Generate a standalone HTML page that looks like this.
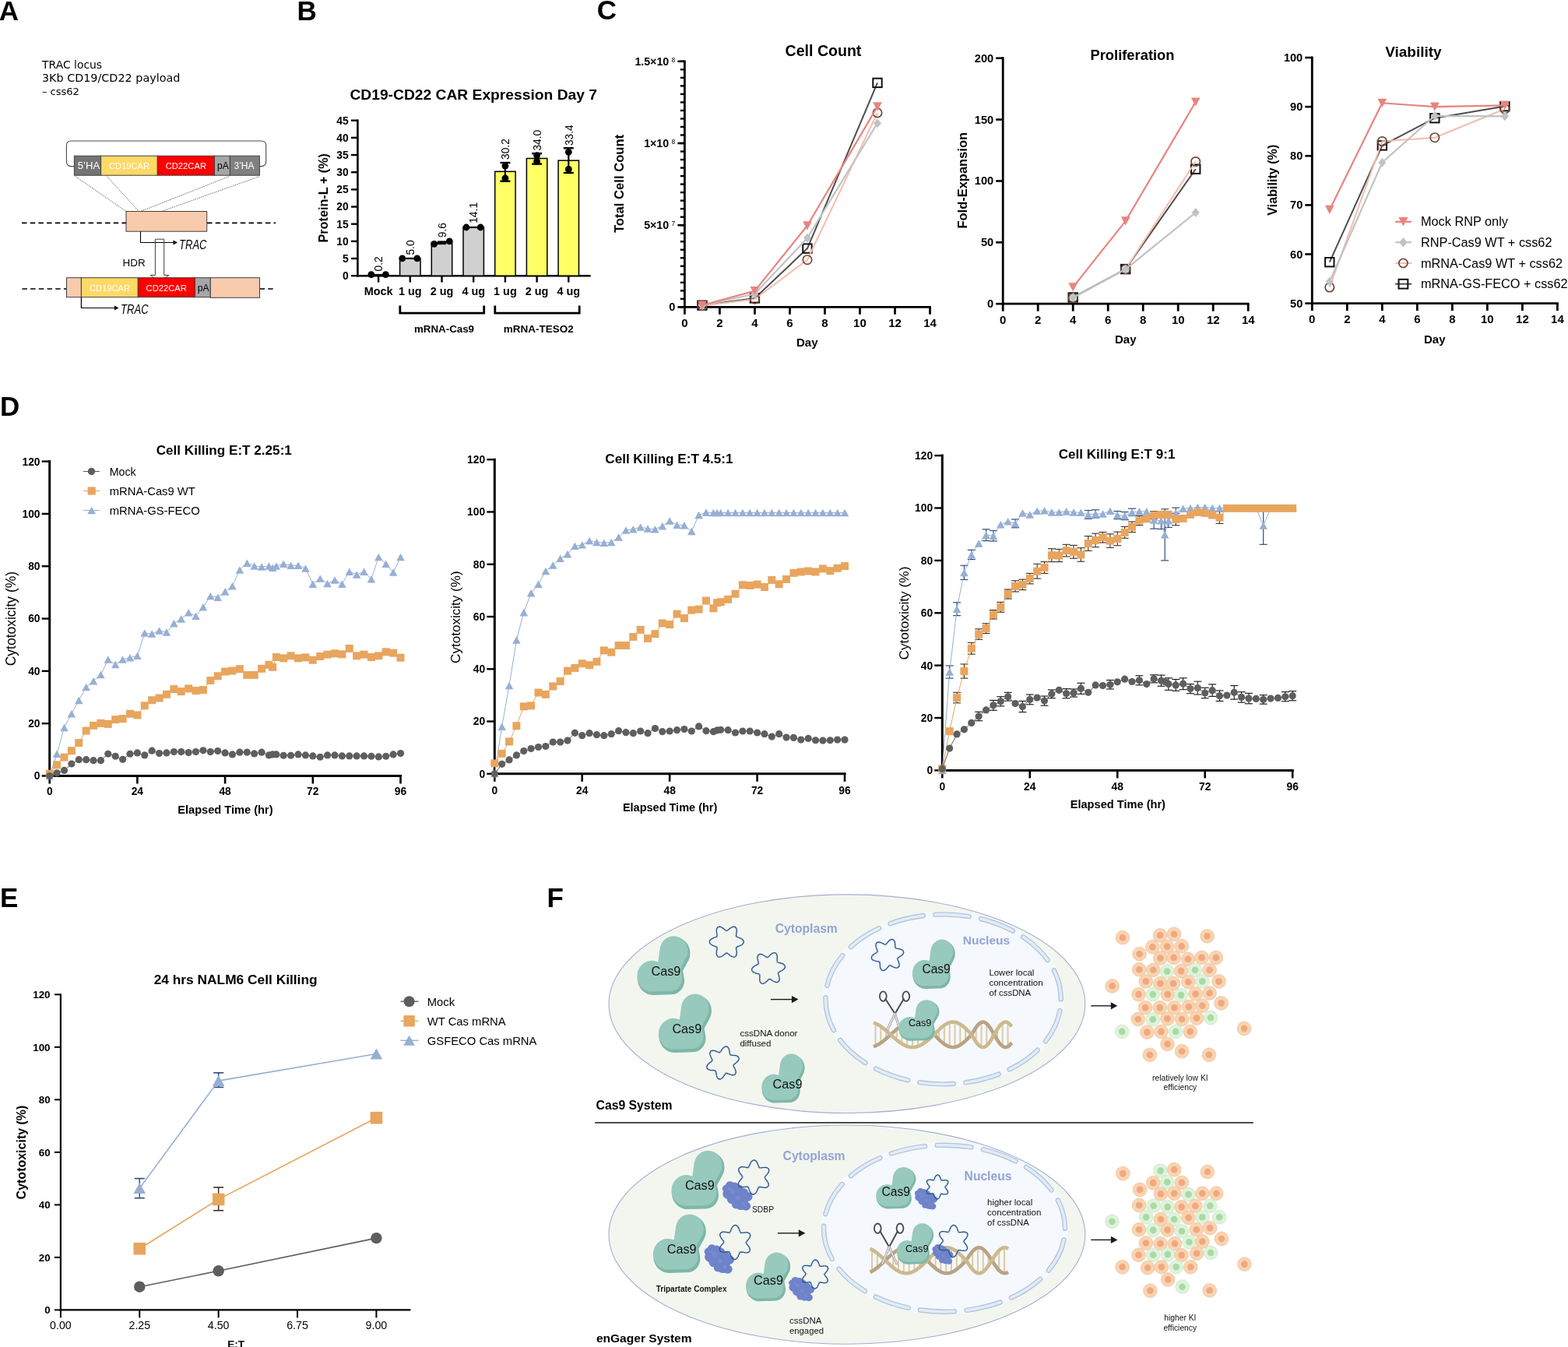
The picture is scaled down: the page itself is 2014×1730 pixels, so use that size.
<!DOCTYPE html>
<html><head><meta charset="utf-8"><title>Figure</title>
<style>html,body{margin:0;padding:0;background:#fff;} svg{display:block;}</style></head>
<body><svg width="2014" height="1730" viewBox="0 0 2014 1730" font-family="'Liberation Sans', Arial, sans-serif">
<rect x="0" y="0" width="2014" height="1730" fill="#fff"/>
<text x="-1.2" y="26.0" font-size="35.00" fill="#000" font-weight="bold" font-family="'Liberation Sans', Arial, sans-serif">A</text>
<text x="381.4" y="25.6" font-size="35.00" fill="#000" font-weight="bold" font-family="'Liberation Sans', Arial, sans-serif">B</text>
<text x="766.7" y="24.8" font-size="35.00" fill="#000" font-weight="bold" font-family="'Liberation Sans', Arial, sans-serif">C</text>
<text x="0.1" y="533.9" font-size="35.00" fill="#000" font-weight="bold" font-family="'Liberation Sans', Arial, sans-serif">D</text>
<text x="0.1" y="1164.6" font-size="35.00" fill="#000" font-weight="bold" font-family="'Liberation Sans', Arial, sans-serif">E</text>
<text x="702.5" y="1164.6" font-size="35.00" fill="#000" font-weight="bold" font-family="'Liberation Sans', Arial, sans-serif">F</text>
<text x="54.1" y="87.5" font-size="13.89" fill="#000" textLength="77.0" lengthAdjust="spacingAndGlyphs" font-family="'DejaVu Sans', 'Liberation Sans', sans-serif">TRAC locus</text>
<text x="53.9" y="104.5" font-size="14.36" fill="#000" textLength="177.5" lengthAdjust="spacingAndGlyphs" font-family="'DejaVu Sans', 'Liberation Sans', sans-serif">3Kb CD19/CD22 payload</text>
<text x="53.9" y="121.5" font-size="12.99" fill="#000" textLength="47.8" lengthAdjust="spacingAndGlyphs" font-family="'DejaVu Sans', 'Liberation Sans', sans-serif">– css62</text>
<path d="M95.4,213.6 L91.4,213.6 Q85.4,213.6 85.4,207.6 L85.4,187 Q85.4,181 91.4,181 L335.7,181 Q341.7,181 341.7,187 L341.7,207.6 Q341.7,213.6 335.7,213.6 L333.4,213.6" fill="none" stroke="#4a4a4a" stroke-width="1.1" />
<rect x="95.40" y="200.20" width="34.20" height="25.00" fill="#747474" stroke="#3f3f3f" stroke-width="1" />
<text x="99.8" y="217.2" font-size="13.09" fill="#fff" textLength="28.4" lengthAdjust="spacingAndGlyphs" font-family="'Liberation Sans', Arial, sans-serif">5’HA</text>
<rect x="129.60" y="200.20" width="72.70" height="25.00" fill="#FFD966" stroke="#3f3f3f" stroke-width="1" />
<text x="140.1" y="217.2" font-size="11.11" fill="#fff" textLength="51.9" lengthAdjust="spacingAndGlyphs" font-family="'Liberation Sans', Arial, sans-serif">CD19CAR</text>
<rect x="202.30" y="200.20" width="73.20" height="25.00" fill="#FF0000" stroke="#3f3f3f" stroke-width="1" />
<text x="212.7" y="217.2" font-size="11.20" fill="#fff" textLength="52.3" lengthAdjust="spacingAndGlyphs" font-family="'Liberation Sans', Arial, sans-serif">CD22CAR</text>
<rect x="275.50" y="200.20" width="19.90" height="25.00" fill="#A6A6A6" stroke="#3f3f3f" stroke-width="1" />
<text x="279.1" y="217.2" font-size="12.00" fill="#000" textLength="14.7" lengthAdjust="spacingAndGlyphs" font-family="'Liberation Sans', Arial, sans-serif">pA</text>
<rect x="295.40" y="200.20" width="38.00" height="25.00" fill="#808080" stroke="#3f3f3f" stroke-width="1" />
<text x="300.5" y="217.2" font-size="12.03" fill="#fff" textLength="26.1" lengthAdjust="spacingAndGlyphs" font-family="'Liberation Sans', Arial, sans-serif">3’HA</text>
<line x1="96.50" y1="226.30" x2="162.00" y2="271.50" stroke="#444" stroke-width="0.9" stroke-dasharray="1.3,1.3"/>
<line x1="137.60" y1="226.80" x2="178.50" y2="271.50" stroke="#444" stroke-width="0.9" stroke-dasharray="1.3,1.3"/>
<line x1="294.00" y1="226.80" x2="180.50" y2="271.50" stroke="#444" stroke-width="0.9" stroke-dasharray="1.3,1.3"/>
<line x1="332.70" y1="226.80" x2="207.40" y2="271.50" stroke="#444" stroke-width="0.9" stroke-dasharray="1.3,1.3"/>
<line x1="28.00" y1="286.40" x2="162.00" y2="286.40" stroke="#000" stroke-width="1.6" stroke-dasharray="6.5,4.2"/>
<line x1="266.00" y1="286.40" x2="354.00" y2="286.40" stroke="#000" stroke-width="1.6" stroke-dasharray="6.5,4.2"/>
<rect x="162.00" y="271.50" width="103.70" height="25.70" fill="#F8CBAD" stroke="#3f3f3f" stroke-width="1" />
<path d="M180.5,297.2 L180.5,311.5 L223.5,311.5" fill="none" stroke="#000" stroke-width="1.1" />
<path d="M228,311.5 L222.5,308.5 L222.5,314.5 Z" fill="#000" stroke="none" stroke-width="1" />
<text x="230.0" y="319.5" font-size="16.50" fill="#000" font-style="italic" textLength="35.5" lengthAdjust="spacingAndGlyphs" font-family="'Liberation Sans', Arial, sans-serif">TRAC</text>
<text x="157.6" y="341.5" font-size="13.49" fill="#000" textLength="29.2" lengthAdjust="spacingAndGlyphs" font-family="'Liberation Sans', Arial, sans-serif">HDR</text>
<path d="M199.4,307.2 L210.7,307.2 L210.7,353.4 L216.9,353.4 L205.1,362.5 L193.3,353.4 L199.4,353.4 Z" fill="none" stroke="#3f3f3f" stroke-width="1" />
<line x1="28.40" y1="371.00" x2="85.50" y2="371.00" stroke="#000" stroke-width="1.6" stroke-dasharray="6.5,4.2"/>
<line x1="333.50" y1="371.00" x2="354.00" y2="371.00" stroke="#000" stroke-width="1.6" stroke-dasharray="6.5,4.2"/>
<rect x="85.50" y="356.70" width="18.90" height="25.00" fill="#F8CBAD" stroke="#3f3f3f" stroke-width="1" />
<rect x="104.40" y="356.70" width="72.90" height="25.00" fill="#FFD966" stroke="#3f3f3f" stroke-width="1" />
<rect x="177.30" y="356.70" width="73.10" height="25.00" fill="#FF0000" stroke="#3f3f3f" stroke-width="1" />
<rect x="250.40" y="356.70" width="19.90" height="25.00" fill="#A6A6A6" stroke="#3f3f3f" stroke-width="1" />
<rect x="270.30" y="356.70" width="63.20" height="25.60" fill="#F8CBAD" stroke="#3f3f3f" stroke-width="1" />
<text x="114.9" y="373.6" font-size="11.20" fill="#fff" textLength="52.3" lengthAdjust="spacingAndGlyphs" font-family="'Liberation Sans', Arial, sans-serif">CD19CAR</text>
<text x="187.6" y="373.6" font-size="11.18" fill="#fff" textLength="52.2" lengthAdjust="spacingAndGlyphs" font-family="'Liberation Sans', Arial, sans-serif">CD22CAR</text>
<text x="253.8" y="373.6" font-size="12.08" fill="#000" textLength="14.8" lengthAdjust="spacingAndGlyphs" font-family="'Liberation Sans', Arial, sans-serif">pA</text>
<path d="M104.4,381.7 L104.4,395.5 L148,395.5" fill="none" stroke="#000" stroke-width="1.2" />
<path d="M152.5,395.5 L147,392.5 L147,398.5 Z" fill="#000" stroke="none" stroke-width="1" />
<text x="155.0" y="402.8" font-size="16.50" fill="#000" font-style="italic" textLength="35.7" lengthAdjust="spacingAndGlyphs" font-family="'Liberation Sans', Arial, sans-serif">TRAC</text>
<text x="449.4" y="127.9" font-size="19.24" fill="#000" font-weight="bold" textLength="317.6" lengthAdjust="spacingAndGlyphs" font-family="'Liberation Sans', Arial, sans-serif">CD19-CD22 CAR Expression Day 7</text>
<line x1="459.40" y1="153.50" x2="459.40" y2="355.40" stroke="#000" stroke-width="2.6" />
<line x1="458.20" y1="354.20" x2="758.60" y2="354.20" stroke="#000" stroke-width="2.6" />
<line x1="451.00" y1="354.20" x2="459.40" y2="354.20" stroke="#000" stroke-width="2.4" />
<text x="439.9" y="359.1" font-size="13.80" fill="#000" font-weight="bold" font-family="'Liberation Sans', Arial, sans-serif">0</text>
<line x1="451.00" y1="332.03" x2="459.40" y2="332.03" stroke="#000" stroke-width="2.4" />
<text x="439.9" y="336.9" font-size="13.80" fill="#000" font-weight="bold" font-family="'Liberation Sans', Arial, sans-serif">5</text>
<line x1="451.00" y1="309.87" x2="459.40" y2="309.87" stroke="#000" stroke-width="2.4" />
<text x="432.3" y="314.8" font-size="13.80" fill="#000" font-weight="bold" font-family="'Liberation Sans', Arial, sans-serif">10</text>
<line x1="451.00" y1="287.70" x2="459.40" y2="287.70" stroke="#000" stroke-width="2.4" />
<text x="432.3" y="292.6" font-size="13.80" fill="#000" font-weight="bold" font-family="'Liberation Sans', Arial, sans-serif">15</text>
<line x1="451.00" y1="265.53" x2="459.40" y2="265.53" stroke="#000" stroke-width="2.4" />
<text x="432.3" y="270.4" font-size="13.80" fill="#000" font-weight="bold" font-family="'Liberation Sans', Arial, sans-serif">20</text>
<line x1="451.00" y1="243.37" x2="459.40" y2="243.37" stroke="#000" stroke-width="2.4" />
<text x="432.3" y="248.3" font-size="13.80" fill="#000" font-weight="bold" font-family="'Liberation Sans', Arial, sans-serif">25</text>
<line x1="451.00" y1="221.20" x2="459.40" y2="221.20" stroke="#000" stroke-width="2.4" />
<text x="432.3" y="226.1" font-size="13.80" fill="#000" font-weight="bold" font-family="'Liberation Sans', Arial, sans-serif">30</text>
<line x1="451.00" y1="199.03" x2="459.40" y2="199.03" stroke="#000" stroke-width="2.4" />
<text x="432.3" y="203.9" font-size="13.80" fill="#000" font-weight="bold" font-family="'Liberation Sans', Arial, sans-serif">35</text>
<line x1="451.00" y1="176.87" x2="459.40" y2="176.87" stroke="#000" stroke-width="2.4" />
<text x="432.3" y="181.8" font-size="13.80" fill="#000" font-weight="bold" font-family="'Liberation Sans', Arial, sans-serif">40</text>
<line x1="451.00" y1="154.70" x2="459.40" y2="154.70" stroke="#000" stroke-width="2.4" />
<text x="432.3" y="159.6" font-size="13.80" fill="#000" font-weight="bold" font-family="'Liberation Sans', Arial, sans-serif">45</text>
<line x1="486.10" y1="354.20" x2="486.10" y2="362.60" stroke="#000" stroke-width="2.4" />
<rect x="513.60" y="332.03" width="26.40" height="22.17" fill="#D0D0D0" stroke="#000" stroke-width="1.5" />
<line x1="526.80" y1="354.20" x2="526.80" y2="362.60" stroke="#000" stroke-width="2.4" />
<rect x="554.30" y="311.64" width="26.40" height="42.56" fill="#D0D0D0" stroke="#000" stroke-width="1.5" />
<line x1="567.50" y1="354.20" x2="567.50" y2="362.60" stroke="#000" stroke-width="2.4" />
<rect x="595.00" y="291.69" width="26.40" height="62.51" fill="#D0D0D0" stroke="#000" stroke-width="1.5" />
<line x1="608.20" y1="354.20" x2="608.20" y2="362.60" stroke="#000" stroke-width="2.4" />
<rect x="635.70" y="220.31" width="26.40" height="133.89" fill="#FFFF66" stroke="#000" stroke-width="1.5" />
<line x1="648.90" y1="354.20" x2="648.90" y2="362.60" stroke="#000" stroke-width="2.4" />
<rect x="676.40" y="203.47" width="26.40" height="150.73" fill="#FFFF66" stroke="#000" stroke-width="1.5" />
<line x1="689.60" y1="354.20" x2="689.60" y2="362.60" stroke="#000" stroke-width="2.4" />
<rect x="717.10" y="206.13" width="26.40" height="148.07" fill="#FFFF66" stroke="#000" stroke-width="1.5" />
<line x1="730.30" y1="354.20" x2="730.30" y2="362.60" stroke="#000" stroke-width="2.4" />
<line x1="477.00" y1="353.00" x2="495.40" y2="353.00" stroke="#000" stroke-width="2.2" />
<circle cx="476.80" cy="352.60" r="4.40" fill="#000" stroke="none" stroke-width="1" />
<circle cx="495.40" cy="352.60" r="4.40" fill="#000" stroke="none" stroke-width="1" />
<line x1="516.70" y1="331.90" x2="535.80" y2="331.90" stroke="#000" stroke-width="2.2" />
<circle cx="516.70" cy="331.90" r="4.40" fill="#000" stroke="none" stroke-width="1" />
<circle cx="535.80" cy="331.90" r="4.40" fill="#000" stroke="none" stroke-width="1" />
<line x1="562.00" y1="310.50" x2="573.00" y2="310.50" stroke="#000" stroke-width="2.2" />
<line x1="562.00" y1="313.00" x2="573.00" y2="313.00" stroke="#000" stroke-width="2.2" />
<circle cx="557.70" cy="313.30" r="4.40" fill="#000" stroke="none" stroke-width="1" />
<circle cx="577.30" cy="309.80" r="4.40" fill="#000" stroke="none" stroke-width="1" />
<line x1="598.90" y1="292.00" x2="617.20" y2="292.00" stroke="#000" stroke-width="2.2" />
<circle cx="598.90" cy="292.00" r="4.40" fill="#000" stroke="none" stroke-width="1" />
<circle cx="617.20" cy="292.00" r="4.40" fill="#000" stroke="none" stroke-width="1" />
<line x1="648.90" y1="209.00" x2="648.90" y2="232.70" stroke="#000" stroke-width="2.2" />
<line x1="642.40" y1="209.00" x2="655.40" y2="209.00" stroke="#000" stroke-width="2.4" />
<line x1="642.40" y1="232.70" x2="655.40" y2="232.70" stroke="#000" stroke-width="2.4" />
<circle cx="648.90" cy="213.10" r="4.40" fill="#000" stroke="none" stroke-width="1" />
<circle cx="648.90" cy="228.90" r="4.40" fill="#000" stroke="none" stroke-width="1" />
<line x1="689.60" y1="197.10" x2="689.60" y2="210.60" stroke="#000" stroke-width="2.2" />
<line x1="683.10" y1="197.10" x2="696.10" y2="197.10" stroke="#000" stroke-width="2.4" />
<line x1="683.10" y1="210.60" x2="696.10" y2="210.60" stroke="#000" stroke-width="2.4" />
<circle cx="689.60" cy="199.60" r="4.40" fill="#000" stroke="none" stroke-width="1" />
<circle cx="689.60" cy="207.30" r="4.40" fill="#000" stroke="none" stroke-width="1" />
<line x1="730.30" y1="190.20" x2="730.30" y2="222.00" stroke="#000" stroke-width="2.2" />
<line x1="723.80" y1="190.20" x2="736.80" y2="190.20" stroke="#000" stroke-width="2.4" />
<line x1="723.80" y1="222.00" x2="736.80" y2="222.00" stroke="#000" stroke-width="2.4" />
<circle cx="730.30" cy="195.30" r="4.40" fill="#000" stroke="none" stroke-width="1" />
<circle cx="730.30" cy="217.40" r="4.40" fill="#000" stroke="none" stroke-width="1" />
<text x="491.3" y="348.5" font-size="13.80" fill="#000" transform="rotate(-90 491.3 348.5)" font-family="'Liberation Sans', Arial, sans-serif">0.2</text>
<text x="531.9" y="327.6" font-size="13.80" fill="#000" transform="rotate(-90 531.9 327.6)" font-family="'Liberation Sans', Arial, sans-serif">5.0</text>
<text x="573.0" y="305.2" font-size="13.80" fill="#000" transform="rotate(-90 573.0 305.2)" font-family="'Liberation Sans', Arial, sans-serif">9.6</text>
<text x="612.8" y="286.8" font-size="13.80" fill="#000" transform="rotate(-90 612.8 286.8)" font-family="'Liberation Sans', Arial, sans-serif">14.1</text>
<text x="654.2" y="204.9" font-size="13.80" fill="#000" transform="rotate(-90 654.2 204.9)" font-family="'Liberation Sans', Arial, sans-serif">30.2</text>
<text x="695.0" y="193.6" font-size="13.80" fill="#000" transform="rotate(-90 695.0 193.6)" font-family="'Liberation Sans', Arial, sans-serif">34.0</text>
<text x="735.7" y="187.1" font-size="13.80" fill="#000" transform="rotate(-90 735.7 187.1)" font-family="'Liberation Sans', Arial, sans-serif">33.4</text>
<text x="467.7" y="379.0" font-size="14.40" fill="#000" font-weight="bold" font-family="'Liberation Sans', Arial, sans-serif">Mock</text>
<text x="512.0" y="379.0" font-size="14.40" fill="#000" font-weight="bold" font-family="'Liberation Sans', Arial, sans-serif">1 ug</text>
<text x="552.7" y="379.0" font-size="14.40" fill="#000" font-weight="bold" font-family="'Liberation Sans', Arial, sans-serif">2 ug</text>
<text x="593.4" y="379.0" font-size="14.40" fill="#000" font-weight="bold" font-family="'Liberation Sans', Arial, sans-serif">4 ug</text>
<text x="634.1" y="379.0" font-size="14.40" fill="#000" font-weight="bold" font-family="'Liberation Sans', Arial, sans-serif">1 ug</text>
<text x="674.8" y="379.0" font-size="14.40" fill="#000" font-weight="bold" font-family="'Liberation Sans', Arial, sans-serif">2 ug</text>
<text x="715.5" y="379.0" font-size="14.40" fill="#000" font-weight="bold" font-family="'Liberation Sans', Arial, sans-serif">4 ug</text>
<path d="M513.8,392.4 L513.8,402.2 L621.7,402.2 L621.7,392.4" fill="none" stroke="#000" stroke-width="2.8" />
<path d="M635.8,392.4 L635.8,402.2 L744.2,402.2 L744.2,392.4" fill="none" stroke="#000" stroke-width="2.8" />
<text x="532.0" y="427.3" font-size="13.32" fill="#000" font-weight="bold" textLength="77.0" lengthAdjust="spacingAndGlyphs" font-family="'Liberation Sans', Arial, sans-serif">mRNA-Cas9</text>
<text x="646.7" y="427.3" font-size="13.49" fill="#000" font-weight="bold" textLength="90.0" lengthAdjust="spacingAndGlyphs" font-family="'Liberation Sans', Arial, sans-serif">mRNA-TESO2</text>
<text x="421.0" y="311.5" font-size="16.21" fill="#000" font-weight="bold" font-family="'Liberation Sans', Arial, sans-serif" textLength="114.5" lengthAdjust="spacingAndGlyphs" transform="rotate(-90 421.0 311.5)" >Protein-L + (%)</text>
<line x1="879.40" y1="77.40" x2="879.40" y2="395.80" stroke="#000" stroke-width="2.8" />
<line x1="878.00" y1="394.40" x2="1195.90" y2="394.40" stroke="#000" stroke-width="2.8" />
<line x1="879.40" y1="394.40" x2="879.40" y2="403.80" stroke="#000" stroke-width="2.8" />
<text x="875.2" y="419.9" font-size="15.00" fill="#000" font-weight="bold" font-family="'Liberation Sans', Arial, sans-serif">0</text>
<line x1="924.41" y1="394.40" x2="924.41" y2="403.80" stroke="#000" stroke-width="2.8" />
<text x="920.3" y="419.9" font-size="15.00" fill="#000" font-weight="bold" font-family="'Liberation Sans', Arial, sans-serif">2</text>
<line x1="969.43" y1="394.40" x2="969.43" y2="403.80" stroke="#000" stroke-width="2.8" />
<text x="965.3" y="419.9" font-size="15.00" fill="#000" font-weight="bold" font-family="'Liberation Sans', Arial, sans-serif">4</text>
<line x1="1014.44" y1="394.40" x2="1014.44" y2="403.80" stroke="#000" stroke-width="2.8" />
<text x="1010.3" y="419.9" font-size="15.00" fill="#000" font-weight="bold" font-family="'Liberation Sans', Arial, sans-serif">6</text>
<line x1="1059.46" y1="394.40" x2="1059.46" y2="403.80" stroke="#000" stroke-width="2.8" />
<text x="1055.3" y="419.9" font-size="15.00" fill="#000" font-weight="bold" font-family="'Liberation Sans', Arial, sans-serif">8</text>
<line x1="1104.47" y1="394.40" x2="1104.47" y2="403.80" stroke="#000" stroke-width="2.8" />
<text x="1096.1" y="419.9" font-size="15.00" fill="#000" font-weight="bold" font-family="'Liberation Sans', Arial, sans-serif">10</text>
<line x1="1149.49" y1="394.40" x2="1149.49" y2="403.80" stroke="#000" stroke-width="2.8" />
<text x="1141.2" y="419.9" font-size="15.00" fill="#000" font-weight="bold" font-family="'Liberation Sans', Arial, sans-serif">12</text>
<line x1="1194.50" y1="394.40" x2="1194.50" y2="403.80" stroke="#000" stroke-width="2.8" />
<text x="1186.2" y="419.9" font-size="15.00" fill="#000" font-weight="bold" font-family="'Liberation Sans', Arial, sans-serif">14</text>
<line x1="873.80" y1="394.40" x2="879.40" y2="394.40" stroke="#000" stroke-width="2.4" />
<line x1="873.80" y1="383.88" x2="879.40" y2="383.88" stroke="#000" stroke-width="2.4" />
<line x1="873.80" y1="373.36" x2="879.40" y2="373.36" stroke="#000" stroke-width="2.4" />
<line x1="873.80" y1="362.84" x2="879.40" y2="362.84" stroke="#000" stroke-width="2.4" />
<line x1="873.80" y1="352.32" x2="879.40" y2="352.32" stroke="#000" stroke-width="2.4" />
<line x1="873.80" y1="341.80" x2="879.40" y2="341.80" stroke="#000" stroke-width="2.4" />
<line x1="873.80" y1="331.28" x2="879.40" y2="331.28" stroke="#000" stroke-width="2.4" />
<line x1="873.80" y1="320.76" x2="879.40" y2="320.76" stroke="#000" stroke-width="2.4" />
<line x1="873.80" y1="310.24" x2="879.40" y2="310.24" stroke="#000" stroke-width="2.4" />
<line x1="873.80" y1="299.72" x2="879.40" y2="299.72" stroke="#000" stroke-width="2.4" />
<line x1="873.80" y1="289.20" x2="879.40" y2="289.20" stroke="#000" stroke-width="2.4" />
<line x1="873.80" y1="278.68" x2="879.40" y2="278.68" stroke="#000" stroke-width="2.4" />
<line x1="873.80" y1="268.16" x2="879.40" y2="268.16" stroke="#000" stroke-width="2.4" />
<line x1="873.80" y1="257.64" x2="879.40" y2="257.64" stroke="#000" stroke-width="2.4" />
<line x1="873.80" y1="247.12" x2="879.40" y2="247.12" stroke="#000" stroke-width="2.4" />
<line x1="873.80" y1="236.60" x2="879.40" y2="236.60" stroke="#000" stroke-width="2.4" />
<line x1="873.80" y1="226.08" x2="879.40" y2="226.08" stroke="#000" stroke-width="2.4" />
<line x1="873.80" y1="215.56" x2="879.40" y2="215.56" stroke="#000" stroke-width="2.4" />
<line x1="873.80" y1="205.04" x2="879.40" y2="205.04" stroke="#000" stroke-width="2.4" />
<line x1="873.80" y1="194.52" x2="879.40" y2="194.52" stroke="#000" stroke-width="2.4" />
<line x1="873.80" y1="184.00" x2="879.40" y2="184.00" stroke="#000" stroke-width="2.4" />
<line x1="873.80" y1="173.48" x2="879.40" y2="173.48" stroke="#000" stroke-width="2.4" />
<line x1="873.80" y1="162.96" x2="879.40" y2="162.96" stroke="#000" stroke-width="2.4" />
<line x1="873.80" y1="152.44" x2="879.40" y2="152.44" stroke="#000" stroke-width="2.4" />
<line x1="873.80" y1="141.92" x2="879.40" y2="141.92" stroke="#000" stroke-width="2.4" />
<line x1="873.80" y1="131.40" x2="879.40" y2="131.40" stroke="#000" stroke-width="2.4" />
<line x1="873.80" y1="120.88" x2="879.40" y2="120.88" stroke="#000" stroke-width="2.4" />
<line x1="873.80" y1="110.36" x2="879.40" y2="110.36" stroke="#000" stroke-width="2.4" />
<line x1="873.80" y1="99.84" x2="879.40" y2="99.84" stroke="#000" stroke-width="2.4" />
<line x1="873.80" y1="89.32" x2="879.40" y2="89.32" stroke="#000" stroke-width="2.4" />
<line x1="873.80" y1="78.80" x2="879.40" y2="78.80" stroke="#000" stroke-width="2.4" />
<line x1="870.40" y1="394.40" x2="879.40" y2="394.40" stroke="#000" stroke-width="2.6" />
<text x="859.3" y="399.4" font-size="14.60" fill="#000" font-weight="bold" font-family="'Liberation Sans', Arial, sans-serif">0</text>
<line x1="870.40" y1="289.20" x2="879.40" y2="289.20" stroke="#000" stroke-width="2.6" />
<line x1="870.40" y1="184.00" x2="879.40" y2="184.00" stroke="#000" stroke-width="2.6" />
<line x1="870.40" y1="78.80" x2="879.40" y2="78.80" stroke="#000" stroke-width="2.6" />
<text x="815.4" y="83.8" font-size="14.20" fill="#000" font-weight="bold" font-family="'Liberation Sans', Arial, sans-serif">1.5×10</text>
<text x="862.6" y="79.7" font-size="8.60" fill="#000" font-family="'Liberation Sans', Arial, sans-serif">8</text>
<text x="827.2" y="189.0" font-size="14.20" fill="#000" font-weight="bold" font-family="'Liberation Sans', Arial, sans-serif">1×10</text>
<text x="862.6" y="184.9" font-size="8.60" fill="#000" font-family="'Liberation Sans', Arial, sans-serif">8</text>
<text x="827.2" y="294.2" font-size="14.20" fill="#000" font-weight="bold" font-family="'Liberation Sans', Arial, sans-serif">5×10</text>
<text x="862.6" y="290.1" font-size="8.60" fill="#000" font-family="'Liberation Sans', Arial, sans-serif">7</text>
<text x="1008.6" y="71.8" font-size="19.56" fill="#000" font-weight="bold" textLength="97.8" lengthAdjust="spacingAndGlyphs" font-family="'Liberation Sans', Arial, sans-serif">Cell Count</text>
<text x="801.5" y="299.1" font-size="16.64" fill="#000" font-weight="bold" font-family="'Liberation Sans', Arial, sans-serif" textLength="126.3" lengthAdjust="spacingAndGlyphs" transform="rotate(-90 801.5 299.1)" >Total Cell Count</text>
<text x="1023.0" y="445.4" font-size="14.99" fill="#000" font-weight="bold" textLength="27.5" lengthAdjust="spacingAndGlyphs" font-family="'Liberation Sans', Arial, sans-serif">Day</text>
<polyline points="901.91,392.20 969.43,382.90 1036.95,319.10 1126.98,106.40" fill="none" stroke="#4d4d4d" stroke-width="2.0" stroke-linejoin="round" />
<rect x="896.21" y="386.50" width="11.40" height="11.40" fill="none" stroke="#111" stroke-width="2.0" />
<rect x="963.73" y="377.20" width="11.40" height="11.40" fill="none" stroke="#111" stroke-width="2.0" />
<rect x="1031.25" y="313.40" width="11.40" height="11.40" fill="none" stroke="#111" stroke-width="2.0" />
<rect x="1121.28" y="100.70" width="11.40" height="11.40" fill="none" stroke="#111" stroke-width="2.0" />
<polyline points="901.91,392.80 969.43,384.20 1036.95,333.70 1126.98,144.90" fill="none" stroke="#F5BDAB" stroke-width="2.0" stroke-linejoin="round" />
<circle cx="901.91" cy="392.80" r="5.70" fill="none" stroke="#70493A" stroke-width="1.7" />
<circle cx="969.43" cy="384.20" r="5.70" fill="none" stroke="#70493A" stroke-width="1.7" />
<circle cx="1036.95" cy="333.70" r="5.70" fill="none" stroke="#70493A" stroke-width="1.7" />
<circle cx="1126.98" cy="144.90" r="5.70" fill="none" stroke="#70493A" stroke-width="1.7" />
<polyline points="901.91,392.40 969.43,377.50 1036.95,305.80 1126.98,158.20" fill="none" stroke="#BFC3C6" stroke-width="2.2" stroke-linejoin="round" />
<path d="M901.91,386.40 L906.95,392.40 L901.91,398.40 L896.87,392.40 Z" fill="#BFC3C6" stroke="none" stroke-width="1" />
<path d="M969.43,371.50 L974.47,377.50 L969.43,383.50 L964.39,377.50 Z" fill="#BFC3C6" stroke="none" stroke-width="1" />
<path d="M1036.95,299.80 L1041.99,305.80 L1036.95,311.80 L1031.91,305.80 Z" fill="#BFC3C6" stroke="none" stroke-width="1" />
<path d="M1126.98,152.20 L1132.02,158.20 L1126.98,164.20 L1121.94,158.20 Z" fill="#BFC3C6" stroke="none" stroke-width="1" />
<polyline points="901.91,392.00 969.43,373.60 1036.95,289.80 1126.98,136.90" fill="none" stroke="#E8847E" stroke-width="2.2" stroke-linejoin="round" />
<path d="M896.01,386.39 L907.81,386.39 L901.91,397.61 Z" fill="#E8847E" stroke="none" stroke-width="1" />
<path d="M963.53,368.00 L975.33,368.00 L969.43,379.21 Z" fill="#E8847E" stroke="none" stroke-width="1" />
<path d="M1031.05,284.19 L1042.85,284.19 L1036.95,295.41 Z" fill="#E8847E" stroke="none" stroke-width="1" />
<path d="M1121.08,131.30 L1132.88,131.30 L1126.98,142.50 Z" fill="#E8847E" stroke="none" stroke-width="1" />
<line x1="1288.20" y1="73.30" x2="1288.20" y2="391.60" stroke="#000" stroke-width="2.8" />
<line x1="1286.80" y1="390.20" x2="1604.60" y2="390.20" stroke="#000" stroke-width="2.8" />
<line x1="1288.20" y1="390.20" x2="1288.20" y2="399.70" stroke="#000" stroke-width="2.8" />
<text x="1284.0" y="415.6" font-size="15.00" fill="#000" font-weight="bold" font-family="'Liberation Sans', Arial, sans-serif">0</text>
<line x1="1333.20" y1="390.20" x2="1333.20" y2="399.70" stroke="#000" stroke-width="2.8" />
<text x="1329.0" y="415.6" font-size="15.00" fill="#000" font-weight="bold" font-family="'Liberation Sans', Arial, sans-serif">2</text>
<line x1="1378.20" y1="390.20" x2="1378.20" y2="399.70" stroke="#000" stroke-width="2.8" />
<text x="1374.0" y="415.6" font-size="15.00" fill="#000" font-weight="bold" font-family="'Liberation Sans', Arial, sans-serif">4</text>
<line x1="1423.20" y1="390.20" x2="1423.20" y2="399.70" stroke="#000" stroke-width="2.8" />
<text x="1419.0" y="415.6" font-size="15.00" fill="#000" font-weight="bold" font-family="'Liberation Sans', Arial, sans-serif">6</text>
<line x1="1468.20" y1="390.20" x2="1468.20" y2="399.70" stroke="#000" stroke-width="2.8" />
<text x="1464.0" y="415.6" font-size="15.00" fill="#000" font-weight="bold" font-family="'Liberation Sans', Arial, sans-serif">8</text>
<line x1="1513.20" y1="390.20" x2="1513.20" y2="399.70" stroke="#000" stroke-width="2.8" />
<text x="1504.9" y="415.6" font-size="15.00" fill="#000" font-weight="bold" font-family="'Liberation Sans', Arial, sans-serif">10</text>
<line x1="1558.20" y1="390.20" x2="1558.20" y2="399.70" stroke="#000" stroke-width="2.8" />
<text x="1549.9" y="415.6" font-size="15.00" fill="#000" font-weight="bold" font-family="'Liberation Sans', Arial, sans-serif">12</text>
<line x1="1603.20" y1="390.20" x2="1603.20" y2="399.70" stroke="#000" stroke-width="2.8" />
<text x="1594.9" y="415.6" font-size="15.00" fill="#000" font-weight="bold" font-family="'Liberation Sans', Arial, sans-serif">14</text>
<line x1="1279.20" y1="390.20" x2="1288.20" y2="390.20" stroke="#000" stroke-width="2.6" />
<text x="1268.1" y="395.2" font-size="14.60" fill="#000" font-weight="bold" font-family="'Liberation Sans', Arial, sans-serif">0</text>
<line x1="1279.20" y1="311.32" x2="1288.20" y2="311.32" stroke="#000" stroke-width="2.6" />
<text x="1260.0" y="316.3" font-size="14.60" fill="#000" font-weight="bold" font-family="'Liberation Sans', Arial, sans-serif">50</text>
<line x1="1279.20" y1="232.45" x2="1288.20" y2="232.45" stroke="#000" stroke-width="2.6" />
<text x="1251.8" y="237.4" font-size="14.60" fill="#000" font-weight="bold" font-family="'Liberation Sans', Arial, sans-serif">100</text>
<line x1="1279.20" y1="153.57" x2="1288.20" y2="153.57" stroke="#000" stroke-width="2.6" />
<text x="1251.8" y="158.6" font-size="14.60" fill="#000" font-weight="bold" font-family="'Liberation Sans', Arial, sans-serif">150</text>
<line x1="1279.20" y1="74.70" x2="1288.20" y2="74.70" stroke="#000" stroke-width="2.6" />
<text x="1251.8" y="79.7" font-size="14.60" fill="#000" font-weight="bold" font-family="'Liberation Sans', Arial, sans-serif">200</text>
<text x="1400.5" y="76.9" font-size="18.34" fill="#000" font-weight="bold" textLength="108.0" lengthAdjust="spacingAndGlyphs" font-family="'Liberation Sans', Arial, sans-serif">Proliferation</text>
<text x="1242.5" y="293.6" font-size="16.49" fill="#000" font-weight="bold" font-family="'Liberation Sans', Arial, sans-serif" textLength="123.7" lengthAdjust="spacingAndGlyphs" transform="rotate(-90 1242.5 293.6)" >Fold-Expansion</text>
<text x="1432.0" y="440.5" font-size="14.99" fill="#000" font-weight="bold" textLength="27.5" lengthAdjust="spacingAndGlyphs" font-family="'Liberation Sans', Arial, sans-serif">Day</text>
<polyline points="1378.20,382.00 1445.70,345.60 1535.70,217.20" fill="none" stroke="#4d4d4d" stroke-width="2.0" stroke-linejoin="round" />
<rect x="1372.50" y="376.30" width="11.40" height="11.40" fill="none" stroke="#111" stroke-width="2.0" />
<rect x="1440.00" y="339.90" width="11.40" height="11.40" fill="none" stroke="#111" stroke-width="2.0" />
<rect x="1530.00" y="211.50" width="11.40" height="11.40" fill="none" stroke="#111" stroke-width="2.0" />
<polyline points="1378.20,382.60 1445.70,345.80 1535.70,207.50" fill="none" stroke="#F5BDAB" stroke-width="2.0" stroke-linejoin="round" />
<circle cx="1378.20" cy="382.60" r="5.70" fill="none" stroke="#70493A" stroke-width="1.7" />
<circle cx="1445.70" cy="345.80" r="5.70" fill="none" stroke="#70493A" stroke-width="1.7" />
<circle cx="1535.70" cy="207.50" r="5.70" fill="none" stroke="#70493A" stroke-width="1.7" />
<polyline points="1378.20,382.20 1445.70,345.80 1535.70,273.00" fill="none" stroke="#BFC3C6" stroke-width="2.2" stroke-linejoin="round" />
<path d="M1378.20,376.20 L1383.24,382.20 L1378.20,388.20 L1373.16,382.20 Z" fill="#BFC3C6" stroke="none" stroke-width="1" />
<path d="M1445.70,339.80 L1450.74,345.80 L1445.70,351.80 L1440.66,345.80 Z" fill="#BFC3C6" stroke="none" stroke-width="1" />
<path d="M1535.70,267.00 L1540.74,273.00 L1535.70,279.00 L1530.66,273.00 Z" fill="#BFC3C6" stroke="none" stroke-width="1" />
<polyline points="1378.20,368.90 1445.70,283.90 1535.70,131.00" fill="none" stroke="#E8847E" stroke-width="2.2" stroke-linejoin="round" />
<path d="M1372.30,363.29 L1384.10,363.29 L1378.20,374.50 Z" fill="#E8847E" stroke="none" stroke-width="1" />
<path d="M1439.80,278.29 L1451.60,278.29 L1445.70,289.50 Z" fill="#E8847E" stroke="none" stroke-width="1" />
<path d="M1529.80,125.39 L1541.60,125.39 L1535.70,136.60 Z" fill="#E8847E" stroke="none" stroke-width="1" />
<line x1="1685.30" y1="72.60" x2="1685.30" y2="391.00" stroke="#000" stroke-width="2.8" />
<line x1="1683.90" y1="389.60" x2="2001.80" y2="389.60" stroke="#000" stroke-width="2.8" />
<line x1="1685.30" y1="389.60" x2="1685.30" y2="399.10" stroke="#000" stroke-width="2.8" />
<text x="1681.1" y="415.0" font-size="15.00" fill="#000" font-weight="bold" font-family="'Liberation Sans', Arial, sans-serif">0</text>
<line x1="1730.31" y1="389.60" x2="1730.31" y2="399.10" stroke="#000" stroke-width="2.8" />
<text x="1726.2" y="415.0" font-size="15.00" fill="#000" font-weight="bold" font-family="'Liberation Sans', Arial, sans-serif">2</text>
<line x1="1775.33" y1="389.60" x2="1775.33" y2="399.10" stroke="#000" stroke-width="2.8" />
<text x="1771.2" y="415.0" font-size="15.00" fill="#000" font-weight="bold" font-family="'Liberation Sans', Arial, sans-serif">4</text>
<line x1="1820.34" y1="389.60" x2="1820.34" y2="399.10" stroke="#000" stroke-width="2.8" />
<text x="1816.2" y="415.0" font-size="15.00" fill="#000" font-weight="bold" font-family="'Liberation Sans', Arial, sans-serif">6</text>
<line x1="1865.36" y1="389.60" x2="1865.36" y2="399.10" stroke="#000" stroke-width="2.8" />
<text x="1861.2" y="415.0" font-size="15.00" fill="#000" font-weight="bold" font-family="'Liberation Sans', Arial, sans-serif">8</text>
<line x1="1910.37" y1="389.60" x2="1910.37" y2="399.10" stroke="#000" stroke-width="2.8" />
<text x="1902.0" y="415.0" font-size="15.00" fill="#000" font-weight="bold" font-family="'Liberation Sans', Arial, sans-serif">10</text>
<line x1="1955.39" y1="389.60" x2="1955.39" y2="399.10" stroke="#000" stroke-width="2.8" />
<text x="1947.1" y="415.0" font-size="15.00" fill="#000" font-weight="bold" font-family="'Liberation Sans', Arial, sans-serif">12</text>
<line x1="2000.40" y1="389.60" x2="2000.40" y2="399.10" stroke="#000" stroke-width="2.8" />
<text x="1992.1" y="415.0" font-size="15.00" fill="#000" font-weight="bold" font-family="'Liberation Sans', Arial, sans-serif">14</text>
<line x1="1676.30" y1="389.60" x2="1685.30" y2="389.60" stroke="#000" stroke-width="2.6" />
<text x="1657.1" y="394.6" font-size="14.60" fill="#000" font-weight="bold" font-family="'Liberation Sans', Arial, sans-serif">50</text>
<line x1="1676.30" y1="326.48" x2="1685.30" y2="326.48" stroke="#000" stroke-width="2.6" />
<text x="1657.1" y="331.5" font-size="14.60" fill="#000" font-weight="bold" font-family="'Liberation Sans', Arial, sans-serif">60</text>
<line x1="1676.30" y1="263.36" x2="1685.30" y2="263.36" stroke="#000" stroke-width="2.6" />
<text x="1657.1" y="268.4" font-size="14.60" fill="#000" font-weight="bold" font-family="'Liberation Sans', Arial, sans-serif">70</text>
<line x1="1676.30" y1="200.24" x2="1685.30" y2="200.24" stroke="#000" stroke-width="2.6" />
<text x="1657.1" y="205.2" font-size="14.60" fill="#000" font-weight="bold" font-family="'Liberation Sans', Arial, sans-serif">80</text>
<line x1="1676.30" y1="137.12" x2="1685.30" y2="137.12" stroke="#000" stroke-width="2.6" />
<text x="1657.1" y="142.1" font-size="14.60" fill="#000" font-weight="bold" font-family="'Liberation Sans', Arial, sans-serif">90</text>
<line x1="1676.30" y1="74.00" x2="1685.30" y2="74.00" stroke="#000" stroke-width="2.6" />
<text x="1648.9" y="79.0" font-size="14.60" fill="#000" font-weight="bold" font-family="'Liberation Sans', Arial, sans-serif">100</text>
<text x="1779.2" y="72.8" font-size="18.98" fill="#000" font-weight="bold" textLength="72.4" lengthAdjust="spacingAndGlyphs" font-family="'Liberation Sans', Arial, sans-serif">Viability</text>
<text x="1640.0" y="276.7" font-size="16.11" fill="#000" font-weight="bold" font-family="'Liberation Sans', Arial, sans-serif" textLength="91.0" lengthAdjust="spacingAndGlyphs" transform="rotate(-90 1640.0 276.7)" >Viability (%)</text>
<text x="1829.0" y="440.6" font-size="14.99" fill="#000" font-weight="bold" textLength="27.5" lengthAdjust="spacingAndGlyphs" font-family="'Liberation Sans', Arial, sans-serif">Day</text>
<polyline points="1707.81,336.70 1775.33,186.90 1842.85,151.70 1932.88,136.60" fill="none" stroke="#4d4d4d" stroke-width="2.0" stroke-linejoin="round" />
<rect x="1702.11" y="331.00" width="11.40" height="11.40" fill="none" stroke="#111" stroke-width="2.0" />
<rect x="1769.63" y="181.20" width="11.40" height="11.40" fill="none" stroke="#111" stroke-width="2.0" />
<rect x="1837.15" y="146.00" width="11.40" height="11.40" fill="none" stroke="#111" stroke-width="2.0" />
<rect x="1927.18" y="130.90" width="11.40" height="11.40" fill="none" stroke="#111" stroke-width="2.0" />
<polyline points="1707.81,369.00 1775.33,181.50 1842.85,176.70 1932.88,140.00" fill="none" stroke="#F5BDAB" stroke-width="2.0" stroke-linejoin="round" />
<circle cx="1707.81" cy="369.00" r="5.70" fill="none" stroke="#70493A" stroke-width="1.7" />
<circle cx="1775.33" cy="181.50" r="5.70" fill="none" stroke="#70493A" stroke-width="1.7" />
<circle cx="1842.85" cy="176.70" r="5.70" fill="none" stroke="#70493A" stroke-width="1.7" />
<circle cx="1932.88" cy="140.00" r="5.70" fill="none" stroke="#70493A" stroke-width="1.7" />
<polyline points="1707.81,361.70 1775.33,208.70 1842.85,148.80 1932.88,149.30" fill="none" stroke="#BFC3C6" stroke-width="2.2" stroke-linejoin="round" />
<path d="M1707.81,355.70 L1712.85,361.70 L1707.81,367.70 L1702.77,361.70 Z" fill="#BFC3C6" stroke="none" stroke-width="1" />
<path d="M1775.33,202.70 L1780.37,208.70 L1775.33,214.70 L1770.29,208.70 Z" fill="#BFC3C6" stroke="none" stroke-width="1" />
<path d="M1842.85,142.80 L1847.89,148.80 L1842.85,154.80 L1837.81,148.80 Z" fill="#BFC3C6" stroke="none" stroke-width="1" />
<path d="M1932.88,143.30 L1937.92,149.30 L1932.88,155.30 L1927.84,149.30 Z" fill="#BFC3C6" stroke="none" stroke-width="1" />
<polyline points="1707.81,269.40 1775.33,132.30 1842.85,137.10 1932.88,135.40" fill="none" stroke="#E8847E" stroke-width="2.2" stroke-linejoin="round" />
<path d="M1701.91,263.79 L1713.71,263.79 L1707.81,275.00 Z" fill="#E8847E" stroke="none" stroke-width="1" />
<path d="M1769.43,126.70 L1781.23,126.70 L1775.33,137.91 Z" fill="#E8847E" stroke="none" stroke-width="1" />
<path d="M1836.95,131.50 L1848.75,131.50 L1842.85,142.70 Z" fill="#E8847E" stroke="none" stroke-width="1" />
<path d="M1926.98,129.80 L1938.78,129.80 L1932.88,141.00 Z" fill="#E8847E" stroke="none" stroke-width="1" />
<line x1="1792.20" y1="284.80" x2="1813.10" y2="284.80" stroke="#E8847E" stroke-width="2.2" />
<path d="M1796.30,279.00 L1808.50,279.00 L1802.40,290.60 Z" fill="#E8847E" stroke="none" stroke-width="1" />
<line x1="1792.20" y1="311.20" x2="1813.10" y2="311.20" stroke="#BFC3C6" stroke-width="2.2" />
<path d="M1802.40,304.90 L1807.69,311.20 L1802.40,317.50 L1797.11,311.20 Z" fill="#BFC3C6" stroke="none" stroke-width="1" />
<line x1="1792.20" y1="338.00" x2="1813.10" y2="338.00" stroke="#F5BDAB" stroke-width="2.0" />
<circle cx="1802.40" cy="338.00" r="5.60" fill="none" stroke="#70493A" stroke-width="1.8" />
<line x1="1792.20" y1="364.70" x2="1813.10" y2="364.70" stroke="#4d4d4d" stroke-width="2.0" />
<rect x="1796.50" y="358.80" width="11.80" height="11.80" fill="none" stroke="#111" stroke-width="2.0" />
<text x="1825.0" y="290.4" font-size="16.30" fill="#000" font-family="'Liberation Sans', Arial, sans-serif">Mock RNP only</text>
<text x="1825.0" y="316.8" font-size="16.30" fill="#000" font-family="'Liberation Sans', Arial, sans-serif">RNP-Cas9 WT + css62</text>
<text x="1825.0" y="343.6" font-size="16.30" fill="#000" font-family="'Liberation Sans', Arial, sans-serif">mRNA-Cas9 WT + css62</text>
<text x="1825.0" y="370.3" font-size="16.30" fill="#000" font-family="'Liberation Sans', Arial, sans-serif">mRNA-GS-FECO + css62</text>
<line x1="63.70" y1="591.10" x2="63.70" y2="998.00" stroke="#000" stroke-width="3.0" />
<line x1="62.20" y1="996.50" x2="516.00" y2="996.50" stroke="#000" stroke-width="3.0" />
<line x1="53.70" y1="996.50" x2="63.70" y2="996.50" stroke="#000" stroke-width="2.4" />
<text x="43.8" y="1001.4" font-size="13.80" fill="#000" font-weight="bold" font-family="'Liberation Sans', Arial, sans-serif">0</text>
<line x1="53.70" y1="929.18" x2="63.70" y2="929.18" stroke="#000" stroke-width="2.4" />
<text x="36.2" y="934.1" font-size="13.80" fill="#000" font-weight="bold" font-family="'Liberation Sans', Arial, sans-serif">20</text>
<line x1="53.70" y1="861.87" x2="63.70" y2="861.87" stroke="#000" stroke-width="2.4" />
<text x="36.2" y="866.8" font-size="13.80" fill="#000" font-weight="bold" font-family="'Liberation Sans', Arial, sans-serif">40</text>
<line x1="53.70" y1="794.55" x2="63.70" y2="794.55" stroke="#000" stroke-width="2.4" />
<text x="36.2" y="799.4" font-size="13.80" fill="#000" font-weight="bold" font-family="'Liberation Sans', Arial, sans-serif">60</text>
<line x1="53.70" y1="727.23" x2="63.70" y2="727.23" stroke="#000" stroke-width="2.4" />
<text x="36.2" y="732.1" font-size="13.80" fill="#000" font-weight="bold" font-family="'Liberation Sans', Arial, sans-serif">80</text>
<line x1="53.70" y1="659.92" x2="63.70" y2="659.92" stroke="#000" stroke-width="2.4" />
<text x="28.5" y="664.8" font-size="13.80" fill="#000" font-weight="bold" font-family="'Liberation Sans', Arial, sans-serif">100</text>
<line x1="53.70" y1="592.60" x2="63.70" y2="592.60" stroke="#000" stroke-width="2.4" />
<text x="28.5" y="597.5" font-size="13.80" fill="#000" font-weight="bold" font-family="'Liberation Sans', Arial, sans-serif">120</text>
<line x1="63.70" y1="996.50" x2="63.70" y2="1006.50" stroke="#000" stroke-width="2.6" />
<text x="59.9" y="1021.2" font-size="13.80" fill="#000" font-weight="bold" font-family="'Liberation Sans', Arial, sans-serif">0</text>
<line x1="176.40" y1="996.50" x2="176.40" y2="1006.50" stroke="#000" stroke-width="2.6" />
<text x="168.7" y="1021.2" font-size="13.80" fill="#000" font-weight="bold" font-family="'Liberation Sans', Arial, sans-serif">24</text>
<line x1="289.10" y1="996.50" x2="289.10" y2="1006.50" stroke="#000" stroke-width="2.6" />
<text x="281.4" y="1021.2" font-size="13.80" fill="#000" font-weight="bold" font-family="'Liberation Sans', Arial, sans-serif">48</text>
<line x1="401.80" y1="996.50" x2="401.80" y2="1006.50" stroke="#000" stroke-width="2.6" />
<text x="394.1" y="1021.2" font-size="13.80" fill="#000" font-weight="bold" font-family="'Liberation Sans', Arial, sans-serif">72</text>
<line x1="514.50" y1="996.50" x2="514.50" y2="1006.50" stroke="#000" stroke-width="2.6" />
<text x="506.8" y="1021.2" font-size="13.80" fill="#000" font-weight="bold" font-family="'Liberation Sans', Arial, sans-serif">96</text>
<text x="200.7" y="584.2" font-size="17.13" fill="#000" font-weight="bold" textLength="174.2" lengthAdjust="spacingAndGlyphs" font-family="'Liberation Sans', Arial, sans-serif">Cell Killing E:T 2.25:1</text>
<text x="228.2" y="1044.8" font-size="14.61" fill="#000" font-weight="bold" textLength="122.4" lengthAdjust="spacingAndGlyphs" font-family="'Liberation Sans', Arial, sans-serif">Elapsed Time (hr)</text>
<text x="19.9" y="855.3" font-size="17.48" fill="#000" font-family="'Liberation Sans', Arial, sans-serif" textLength="121.4" lengthAdjust="spacingAndGlyphs" transform="rotate(-90 19.9 855.3)" >Cytotoxicity (%)</text>
<polyline points="63.70,996.50 73.09,968.23 82.48,934.57 91.88,916.73 101.27,899.56 110.66,882.40 120.05,874.66 129.44,866.58 138.83,847.06 148.23,853.45 157.62,847.06 167.01,844.70 176.40,842.34 185.79,813.06 195.18,814.07 204.57,810.03 213.97,812.05 223.36,800.61 232.75,794.89 242.14,786.81 251.53,791.18 260.93,779.74 270.32,765.60 279.71,767.29 289.10,759.88 298.49,752.81 307.88,731.95 317.28,723.19 326.67,726.90 336.06,727.91 345.45,726.90 350.15,729.25 354.84,726.90 364.23,724.20 373.62,726.22 383.02,726.22 392.41,729.93 401.80,750.12 411.19,743.05 420.58,749.45 429.98,745.07 439.37,750.12 448.76,734.30 458.15,738.00 467.54,734.30 476.93,743.73 486.33,715.45 495.72,724.20 505.11,734.97 514.50,715.45" fill="none" stroke="#97AFD4" stroke-width="1.0" stroke-linejoin="round" />
<path d="M63.70,991.73 L69.00,1001.27 L58.40,1001.27 Z" fill="#97AFD4" stroke="none" stroke-width="1" />
<path d="M73.09,963.46 L78.39,973.00 L67.79,973.00 Z" fill="#97AFD4" stroke="none" stroke-width="1" />
<path d="M82.48,929.80 L87.78,939.34 L77.18,939.34 Z" fill="#97AFD4" stroke="none" stroke-width="1" />
<path d="M91.88,911.96 L97.17,921.50 L86.58,921.50 Z" fill="#97AFD4" stroke="none" stroke-width="1" />
<path d="M101.27,894.79 L106.57,904.33 L95.97,904.33 Z" fill="#97AFD4" stroke="none" stroke-width="1" />
<path d="M110.66,877.63 L115.96,887.17 L105.36,887.17 Z" fill="#97AFD4" stroke="none" stroke-width="1" />
<path d="M120.05,869.89 L125.35,879.43 L114.75,879.43 Z" fill="#97AFD4" stroke="none" stroke-width="1" />
<path d="M129.44,861.81 L134.74,871.35 L124.14,871.35 Z" fill="#97AFD4" stroke="none" stroke-width="1" />
<path d="M138.83,842.29 L144.13,851.83 L133.53,851.83 Z" fill="#97AFD4" stroke="none" stroke-width="1" />
<path d="M148.23,848.68 L153.53,858.22 L142.93,858.22 Z" fill="#97AFD4" stroke="none" stroke-width="1" />
<path d="M157.62,842.29 L162.92,851.83 L152.32,851.83 Z" fill="#97AFD4" stroke="none" stroke-width="1" />
<path d="M167.01,839.93 L172.31,849.47 L161.71,849.47 Z" fill="#97AFD4" stroke="none" stroke-width="1" />
<path d="M176.40,837.57 L181.70,847.11 L171.10,847.11 Z" fill="#97AFD4" stroke="none" stroke-width="1" />
<path d="M185.79,808.29 L191.09,817.83 L180.49,817.83 Z" fill="#97AFD4" stroke="none" stroke-width="1" />
<path d="M195.18,809.30 L200.48,818.84 L189.88,818.84 Z" fill="#97AFD4" stroke="none" stroke-width="1" />
<path d="M204.57,805.26 L209.88,814.80 L199.27,814.80 Z" fill="#97AFD4" stroke="none" stroke-width="1" />
<path d="M213.97,807.28 L219.27,816.82 L208.67,816.82 Z" fill="#97AFD4" stroke="none" stroke-width="1" />
<path d="M223.36,795.84 L228.66,805.38 L218.06,805.38 Z" fill="#97AFD4" stroke="none" stroke-width="1" />
<path d="M232.75,790.12 L238.05,799.66 L227.45,799.66 Z" fill="#97AFD4" stroke="none" stroke-width="1" />
<path d="M242.14,782.04 L247.44,791.58 L236.84,791.58 Z" fill="#97AFD4" stroke="none" stroke-width="1" />
<path d="M251.53,786.41 L256.83,795.95 L246.23,795.95 Z" fill="#97AFD4" stroke="none" stroke-width="1" />
<path d="M260.93,774.97 L266.23,784.51 L255.62,784.51 Z" fill="#97AFD4" stroke="none" stroke-width="1" />
<path d="M270.32,760.83 L275.62,770.37 L265.02,770.37 Z" fill="#97AFD4" stroke="none" stroke-width="1" />
<path d="M279.71,762.52 L285.01,772.06 L274.41,772.06 Z" fill="#97AFD4" stroke="none" stroke-width="1" />
<path d="M289.10,755.11 L294.40,764.65 L283.80,764.65 Z" fill="#97AFD4" stroke="none" stroke-width="1" />
<path d="M298.49,748.04 L303.79,757.58 L293.19,757.58 Z" fill="#97AFD4" stroke="none" stroke-width="1" />
<path d="M307.88,727.18 L313.18,736.72 L302.58,736.72 Z" fill="#97AFD4" stroke="none" stroke-width="1" />
<path d="M317.28,718.42 L322.58,727.96 L311.98,727.96 Z" fill="#97AFD4" stroke="none" stroke-width="1" />
<path d="M326.67,722.13 L331.97,731.67 L321.37,731.67 Z" fill="#97AFD4" stroke="none" stroke-width="1" />
<path d="M336.06,723.14 L341.36,732.68 L330.76,732.68 Z" fill="#97AFD4" stroke="none" stroke-width="1" />
<path d="M345.45,722.13 L350.75,731.67 L340.15,731.67 Z" fill="#97AFD4" stroke="none" stroke-width="1" />
<path d="M350.15,724.48 L355.45,734.02 L344.85,734.02 Z" fill="#97AFD4" stroke="none" stroke-width="1" />
<path d="M354.84,722.13 L360.14,731.67 L349.54,731.67 Z" fill="#97AFD4" stroke="none" stroke-width="1" />
<path d="M364.23,719.43 L369.53,728.97 L358.93,728.97 Z" fill="#97AFD4" stroke="none" stroke-width="1" />
<path d="M373.62,721.45 L378.93,730.99 L368.32,730.99 Z" fill="#97AFD4" stroke="none" stroke-width="1" />
<path d="M383.02,721.45 L388.32,730.99 L377.72,730.99 Z" fill="#97AFD4" stroke="none" stroke-width="1" />
<path d="M392.41,725.16 L397.71,734.70 L387.11,734.70 Z" fill="#97AFD4" stroke="none" stroke-width="1" />
<path d="M401.80,745.35 L407.10,754.89 L396.50,754.89 Z" fill="#97AFD4" stroke="none" stroke-width="1" />
<path d="M411.19,738.28 L416.49,747.82 L405.89,747.82 Z" fill="#97AFD4" stroke="none" stroke-width="1" />
<path d="M420.58,744.68 L425.88,754.22 L415.28,754.22 Z" fill="#97AFD4" stroke="none" stroke-width="1" />
<path d="M429.98,740.30 L435.28,749.84 L424.68,749.84 Z" fill="#97AFD4" stroke="none" stroke-width="1" />
<path d="M439.37,745.35 L444.67,754.89 L434.07,754.89 Z" fill="#97AFD4" stroke="none" stroke-width="1" />
<path d="M448.76,729.53 L454.06,739.07 L443.46,739.07 Z" fill="#97AFD4" stroke="none" stroke-width="1" />
<path d="M458.15,733.23 L463.45,742.77 L452.85,742.77 Z" fill="#97AFD4" stroke="none" stroke-width="1" />
<path d="M467.54,729.53 L472.84,739.07 L462.24,739.07 Z" fill="#97AFD4" stroke="none" stroke-width="1" />
<path d="M476.93,738.96 L482.23,748.50 L471.63,748.50 Z" fill="#97AFD4" stroke="none" stroke-width="1" />
<path d="M486.33,710.68 L491.63,720.22 L481.03,720.22 Z" fill="#97AFD4" stroke="none" stroke-width="1" />
<path d="M495.72,719.43 L501.02,728.97 L490.42,728.97 Z" fill="#97AFD4" stroke="none" stroke-width="1" />
<path d="M505.11,730.20 L510.41,739.74 L499.81,739.74 Z" fill="#97AFD4" stroke="none" stroke-width="1" />
<path d="M514.50,710.68 L519.80,720.22 L509.20,720.22 Z" fill="#97AFD4" stroke="none" stroke-width="1" />
<polyline points="63.70,993.81 73.09,982.36 82.48,972.60 91.88,964.19 101.27,954.09 110.66,938.61 120.05,931.88 129.44,928.85 138.83,929.86 148.23,924.13 157.62,923.12 167.01,916.73 176.40,918.41 185.79,906.30 195.18,899.23 204.57,896.53 213.97,891.82 223.36,885.09 232.75,888.12 242.14,884.42 251.53,887.11 260.93,886.10 270.32,873.98 279.71,868.26 289.10,862.54 298.49,861.53 307.88,859.17 317.28,866.92 326.67,866.92 336.06,858.84 345.45,853.79 350.15,856.82 354.84,844.03 364.23,845.37 373.62,842.34 383.02,845.37 392.41,844.36 401.80,847.73 411.19,843.02 420.58,840.66 429.98,839.32 439.37,840.33 448.76,832.92 458.15,842.34 467.54,840.66 476.93,844.03 486.33,842.34 495.72,837.30 505.11,838.64 514.50,844.70" fill="none" stroke="#E8A55E" stroke-width="1.0" stroke-linejoin="round" />
<rect x="58.70" y="988.81" width="10.00" height="10.00" fill="#E8A55E" stroke="none" stroke-width="1" />
<rect x="68.09" y="977.36" width="10.00" height="10.00" fill="#E8A55E" stroke="none" stroke-width="1" />
<rect x="77.48" y="967.60" width="10.00" height="10.00" fill="#E8A55E" stroke="none" stroke-width="1" />
<rect x="86.88" y="959.19" width="10.00" height="10.00" fill="#E8A55E" stroke="none" stroke-width="1" />
<rect x="96.27" y="949.09" width="10.00" height="10.00" fill="#E8A55E" stroke="none" stroke-width="1" />
<rect x="105.66" y="933.61" width="10.00" height="10.00" fill="#E8A55E" stroke="none" stroke-width="1" />
<rect x="115.05" y="926.88" width="10.00" height="10.00" fill="#E8A55E" stroke="none" stroke-width="1" />
<rect x="124.44" y="923.85" width="10.00" height="10.00" fill="#E8A55E" stroke="none" stroke-width="1" />
<rect x="133.83" y="924.86" width="10.00" height="10.00" fill="#E8A55E" stroke="none" stroke-width="1" />
<rect x="143.23" y="919.13" width="10.00" height="10.00" fill="#E8A55E" stroke="none" stroke-width="1" />
<rect x="152.62" y="918.12" width="10.00" height="10.00" fill="#E8A55E" stroke="none" stroke-width="1" />
<rect x="162.01" y="911.73" width="10.00" height="10.00" fill="#E8A55E" stroke="none" stroke-width="1" />
<rect x="171.40" y="913.41" width="10.00" height="10.00" fill="#E8A55E" stroke="none" stroke-width="1" />
<rect x="180.79" y="901.30" width="10.00" height="10.00" fill="#E8A55E" stroke="none" stroke-width="1" />
<rect x="190.18" y="894.23" width="10.00" height="10.00" fill="#E8A55E" stroke="none" stroke-width="1" />
<rect x="199.57" y="891.53" width="10.00" height="10.00" fill="#E8A55E" stroke="none" stroke-width="1" />
<rect x="208.97" y="886.82" width="10.00" height="10.00" fill="#E8A55E" stroke="none" stroke-width="1" />
<rect x="218.36" y="880.09" width="10.00" height="10.00" fill="#E8A55E" stroke="none" stroke-width="1" />
<rect x="227.75" y="883.12" width="10.00" height="10.00" fill="#E8A55E" stroke="none" stroke-width="1" />
<rect x="237.14" y="879.42" width="10.00" height="10.00" fill="#E8A55E" stroke="none" stroke-width="1" />
<rect x="246.53" y="882.11" width="10.00" height="10.00" fill="#E8A55E" stroke="none" stroke-width="1" />
<rect x="255.93" y="881.10" width="10.00" height="10.00" fill="#E8A55E" stroke="none" stroke-width="1" />
<rect x="265.32" y="868.98" width="10.00" height="10.00" fill="#E8A55E" stroke="none" stroke-width="1" />
<rect x="274.71" y="863.26" width="10.00" height="10.00" fill="#E8A55E" stroke="none" stroke-width="1" />
<rect x="284.10" y="857.54" width="10.00" height="10.00" fill="#E8A55E" stroke="none" stroke-width="1" />
<rect x="293.49" y="856.53" width="10.00" height="10.00" fill="#E8A55E" stroke="none" stroke-width="1" />
<rect x="302.88" y="854.17" width="10.00" height="10.00" fill="#E8A55E" stroke="none" stroke-width="1" />
<rect x="312.28" y="861.92" width="10.00" height="10.00" fill="#E8A55E" stroke="none" stroke-width="1" />
<rect x="321.67" y="861.92" width="10.00" height="10.00" fill="#E8A55E" stroke="none" stroke-width="1" />
<rect x="331.06" y="853.84" width="10.00" height="10.00" fill="#E8A55E" stroke="none" stroke-width="1" />
<rect x="340.45" y="848.79" width="10.00" height="10.00" fill="#E8A55E" stroke="none" stroke-width="1" />
<rect x="345.15" y="851.82" width="10.00" height="10.00" fill="#E8A55E" stroke="none" stroke-width="1" />
<rect x="349.84" y="839.03" width="10.00" height="10.00" fill="#E8A55E" stroke="none" stroke-width="1" />
<rect x="359.23" y="840.37" width="10.00" height="10.00" fill="#E8A55E" stroke="none" stroke-width="1" />
<rect x="368.62" y="837.34" width="10.00" height="10.00" fill="#E8A55E" stroke="none" stroke-width="1" />
<rect x="378.02" y="840.37" width="10.00" height="10.00" fill="#E8A55E" stroke="none" stroke-width="1" />
<rect x="387.41" y="839.36" width="10.00" height="10.00" fill="#E8A55E" stroke="none" stroke-width="1" />
<rect x="396.80" y="842.73" width="10.00" height="10.00" fill="#E8A55E" stroke="none" stroke-width="1" />
<rect x="406.19" y="838.02" width="10.00" height="10.00" fill="#E8A55E" stroke="none" stroke-width="1" />
<rect x="415.58" y="835.66" width="10.00" height="10.00" fill="#E8A55E" stroke="none" stroke-width="1" />
<rect x="424.98" y="834.32" width="10.00" height="10.00" fill="#E8A55E" stroke="none" stroke-width="1" />
<rect x="434.37" y="835.33" width="10.00" height="10.00" fill="#E8A55E" stroke="none" stroke-width="1" />
<rect x="443.76" y="827.92" width="10.00" height="10.00" fill="#E8A55E" stroke="none" stroke-width="1" />
<rect x="453.15" y="837.34" width="10.00" height="10.00" fill="#E8A55E" stroke="none" stroke-width="1" />
<rect x="462.54" y="835.66" width="10.00" height="10.00" fill="#E8A55E" stroke="none" stroke-width="1" />
<rect x="471.93" y="839.03" width="10.00" height="10.00" fill="#E8A55E" stroke="none" stroke-width="1" />
<rect x="481.33" y="837.34" width="10.00" height="10.00" fill="#E8A55E" stroke="none" stroke-width="1" />
<rect x="490.72" y="832.30" width="10.00" height="10.00" fill="#E8A55E" stroke="none" stroke-width="1" />
<rect x="500.11" y="833.64" width="10.00" height="10.00" fill="#E8A55E" stroke="none" stroke-width="1" />
<rect x="509.50" y="839.70" width="10.00" height="10.00" fill="#E8A55E" stroke="none" stroke-width="1" />
<polyline points="63.70,996.50 73.09,992.80 82.48,989.43 91.88,981.02 101.27,975.63 110.66,975.63 120.05,976.64 129.44,976.64 138.83,968.23 148.23,971.26 157.62,975.30 167.01,968.23 176.40,966.88 185.79,969.91 195.18,964.19 204.57,967.55 213.97,966.88 223.36,965.53 232.75,965.53 242.14,966.54 251.53,965.53 260.93,963.85 270.32,965.53 279.71,964.52 289.10,966.88 298.49,968.90 307.88,966.21 317.28,966.21 326.67,967.89 336.06,966.21 345.45,969.91 350.15,968.90 354.84,968.90 364.23,970.25 373.62,970.25 383.02,968.90 392.41,969.91 401.80,970.92 411.19,972.27 420.58,969.91 429.98,969.91 439.37,970.92 448.76,970.92 458.15,970.92 467.54,970.92 476.93,971.26 486.33,971.93 495.72,971.26 505.11,968.90 514.50,967.55" fill="none" stroke="#5E5E5E" stroke-width="1.0" stroke-linejoin="round" />
<circle cx="63.70" cy="996.50" r="4.60" fill="#5E5E5E" stroke="none" stroke-width="1" />
<circle cx="73.09" cy="992.80" r="4.60" fill="#5E5E5E" stroke="none" stroke-width="1" />
<circle cx="82.48" cy="989.43" r="4.60" fill="#5E5E5E" stroke="none" stroke-width="1" />
<circle cx="91.88" cy="981.02" r="4.60" fill="#5E5E5E" stroke="none" stroke-width="1" />
<circle cx="101.27" cy="975.63" r="4.60" fill="#5E5E5E" stroke="none" stroke-width="1" />
<circle cx="110.66" cy="975.63" r="4.60" fill="#5E5E5E" stroke="none" stroke-width="1" />
<circle cx="120.05" cy="976.64" r="4.60" fill="#5E5E5E" stroke="none" stroke-width="1" />
<circle cx="129.44" cy="976.64" r="4.60" fill="#5E5E5E" stroke="none" stroke-width="1" />
<circle cx="138.83" cy="968.23" r="4.60" fill="#5E5E5E" stroke="none" stroke-width="1" />
<circle cx="148.23" cy="971.26" r="4.60" fill="#5E5E5E" stroke="none" stroke-width="1" />
<circle cx="157.62" cy="975.30" r="4.60" fill="#5E5E5E" stroke="none" stroke-width="1" />
<circle cx="167.01" cy="968.23" r="4.60" fill="#5E5E5E" stroke="none" stroke-width="1" />
<circle cx="176.40" cy="966.88" r="4.60" fill="#5E5E5E" stroke="none" stroke-width="1" />
<circle cx="185.79" cy="969.91" r="4.60" fill="#5E5E5E" stroke="none" stroke-width="1" />
<circle cx="195.18" cy="964.19" r="4.60" fill="#5E5E5E" stroke="none" stroke-width="1" />
<circle cx="204.57" cy="967.55" r="4.60" fill="#5E5E5E" stroke="none" stroke-width="1" />
<circle cx="213.97" cy="966.88" r="4.60" fill="#5E5E5E" stroke="none" stroke-width="1" />
<circle cx="223.36" cy="965.53" r="4.60" fill="#5E5E5E" stroke="none" stroke-width="1" />
<circle cx="232.75" cy="965.53" r="4.60" fill="#5E5E5E" stroke="none" stroke-width="1" />
<circle cx="242.14" cy="966.54" r="4.60" fill="#5E5E5E" stroke="none" stroke-width="1" />
<circle cx="251.53" cy="965.53" r="4.60" fill="#5E5E5E" stroke="none" stroke-width="1" />
<circle cx="260.93" cy="963.85" r="4.60" fill="#5E5E5E" stroke="none" stroke-width="1" />
<circle cx="270.32" cy="965.53" r="4.60" fill="#5E5E5E" stroke="none" stroke-width="1" />
<circle cx="279.71" cy="964.52" r="4.60" fill="#5E5E5E" stroke="none" stroke-width="1" />
<circle cx="289.10" cy="966.88" r="4.60" fill="#5E5E5E" stroke="none" stroke-width="1" />
<circle cx="298.49" cy="968.90" r="4.60" fill="#5E5E5E" stroke="none" stroke-width="1" />
<circle cx="307.88" cy="966.21" r="4.60" fill="#5E5E5E" stroke="none" stroke-width="1" />
<circle cx="317.28" cy="966.21" r="4.60" fill="#5E5E5E" stroke="none" stroke-width="1" />
<circle cx="326.67" cy="967.89" r="4.60" fill="#5E5E5E" stroke="none" stroke-width="1" />
<circle cx="336.06" cy="966.21" r="4.60" fill="#5E5E5E" stroke="none" stroke-width="1" />
<circle cx="345.45" cy="969.91" r="4.60" fill="#5E5E5E" stroke="none" stroke-width="1" />
<circle cx="350.15" cy="968.90" r="4.60" fill="#5E5E5E" stroke="none" stroke-width="1" />
<circle cx="354.84" cy="968.90" r="4.60" fill="#5E5E5E" stroke="none" stroke-width="1" />
<circle cx="364.23" cy="970.25" r="4.60" fill="#5E5E5E" stroke="none" stroke-width="1" />
<circle cx="373.62" cy="970.25" r="4.60" fill="#5E5E5E" stroke="none" stroke-width="1" />
<circle cx="383.02" cy="968.90" r="4.60" fill="#5E5E5E" stroke="none" stroke-width="1" />
<circle cx="392.41" cy="969.91" r="4.60" fill="#5E5E5E" stroke="none" stroke-width="1" />
<circle cx="401.80" cy="970.92" r="4.60" fill="#5E5E5E" stroke="none" stroke-width="1" />
<circle cx="411.19" cy="972.27" r="4.60" fill="#5E5E5E" stroke="none" stroke-width="1" />
<circle cx="420.58" cy="969.91" r="4.60" fill="#5E5E5E" stroke="none" stroke-width="1" />
<circle cx="429.98" cy="969.91" r="4.60" fill="#5E5E5E" stroke="none" stroke-width="1" />
<circle cx="439.37" cy="970.92" r="4.60" fill="#5E5E5E" stroke="none" stroke-width="1" />
<circle cx="448.76" cy="970.92" r="4.60" fill="#5E5E5E" stroke="none" stroke-width="1" />
<circle cx="458.15" cy="970.92" r="4.60" fill="#5E5E5E" stroke="none" stroke-width="1" />
<circle cx="467.54" cy="970.92" r="4.60" fill="#5E5E5E" stroke="none" stroke-width="1" />
<circle cx="476.93" cy="971.26" r="4.60" fill="#5E5E5E" stroke="none" stroke-width="1" />
<circle cx="486.33" cy="971.93" r="4.60" fill="#5E5E5E" stroke="none" stroke-width="1" />
<circle cx="495.72" cy="971.26" r="4.60" fill="#5E5E5E" stroke="none" stroke-width="1" />
<circle cx="505.11" cy="968.90" r="4.60" fill="#5E5E5E" stroke="none" stroke-width="1" />
<circle cx="514.50" cy="967.55" r="4.60" fill="#5E5E5E" stroke="none" stroke-width="1" />
<line x1="107.00" y1="605.50" x2="128.00" y2="605.50" stroke="#5E5E5E" stroke-width="1.1" />
<circle cx="117.50" cy="605.50" r="4.70" fill="#5E5E5E" stroke="none" stroke-width="1" />
<line x1="107.00" y1="630.50" x2="128.00" y2="630.50" stroke="#E8A55E" stroke-width="1.1" />
<rect x="112.60" y="625.40" width="10.20" height="10.20" fill="#E8A55E" stroke="none" stroke-width="1" />
<line x1="107.00" y1="655.50" x2="128.00" y2="655.50" stroke="#97AFD4" stroke-width="1.1" />
<path d="M117.70,650.73 L123.00,660.27 L112.40,660.27 Z" fill="#97AFD4" stroke="none" stroke-width="1" />
<text x="140.7" y="610.7" font-size="13.90" fill="#000" textLength="34.0" lengthAdjust="spacingAndGlyphs" font-family="'Liberation Sans', Arial, sans-serif">Mock</text>
<text x="140.7" y="635.7" font-size="13.90" fill="#000" textLength="110.2" lengthAdjust="spacingAndGlyphs" font-family="'Liberation Sans', Arial, sans-serif">mRNA-Cas9 WT</text>
<text x="140.7" y="660.7" font-size="13.90" fill="#000" textLength="116.0" lengthAdjust="spacingAndGlyphs" font-family="'Liberation Sans', Arial, sans-serif">mRNA-GS-FECO</text>
<line x1="635.30" y1="588.70" x2="635.30" y2="995.30" stroke="#000" stroke-width="3.0" />
<line x1="633.80" y1="993.80" x2="1086.50" y2="993.80" stroke="#000" stroke-width="3.0" />
<line x1="625.30" y1="993.80" x2="635.30" y2="993.80" stroke="#000" stroke-width="2.4" />
<text x="615.4" y="998.7" font-size="13.80" fill="#000" font-weight="bold" font-family="'Liberation Sans', Arial, sans-serif">0</text>
<line x1="625.30" y1="926.53" x2="635.30" y2="926.53" stroke="#000" stroke-width="2.4" />
<text x="607.8" y="931.4" font-size="13.80" fill="#000" font-weight="bold" font-family="'Liberation Sans', Arial, sans-serif">20</text>
<line x1="625.30" y1="859.27" x2="635.30" y2="859.27" stroke="#000" stroke-width="2.4" />
<text x="607.8" y="864.2" font-size="13.80" fill="#000" font-weight="bold" font-family="'Liberation Sans', Arial, sans-serif">40</text>
<line x1="625.30" y1="792.00" x2="635.30" y2="792.00" stroke="#000" stroke-width="2.4" />
<text x="607.8" y="796.9" font-size="13.80" fill="#000" font-weight="bold" font-family="'Liberation Sans', Arial, sans-serif">60</text>
<line x1="625.30" y1="724.73" x2="635.30" y2="724.73" stroke="#000" stroke-width="2.4" />
<text x="607.8" y="729.6" font-size="13.80" fill="#000" font-weight="bold" font-family="'Liberation Sans', Arial, sans-serif">80</text>
<line x1="625.30" y1="657.47" x2="635.30" y2="657.47" stroke="#000" stroke-width="2.4" />
<text x="600.1" y="662.4" font-size="13.80" fill="#000" font-weight="bold" font-family="'Liberation Sans', Arial, sans-serif">100</text>
<line x1="625.30" y1="590.20" x2="635.30" y2="590.20" stroke="#000" stroke-width="2.4" />
<text x="600.1" y="595.1" font-size="13.80" fill="#000" font-weight="bold" font-family="'Liberation Sans', Arial, sans-serif">120</text>
<line x1="635.30" y1="993.80" x2="635.30" y2="1003.80" stroke="#000" stroke-width="2.6" />
<text x="631.5" y="1019.5" font-size="13.80" fill="#000" font-weight="bold" font-family="'Liberation Sans', Arial, sans-serif">0</text>
<line x1="747.72" y1="993.80" x2="747.72" y2="1003.80" stroke="#000" stroke-width="2.6" />
<text x="740.1" y="1019.5" font-size="13.80" fill="#000" font-weight="bold" font-family="'Liberation Sans', Arial, sans-serif">24</text>
<line x1="860.15" y1="993.80" x2="860.15" y2="1003.80" stroke="#000" stroke-width="2.6" />
<text x="852.5" y="1019.5" font-size="13.80" fill="#000" font-weight="bold" font-family="'Liberation Sans', Arial, sans-serif">48</text>
<line x1="972.58" y1="993.80" x2="972.58" y2="1003.80" stroke="#000" stroke-width="2.6" />
<text x="964.9" y="1019.5" font-size="13.80" fill="#000" font-weight="bold" font-family="'Liberation Sans', Arial, sans-serif">72</text>
<line x1="1085.00" y1="993.80" x2="1085.00" y2="1003.80" stroke="#000" stroke-width="2.6" />
<text x="1077.3" y="1019.5" font-size="13.80" fill="#000" font-weight="bold" font-family="'Liberation Sans', Arial, sans-serif">96</text>
<text x="777.3" y="595.3" font-size="17.08" fill="#000" font-weight="bold" textLength="164.2" lengthAdjust="spacingAndGlyphs" font-family="'Liberation Sans', Arial, sans-serif">Cell Killing E:T 4.5:1</text>
<text x="799.9" y="1042.0" font-size="14.50" fill="#000" font-weight="bold" textLength="121.4" lengthAdjust="spacingAndGlyphs" font-family="'Liberation Sans', Arial, sans-serif">Elapsed Time (hr)</text>
<text x="591.5" y="851.9" font-size="17.06" fill="#000" font-family="'Liberation Sans', Arial, sans-serif" textLength="118.5" lengthAdjust="spacingAndGlyphs" transform="rotate(-90 591.5 851.9)" >Cytotoxicity (%)</text>
<polyline points="635.30,993.80 644.67,933.26 654.04,880.46 663.41,821.93 672.77,786.62 682.14,761.73 691.51,750.29 700.88,733.48 710.25,726.08 719.62,717.33 728.99,711.62 738.36,701.19 747.72,699.84 757.09,694.46 766.46,696.48 775.83,697.15 785.20,696.48 794.57,690.09 803.94,681.01 813.31,679.66 822.67,676.97 832.04,678.99 841.41,679.66 850.78,675.63 860.15,668.90 869.52,674.28 878.89,674.62 888.26,682.36 897.62,661.50 906.99,658.14 916.36,658.48 921.05,658.48 925.73,658.48 935.10,658.48 944.47,658.48 953.84,658.48 963.21,658.48 972.58,658.48 981.94,658.48 991.31,658.48 1000.68,658.48 1010.05,658.48 1019.42,658.48 1028.79,658.48 1038.16,658.48 1047.53,658.48 1056.89,658.48 1066.26,658.48 1075.63,658.48 1085.00,658.48" fill="none" stroke="#97AFD4" stroke-width="1.0" stroke-linejoin="round" />
<path d="M635.30,989.03 L640.60,998.57 L630.00,998.57 Z" fill="#97AFD4" stroke="none" stroke-width="1" />
<path d="M644.67,928.49 L649.97,938.03 L639.37,938.03 Z" fill="#97AFD4" stroke="none" stroke-width="1" />
<path d="M654.04,875.69 L659.34,885.23 L648.74,885.23 Z" fill="#97AFD4" stroke="none" stroke-width="1" />
<path d="M663.41,817.16 L668.71,826.70 L658.11,826.70 Z" fill="#97AFD4" stroke="none" stroke-width="1" />
<path d="M672.77,781.85 L678.07,791.39 L667.48,791.39 Z" fill="#97AFD4" stroke="none" stroke-width="1" />
<path d="M682.14,756.96 L687.44,766.50 L676.84,766.50 Z" fill="#97AFD4" stroke="none" stroke-width="1" />
<path d="M691.51,745.52 L696.81,755.06 L686.21,755.06 Z" fill="#97AFD4" stroke="none" stroke-width="1" />
<path d="M700.88,728.71 L706.18,738.25 L695.58,738.25 Z" fill="#97AFD4" stroke="none" stroke-width="1" />
<path d="M710.25,721.31 L715.55,730.85 L704.95,730.85 Z" fill="#97AFD4" stroke="none" stroke-width="1" />
<path d="M719.62,712.56 L724.92,722.10 L714.32,722.10 Z" fill="#97AFD4" stroke="none" stroke-width="1" />
<path d="M728.99,706.85 L734.29,716.39 L723.69,716.39 Z" fill="#97AFD4" stroke="none" stroke-width="1" />
<path d="M738.36,696.42 L743.66,705.96 L733.06,705.96 Z" fill="#97AFD4" stroke="none" stroke-width="1" />
<path d="M747.72,695.07 L753.02,704.61 L742.42,704.61 Z" fill="#97AFD4" stroke="none" stroke-width="1" />
<path d="M757.09,689.69 L762.39,699.23 L751.79,699.23 Z" fill="#97AFD4" stroke="none" stroke-width="1" />
<path d="M766.46,691.71 L771.76,701.25 L761.16,701.25 Z" fill="#97AFD4" stroke="none" stroke-width="1" />
<path d="M775.83,692.38 L781.13,701.92 L770.53,701.92 Z" fill="#97AFD4" stroke="none" stroke-width="1" />
<path d="M785.20,691.71 L790.50,701.25 L779.90,701.25 Z" fill="#97AFD4" stroke="none" stroke-width="1" />
<path d="M794.57,685.32 L799.87,694.86 L789.27,694.86 Z" fill="#97AFD4" stroke="none" stroke-width="1" />
<path d="M803.94,676.24 L809.24,685.78 L798.64,685.78 Z" fill="#97AFD4" stroke="none" stroke-width="1" />
<path d="M813.31,674.89 L818.61,684.43 L808.01,684.43 Z" fill="#97AFD4" stroke="none" stroke-width="1" />
<path d="M822.67,672.20 L827.97,681.74 L817.38,681.74 Z" fill="#97AFD4" stroke="none" stroke-width="1" />
<path d="M832.04,674.22 L837.34,683.76 L826.74,683.76 Z" fill="#97AFD4" stroke="none" stroke-width="1" />
<path d="M841.41,674.89 L846.71,684.43 L836.11,684.43 Z" fill="#97AFD4" stroke="none" stroke-width="1" />
<path d="M850.78,670.86 L856.08,680.40 L845.48,680.40 Z" fill="#97AFD4" stroke="none" stroke-width="1" />
<path d="M860.15,664.13 L865.45,673.67 L854.85,673.67 Z" fill="#97AFD4" stroke="none" stroke-width="1" />
<path d="M869.52,669.51 L874.82,679.05 L864.22,679.05 Z" fill="#97AFD4" stroke="none" stroke-width="1" />
<path d="M878.89,669.85 L884.19,679.39 L873.59,679.39 Z" fill="#97AFD4" stroke="none" stroke-width="1" />
<path d="M888.26,677.59 L893.56,687.13 L882.96,687.13 Z" fill="#97AFD4" stroke="none" stroke-width="1" />
<path d="M897.62,656.73 L902.92,666.27 L892.33,666.27 Z" fill="#97AFD4" stroke="none" stroke-width="1" />
<path d="M906.99,653.37 L912.29,662.91 L901.69,662.91 Z" fill="#97AFD4" stroke="none" stroke-width="1" />
<path d="M916.36,653.71 L921.66,663.25 L911.06,663.25 Z" fill="#97AFD4" stroke="none" stroke-width="1" />
<path d="M921.05,653.71 L926.35,663.25 L915.75,663.25 Z" fill="#97AFD4" stroke="none" stroke-width="1" />
<path d="M925.73,653.71 L931.03,663.25 L920.43,663.25 Z" fill="#97AFD4" stroke="none" stroke-width="1" />
<path d="M935.10,653.71 L940.40,663.25 L929.80,663.25 Z" fill="#97AFD4" stroke="none" stroke-width="1" />
<path d="M944.47,653.71 L949.77,663.25 L939.17,663.25 Z" fill="#97AFD4" stroke="none" stroke-width="1" />
<path d="M953.84,653.71 L959.14,663.25 L948.54,663.25 Z" fill="#97AFD4" stroke="none" stroke-width="1" />
<path d="M963.21,653.71 L968.51,663.25 L957.91,663.25 Z" fill="#97AFD4" stroke="none" stroke-width="1" />
<path d="M972.58,653.71 L977.88,663.25 L967.28,663.25 Z" fill="#97AFD4" stroke="none" stroke-width="1" />
<path d="M981.94,653.71 L987.24,663.25 L976.64,663.25 Z" fill="#97AFD4" stroke="none" stroke-width="1" />
<path d="M991.31,653.71 L996.61,663.25 L986.01,663.25 Z" fill="#97AFD4" stroke="none" stroke-width="1" />
<path d="M1000.68,653.71 L1005.98,663.25 L995.38,663.25 Z" fill="#97AFD4" stroke="none" stroke-width="1" />
<path d="M1010.05,653.71 L1015.35,663.25 L1004.75,663.25 Z" fill="#97AFD4" stroke="none" stroke-width="1" />
<path d="M1019.42,653.71 L1024.72,663.25 L1014.12,663.25 Z" fill="#97AFD4" stroke="none" stroke-width="1" />
<path d="M1028.79,653.71 L1034.09,663.25 L1023.49,663.25 Z" fill="#97AFD4" stroke="none" stroke-width="1" />
<path d="M1038.16,653.71 L1043.46,663.25 L1032.86,663.25 Z" fill="#97AFD4" stroke="none" stroke-width="1" />
<path d="M1047.53,653.71 L1052.83,663.25 L1042.23,663.25 Z" fill="#97AFD4" stroke="none" stroke-width="1" />
<path d="M1056.89,653.71 L1062.19,663.25 L1051.59,663.25 Z" fill="#97AFD4" stroke="none" stroke-width="1" />
<path d="M1066.26,653.71 L1071.56,663.25 L1060.96,663.25 Z" fill="#97AFD4" stroke="none" stroke-width="1" />
<path d="M1075.63,653.71 L1080.93,663.25 L1070.33,663.25 Z" fill="#97AFD4" stroke="none" stroke-width="1" />
<path d="M1085.00,653.71 L1090.30,663.25 L1079.70,663.25 Z" fill="#97AFD4" stroke="none" stroke-width="1" />
<polyline points="635.30,980.35 644.67,967.90 654.04,952.43 663.41,932.25 672.77,907.36 682.14,906.35 691.51,889.54 700.88,891.89 710.25,881.46 719.62,875.07 728.99,861.62 738.36,857.92 747.72,852.20 757.09,854.22 766.46,849.85 775.83,835.39 785.20,837.74 794.57,829.00 803.94,829.00 813.31,817.90 822.67,808.82 832.04,819.92 841.41,814.20 850.78,800.41 860.15,802.09 869.52,788.64 878.89,794.02 888.26,783.59 897.62,782.58 906.99,771.48 916.36,781.24 921.05,774.17 925.73,773.17 935.10,769.80 944.47,762.74 953.84,751.30 963.21,751.98 972.58,750.63 981.94,753.99 991.31,744.91 1000.68,750.29 1010.05,743.90 1019.42,735.83 1028.79,734.49 1038.16,733.48 1047.53,734.49 1056.89,730.45 1066.26,733.14 1075.63,729.78 1085.00,727.09" fill="none" stroke="#E8A55E" stroke-width="1.0" stroke-linejoin="round" />
<rect x="630.30" y="975.35" width="10.00" height="10.00" fill="#E8A55E" stroke="none" stroke-width="1" />
<rect x="639.67" y="962.90" width="10.00" height="10.00" fill="#E8A55E" stroke="none" stroke-width="1" />
<rect x="649.04" y="947.43" width="10.00" height="10.00" fill="#E8A55E" stroke="none" stroke-width="1" />
<rect x="658.41" y="927.25" width="10.00" height="10.00" fill="#E8A55E" stroke="none" stroke-width="1" />
<rect x="667.77" y="902.36" width="10.00" height="10.00" fill="#E8A55E" stroke="none" stroke-width="1" />
<rect x="677.14" y="901.35" width="10.00" height="10.00" fill="#E8A55E" stroke="none" stroke-width="1" />
<rect x="686.51" y="884.54" width="10.00" height="10.00" fill="#E8A55E" stroke="none" stroke-width="1" />
<rect x="695.88" y="886.89" width="10.00" height="10.00" fill="#E8A55E" stroke="none" stroke-width="1" />
<rect x="705.25" y="876.46" width="10.00" height="10.00" fill="#E8A55E" stroke="none" stroke-width="1" />
<rect x="714.62" y="870.07" width="10.00" height="10.00" fill="#E8A55E" stroke="none" stroke-width="1" />
<rect x="723.99" y="856.62" width="10.00" height="10.00" fill="#E8A55E" stroke="none" stroke-width="1" />
<rect x="733.36" y="852.92" width="10.00" height="10.00" fill="#E8A55E" stroke="none" stroke-width="1" />
<rect x="742.72" y="847.20" width="10.00" height="10.00" fill="#E8A55E" stroke="none" stroke-width="1" />
<rect x="752.09" y="849.22" width="10.00" height="10.00" fill="#E8A55E" stroke="none" stroke-width="1" />
<rect x="761.46" y="844.85" width="10.00" height="10.00" fill="#E8A55E" stroke="none" stroke-width="1" />
<rect x="770.83" y="830.39" width="10.00" height="10.00" fill="#E8A55E" stroke="none" stroke-width="1" />
<rect x="780.20" y="832.74" width="10.00" height="10.00" fill="#E8A55E" stroke="none" stroke-width="1" />
<rect x="789.57" y="824.00" width="10.00" height="10.00" fill="#E8A55E" stroke="none" stroke-width="1" />
<rect x="798.94" y="824.00" width="10.00" height="10.00" fill="#E8A55E" stroke="none" stroke-width="1" />
<rect x="808.31" y="812.90" width="10.00" height="10.00" fill="#E8A55E" stroke="none" stroke-width="1" />
<rect x="817.67" y="803.82" width="10.00" height="10.00" fill="#E8A55E" stroke="none" stroke-width="1" />
<rect x="827.04" y="814.92" width="10.00" height="10.00" fill="#E8A55E" stroke="none" stroke-width="1" />
<rect x="836.41" y="809.20" width="10.00" height="10.00" fill="#E8A55E" stroke="none" stroke-width="1" />
<rect x="845.78" y="795.41" width="10.00" height="10.00" fill="#E8A55E" stroke="none" stroke-width="1" />
<rect x="855.15" y="797.09" width="10.00" height="10.00" fill="#E8A55E" stroke="none" stroke-width="1" />
<rect x="864.52" y="783.64" width="10.00" height="10.00" fill="#E8A55E" stroke="none" stroke-width="1" />
<rect x="873.89" y="789.02" width="10.00" height="10.00" fill="#E8A55E" stroke="none" stroke-width="1" />
<rect x="883.26" y="778.59" width="10.00" height="10.00" fill="#E8A55E" stroke="none" stroke-width="1" />
<rect x="892.62" y="777.58" width="10.00" height="10.00" fill="#E8A55E" stroke="none" stroke-width="1" />
<rect x="901.99" y="766.48" width="10.00" height="10.00" fill="#E8A55E" stroke="none" stroke-width="1" />
<rect x="911.36" y="776.24" width="10.00" height="10.00" fill="#E8A55E" stroke="none" stroke-width="1" />
<rect x="916.05" y="769.17" width="10.00" height="10.00" fill="#E8A55E" stroke="none" stroke-width="1" />
<rect x="920.73" y="768.17" width="10.00" height="10.00" fill="#E8A55E" stroke="none" stroke-width="1" />
<rect x="930.10" y="764.80" width="10.00" height="10.00" fill="#E8A55E" stroke="none" stroke-width="1" />
<rect x="939.47" y="757.74" width="10.00" height="10.00" fill="#E8A55E" stroke="none" stroke-width="1" />
<rect x="948.84" y="746.30" width="10.00" height="10.00" fill="#E8A55E" stroke="none" stroke-width="1" />
<rect x="958.21" y="746.98" width="10.00" height="10.00" fill="#E8A55E" stroke="none" stroke-width="1" />
<rect x="967.58" y="745.63" width="10.00" height="10.00" fill="#E8A55E" stroke="none" stroke-width="1" />
<rect x="976.94" y="748.99" width="10.00" height="10.00" fill="#E8A55E" stroke="none" stroke-width="1" />
<rect x="986.31" y="739.91" width="10.00" height="10.00" fill="#E8A55E" stroke="none" stroke-width="1" />
<rect x="995.68" y="745.29" width="10.00" height="10.00" fill="#E8A55E" stroke="none" stroke-width="1" />
<rect x="1005.05" y="738.90" width="10.00" height="10.00" fill="#E8A55E" stroke="none" stroke-width="1" />
<rect x="1014.42" y="730.83" width="10.00" height="10.00" fill="#E8A55E" stroke="none" stroke-width="1" />
<rect x="1023.79" y="729.49" width="10.00" height="10.00" fill="#E8A55E" stroke="none" stroke-width="1" />
<rect x="1033.16" y="728.48" width="10.00" height="10.00" fill="#E8A55E" stroke="none" stroke-width="1" />
<rect x="1042.53" y="729.49" width="10.00" height="10.00" fill="#E8A55E" stroke="none" stroke-width="1" />
<rect x="1051.89" y="725.45" width="10.00" height="10.00" fill="#E8A55E" stroke="none" stroke-width="1" />
<rect x="1061.26" y="728.14" width="10.00" height="10.00" fill="#E8A55E" stroke="none" stroke-width="1" />
<rect x="1070.63" y="724.78" width="10.00" height="10.00" fill="#E8A55E" stroke="none" stroke-width="1" />
<rect x="1080.00" y="722.09" width="10.00" height="10.00" fill="#E8A55E" stroke="none" stroke-width="1" />
<polyline points="635.30,993.80 644.67,981.36 654.04,975.97 663.41,969.92 672.77,964.54 682.14,961.51 691.51,959.49 700.88,958.49 710.25,953.10 719.62,953.10 728.99,951.09 738.36,941.33 747.72,944.70 757.09,941.67 766.46,943.69 775.83,944.70 785.20,942.68 794.57,938.64 803.94,940.66 813.31,941.67 822.67,938.98 832.04,941.67 841.41,935.61 850.78,939.65 860.15,938.98 869.52,937.63 878.89,936.62 888.26,938.98 897.62,932.92 906.99,938.64 916.36,939.65 921.05,937.97 925.73,937.30 935.10,937.63 944.47,941.00 953.84,938.98 963.21,938.98 972.58,941.00 981.94,942.68 991.31,946.04 1000.68,942.68 1010.05,947.05 1019.42,947.39 1028.79,950.08 1038.16,948.39 1047.53,950.75 1056.89,951.09 1066.26,950.75 1075.63,950.08 1085.00,950.08" fill="none" stroke="#5E5E5E" stroke-width="1.0" stroke-linejoin="round" />
<circle cx="635.30" cy="993.80" r="4.60" fill="#5E5E5E" stroke="none" stroke-width="1" />
<circle cx="644.67" cy="981.36" r="4.60" fill="#5E5E5E" stroke="none" stroke-width="1" />
<circle cx="654.04" cy="975.97" r="4.60" fill="#5E5E5E" stroke="none" stroke-width="1" />
<circle cx="663.41" cy="969.92" r="4.60" fill="#5E5E5E" stroke="none" stroke-width="1" />
<circle cx="672.77" cy="964.54" r="4.60" fill="#5E5E5E" stroke="none" stroke-width="1" />
<circle cx="682.14" cy="961.51" r="4.60" fill="#5E5E5E" stroke="none" stroke-width="1" />
<circle cx="691.51" cy="959.49" r="4.60" fill="#5E5E5E" stroke="none" stroke-width="1" />
<circle cx="700.88" cy="958.49" r="4.60" fill="#5E5E5E" stroke="none" stroke-width="1" />
<circle cx="710.25" cy="953.10" r="4.60" fill="#5E5E5E" stroke="none" stroke-width="1" />
<circle cx="719.62" cy="953.10" r="4.60" fill="#5E5E5E" stroke="none" stroke-width="1" />
<circle cx="728.99" cy="951.09" r="4.60" fill="#5E5E5E" stroke="none" stroke-width="1" />
<circle cx="738.36" cy="941.33" r="4.60" fill="#5E5E5E" stroke="none" stroke-width="1" />
<circle cx="747.72" cy="944.70" r="4.60" fill="#5E5E5E" stroke="none" stroke-width="1" />
<circle cx="757.09" cy="941.67" r="4.60" fill="#5E5E5E" stroke="none" stroke-width="1" />
<circle cx="766.46" cy="943.69" r="4.60" fill="#5E5E5E" stroke="none" stroke-width="1" />
<circle cx="775.83" cy="944.70" r="4.60" fill="#5E5E5E" stroke="none" stroke-width="1" />
<circle cx="785.20" cy="942.68" r="4.60" fill="#5E5E5E" stroke="none" stroke-width="1" />
<circle cx="794.57" cy="938.64" r="4.60" fill="#5E5E5E" stroke="none" stroke-width="1" />
<circle cx="803.94" cy="940.66" r="4.60" fill="#5E5E5E" stroke="none" stroke-width="1" />
<circle cx="813.31" cy="941.67" r="4.60" fill="#5E5E5E" stroke="none" stroke-width="1" />
<circle cx="822.67" cy="938.98" r="4.60" fill="#5E5E5E" stroke="none" stroke-width="1" />
<circle cx="832.04" cy="941.67" r="4.60" fill="#5E5E5E" stroke="none" stroke-width="1" />
<circle cx="841.41" cy="935.61" r="4.60" fill="#5E5E5E" stroke="none" stroke-width="1" />
<circle cx="850.78" cy="939.65" r="4.60" fill="#5E5E5E" stroke="none" stroke-width="1" />
<circle cx="860.15" cy="938.98" r="4.60" fill="#5E5E5E" stroke="none" stroke-width="1" />
<circle cx="869.52" cy="937.63" r="4.60" fill="#5E5E5E" stroke="none" stroke-width="1" />
<circle cx="878.89" cy="936.62" r="4.60" fill="#5E5E5E" stroke="none" stroke-width="1" />
<circle cx="888.26" cy="938.98" r="4.60" fill="#5E5E5E" stroke="none" stroke-width="1" />
<circle cx="897.62" cy="932.92" r="4.60" fill="#5E5E5E" stroke="none" stroke-width="1" />
<circle cx="906.99" cy="938.64" r="4.60" fill="#5E5E5E" stroke="none" stroke-width="1" />
<circle cx="916.36" cy="939.65" r="4.60" fill="#5E5E5E" stroke="none" stroke-width="1" />
<circle cx="921.05" cy="937.97" r="4.60" fill="#5E5E5E" stroke="none" stroke-width="1" />
<circle cx="925.73" cy="937.30" r="4.60" fill="#5E5E5E" stroke="none" stroke-width="1" />
<circle cx="935.10" cy="937.63" r="4.60" fill="#5E5E5E" stroke="none" stroke-width="1" />
<circle cx="944.47" cy="941.00" r="4.60" fill="#5E5E5E" stroke="none" stroke-width="1" />
<circle cx="953.84" cy="938.98" r="4.60" fill="#5E5E5E" stroke="none" stroke-width="1" />
<circle cx="963.21" cy="938.98" r="4.60" fill="#5E5E5E" stroke="none" stroke-width="1" />
<circle cx="972.58" cy="941.00" r="4.60" fill="#5E5E5E" stroke="none" stroke-width="1" />
<circle cx="981.94" cy="942.68" r="4.60" fill="#5E5E5E" stroke="none" stroke-width="1" />
<circle cx="991.31" cy="946.04" r="4.60" fill="#5E5E5E" stroke="none" stroke-width="1" />
<circle cx="1000.68" cy="942.68" r="4.60" fill="#5E5E5E" stroke="none" stroke-width="1" />
<circle cx="1010.05" cy="947.05" r="4.60" fill="#5E5E5E" stroke="none" stroke-width="1" />
<circle cx="1019.42" cy="947.39" r="4.60" fill="#5E5E5E" stroke="none" stroke-width="1" />
<circle cx="1028.79" cy="950.08" r="4.60" fill="#5E5E5E" stroke="none" stroke-width="1" />
<circle cx="1038.16" cy="948.39" r="4.60" fill="#5E5E5E" stroke="none" stroke-width="1" />
<circle cx="1047.53" cy="950.75" r="4.60" fill="#5E5E5E" stroke="none" stroke-width="1" />
<circle cx="1056.89" cy="951.09" r="4.60" fill="#5E5E5E" stroke="none" stroke-width="1" />
<circle cx="1066.26" cy="950.75" r="4.60" fill="#5E5E5E" stroke="none" stroke-width="1" />
<circle cx="1075.63" cy="950.08" r="4.60" fill="#5E5E5E" stroke="none" stroke-width="1" />
<circle cx="1085.00" cy="950.08" r="4.60" fill="#5E5E5E" stroke="none" stroke-width="1" />
<line x1="1210.30" y1="583.60" x2="1210.30" y2="990.90" stroke="#000" stroke-width="3.0" />
<line x1="1208.80" y1="989.40" x2="1661.70" y2="989.40" stroke="#000" stroke-width="3.0" />
<line x1="1200.30" y1="989.40" x2="1210.30" y2="989.40" stroke="#000" stroke-width="2.4" />
<text x="1190.4" y="994.3" font-size="13.80" fill="#000" font-weight="bold" font-family="'Liberation Sans', Arial, sans-serif">0</text>
<line x1="1200.30" y1="922.02" x2="1210.30" y2="922.02" stroke="#000" stroke-width="2.4" />
<text x="1182.8" y="926.9" font-size="13.80" fill="#000" font-weight="bold" font-family="'Liberation Sans', Arial, sans-serif">20</text>
<line x1="1200.30" y1="854.63" x2="1210.30" y2="854.63" stroke="#000" stroke-width="2.4" />
<text x="1182.8" y="859.5" font-size="13.80" fill="#000" font-weight="bold" font-family="'Liberation Sans', Arial, sans-serif">40</text>
<line x1="1200.30" y1="787.25" x2="1210.30" y2="787.25" stroke="#000" stroke-width="2.4" />
<text x="1182.8" y="792.1" font-size="13.80" fill="#000" font-weight="bold" font-family="'Liberation Sans', Arial, sans-serif">60</text>
<line x1="1200.30" y1="719.87" x2="1210.30" y2="719.87" stroke="#000" stroke-width="2.4" />
<text x="1182.8" y="724.8" font-size="13.80" fill="#000" font-weight="bold" font-family="'Liberation Sans', Arial, sans-serif">80</text>
<line x1="1200.30" y1="652.48" x2="1210.30" y2="652.48" stroke="#000" stroke-width="2.4" />
<text x="1175.1" y="657.4" font-size="13.80" fill="#000" font-weight="bold" font-family="'Liberation Sans', Arial, sans-serif">100</text>
<line x1="1200.30" y1="585.10" x2="1210.30" y2="585.10" stroke="#000" stroke-width="2.4" />
<text x="1175.1" y="590.0" font-size="13.80" fill="#000" font-weight="bold" font-family="'Liberation Sans', Arial, sans-serif">120</text>
<line x1="1210.30" y1="989.40" x2="1210.30" y2="999.40" stroke="#000" stroke-width="2.6" />
<text x="1206.5" y="1015.2" font-size="13.80" fill="#000" font-weight="bold" font-family="'Liberation Sans', Arial, sans-serif">0</text>
<line x1="1322.78" y1="989.40" x2="1322.78" y2="999.40" stroke="#000" stroke-width="2.6" />
<text x="1315.1" y="1015.2" font-size="13.80" fill="#000" font-weight="bold" font-family="'Liberation Sans', Arial, sans-serif">24</text>
<line x1="1435.25" y1="989.40" x2="1435.25" y2="999.40" stroke="#000" stroke-width="2.6" />
<text x="1427.6" y="1015.2" font-size="13.80" fill="#000" font-weight="bold" font-family="'Liberation Sans', Arial, sans-serif">48</text>
<line x1="1547.72" y1="989.40" x2="1547.72" y2="999.40" stroke="#000" stroke-width="2.6" />
<text x="1540.1" y="1015.2" font-size="13.80" fill="#000" font-weight="bold" font-family="'Liberation Sans', Arial, sans-serif">72</text>
<line x1="1660.20" y1="989.40" x2="1660.20" y2="999.40" stroke="#000" stroke-width="2.6" />
<text x="1652.5" y="1015.2" font-size="13.80" fill="#000" font-weight="bold" font-family="'Liberation Sans', Arial, sans-serif">96</text>
<text x="1359.7" y="588.9" font-size="17.05" fill="#000" font-weight="bold" textLength="149.7" lengthAdjust="spacingAndGlyphs" font-family="'Liberation Sans', Arial, sans-serif">Cell Killing E:T 9:1</text>
<text x="1374.7" y="1038.3" font-size="14.60" fill="#000" font-weight="bold" textLength="122.3" lengthAdjust="spacingAndGlyphs" font-family="'Liberation Sans', Arial, sans-serif">Elapsed Time (hr)</text>
<text x="1167.0" y="847.6" font-size="17.28" fill="#000" font-family="'Liberation Sans', Arial, sans-serif" textLength="120.0" lengthAdjust="spacingAndGlyphs" transform="rotate(-90 1167.0 847.6)" >Cytotoxicity (%)</text>
<line x1="1219.67" y1="854.97" x2="1219.67" y2="871.14" stroke="#2F4E7E" stroke-width="1.2" />
<line x1="1214.67" y1="854.97" x2="1224.67" y2="854.97" stroke="#2F4E7E" stroke-width="1.2" />
<line x1="1214.67" y1="871.14" x2="1224.67" y2="871.14" stroke="#2F4E7E" stroke-width="1.2" />
<line x1="1229.05" y1="773.77" x2="1229.05" y2="790.62" stroke="#2F4E7E" stroke-width="1.2" />
<line x1="1224.05" y1="773.77" x2="1234.05" y2="773.77" stroke="#2F4E7E" stroke-width="1.2" />
<line x1="1224.05" y1="790.62" x2="1234.05" y2="790.62" stroke="#2F4E7E" stroke-width="1.2" />
<line x1="1238.42" y1="726.27" x2="1238.42" y2="744.46" stroke="#2F4E7E" stroke-width="1.2" />
<line x1="1233.42" y1="726.27" x2="1243.42" y2="726.27" stroke="#2F4E7E" stroke-width="1.2" />
<line x1="1233.42" y1="744.46" x2="1243.42" y2="744.46" stroke="#2F4E7E" stroke-width="1.2" />
<line x1="1247.79" y1="706.39" x2="1247.79" y2="718.52" stroke="#2F4E7E" stroke-width="1.2" />
<line x1="1242.79" y1="706.39" x2="1252.79" y2="706.39" stroke="#2F4E7E" stroke-width="1.2" />
<line x1="1242.79" y1="718.52" x2="1252.79" y2="718.52" stroke="#2F4E7E" stroke-width="1.2" />
<line x1="1266.54" y1="679.77" x2="1266.54" y2="694.60" stroke="#2F4E7E" stroke-width="1.2" />
<line x1="1261.54" y1="679.77" x2="1271.54" y2="679.77" stroke="#2F4E7E" stroke-width="1.2" />
<line x1="1261.54" y1="694.60" x2="1271.54" y2="694.60" stroke="#2F4E7E" stroke-width="1.2" />
<line x1="1275.91" y1="681.46" x2="1275.91" y2="694.93" stroke="#2F4E7E" stroke-width="1.2" />
<line x1="1270.91" y1="681.46" x2="1280.91" y2="681.46" stroke="#2F4E7E" stroke-width="1.2" />
<line x1="1270.91" y1="694.93" x2="1280.91" y2="694.93" stroke="#2F4E7E" stroke-width="1.2" />
<line x1="1304.03" y1="666.97" x2="1304.03" y2="677.75" stroke="#2F4E7E" stroke-width="1.2" />
<line x1="1299.03" y1="666.97" x2="1309.03" y2="666.97" stroke="#2F4E7E" stroke-width="1.2" />
<line x1="1299.03" y1="677.75" x2="1309.03" y2="677.75" stroke="#2F4E7E" stroke-width="1.2" />
<line x1="1397.76" y1="655.52" x2="1397.76" y2="666.30" stroke="#2F4E7E" stroke-width="1.2" />
<line x1="1392.76" y1="655.52" x2="1402.76" y2="655.52" stroke="#2F4E7E" stroke-width="1.2" />
<line x1="1392.76" y1="666.30" x2="1402.76" y2="666.30" stroke="#2F4E7E" stroke-width="1.2" />
<line x1="1407.13" y1="654.84" x2="1407.13" y2="664.95" stroke="#2F4E7E" stroke-width="1.2" />
<line x1="1402.13" y1="654.84" x2="1412.13" y2="654.84" stroke="#2F4E7E" stroke-width="1.2" />
<line x1="1402.13" y1="664.95" x2="1412.13" y2="664.95" stroke="#2F4E7E" stroke-width="1.2" />
<line x1="1435.25" y1="656.53" x2="1435.25" y2="666.63" stroke="#2F4E7E" stroke-width="1.2" />
<line x1="1430.25" y1="656.53" x2="1440.25" y2="656.53" stroke="#2F4E7E" stroke-width="1.2" />
<line x1="1430.25" y1="666.63" x2="1440.25" y2="666.63" stroke="#2F4E7E" stroke-width="1.2" />
<line x1="1444.62" y1="657.54" x2="1444.62" y2="667.64" stroke="#2F4E7E" stroke-width="1.2" />
<line x1="1439.62" y1="657.54" x2="1449.62" y2="657.54" stroke="#2F4E7E" stroke-width="1.2" />
<line x1="1439.62" y1="667.64" x2="1449.62" y2="667.64" stroke="#2F4E7E" stroke-width="1.2" />
<line x1="1454.00" y1="653.16" x2="1454.00" y2="662.59" stroke="#2F4E7E" stroke-width="1.2" />
<line x1="1449.00" y1="653.16" x2="1459.00" y2="653.16" stroke="#2F4E7E" stroke-width="1.2" />
<line x1="1449.00" y1="662.59" x2="1459.00" y2="662.59" stroke="#2F4E7E" stroke-width="1.2" />
<line x1="1482.11" y1="656.86" x2="1482.11" y2="679.10" stroke="#2F4E7E" stroke-width="1.2" />
<line x1="1477.11" y1="656.86" x2="1487.11" y2="656.86" stroke="#2F4E7E" stroke-width="1.2" />
<line x1="1477.11" y1="679.10" x2="1487.11" y2="679.10" stroke="#2F4E7E" stroke-width="1.2" />
<line x1="1491.49" y1="657.87" x2="1491.49" y2="679.44" stroke="#2F4E7E" stroke-width="1.2" />
<line x1="1486.49" y1="657.87" x2="1496.49" y2="657.87" stroke="#2F4E7E" stroke-width="1.2" />
<line x1="1486.49" y1="679.44" x2="1496.49" y2="679.44" stroke="#2F4E7E" stroke-width="1.2" />
<line x1="1496.17" y1="653.83" x2="1496.17" y2="719.87" stroke="#2F4E7E" stroke-width="1.2" />
<line x1="1491.17" y1="653.83" x2="1501.17" y2="653.83" stroke="#2F4E7E" stroke-width="1.2" />
<line x1="1491.17" y1="719.87" x2="1501.17" y2="719.87" stroke="#2F4E7E" stroke-width="1.2" />
<line x1="1500.86" y1="659.90" x2="1500.86" y2="677.42" stroke="#2F4E7E" stroke-width="1.2" />
<line x1="1495.86" y1="659.90" x2="1505.86" y2="659.90" stroke="#2F4E7E" stroke-width="1.2" />
<line x1="1495.86" y1="677.42" x2="1505.86" y2="677.42" stroke="#2F4E7E" stroke-width="1.2" />
<line x1="1510.23" y1="652.15" x2="1510.23" y2="665.62" stroke="#2F4E7E" stroke-width="1.2" />
<line x1="1505.23" y1="652.15" x2="1515.23" y2="652.15" stroke="#2F4E7E" stroke-width="1.2" />
<line x1="1505.23" y1="665.62" x2="1515.23" y2="665.62" stroke="#2F4E7E" stroke-width="1.2" />
<line x1="1622.71" y1="650.80" x2="1622.71" y2="699.31" stroke="#2F4E7E" stroke-width="1.2" />
<line x1="1617.71" y1="650.80" x2="1627.71" y2="650.80" stroke="#2F4E7E" stroke-width="1.2" />
<line x1="1617.71" y1="699.31" x2="1627.71" y2="699.31" stroke="#2F4E7E" stroke-width="1.2" />
<line x1="1229.05" y1="889.34" x2="1229.05" y2="902.81" stroke="#3a2f22" stroke-width="1.1" />
<line x1="1224.05" y1="889.34" x2="1234.05" y2="889.34" stroke="#3a2f22" stroke-width="1.1" />
<line x1="1224.05" y1="902.81" x2="1234.05" y2="902.81" stroke="#3a2f22" stroke-width="1.1" />
<line x1="1238.42" y1="852.95" x2="1238.42" y2="871.14" stroke="#3a2f22" stroke-width="1.1" />
<line x1="1233.42" y1="852.95" x2="1243.42" y2="852.95" stroke="#3a2f22" stroke-width="1.1" />
<line x1="1233.42" y1="871.14" x2="1243.42" y2="871.14" stroke="#3a2f22" stroke-width="1.1" />
<line x1="1247.79" y1="825.32" x2="1247.79" y2="840.15" stroke="#3a2f22" stroke-width="1.1" />
<line x1="1242.79" y1="825.32" x2="1252.79" y2="825.32" stroke="#3a2f22" stroke-width="1.1" />
<line x1="1242.79" y1="840.15" x2="1252.79" y2="840.15" stroke="#3a2f22" stroke-width="1.1" />
<line x1="1257.16" y1="807.80" x2="1257.16" y2="821.28" stroke="#3a2f22" stroke-width="1.1" />
<line x1="1252.16" y1="807.80" x2="1262.16" y2="807.80" stroke="#3a2f22" stroke-width="1.1" />
<line x1="1252.16" y1="821.28" x2="1262.16" y2="821.28" stroke="#3a2f22" stroke-width="1.1" />
<line x1="1266.54" y1="800.73" x2="1266.54" y2="813.53" stroke="#3a2f22" stroke-width="1.1" />
<line x1="1261.54" y1="800.73" x2="1271.54" y2="800.73" stroke="#3a2f22" stroke-width="1.1" />
<line x1="1261.54" y1="813.53" x2="1271.54" y2="813.53" stroke="#3a2f22" stroke-width="1.1" />
<line x1="1275.91" y1="783.54" x2="1275.91" y2="795.00" stroke="#3a2f22" stroke-width="1.1" />
<line x1="1270.91" y1="783.54" x2="1280.91" y2="783.54" stroke="#3a2f22" stroke-width="1.1" />
<line x1="1270.91" y1="795.00" x2="1280.91" y2="795.00" stroke="#3a2f22" stroke-width="1.1" />
<line x1="1285.28" y1="773.44" x2="1285.28" y2="786.24" stroke="#3a2f22" stroke-width="1.1" />
<line x1="1280.28" y1="773.44" x2="1290.28" y2="773.44" stroke="#3a2f22" stroke-width="1.1" />
<line x1="1280.28" y1="786.24" x2="1290.28" y2="786.24" stroke="#3a2f22" stroke-width="1.1" />
<line x1="1294.66" y1="756.93" x2="1294.66" y2="769.06" stroke="#3a2f22" stroke-width="1.1" />
<line x1="1289.66" y1="756.93" x2="1299.66" y2="756.93" stroke="#3a2f22" stroke-width="1.1" />
<line x1="1289.66" y1="769.06" x2="1299.66" y2="769.06" stroke="#3a2f22" stroke-width="1.1" />
<line x1="1304.03" y1="745.81" x2="1304.03" y2="759.96" stroke="#3a2f22" stroke-width="1.1" />
<line x1="1299.03" y1="745.81" x2="1309.03" y2="745.81" stroke="#3a2f22" stroke-width="1.1" />
<line x1="1299.03" y1="759.96" x2="1309.03" y2="759.96" stroke="#3a2f22" stroke-width="1.1" />
<line x1="1313.40" y1="744.12" x2="1313.40" y2="757.60" stroke="#3a2f22" stroke-width="1.1" />
<line x1="1308.40" y1="744.12" x2="1318.40" y2="744.12" stroke="#3a2f22" stroke-width="1.1" />
<line x1="1308.40" y1="757.60" x2="1318.40" y2="757.60" stroke="#3a2f22" stroke-width="1.1" />
<line x1="1322.78" y1="736.38" x2="1322.78" y2="749.85" stroke="#3a2f22" stroke-width="1.1" />
<line x1="1317.78" y1="736.38" x2="1327.78" y2="736.38" stroke="#3a2f22" stroke-width="1.1" />
<line x1="1317.78" y1="749.85" x2="1327.78" y2="749.85" stroke="#3a2f22" stroke-width="1.1" />
<line x1="1332.15" y1="724.25" x2="1332.15" y2="743.11" stroke="#3a2f22" stroke-width="1.1" />
<line x1="1327.15" y1="724.25" x2="1337.15" y2="724.25" stroke="#3a2f22" stroke-width="1.1" />
<line x1="1327.15" y1="743.11" x2="1337.15" y2="743.11" stroke="#3a2f22" stroke-width="1.1" />
<line x1="1341.52" y1="721.55" x2="1341.52" y2="736.38" stroke="#3a2f22" stroke-width="1.1" />
<line x1="1336.52" y1="721.55" x2="1346.52" y2="721.55" stroke="#3a2f22" stroke-width="1.1" />
<line x1="1336.52" y1="736.38" x2="1346.52" y2="736.38" stroke="#3a2f22" stroke-width="1.1" />
<line x1="1350.89" y1="704.71" x2="1350.89" y2="721.55" stroke="#3a2f22" stroke-width="1.1" />
<line x1="1345.89" y1="704.71" x2="1355.89" y2="704.71" stroke="#3a2f22" stroke-width="1.1" />
<line x1="1345.89" y1="721.55" x2="1355.89" y2="721.55" stroke="#3a2f22" stroke-width="1.1" />
<line x1="1360.27" y1="705.38" x2="1360.27" y2="721.55" stroke="#3a2f22" stroke-width="1.1" />
<line x1="1355.27" y1="705.38" x2="1365.27" y2="705.38" stroke="#3a2f22" stroke-width="1.1" />
<line x1="1355.27" y1="721.55" x2="1365.27" y2="721.55" stroke="#3a2f22" stroke-width="1.1" />
<line x1="1369.64" y1="699.31" x2="1369.64" y2="714.81" stroke="#3a2f22" stroke-width="1.1" />
<line x1="1364.64" y1="699.31" x2="1374.64" y2="699.31" stroke="#3a2f22" stroke-width="1.1" />
<line x1="1364.64" y1="714.81" x2="1374.64" y2="714.81" stroke="#3a2f22" stroke-width="1.1" />
<line x1="1379.01" y1="700.33" x2="1379.01" y2="717.17" stroke="#3a2f22" stroke-width="1.1" />
<line x1="1374.01" y1="700.33" x2="1384.01" y2="700.33" stroke="#3a2f22" stroke-width="1.1" />
<line x1="1374.01" y1="717.17" x2="1384.01" y2="717.17" stroke="#3a2f22" stroke-width="1.1" />
<line x1="1388.39" y1="703.69" x2="1388.39" y2="721.21" stroke="#3a2f22" stroke-width="1.1" />
<line x1="1383.39" y1="703.69" x2="1393.39" y2="703.69" stroke="#3a2f22" stroke-width="1.1" />
<line x1="1383.39" y1="721.21" x2="1393.39" y2="721.21" stroke="#3a2f22" stroke-width="1.1" />
<line x1="1397.76" y1="688.53" x2="1397.76" y2="707.40" stroke="#3a2f22" stroke-width="1.1" />
<line x1="1392.76" y1="688.53" x2="1402.76" y2="688.53" stroke="#3a2f22" stroke-width="1.1" />
<line x1="1392.76" y1="707.40" x2="1402.76" y2="707.40" stroke="#3a2f22" stroke-width="1.1" />
<line x1="1407.13" y1="685.16" x2="1407.13" y2="702.68" stroke="#3a2f22" stroke-width="1.1" />
<line x1="1402.13" y1="685.16" x2="1412.13" y2="685.16" stroke="#3a2f22" stroke-width="1.1" />
<line x1="1402.13" y1="702.68" x2="1412.13" y2="702.68" stroke="#3a2f22" stroke-width="1.1" />
<line x1="1416.50" y1="683.48" x2="1416.50" y2="696.96" stroke="#3a2f22" stroke-width="1.1" />
<line x1="1411.50" y1="683.48" x2="1421.50" y2="683.48" stroke="#3a2f22" stroke-width="1.1" />
<line x1="1411.50" y1="696.96" x2="1421.50" y2="696.96" stroke="#3a2f22" stroke-width="1.1" />
<line x1="1425.88" y1="685.84" x2="1425.88" y2="703.36" stroke="#3a2f22" stroke-width="1.1" />
<line x1="1420.88" y1="685.84" x2="1430.88" y2="685.84" stroke="#3a2f22" stroke-width="1.1" />
<line x1="1420.88" y1="703.36" x2="1430.88" y2="703.36" stroke="#3a2f22" stroke-width="1.1" />
<line x1="1435.25" y1="683.14" x2="1435.25" y2="700.66" stroke="#3a2f22" stroke-width="1.1" />
<line x1="1430.25" y1="683.14" x2="1440.25" y2="683.14" stroke="#3a2f22" stroke-width="1.1" />
<line x1="1430.25" y1="700.66" x2="1440.25" y2="700.66" stroke="#3a2f22" stroke-width="1.1" />
<line x1="1444.62" y1="676.40" x2="1444.62" y2="691.23" stroke="#3a2f22" stroke-width="1.1" />
<line x1="1439.62" y1="676.40" x2="1449.62" y2="676.40" stroke="#3a2f22" stroke-width="1.1" />
<line x1="1439.62" y1="691.23" x2="1449.62" y2="691.23" stroke="#3a2f22" stroke-width="1.1" />
<line x1="1454.00" y1="670.00" x2="1454.00" y2="683.48" stroke="#3a2f22" stroke-width="1.1" />
<line x1="1449.00" y1="670.00" x2="1459.00" y2="670.00" stroke="#3a2f22" stroke-width="1.1" />
<line x1="1449.00" y1="683.48" x2="1459.00" y2="683.48" stroke="#3a2f22" stroke-width="1.1" />
<line x1="1463.37" y1="662.59" x2="1463.37" y2="674.72" stroke="#3a2f22" stroke-width="1.1" />
<line x1="1458.37" y1="662.59" x2="1468.37" y2="662.59" stroke="#3a2f22" stroke-width="1.1" />
<line x1="1458.37" y1="674.72" x2="1468.37" y2="674.72" stroke="#3a2f22" stroke-width="1.1" />
<line x1="1482.11" y1="656.53" x2="1482.11" y2="666.63" stroke="#3a2f22" stroke-width="1.1" />
<line x1="1477.11" y1="656.53" x2="1487.11" y2="656.53" stroke="#3a2f22" stroke-width="1.1" />
<line x1="1477.11" y1="666.63" x2="1487.11" y2="666.63" stroke="#3a2f22" stroke-width="1.1" />
<line x1="1510.23" y1="659.22" x2="1510.23" y2="674.72" stroke="#3a2f22" stroke-width="1.1" />
<line x1="1505.23" y1="659.22" x2="1515.23" y2="659.22" stroke="#3a2f22" stroke-width="1.1" />
<line x1="1505.23" y1="674.72" x2="1515.23" y2="674.72" stroke="#3a2f22" stroke-width="1.1" />
<line x1="1566.47" y1="656.86" x2="1566.47" y2="672.36" stroke="#3a2f22" stroke-width="1.1" />
<line x1="1561.47" y1="656.86" x2="1571.47" y2="656.86" stroke="#3a2f22" stroke-width="1.1" />
<line x1="1561.47" y1="672.36" x2="1571.47" y2="672.36" stroke="#3a2f22" stroke-width="1.1" />
<line x1="1257.16" y1="914.27" x2="1257.16" y2="925.72" stroke="#111" stroke-width="1.1" />
<line x1="1252.16" y1="914.27" x2="1262.16" y2="914.27" stroke="#111" stroke-width="1.1" />
<line x1="1252.16" y1="925.72" x2="1262.16" y2="925.72" stroke="#111" stroke-width="1.1" />
<line x1="1275.91" y1="899.44" x2="1275.91" y2="912.25" stroke="#111" stroke-width="1.1" />
<line x1="1270.91" y1="899.44" x2="1280.91" y2="899.44" stroke="#111" stroke-width="1.1" />
<line x1="1270.91" y1="912.25" x2="1280.91" y2="912.25" stroke="#111" stroke-width="1.1" />
<line x1="1285.28" y1="894.73" x2="1285.28" y2="906.86" stroke="#111" stroke-width="1.1" />
<line x1="1280.28" y1="894.73" x2="1290.28" y2="894.73" stroke="#111" stroke-width="1.1" />
<line x1="1280.28" y1="906.86" x2="1290.28" y2="906.86" stroke="#111" stroke-width="1.1" />
<line x1="1294.66" y1="889.34" x2="1294.66" y2="900.12" stroke="#111" stroke-width="1.1" />
<line x1="1289.66" y1="889.34" x2="1299.66" y2="889.34" stroke="#111" stroke-width="1.1" />
<line x1="1289.66" y1="900.12" x2="1299.66" y2="900.12" stroke="#111" stroke-width="1.1" />
<line x1="1313.40" y1="900.45" x2="1313.40" y2="914.60" stroke="#111" stroke-width="1.1" />
<line x1="1308.40" y1="900.45" x2="1318.40" y2="900.45" stroke="#111" stroke-width="1.1" />
<line x1="1308.40" y1="914.60" x2="1318.40" y2="914.60" stroke="#111" stroke-width="1.1" />
<line x1="1322.78" y1="892.03" x2="1322.78" y2="904.83" stroke="#111" stroke-width="1.1" />
<line x1="1317.78" y1="892.03" x2="1327.78" y2="892.03" stroke="#111" stroke-width="1.1" />
<line x1="1317.78" y1="904.83" x2="1327.78" y2="904.83" stroke="#111" stroke-width="1.1" />
<line x1="1341.52" y1="894.05" x2="1341.52" y2="906.18" stroke="#111" stroke-width="1.1" />
<line x1="1336.52" y1="894.05" x2="1346.52" y2="894.05" stroke="#111" stroke-width="1.1" />
<line x1="1336.52" y1="906.18" x2="1346.52" y2="906.18" stroke="#111" stroke-width="1.1" />
<line x1="1350.89" y1="885.97" x2="1350.89" y2="896.75" stroke="#111" stroke-width="1.1" />
<line x1="1345.89" y1="885.97" x2="1355.89" y2="885.97" stroke="#111" stroke-width="1.1" />
<line x1="1345.89" y1="896.75" x2="1355.89" y2="896.75" stroke="#111" stroke-width="1.1" />
<line x1="1369.64" y1="884.62" x2="1369.64" y2="896.75" stroke="#111" stroke-width="1.1" />
<line x1="1364.64" y1="884.62" x2="1374.64" y2="884.62" stroke="#111" stroke-width="1.1" />
<line x1="1364.64" y1="896.75" x2="1374.64" y2="896.75" stroke="#111" stroke-width="1.1" />
<line x1="1379.01" y1="884.96" x2="1379.01" y2="895.06" stroke="#111" stroke-width="1.1" />
<line x1="1374.01" y1="884.96" x2="1384.01" y2="884.96" stroke="#111" stroke-width="1.1" />
<line x1="1374.01" y1="895.06" x2="1384.01" y2="895.06" stroke="#111" stroke-width="1.1" />
<line x1="1388.39" y1="877.21" x2="1388.39" y2="891.36" stroke="#111" stroke-width="1.1" />
<line x1="1383.39" y1="877.21" x2="1393.39" y2="877.21" stroke="#111" stroke-width="1.1" />
<line x1="1383.39" y1="891.36" x2="1393.39" y2="891.36" stroke="#111" stroke-width="1.1" />
<line x1="1425.88" y1="873.50" x2="1425.88" y2="884.96" stroke="#111" stroke-width="1.1" />
<line x1="1420.88" y1="873.50" x2="1430.88" y2="873.50" stroke="#111" stroke-width="1.1" />
<line x1="1420.88" y1="884.96" x2="1430.88" y2="884.96" stroke="#111" stroke-width="1.1" />
<line x1="1463.37" y1="867.77" x2="1463.37" y2="879.90" stroke="#111" stroke-width="1.1" />
<line x1="1458.37" y1="867.77" x2="1468.37" y2="867.77" stroke="#111" stroke-width="1.1" />
<line x1="1458.37" y1="879.90" x2="1468.37" y2="879.90" stroke="#111" stroke-width="1.1" />
<line x1="1482.11" y1="866.76" x2="1482.11" y2="876.87" stroke="#111" stroke-width="1.1" />
<line x1="1477.11" y1="866.76" x2="1487.11" y2="866.76" stroke="#111" stroke-width="1.1" />
<line x1="1477.11" y1="876.87" x2="1487.11" y2="876.87" stroke="#111" stroke-width="1.1" />
<line x1="1491.49" y1="867.10" x2="1491.49" y2="881.25" stroke="#111" stroke-width="1.1" />
<line x1="1486.49" y1="867.10" x2="1496.49" y2="867.10" stroke="#111" stroke-width="1.1" />
<line x1="1486.49" y1="881.25" x2="1496.49" y2="881.25" stroke="#111" stroke-width="1.1" />
<line x1="1500.86" y1="870.81" x2="1500.86" y2="886.30" stroke="#111" stroke-width="1.1" />
<line x1="1495.86" y1="870.81" x2="1505.86" y2="870.81" stroke="#111" stroke-width="1.1" />
<line x1="1495.86" y1="886.30" x2="1505.86" y2="886.30" stroke="#111" stroke-width="1.1" />
<line x1="1510.23" y1="872.49" x2="1510.23" y2="887.31" stroke="#111" stroke-width="1.1" />
<line x1="1505.23" y1="872.49" x2="1515.23" y2="872.49" stroke="#111" stroke-width="1.1" />
<line x1="1505.23" y1="887.31" x2="1515.23" y2="887.31" stroke="#111" stroke-width="1.1" />
<line x1="1519.61" y1="870.81" x2="1519.61" y2="885.63" stroke="#111" stroke-width="1.1" />
<line x1="1514.61" y1="870.81" x2="1524.61" y2="870.81" stroke="#111" stroke-width="1.1" />
<line x1="1514.61" y1="885.63" x2="1524.61" y2="885.63" stroke="#111" stroke-width="1.1" />
<line x1="1528.98" y1="878.55" x2="1528.98" y2="890.68" stroke="#111" stroke-width="1.1" />
<line x1="1523.98" y1="878.55" x2="1533.98" y2="878.55" stroke="#111" stroke-width="1.1" />
<line x1="1523.98" y1="890.68" x2="1533.98" y2="890.68" stroke="#111" stroke-width="1.1" />
<line x1="1538.35" y1="875.19" x2="1538.35" y2="892.03" stroke="#111" stroke-width="1.1" />
<line x1="1533.35" y1="875.19" x2="1543.35" y2="875.19" stroke="#111" stroke-width="1.1" />
<line x1="1533.35" y1="892.03" x2="1543.35" y2="892.03" stroke="#111" stroke-width="1.1" />
<line x1="1547.72" y1="883.27" x2="1547.72" y2="896.75" stroke="#111" stroke-width="1.1" />
<line x1="1542.72" y1="883.27" x2="1552.72" y2="883.27" stroke="#111" stroke-width="1.1" />
<line x1="1542.72" y1="896.75" x2="1552.72" y2="896.75" stroke="#111" stroke-width="1.1" />
<line x1="1557.10" y1="878.89" x2="1557.10" y2="894.39" stroke="#111" stroke-width="1.1" />
<line x1="1552.10" y1="878.89" x2="1562.10" y2="878.89" stroke="#111" stroke-width="1.1" />
<line x1="1552.10" y1="894.39" x2="1562.10" y2="894.39" stroke="#111" stroke-width="1.1" />
<line x1="1566.47" y1="886.98" x2="1566.47" y2="900.45" stroke="#111" stroke-width="1.1" />
<line x1="1561.47" y1="886.98" x2="1571.47" y2="886.98" stroke="#111" stroke-width="1.1" />
<line x1="1561.47" y1="900.45" x2="1571.47" y2="900.45" stroke="#111" stroke-width="1.1" />
<line x1="1585.22" y1="880.58" x2="1585.22" y2="898.10" stroke="#111" stroke-width="1.1" />
<line x1="1580.22" y1="880.58" x2="1590.22" y2="880.58" stroke="#111" stroke-width="1.1" />
<line x1="1580.22" y1="898.10" x2="1590.22" y2="898.10" stroke="#111" stroke-width="1.1" />
<line x1="1594.59" y1="888.66" x2="1594.59" y2="902.14" stroke="#111" stroke-width="1.1" />
<line x1="1589.59" y1="888.66" x2="1599.59" y2="888.66" stroke="#111" stroke-width="1.1" />
<line x1="1589.59" y1="902.14" x2="1599.59" y2="902.14" stroke="#111" stroke-width="1.1" />
<line x1="1603.96" y1="890.35" x2="1603.96" y2="903.82" stroke="#111" stroke-width="1.1" />
<line x1="1598.96" y1="890.35" x2="1608.96" y2="890.35" stroke="#111" stroke-width="1.1" />
<line x1="1598.96" y1="903.82" x2="1608.96" y2="903.82" stroke="#111" stroke-width="1.1" />
<line x1="1622.71" y1="892.70" x2="1622.71" y2="904.16" stroke="#111" stroke-width="1.1" />
<line x1="1617.71" y1="892.70" x2="1627.71" y2="892.70" stroke="#111" stroke-width="1.1" />
<line x1="1617.71" y1="904.16" x2="1627.71" y2="904.16" stroke="#111" stroke-width="1.1" />
<line x1="1650.83" y1="888.66" x2="1650.83" y2="900.79" stroke="#111" stroke-width="1.1" />
<line x1="1645.83" y1="888.66" x2="1655.83" y2="888.66" stroke="#111" stroke-width="1.1" />
<line x1="1645.83" y1="900.79" x2="1655.83" y2="900.79" stroke="#111" stroke-width="1.1" />
<line x1="1660.20" y1="887.65" x2="1660.20" y2="899.78" stroke="#111" stroke-width="1.1" />
<line x1="1655.20" y1="887.65" x2="1665.20" y2="887.65" stroke="#111" stroke-width="1.1" />
<line x1="1655.20" y1="899.78" x2="1665.20" y2="899.78" stroke="#111" stroke-width="1.1" />
<polyline points="1210.30,989.40 1219.67,863.06 1229.05,782.20 1238.42,735.36 1247.79,712.45 1257.16,697.97 1266.54,687.19 1275.91,688.20 1285.28,673.71 1294.66,669.67 1304.03,672.36 1313.40,658.88 1322.78,660.91 1332.15,656.19 1341.52,655.85 1350.89,657.87 1360.27,657.87 1369.64,656.86 1379.01,657.87 1388.39,658.21 1397.76,660.91 1407.13,659.90 1416.50,659.90 1425.88,656.19 1435.25,661.58 1444.62,662.59 1454.00,657.87 1463.37,656.86 1472.74,656.86 1482.11,667.98 1491.49,668.66 1496.17,686.85 1500.86,668.66 1510.23,658.88 1519.61,653.16 1528.98,652.48 1538.35,651.47 1547.72,651.47 1557.10,652.48 1566.47,652.48 1575.84,652.48 1585.22,652.48 1594.59,652.48 1603.96,652.48 1613.34,652.48 1622.71,675.06 1632.08,652.48 1641.45,652.48 1650.83,652.48 1660.20,652.48" fill="none" stroke="#97AFD4" stroke-width="1.0" stroke-linejoin="round" />
<path d="M1210.30,984.63 L1215.60,994.17 L1205.00,994.17 Z" fill="#97AFD4" stroke="none" stroke-width="1" />
<path d="M1219.67,858.29 L1224.97,867.83 L1214.37,867.83 Z" fill="#97AFD4" stroke="none" stroke-width="1" />
<path d="M1229.05,777.43 L1234.35,786.97 L1223.75,786.97 Z" fill="#97AFD4" stroke="none" stroke-width="1" />
<path d="M1238.42,730.59 L1243.72,740.13 L1233.12,740.13 Z" fill="#97AFD4" stroke="none" stroke-width="1" />
<path d="M1247.79,707.68 L1253.09,717.22 L1242.49,717.22 Z" fill="#97AFD4" stroke="none" stroke-width="1" />
<path d="M1257.16,693.20 L1262.46,702.74 L1251.86,702.74 Z" fill="#97AFD4" stroke="none" stroke-width="1" />
<path d="M1266.54,682.42 L1271.84,691.96 L1261.24,691.96 Z" fill="#97AFD4" stroke="none" stroke-width="1" />
<path d="M1275.91,683.43 L1281.21,692.97 L1270.61,692.97 Z" fill="#97AFD4" stroke="none" stroke-width="1" />
<path d="M1285.28,668.94 L1290.58,678.48 L1279.98,678.48 Z" fill="#97AFD4" stroke="none" stroke-width="1" />
<path d="M1294.66,664.90 L1299.96,674.44 L1289.36,674.44 Z" fill="#97AFD4" stroke="none" stroke-width="1" />
<path d="M1304.03,667.59 L1309.33,677.13 L1298.73,677.13 Z" fill="#97AFD4" stroke="none" stroke-width="1" />
<path d="M1313.40,654.11 L1318.70,663.65 L1308.10,663.65 Z" fill="#97AFD4" stroke="none" stroke-width="1" />
<path d="M1322.78,656.14 L1328.08,665.68 L1317.48,665.68 Z" fill="#97AFD4" stroke="none" stroke-width="1" />
<path d="M1332.15,651.42 L1337.45,660.96 L1326.85,660.96 Z" fill="#97AFD4" stroke="none" stroke-width="1" />
<path d="M1341.52,651.08 L1346.82,660.62 L1336.22,660.62 Z" fill="#97AFD4" stroke="none" stroke-width="1" />
<path d="M1350.89,653.10 L1356.19,662.64 L1345.59,662.64 Z" fill="#97AFD4" stroke="none" stroke-width="1" />
<path d="M1360.27,653.10 L1365.57,662.64 L1354.97,662.64 Z" fill="#97AFD4" stroke="none" stroke-width="1" />
<path d="M1369.64,652.09 L1374.94,661.63 L1364.34,661.63 Z" fill="#97AFD4" stroke="none" stroke-width="1" />
<path d="M1379.01,653.10 L1384.31,662.64 L1373.71,662.64 Z" fill="#97AFD4" stroke="none" stroke-width="1" />
<path d="M1388.39,653.44 L1393.69,662.98 L1383.09,662.98 Z" fill="#97AFD4" stroke="none" stroke-width="1" />
<path d="M1397.76,656.14 L1403.06,665.68 L1392.46,665.68 Z" fill="#97AFD4" stroke="none" stroke-width="1" />
<path d="M1407.13,655.13 L1412.43,664.67 L1401.83,664.67 Z" fill="#97AFD4" stroke="none" stroke-width="1" />
<path d="M1416.50,655.13 L1421.80,664.67 L1411.20,664.67 Z" fill="#97AFD4" stroke="none" stroke-width="1" />
<path d="M1425.88,651.42 L1431.18,660.96 L1420.58,660.96 Z" fill="#97AFD4" stroke="none" stroke-width="1" />
<path d="M1435.25,656.81 L1440.55,666.35 L1429.95,666.35 Z" fill="#97AFD4" stroke="none" stroke-width="1" />
<path d="M1444.62,657.82 L1449.92,667.36 L1439.32,667.36 Z" fill="#97AFD4" stroke="none" stroke-width="1" />
<path d="M1454.00,653.10 L1459.30,662.64 L1448.70,662.64 Z" fill="#97AFD4" stroke="none" stroke-width="1" />
<path d="M1463.37,652.09 L1468.67,661.63 L1458.07,661.63 Z" fill="#97AFD4" stroke="none" stroke-width="1" />
<path d="M1472.74,652.09 L1478.04,661.63 L1467.44,661.63 Z" fill="#97AFD4" stroke="none" stroke-width="1" />
<path d="M1482.11,663.21 L1487.41,672.75 L1476.81,672.75 Z" fill="#97AFD4" stroke="none" stroke-width="1" />
<path d="M1491.49,663.89 L1496.79,673.43 L1486.19,673.43 Z" fill="#97AFD4" stroke="none" stroke-width="1" />
<path d="M1496.17,682.08 L1501.47,691.62 L1490.87,691.62 Z" fill="#97AFD4" stroke="none" stroke-width="1" />
<path d="M1500.86,663.89 L1506.16,673.43 L1495.56,673.43 Z" fill="#97AFD4" stroke="none" stroke-width="1" />
<path d="M1510.23,654.11 L1515.53,663.65 L1504.93,663.65 Z" fill="#97AFD4" stroke="none" stroke-width="1" />
<path d="M1519.61,648.39 L1524.91,657.93 L1514.31,657.93 Z" fill="#97AFD4" stroke="none" stroke-width="1" />
<path d="M1528.98,647.71 L1534.28,657.25 L1523.68,657.25 Z" fill="#97AFD4" stroke="none" stroke-width="1" />
<path d="M1538.35,646.70 L1543.65,656.24 L1533.05,656.24 Z" fill="#97AFD4" stroke="none" stroke-width="1" />
<path d="M1547.72,646.70 L1553.02,656.24 L1542.42,656.24 Z" fill="#97AFD4" stroke="none" stroke-width="1" />
<path d="M1557.10,647.71 L1562.40,657.25 L1551.80,657.25 Z" fill="#97AFD4" stroke="none" stroke-width="1" />
<path d="M1566.47,647.71 L1571.77,657.25 L1561.17,657.25 Z" fill="#97AFD4" stroke="none" stroke-width="1" />
<path d="M1575.84,647.71 L1581.14,657.25 L1570.54,657.25 Z" fill="#97AFD4" stroke="none" stroke-width="1" />
<path d="M1585.22,647.71 L1590.52,657.25 L1579.92,657.25 Z" fill="#97AFD4" stroke="none" stroke-width="1" />
<path d="M1594.59,647.71 L1599.89,657.25 L1589.29,657.25 Z" fill="#97AFD4" stroke="none" stroke-width="1" />
<path d="M1603.96,647.71 L1609.26,657.25 L1598.66,657.25 Z" fill="#97AFD4" stroke="none" stroke-width="1" />
<path d="M1613.34,647.71 L1618.64,657.25 L1608.04,657.25 Z" fill="#97AFD4" stroke="none" stroke-width="1" />
<path d="M1622.71,670.29 L1628.01,679.83 L1617.41,679.83 Z" fill="#97AFD4" stroke="none" stroke-width="1" />
<path d="M1632.08,647.71 L1637.38,657.25 L1626.78,657.25 Z" fill="#97AFD4" stroke="none" stroke-width="1" />
<path d="M1641.45,647.71 L1646.75,657.25 L1636.15,657.25 Z" fill="#97AFD4" stroke="none" stroke-width="1" />
<path d="M1650.83,647.71 L1656.13,657.25 L1645.53,657.25 Z" fill="#97AFD4" stroke="none" stroke-width="1" />
<path d="M1660.20,647.71 L1665.50,657.25 L1654.90,657.25 Z" fill="#97AFD4" stroke="none" stroke-width="1" />
<polyline points="1210.30,987.38 1219.67,939.20 1229.05,896.07 1238.42,862.05 1247.79,832.73 1257.16,814.54 1266.54,807.13 1275.91,789.27 1285.28,779.84 1294.66,762.99 1304.03,752.88 1313.40,750.86 1322.78,743.11 1332.15,733.68 1341.52,728.96 1350.89,713.13 1360.27,713.47 1369.64,707.06 1379.01,708.75 1388.39,712.45 1397.76,697.97 1407.13,693.92 1416.50,690.22 1425.88,694.60 1435.25,691.90 1444.62,683.82 1454.00,676.74 1463.37,668.66 1472.74,666.30 1482.11,661.58 1491.49,660.91 1496.17,660.91 1500.86,660.91 1510.23,666.97 1519.61,665.96 1528.98,660.91 1538.35,657.87 1547.72,658.88 1557.10,661.58 1566.47,664.61 1575.84,652.82 1585.22,652.82 1594.59,652.82 1603.96,652.82 1613.34,652.82 1622.71,652.82 1632.08,652.82 1641.45,652.82 1650.83,652.82 1660.20,652.82" fill="none" stroke="#E8A55E" stroke-width="1.0" stroke-linejoin="round" />
<rect x="1205.30" y="982.38" width="10.00" height="10.00" fill="#E8A55E" stroke="none" stroke-width="1" />
<rect x="1214.67" y="934.20" width="10.00" height="10.00" fill="#E8A55E" stroke="none" stroke-width="1" />
<rect x="1224.05" y="891.07" width="10.00" height="10.00" fill="#E8A55E" stroke="none" stroke-width="1" />
<rect x="1233.42" y="857.05" width="10.00" height="10.00" fill="#E8A55E" stroke="none" stroke-width="1" />
<rect x="1242.79" y="827.73" width="10.00" height="10.00" fill="#E8A55E" stroke="none" stroke-width="1" />
<rect x="1252.16" y="809.54" width="10.00" height="10.00" fill="#E8A55E" stroke="none" stroke-width="1" />
<rect x="1261.54" y="802.13" width="10.00" height="10.00" fill="#E8A55E" stroke="none" stroke-width="1" />
<rect x="1270.91" y="784.27" width="10.00" height="10.00" fill="#E8A55E" stroke="none" stroke-width="1" />
<rect x="1280.28" y="774.84" width="10.00" height="10.00" fill="#E8A55E" stroke="none" stroke-width="1" />
<rect x="1289.66" y="757.99" width="10.00" height="10.00" fill="#E8A55E" stroke="none" stroke-width="1" />
<rect x="1299.03" y="747.88" width="10.00" height="10.00" fill="#E8A55E" stroke="none" stroke-width="1" />
<rect x="1308.40" y="745.86" width="10.00" height="10.00" fill="#E8A55E" stroke="none" stroke-width="1" />
<rect x="1317.78" y="738.11" width="10.00" height="10.00" fill="#E8A55E" stroke="none" stroke-width="1" />
<rect x="1327.15" y="728.68" width="10.00" height="10.00" fill="#E8A55E" stroke="none" stroke-width="1" />
<rect x="1336.52" y="723.96" width="10.00" height="10.00" fill="#E8A55E" stroke="none" stroke-width="1" />
<rect x="1345.89" y="708.13" width="10.00" height="10.00" fill="#E8A55E" stroke="none" stroke-width="1" />
<rect x="1355.27" y="708.47" width="10.00" height="10.00" fill="#E8A55E" stroke="none" stroke-width="1" />
<rect x="1364.64" y="702.06" width="10.00" height="10.00" fill="#E8A55E" stroke="none" stroke-width="1" />
<rect x="1374.01" y="703.75" width="10.00" height="10.00" fill="#E8A55E" stroke="none" stroke-width="1" />
<rect x="1383.39" y="707.45" width="10.00" height="10.00" fill="#E8A55E" stroke="none" stroke-width="1" />
<rect x="1392.76" y="692.97" width="10.00" height="10.00" fill="#E8A55E" stroke="none" stroke-width="1" />
<rect x="1402.13" y="688.92" width="10.00" height="10.00" fill="#E8A55E" stroke="none" stroke-width="1" />
<rect x="1411.50" y="685.22" width="10.00" height="10.00" fill="#E8A55E" stroke="none" stroke-width="1" />
<rect x="1420.88" y="689.60" width="10.00" height="10.00" fill="#E8A55E" stroke="none" stroke-width="1" />
<rect x="1430.25" y="686.90" width="10.00" height="10.00" fill="#E8A55E" stroke="none" stroke-width="1" />
<rect x="1439.62" y="678.82" width="10.00" height="10.00" fill="#E8A55E" stroke="none" stroke-width="1" />
<rect x="1449.00" y="671.74" width="10.00" height="10.00" fill="#E8A55E" stroke="none" stroke-width="1" />
<rect x="1458.37" y="663.66" width="10.00" height="10.00" fill="#E8A55E" stroke="none" stroke-width="1" />
<rect x="1467.74" y="661.30" width="10.00" height="10.00" fill="#E8A55E" stroke="none" stroke-width="1" />
<rect x="1477.11" y="656.58" width="10.00" height="10.00" fill="#E8A55E" stroke="none" stroke-width="1" />
<rect x="1486.49" y="655.91" width="10.00" height="10.00" fill="#E8A55E" stroke="none" stroke-width="1" />
<rect x="1491.17" y="655.91" width="10.00" height="10.00" fill="#E8A55E" stroke="none" stroke-width="1" />
<rect x="1495.86" y="655.91" width="10.00" height="10.00" fill="#E8A55E" stroke="none" stroke-width="1" />
<rect x="1505.23" y="661.97" width="10.00" height="10.00" fill="#E8A55E" stroke="none" stroke-width="1" />
<rect x="1514.61" y="660.96" width="10.00" height="10.00" fill="#E8A55E" stroke="none" stroke-width="1" />
<rect x="1523.98" y="655.91" width="10.00" height="10.00" fill="#E8A55E" stroke="none" stroke-width="1" />
<rect x="1533.35" y="652.87" width="10.00" height="10.00" fill="#E8A55E" stroke="none" stroke-width="1" />
<rect x="1542.72" y="653.88" width="10.00" height="10.00" fill="#E8A55E" stroke="none" stroke-width="1" />
<rect x="1552.10" y="656.58" width="10.00" height="10.00" fill="#E8A55E" stroke="none" stroke-width="1" />
<rect x="1561.47" y="659.61" width="10.00" height="10.00" fill="#E8A55E" stroke="none" stroke-width="1" />
<rect x="1570.84" y="647.82" width="10.00" height="10.00" fill="#E8A55E" stroke="none" stroke-width="1" />
<rect x="1580.22" y="647.82" width="10.00" height="10.00" fill="#E8A55E" stroke="none" stroke-width="1" />
<rect x="1589.59" y="647.82" width="10.00" height="10.00" fill="#E8A55E" stroke="none" stroke-width="1" />
<rect x="1598.96" y="647.82" width="10.00" height="10.00" fill="#E8A55E" stroke="none" stroke-width="1" />
<rect x="1608.34" y="647.82" width="10.00" height="10.00" fill="#E8A55E" stroke="none" stroke-width="1" />
<rect x="1617.71" y="647.82" width="10.00" height="10.00" fill="#E8A55E" stroke="none" stroke-width="1" />
<rect x="1627.08" y="647.82" width="10.00" height="10.00" fill="#E8A55E" stroke="none" stroke-width="1" />
<rect x="1636.45" y="647.82" width="10.00" height="10.00" fill="#E8A55E" stroke="none" stroke-width="1" />
<rect x="1645.83" y="647.82" width="10.00" height="10.00" fill="#E8A55E" stroke="none" stroke-width="1" />
<rect x="1655.20" y="647.82" width="10.00" height="10.00" fill="#E8A55E" stroke="none" stroke-width="1" />
<polyline points="1210.30,987.38 1219.67,961.10 1229.05,942.91 1238.42,936.84 1247.79,928.42 1257.16,920.00 1266.54,911.91 1275.91,905.84 1285.28,900.79 1294.66,894.73 1304.03,903.49 1313.40,907.53 1322.78,898.43 1332.15,896.07 1341.52,900.12 1350.89,891.36 1360.27,886.30 1369.64,890.68 1379.01,890.01 1388.39,884.28 1397.76,889.34 1407.13,879.90 1416.50,880.58 1425.88,879.23 1435.25,875.86 1444.62,872.15 1454.00,875.52 1463.37,873.84 1472.74,878.55 1482.11,871.82 1491.49,874.17 1496.17,875.52 1500.86,878.55 1510.23,879.90 1519.61,878.22 1528.98,884.62 1538.35,883.61 1547.72,890.01 1557.10,886.64 1566.47,893.72 1575.84,893.04 1585.22,889.34 1594.59,895.40 1603.96,897.08 1613.34,897.42 1622.71,898.43 1632.08,897.08 1641.45,896.41 1650.83,894.73 1660.20,893.72" fill="none" stroke="#5E5E5E" stroke-width="1.0" stroke-linejoin="round" />
<circle cx="1210.30" cy="987.38" r="4.60" fill="#5E5E5E" stroke="none" stroke-width="1" />
<circle cx="1219.67" cy="961.10" r="4.60" fill="#5E5E5E" stroke="none" stroke-width="1" />
<circle cx="1229.05" cy="942.91" r="4.60" fill="#5E5E5E" stroke="none" stroke-width="1" />
<circle cx="1238.42" cy="936.84" r="4.60" fill="#5E5E5E" stroke="none" stroke-width="1" />
<circle cx="1247.79" cy="928.42" r="4.60" fill="#5E5E5E" stroke="none" stroke-width="1" />
<circle cx="1257.16" cy="920.00" r="4.60" fill="#5E5E5E" stroke="none" stroke-width="1" />
<circle cx="1266.54" cy="911.91" r="4.60" fill="#5E5E5E" stroke="none" stroke-width="1" />
<circle cx="1275.91" cy="905.84" r="4.60" fill="#5E5E5E" stroke="none" stroke-width="1" />
<circle cx="1285.28" cy="900.79" r="4.60" fill="#5E5E5E" stroke="none" stroke-width="1" />
<circle cx="1294.66" cy="894.73" r="4.60" fill="#5E5E5E" stroke="none" stroke-width="1" />
<circle cx="1304.03" cy="903.49" r="4.60" fill="#5E5E5E" stroke="none" stroke-width="1" />
<circle cx="1313.40" cy="907.53" r="4.60" fill="#5E5E5E" stroke="none" stroke-width="1" />
<circle cx="1322.78" cy="898.43" r="4.60" fill="#5E5E5E" stroke="none" stroke-width="1" />
<circle cx="1332.15" cy="896.07" r="4.60" fill="#5E5E5E" stroke="none" stroke-width="1" />
<circle cx="1341.52" cy="900.12" r="4.60" fill="#5E5E5E" stroke="none" stroke-width="1" />
<circle cx="1350.89" cy="891.36" r="4.60" fill="#5E5E5E" stroke="none" stroke-width="1" />
<circle cx="1360.27" cy="886.30" r="4.60" fill="#5E5E5E" stroke="none" stroke-width="1" />
<circle cx="1369.64" cy="890.68" r="4.60" fill="#5E5E5E" stroke="none" stroke-width="1" />
<circle cx="1379.01" cy="890.01" r="4.60" fill="#5E5E5E" stroke="none" stroke-width="1" />
<circle cx="1388.39" cy="884.28" r="4.60" fill="#5E5E5E" stroke="none" stroke-width="1" />
<circle cx="1397.76" cy="889.34" r="4.60" fill="#5E5E5E" stroke="none" stroke-width="1" />
<circle cx="1407.13" cy="879.90" r="4.60" fill="#5E5E5E" stroke="none" stroke-width="1" />
<circle cx="1416.50" cy="880.58" r="4.60" fill="#5E5E5E" stroke="none" stroke-width="1" />
<circle cx="1425.88" cy="879.23" r="4.60" fill="#5E5E5E" stroke="none" stroke-width="1" />
<circle cx="1435.25" cy="875.86" r="4.60" fill="#5E5E5E" stroke="none" stroke-width="1" />
<circle cx="1444.62" cy="872.15" r="4.60" fill="#5E5E5E" stroke="none" stroke-width="1" />
<circle cx="1454.00" cy="875.52" r="4.60" fill="#5E5E5E" stroke="none" stroke-width="1" />
<circle cx="1463.37" cy="873.84" r="4.60" fill="#5E5E5E" stroke="none" stroke-width="1" />
<circle cx="1472.74" cy="878.55" r="4.60" fill="#5E5E5E" stroke="none" stroke-width="1" />
<circle cx="1482.11" cy="871.82" r="4.60" fill="#5E5E5E" stroke="none" stroke-width="1" />
<circle cx="1491.49" cy="874.17" r="4.60" fill="#5E5E5E" stroke="none" stroke-width="1" />
<circle cx="1496.17" cy="875.52" r="4.60" fill="#5E5E5E" stroke="none" stroke-width="1" />
<circle cx="1500.86" cy="878.55" r="4.60" fill="#5E5E5E" stroke="none" stroke-width="1" />
<circle cx="1510.23" cy="879.90" r="4.60" fill="#5E5E5E" stroke="none" stroke-width="1" />
<circle cx="1519.61" cy="878.22" r="4.60" fill="#5E5E5E" stroke="none" stroke-width="1" />
<circle cx="1528.98" cy="884.62" r="4.60" fill="#5E5E5E" stroke="none" stroke-width="1" />
<circle cx="1538.35" cy="883.61" r="4.60" fill="#5E5E5E" stroke="none" stroke-width="1" />
<circle cx="1547.72" cy="890.01" r="4.60" fill="#5E5E5E" stroke="none" stroke-width="1" />
<circle cx="1557.10" cy="886.64" r="4.60" fill="#5E5E5E" stroke="none" stroke-width="1" />
<circle cx="1566.47" cy="893.72" r="4.60" fill="#5E5E5E" stroke="none" stroke-width="1" />
<circle cx="1575.84" cy="893.04" r="4.60" fill="#5E5E5E" stroke="none" stroke-width="1" />
<circle cx="1585.22" cy="889.34" r="4.60" fill="#5E5E5E" stroke="none" stroke-width="1" />
<circle cx="1594.59" cy="895.40" r="4.60" fill="#5E5E5E" stroke="none" stroke-width="1" />
<circle cx="1603.96" cy="897.08" r="4.60" fill="#5E5E5E" stroke="none" stroke-width="1" />
<circle cx="1613.34" cy="897.42" r="4.60" fill="#5E5E5E" stroke="none" stroke-width="1" />
<circle cx="1622.71" cy="898.43" r="4.60" fill="#5E5E5E" stroke="none" stroke-width="1" />
<circle cx="1632.08" cy="897.08" r="4.60" fill="#5E5E5E" stroke="none" stroke-width="1" />
<circle cx="1641.45" cy="896.41" r="4.60" fill="#5E5E5E" stroke="none" stroke-width="1" />
<circle cx="1650.83" cy="894.73" r="4.60" fill="#5E5E5E" stroke="none" stroke-width="1" />
<circle cx="1660.20" cy="893.72" r="4.60" fill="#5E5E5E" stroke="none" stroke-width="1" />
<line x1="77.90" y1="1276.20" x2="77.90" y2="1683.50" stroke="#000" stroke-width="2.2" />
<line x1="76.80" y1="1682.40" x2="527.40" y2="1682.40" stroke="#000" stroke-width="2.2" />
<line x1="69.90" y1="1682.40" x2="77.90" y2="1682.40" stroke="#000" stroke-width="2.0" />
<text x="57.2" y="1687.1" font-size="13.40" fill="#000" font-weight="bold" font-family="'Liberation Sans', Arial, sans-serif">0</text>
<line x1="69.90" y1="1614.88" x2="77.90" y2="1614.88" stroke="#000" stroke-width="2.0" />
<text x="49.7" y="1619.6" font-size="13.40" fill="#000" font-weight="bold" font-family="'Liberation Sans', Arial, sans-serif">20</text>
<line x1="69.90" y1="1547.37" x2="77.90" y2="1547.37" stroke="#000" stroke-width="2.0" />
<text x="49.7" y="1552.1" font-size="13.40" fill="#000" font-weight="bold" font-family="'Liberation Sans', Arial, sans-serif">40</text>
<line x1="69.90" y1="1479.85" x2="77.90" y2="1479.85" stroke="#000" stroke-width="2.0" />
<text x="49.7" y="1484.5" font-size="13.40" fill="#000" font-weight="bold" font-family="'Liberation Sans', Arial, sans-serif">60</text>
<line x1="69.90" y1="1412.33" x2="77.90" y2="1412.33" stroke="#000" stroke-width="2.0" />
<text x="49.7" y="1417.0" font-size="13.40" fill="#000" font-weight="bold" font-family="'Liberation Sans', Arial, sans-serif">80</text>
<line x1="69.90" y1="1344.82" x2="77.90" y2="1344.82" stroke="#000" stroke-width="2.0" />
<text x="42.2" y="1349.5" font-size="13.40" fill="#000" font-weight="bold" font-family="'Liberation Sans', Arial, sans-serif">100</text>
<line x1="69.90" y1="1277.30" x2="77.90" y2="1277.30" stroke="#000" stroke-width="2.0" />
<text x="42.2" y="1282.0" font-size="13.40" fill="#000" font-weight="bold" font-family="'Liberation Sans', Arial, sans-serif">120</text>
<line x1="77.90" y1="1682.40" x2="77.90" y2="1692.40" stroke="#000" stroke-width="2.0" />
<text x="64.1" y="1707.4" font-size="14.20" fill="#000" font-family="'Liberation Sans', Arial, sans-serif">0.00</text>
<line x1="179.28" y1="1682.40" x2="179.28" y2="1692.40" stroke="#000" stroke-width="2.0" />
<text x="165.5" y="1707.4" font-size="14.20" fill="#000" font-family="'Liberation Sans', Arial, sans-serif">2.25</text>
<line x1="280.65" y1="1682.40" x2="280.65" y2="1692.40" stroke="#000" stroke-width="2.0" />
<text x="266.8" y="1707.4" font-size="14.20" fill="#000" font-family="'Liberation Sans', Arial, sans-serif">4.50</text>
<line x1="382.02" y1="1682.40" x2="382.02" y2="1692.40" stroke="#000" stroke-width="2.0" />
<text x="368.2" y="1707.4" font-size="14.20" fill="#000" font-family="'Liberation Sans', Arial, sans-serif">6.75</text>
<line x1="483.40" y1="1682.40" x2="483.40" y2="1692.40" stroke="#000" stroke-width="2.0" />
<text x="469.6" y="1707.4" font-size="14.20" fill="#000" font-family="'Liberation Sans', Arial, sans-serif">9.00</text>
<text x="197.7" y="1264.1" font-size="17.33" fill="#000" font-weight="bold" textLength="209.9" lengthAdjust="spacingAndGlyphs" font-family="'Liberation Sans', Arial, sans-serif">24 hrs NALM6 Cell Killing</text>
<text x="33.5" y="1540.4" font-size="15.99" fill="#000" font-weight="bold" font-family="'Liberation Sans', Arial, sans-serif" textLength="120.8" lengthAdjust="spacingAndGlyphs" transform="rotate(-90 33.5 1540.4)" >Cytotoxicity (%)</text>
<text x="292.3" y="1730.5" font-size="13.50" fill="#000" font-weight="bold" font-family="'Liberation Sans', Arial, sans-serif">E:T</text>
<line x1="179.28" y1="1513.60" x2="179.28" y2="1538.70" stroke="#2F4E7E" stroke-width="1.5" />
<line x1="172.78" y1="1513.60" x2="185.78" y2="1513.60" stroke="#2F4E7E" stroke-width="1.6" />
<line x1="172.78" y1="1538.70" x2="185.78" y2="1538.70" stroke="#2F4E7E" stroke-width="1.6" />
<line x1="280.65" y1="1377.80" x2="280.65" y2="1396.40" stroke="#2F4E7E" stroke-width="1.5" />
<line x1="274.15" y1="1377.80" x2="287.15" y2="1377.80" stroke="#2F4E7E" stroke-width="1.6" />
<line x1="274.15" y1="1396.40" x2="287.15" y2="1396.40" stroke="#2F4E7E" stroke-width="1.6" />
<line x1="280.65" y1="1525.00" x2="280.65" y2="1554.70" stroke="#3a2f22" stroke-width="1.5" />
<line x1="274.15" y1="1525.00" x2="287.15" y2="1525.00" stroke="#3a2f22" stroke-width="1.6" />
<line x1="274.15" y1="1554.70" x2="287.15" y2="1554.70" stroke="#3a2f22" stroke-width="1.6" />
<polyline points="179.28,1652.70 280.65,1632.30 483.40,1590.10" fill="none" stroke="#5E5E5E" stroke-width="1.6" stroke-linejoin="round" />
<polyline points="179.28,1603.70 280.65,1540.40 483.40,1435.70" fill="none" stroke="#E8A55E" stroke-width="1.6" stroke-linejoin="round" />
<polyline points="179.28,1526.10 280.65,1388.10 483.40,1353.50" fill="none" stroke="#97AFD4" stroke-width="1.6" stroke-linejoin="round" />
<circle cx="179.28" cy="1652.70" r="7.20" fill="#5E5E5E" stroke="none" stroke-width="1" />
<circle cx="280.65" cy="1632.30" r="7.20" fill="#5E5E5E" stroke="none" stroke-width="1" />
<circle cx="483.40" cy="1590.10" r="7.20" fill="#5E5E5E" stroke="none" stroke-width="1" />
<rect x="171.47" y="1595.90" width="15.60" height="15.60" fill="#E8A55E" stroke="none" stroke-width="1" />
<rect x="272.85" y="1532.60" width="15.60" height="15.60" fill="#E8A55E" stroke="none" stroke-width="1" />
<rect x="475.60" y="1427.90" width="15.60" height="15.60" fill="#E8A55E" stroke="none" stroke-width="1" />
<path d="M179.28,1519.08 L187.08,1533.12 L171.47,1533.12 Z" fill="#97AFD4" stroke="none" stroke-width="1" />
<path d="M280.65,1381.08 L288.45,1395.12 L272.85,1395.12 Z" fill="#97AFD4" stroke="none" stroke-width="1" />
<path d="M483.40,1346.48 L491.20,1360.52 L475.60,1360.52 Z" fill="#97AFD4" stroke="none" stroke-width="1" />
<line x1="514.50" y1="1286.20" x2="537.50" y2="1286.20" stroke="#5E5E5E" stroke-width="1.4" />
<circle cx="525.60" cy="1286.20" r="7.00" fill="#5E5E5E" stroke="none" stroke-width="1" />
<line x1="514.50" y1="1311.30" x2="537.50" y2="1311.30" stroke="#E8A55E" stroke-width="1.4" />
<rect x="518.40" y="1304.10" width="14.40" height="14.40" fill="#E8A55E" stroke="none" stroke-width="1" />
<line x1="514.50" y1="1336.30" x2="537.50" y2="1336.30" stroke="#97AFD4" stroke-width="1.4" />
<path d="M525.60,1329.73 L532.90,1342.87 L518.30,1342.87 Z" fill="#97AFD4" stroke="none" stroke-width="1" />
<text x="548.8" y="1291.6" font-size="14.80" fill="#000" font-family="'Liberation Sans', Arial, sans-serif">Mock</text>
<text x="548.8" y="1316.7" font-size="14.80" fill="#000" font-family="'Liberation Sans', Arial, sans-serif">WT Cas mRNA</text>
<text x="548.8" y="1341.7" font-size="14.80" fill="#000" font-family="'Liberation Sans', Arial, sans-serif">GSFECO Cas mRNA</text>
<ellipse cx="1087.9" cy="1289.2" rx="305.9" ry="140.3" fill="#F3F6EF" stroke="#A3AFD0" stroke-width="1.1"/>
<ellipse cx="1211.6" cy="1283.4" rx="155.2" ry="113.0" fill="#F5F8FC"/>
<ellipse cx="1211.6" cy="1283.4" rx="151.2" ry="109.0" fill="none" stroke-linecap="round" stroke-dasharray="43.77,15.38" stroke-dashoffset="44.36" stroke="#B3C6DC" stroke-width="6.4"/>
<ellipse cx="1211.6" cy="1283.4" rx="151.2" ry="109.0" fill="none" stroke-linecap="round" stroke-dasharray="43.77,15.38" stroke-dashoffset="44.36" stroke="#E1ECF7" stroke-width="3.6"/>
<text x="995.7" y="1198.4" font-size="15.68" fill="#92A4D4" font-weight="bold" textLength="80.1" lengthAdjust="spacingAndGlyphs" font-family="'Liberation Sans', Arial, sans-serif">Cytoplasm</text>
<text x="1236.8" y="1213.4" font-size="15.50" fill="#92A4D4" font-weight="bold" textLength="60.3" lengthAdjust="spacingAndGlyphs" font-family="'Liberation Sans', Arial, sans-serif">Nucleus</text>
<path d="M845.4,1244.0 L845.5,1241.9 L848.0,1221.5 L848.5,1218.9 L849.3,1216.4 L850.4,1214.0 L851.8,1211.8 L853.5,1209.8 L855.4,1208.0 L857.5,1206.5 L859.8,1205.4 L862.1,1204.5 L864.6,1204.0 L867.1,1203.8 L869.7,1204.0 L872.1,1204.5 L874.5,1205.4 L876.8,1206.5 L878.9,1208.0 L880.8,1209.8 L882.5,1211.8 L883.9,1214.0 L885.0,1216.4 L885.8,1218.9 L886.3,1221.5 L886.4,1224.1 L886.3,1226.8 L885.8,1229.4 L885.0,1231.9 L883.9,1234.3 L874.2,1252.2 L873.1,1253.9 L871.7,1255.5 L870.2,1256.9 L868.5,1258.1 L866.7,1259.0 L864.8,1259.7 L862.8,1260.2 L860.8,1260.3 L858.8,1260.2 L856.8,1259.7 L854.9,1259.0 L853.1,1258.1 L851.4,1256.9 L849.9,1255.5 L848.6,1253.9 L847.5,1252.2 L846.5,1250.3 L845.9,1248.2 L845.5,1246.2 Z M818.7,1256.6 L818.9,1253.8 L819.4,1251.1 L820.2,1248.4 L821.4,1245.9 L822.9,1243.6 L824.7,1241.5 L826.7,1239.6 L828.9,1238.1 L831.3,1236.8 L833.8,1235.9 L836.4,1235.4 L839.1,1235.2 L841.7,1235.4 L844.3,1235.9 L866.6,1242.4 L868.7,1243.2 L870.6,1244.2 L872.5,1245.5 L874.1,1247.0 L875.6,1248.8 L876.8,1250.7 L877.8,1252.8 L878.5,1255.0 L878.9,1257.2 L879.1,1259.5 L878.9,1261.9 L878.5,1264.1 L877.8,1266.3 L876.8,1268.4 L875.6,1270.3 L874.1,1272.1 L872.5,1273.6 L870.6,1274.9 L868.7,1275.9 L866.6,1276.7 L864.4,1277.1 L862.2,1277.3 L839.1,1278.0 L836.4,1277.8 L833.8,1277.3 L831.3,1276.4 L828.9,1275.1 L826.7,1273.6 L824.7,1271.7 L822.9,1269.6 L821.4,1267.3 L820.2,1264.8 L819.4,1262.1 L818.9,1259.4 Z M845.4,1244.0 L845.5,1241.9 L845.9,1239.8 L846.5,1237.8 L847.5,1235.9 L848.6,1234.2 L849.9,1232.6 L851.4,1231.2 L853.1,1230.0 L854.9,1229.0 L856.8,1228.4 L858.8,1228.0 L860.8,1227.8 L862.8,1228.0 L864.8,1228.4 L866.7,1229.0 L868.5,1230.0 L870.2,1231.2 L871.7,1232.6 L873.1,1234.2 L874.2,1235.9 L875.1,1237.8 L875.7,1239.8 L876.1,1241.9 L878.9,1257.2 L879.1,1259.5 L878.9,1261.9 L878.5,1264.1 L877.8,1266.3 L876.8,1268.4 L875.6,1270.3 L874.1,1272.1 L872.5,1273.6 L870.6,1274.9 L868.7,1275.9 L866.6,1276.7 L864.4,1277.1 L862.2,1277.3 L860.0,1277.1 L857.9,1276.7 L855.8,1275.9 L853.8,1274.9 L852.0,1273.6 L850.3,1272.1 L848.9,1270.3 L847.6,1268.4 L846.7,1266.3 L846.0,1264.1 L845.5,1261.9 L845.4,1259.5 Z" fill="#7CB8A8" stroke="none" stroke-width="1" />
<path d="M844.7,1241.1 L844.8,1239.1 L847.6,1218.7 L848.0,1216.3 L848.8,1214.0 L849.8,1211.7 L851.1,1209.7 L852.7,1207.8 L854.5,1206.2 L856.4,1204.8 L858.5,1203.7 L860.7,1202.9 L863.0,1202.5 L865.4,1202.3 L867.7,1202.5 L870.0,1202.9 L872.3,1203.7 L874.4,1204.8 L876.3,1206.2 L878.1,1207.8 L879.6,1209.7 L880.9,1211.7 L882.0,1214.0 L882.7,1216.3 L883.2,1218.7 L883.3,1221.2 L883.2,1223.6 L882.7,1226.1 L882.0,1228.4 L880.9,1230.6 L871.5,1248.7 L870.5,1250.3 L869.2,1251.8 L867.8,1253.1 L866.2,1254.2 L864.6,1255.0 L862.8,1255.7 L860.9,1256.1 L859.1,1256.2 L857.2,1256.1 L855.4,1255.7 L853.6,1255.0 L851.9,1254.2 L850.3,1253.1 L848.9,1251.8 L847.7,1250.3 L846.6,1248.7 L845.8,1246.9 L845.2,1245.0 L844.8,1243.1 Z M818.4,1253.7 L818.5,1251.0 L819.0,1248.5 L819.8,1246.0 L820.9,1243.7 L822.3,1241.5 L823.9,1239.6 L825.8,1237.9 L827.8,1236.4 L830.1,1235.3 L832.4,1234.4 L834.8,1233.9 L837.3,1233.7 L839.8,1233.9 L842.2,1234.4 L864.5,1240.7 L866.5,1241.4 L868.3,1242.3 L870.0,1243.5 L871.5,1245.0 L872.9,1246.6 L874.0,1248.4 L875.0,1250.3 L875.6,1252.3 L876.0,1254.5 L876.1,1256.6 L876.0,1258.8 L875.6,1260.9 L875.0,1262.9 L874.0,1264.8 L872.9,1266.6 L871.5,1268.2 L870.0,1269.7 L868.3,1270.9 L866.5,1271.8 L864.5,1272.5 L862.5,1272.9 L860.5,1273.1 L837.3,1273.5 L834.8,1273.4 L832.4,1272.9 L830.1,1272.0 L827.8,1270.9 L825.8,1269.4 L823.9,1267.7 L822.3,1265.8 L820.9,1263.6 L819.8,1261.3 L819.0,1258.8 L818.5,1256.2 Z M844.7,1241.1 L844.8,1239.1 L845.2,1237.2 L845.8,1235.3 L846.6,1233.5 L847.7,1231.9 L848.9,1230.4 L850.3,1229.1 L851.9,1228.0 L853.6,1227.2 L855.4,1226.5 L857.2,1226.1 L859.1,1226.0 L860.9,1226.1 L862.8,1226.5 L864.6,1227.2 L866.2,1228.0 L867.8,1229.1 L869.2,1230.4 L870.5,1231.9 L871.5,1233.5 L872.3,1235.3 L872.9,1237.2 L873.3,1239.1 L876.0,1254.5 L876.1,1256.6 L876.0,1258.8 L875.6,1260.9 L875.0,1262.9 L874.0,1264.8 L872.9,1266.6 L871.5,1268.2 L870.0,1269.7 L868.3,1270.9 L866.5,1271.8 L864.5,1272.5 L862.5,1272.9 L860.5,1273.1 L858.4,1272.9 L856.4,1272.5 L854.5,1271.8 L852.6,1270.9 L850.9,1269.7 L849.4,1268.2 L848.0,1266.6 L846.9,1264.8 L846.0,1262.9 L845.3,1260.9 L844.9,1258.8 L844.8,1256.6 Z" fill="#97C9BC" stroke="none" stroke-width="1" />
<text x="836.5" y="1252.5" font-size="16.20" fill="#111111" font-family="'Liberation Sans', Arial, sans-serif">Cas9</text>
<path d="M872.9,1318.1 L873.0,1316.0 L875.5,1295.6 L876.0,1293.0 L876.8,1290.5 L877.9,1288.2 L879.3,1286.0 L881.0,1284.0 L882.9,1282.2 L885.0,1280.7 L887.2,1279.6 L889.6,1278.7 L892.1,1278.2 L894.6,1278.0 L897.1,1278.2 L899.6,1278.7 L902.0,1279.6 L904.2,1280.7 L906.3,1282.2 L908.2,1284.0 L909.9,1286.0 L911.3,1288.2 L912.4,1290.5 L913.2,1293.0 L913.7,1295.6 L913.9,1298.3 L913.7,1300.9 L913.2,1303.5 L912.4,1306.0 L911.3,1308.4 L901.6,1326.2 L900.5,1328.0 L899.2,1329.6 L897.7,1331.0 L896.0,1332.2 L894.2,1333.1 L892.3,1333.8 L890.3,1334.2 L888.3,1334.3 L886.3,1334.2 L884.3,1333.8 L882.4,1333.1 L880.6,1332.2 L878.9,1331.0 L877.4,1329.6 L876.1,1328.0 L875.0,1326.2 L874.1,1324.3 L873.4,1322.3 L873.0,1320.3 Z M846.3,1330.7 L846.5,1327.9 L847.0,1325.1 L847.9,1322.5 L849.0,1320.0 L850.5,1317.7 L852.2,1315.6 L854.2,1313.7 L856.5,1312.2 L858.8,1310.9 L861.4,1310.0 L864.0,1309.5 L866.6,1309.3 L869.2,1309.5 L871.9,1310.0 L894.0,1316.5 L896.1,1317.3 L898.1,1318.3 L899.9,1319.6 L901.6,1321.1 L903.0,1322.8 L904.2,1324.8 L905.2,1326.8 L905.9,1329.0 L906.4,1331.3 L906.5,1333.6 L906.4,1335.9 L905.9,1338.2 L905.2,1340.4 L904.2,1342.4 L903.0,1344.3 L901.6,1346.1 L899.9,1347.6 L898.1,1348.9 L896.1,1349.9 L894.0,1350.7 L891.9,1351.1 L889.7,1351.3 L866.6,1352.0 L864.0,1351.8 L861.4,1351.3 L858.8,1350.4 L856.5,1349.1 L854.2,1347.6 L852.2,1345.8 L850.5,1343.7 L849.0,1341.3 L847.9,1338.8 L847.0,1336.2 L846.5,1333.4 Z M872.9,1318.1 L873.0,1316.0 L873.4,1314.0 L874.1,1312.0 L875.0,1310.0 L876.1,1308.3 L877.4,1306.7 L878.9,1305.3 L880.6,1304.1 L882.4,1303.2 L884.3,1302.5 L886.3,1302.1 L888.3,1302.0 L890.3,1302.1 L892.3,1302.5 L894.2,1303.2 L896.0,1304.1 L897.7,1305.3 L899.2,1306.7 L900.5,1308.3 L901.6,1310.0 L902.5,1312.0 L903.2,1314.0 L903.6,1316.0 L906.4,1331.3 L906.5,1333.6 L906.4,1335.9 L905.9,1338.2 L905.2,1340.4 L904.2,1342.4 L903.0,1344.3 L901.6,1346.1 L899.9,1347.6 L898.1,1348.9 L896.1,1349.9 L894.0,1350.7 L891.9,1351.1 L889.7,1351.3 L887.5,1351.1 L885.4,1350.7 L883.3,1349.9 L881.3,1348.9 L879.5,1347.6 L877.8,1346.1 L876.4,1344.3 L875.1,1342.4 L874.2,1340.4 L873.5,1338.2 L873.0,1335.9 L872.9,1333.6 Z" fill="#7CB8A8" stroke="none" stroke-width="1" />
<path d="M872.2,1315.2 L872.4,1313.2 L875.1,1292.9 L875.6,1290.5 L876.3,1288.1 L877.4,1285.9 L878.6,1283.9 L880.2,1282.0 L882.0,1280.4 L883.9,1279.0 L886.0,1277.9 L888.2,1277.2 L890.5,1276.7 L892.9,1276.5 L895.2,1276.7 L897.5,1277.2 L899.7,1277.9 L901.8,1279.0 L903.8,1280.4 L905.5,1282.0 L907.0,1283.9 L908.4,1285.9 L909.4,1288.1 L910.1,1290.5 L910.6,1292.9 L910.8,1295.3 L910.6,1297.8 L910.1,1300.2 L909.4,1302.5 L908.4,1304.7 L899.0,1322.7 L897.9,1324.4 L896.7,1325.8 L895.3,1327.2 L893.7,1328.2 L892.0,1329.1 L890.3,1329.8 L888.4,1330.1 L886.5,1330.3 L884.7,1330.1 L882.8,1329.8 L881.1,1329.1 L879.4,1328.2 L877.8,1327.2 L876.4,1325.8 L875.2,1324.4 L874.1,1322.7 L873.3,1321.0 L872.7,1319.1 L872.4,1317.2 Z M846.0,1327.7 L846.1,1325.1 L846.6,1322.6 L847.4,1320.1 L848.5,1317.8 L849.9,1315.6 L851.5,1313.7 L853.4,1312.0 L855.4,1310.5 L857.6,1309.4 L860.0,1308.5 L862.4,1308.0 L864.9,1307.9 L867.3,1308.0 L869.7,1308.5 L892.0,1314.8 L893.9,1315.5 L895.8,1316.4 L897.5,1317.6 L899.0,1319.0 L900.4,1320.7 L901.5,1322.4 L902.4,1324.4 L903.0,1326.4 L903.4,1328.5 L903.6,1330.7 L903.4,1332.8 L903.0,1334.9 L902.4,1336.9 L901.5,1338.9 L900.4,1340.7 L899.0,1342.3 L897.5,1343.7 L895.8,1344.9 L893.9,1345.8 L892.0,1346.5 L890.0,1346.9 L888.0,1347.1 L864.9,1347.6 L862.4,1347.4 L860.0,1346.9 L857.6,1346.0 L855.4,1344.9 L853.4,1343.5 L851.5,1341.8 L849.9,1339.8 L848.5,1337.6 L847.4,1335.3 L846.6,1332.8 L846.1,1330.3 Z M872.2,1315.2 L872.4,1313.2 L872.7,1311.3 L873.3,1309.4 L874.1,1307.7 L875.2,1306.0 L876.4,1304.5 L877.8,1303.2 L879.4,1302.2 L881.1,1301.3 L882.8,1300.7 L884.7,1300.3 L886.5,1300.1 L888.4,1300.3 L890.3,1300.7 L892.0,1301.3 L893.7,1302.2 L895.3,1303.2 L896.7,1304.5 L897.9,1306.0 L899.0,1307.7 L899.8,1309.4 L900.4,1311.3 L900.8,1313.2 L903.4,1328.5 L903.6,1330.7 L903.4,1332.8 L903.0,1334.9 L902.4,1336.9 L901.5,1338.9 L900.4,1340.7 L899.0,1342.3 L897.5,1343.7 L895.8,1344.9 L893.9,1345.8 L892.0,1346.5 L890.0,1346.9 L888.0,1347.1 L885.9,1346.9 L883.9,1346.5 L882.0,1345.8 L880.1,1344.9 L878.4,1343.7 L876.9,1342.3 L875.5,1340.7 L874.4,1338.9 L873.5,1336.9 L872.9,1334.9 L872.5,1332.8 L872.3,1330.7 Z" fill="#97C9BC" stroke="none" stroke-width="1" />
<text x="863.4" y="1327.0" font-size="16.20" fill="#111111" font-family="'Liberation Sans', Arial, sans-serif">Cas9</text>
<path d="M1000.2,1388.3 L1000.3,1386.5 L1002.4,1369.4 L1002.8,1367.2 L1003.4,1365.2 L1004.3,1363.2 L1005.5,1361.3 L1006.8,1359.7 L1008.4,1358.2 L1010.1,1357.0 L1011.9,1356.0 L1013.8,1355.3 L1015.9,1354.8 L1017.9,1354.7 L1020.0,1354.8 L1022.0,1355.3 L1023.9,1356.0 L1025.7,1357.0 L1027.4,1358.2 L1029.0,1359.7 L1030.3,1361.3 L1031.5,1363.2 L1032.4,1365.2 L1033.0,1367.2 L1033.4,1369.4 L1033.6,1371.6 L1033.4,1373.8 L1033.0,1376.0 L1032.4,1378.1 L1031.5,1380.1 L1023.6,1395.0 L1022.7,1396.5 L1021.6,1397.8 L1020.4,1399.0 L1019.0,1400.0 L1017.6,1400.8 L1016.0,1401.3 L1014.4,1401.7 L1012.8,1401.8 L1011.1,1401.7 L1009.5,1401.3 L1008.0,1400.8 L1006.5,1400.0 L1005.1,1399.0 L1003.9,1397.8 L1002.8,1396.5 L1001.9,1395.0 L1001.2,1393.5 L1000.7,1391.8 L1000.3,1390.0 Z M978.6,1398.7 L978.7,1396.4 L979.1,1394.1 L979.8,1391.9 L980.8,1389.8 L982.0,1387.9 L983.4,1386.1 L985.0,1384.6 L986.8,1383.3 L988.8,1382.2 L990.8,1381.5 L992.9,1381.0 L995.1,1380.9 L997.3,1381.0 L999.4,1381.5 L1017.5,1386.9 L1019.1,1387.5 L1020.8,1388.4 L1022.2,1389.5 L1023.6,1390.8 L1024.8,1392.2 L1025.8,1393.8 L1026.5,1395.5 L1027.1,1397.4 L1027.5,1399.3 L1027.6,1401.2 L1027.5,1403.1 L1027.1,1405.0 L1026.5,1406.9 L1025.8,1408.6 L1024.8,1410.2 L1023.6,1411.7 L1022.2,1412.9 L1020.8,1414.0 L1019.1,1414.9 L1017.5,1415.5 L1015.7,1415.9 L1013.9,1416.0 L995.1,1416.6 L992.9,1416.5 L990.8,1416.0 L988.8,1415.2 L986.8,1414.2 L985.0,1412.9 L983.4,1411.4 L982.0,1409.6 L980.8,1407.7 L979.8,1405.6 L979.1,1403.4 L978.7,1401.1 Z M1000.2,1388.3 L1000.3,1386.5 L1000.7,1384.8 L1001.2,1383.1 L1001.9,1381.5 L1002.8,1380.0 L1003.9,1378.7 L1005.1,1377.5 L1006.5,1376.5 L1008.0,1375.7 L1009.5,1375.2 L1011.1,1374.8 L1012.8,1374.7 L1014.4,1374.8 L1016.0,1375.2 L1017.6,1375.7 L1019.0,1376.5 L1020.4,1377.5 L1021.6,1378.7 L1022.7,1380.0 L1023.6,1381.5 L1024.4,1383.1 L1024.9,1384.8 L1025.2,1386.5 L1027.5,1399.3 L1027.6,1401.2 L1027.5,1403.1 L1027.1,1405.0 L1026.5,1406.9 L1025.8,1408.6 L1024.8,1410.2 L1023.6,1411.7 L1022.2,1412.9 L1020.8,1414.0 L1019.1,1414.9 L1017.5,1415.5 L1015.7,1415.9 L1013.9,1416.0 L1012.1,1415.9 L1010.4,1415.5 L1008.7,1414.9 L1007.1,1414.0 L1005.6,1412.9 L1004.2,1411.7 L1003.1,1410.2 L1002.1,1408.6 L1001.3,1406.9 L1000.7,1405.0 L1000.4,1403.1 L1000.2,1401.2 Z" fill="#7CB8A8" stroke="none" stroke-width="1" />
<path d="M999.7,1385.8 L999.8,1384.2 L1002.0,1367.1 L1002.4,1365.1 L1003.0,1363.1 L1003.9,1361.3 L1004.9,1359.6 L1006.2,1358.0 L1007.6,1356.7 L1009.2,1355.5 L1010.9,1354.6 L1012.7,1354.0 L1014.6,1353.5 L1016.5,1353.4 L1018.4,1353.5 L1020.2,1354.0 L1022.0,1354.6 L1023.8,1355.5 L1025.3,1356.7 L1026.8,1358.0 L1028.0,1359.6 L1029.1,1361.3 L1029.9,1363.1 L1030.6,1365.1 L1030.9,1367.1 L1031.0,1369.2 L1030.9,1371.2 L1030.6,1373.2 L1029.9,1375.2 L1029.1,1377.0 L1021.4,1392.1 L1020.6,1393.5 L1019.6,1394.7 L1018.4,1395.8 L1017.2,1396.7 L1015.8,1397.4 L1014.4,1398.0 L1012.9,1398.3 L1011.4,1398.4 L1009.8,1398.3 L1008.3,1398.0 L1006.9,1397.4 L1005.5,1396.7 L1004.2,1395.8 L1003.1,1394.7 L1002.1,1393.5 L1001.2,1392.1 L1000.6,1390.6 L1000.1,1389.1 L999.8,1387.5 Z M978.3,1396.3 L978.4,1394.1 L978.8,1392.0 L979.5,1389.9 L980.4,1388.0 L981.5,1386.2 L982.8,1384.5 L984.3,1383.1 L986.0,1381.9 L987.8,1380.9 L989.7,1380.2 L991.7,1379.8 L993.7,1379.7 L995.7,1379.8 L997.6,1380.2 L1015.8,1385.5 L1017.4,1386.0 L1018.9,1386.8 L1020.2,1387.8 L1021.5,1389.0 L1022.6,1390.4 L1023.5,1391.9 L1024.2,1393.5 L1024.8,1395.2 L1025.1,1396.9 L1025.2,1398.7 L1025.1,1400.5 L1024.8,1402.3 L1024.2,1404.0 L1023.5,1405.6 L1022.6,1407.1 L1021.5,1408.5 L1020.2,1409.6 L1018.9,1410.6 L1017.4,1411.4 L1015.8,1412.0 L1014.1,1412.4 L1012.5,1412.5 L993.7,1412.9 L991.7,1412.7 L989.7,1412.3 L987.8,1411.6 L986.0,1410.7 L984.3,1409.5 L982.8,1408.0 L981.5,1406.4 L980.4,1404.6 L979.5,1402.6 L978.8,1400.6 L978.4,1398.4 Z M999.7,1385.8 L999.8,1384.2 L1000.1,1382.5 L1000.6,1381.0 L1001.2,1379.5 L1002.1,1378.1 L1003.1,1376.9 L1004.2,1375.8 L1005.5,1374.9 L1006.9,1374.2 L1008.3,1373.6 L1009.8,1373.3 L1011.4,1373.2 L1012.9,1373.3 L1014.4,1373.6 L1015.8,1374.2 L1017.2,1374.9 L1018.4,1375.8 L1019.6,1376.9 L1020.6,1378.1 L1021.4,1379.5 L1022.1,1381.0 L1022.6,1382.5 L1022.9,1384.2 L1025.1,1396.9 L1025.2,1398.7 L1025.1,1400.5 L1024.8,1402.3 L1024.2,1404.0 L1023.5,1405.6 L1022.6,1407.1 L1021.5,1408.5 L1020.2,1409.6 L1018.9,1410.6 L1017.4,1411.4 L1015.8,1412.0 L1014.1,1412.4 L1012.5,1412.5 L1010.8,1412.4 L1009.2,1412.0 L1007.6,1411.4 L1006.1,1410.6 L1004.7,1409.6 L1003.5,1408.5 L1002.4,1407.1 L1001.5,1405.6 L1000.7,1404.0 L1000.2,1402.3 L999.9,1400.5 L999.8,1398.7 Z" fill="#97C9BC" stroke="none" stroke-width="1" />
<text x="992.6" y="1398.1" font-size="16.20" fill="#111111" font-family="'Liberation Sans', Arial, sans-serif">Cas9</text>
<path d="M955.30,1209.70 L955.20,1210.46 L954.92,1211.21 L954.47,1211.92 L953.86,1212.59 L953.12,1213.20 L952.29,1213.74 L951.40,1214.21 L950.48,1214.63 L949.57,1214.99 L948.70,1215.31 L947.91,1215.60 L947.22,1215.90 L946.64,1216.21 L946.19,1216.56 L945.87,1216.96 L945.68,1217.44 L945.61,1218.00 L945.62,1218.65 L945.72,1219.40 L945.86,1220.24 L946.01,1221.14 L946.15,1222.11 L946.26,1223.12 L946.29,1224.13 L946.24,1225.12 L946.08,1226.06 L945.81,1226.92 L945.42,1227.67 L944.91,1228.29 L944.30,1228.75 L943.59,1229.05 L942.80,1229.18 L941.96,1229.15 L941.08,1228.95 L940.18,1228.62 L939.30,1228.17 L938.44,1227.63 L937.62,1227.04 L936.86,1226.43 L936.15,1225.84 L935.49,1225.30 L934.89,1224.85 L934.34,1224.51 L933.81,1224.29 L933.30,1224.22 L932.79,1224.29 L932.26,1224.51 L931.71,1224.85 L931.11,1225.30 L930.45,1225.84 L929.74,1226.43 L928.98,1227.04 L928.16,1227.63 L927.30,1228.17 L926.42,1228.62 L925.52,1228.95 L924.64,1229.15 L923.80,1229.18 L923.01,1229.05 L922.30,1228.75 L921.69,1228.29 L921.18,1227.67 L920.79,1226.92 L920.52,1226.06 L920.36,1225.12 L920.31,1224.13 L920.34,1223.12 L920.45,1222.11 L920.59,1221.14 L920.74,1220.24 L920.88,1219.40 L920.98,1218.65 L920.99,1218.00 L920.92,1217.44 L920.73,1216.96 L920.41,1216.56 L919.96,1216.21 L919.38,1215.90 L918.69,1215.60 L917.90,1215.31 L917.03,1214.99 L916.12,1214.63 L915.20,1214.21 L914.31,1213.74 L913.48,1213.20 L912.74,1212.59 L912.13,1211.92 L911.68,1211.21 L911.40,1210.46 L911.30,1209.70 L911.40,1208.94 L911.68,1208.19 L912.13,1207.48 L912.74,1206.81 L913.48,1206.20 L914.31,1205.66 L915.20,1205.19 L916.12,1204.77 L917.03,1204.41 L917.90,1204.09 L918.69,1203.80 L919.38,1203.50 L919.96,1203.19 L920.41,1202.84 L920.73,1202.44 L920.92,1201.96 L920.99,1201.40 L920.98,1200.75 L920.88,1200.00 L920.74,1199.16 L920.59,1198.26 L920.45,1197.29 L920.34,1196.28 L920.31,1195.27 L920.36,1194.28 L920.52,1193.34 L920.79,1192.48 L921.18,1191.73 L921.69,1191.11 L922.30,1190.65 L923.01,1190.35 L923.80,1190.22 L924.64,1190.25 L925.52,1190.45 L926.42,1190.78 L927.30,1191.23 L928.16,1191.77 L928.98,1192.36 L929.74,1192.97 L930.45,1193.56 L931.11,1194.10 L931.71,1194.55 L932.26,1194.89 L932.79,1195.11 L933.30,1195.18 L933.81,1195.11 L934.34,1194.89 L934.89,1194.55 L935.49,1194.10 L936.15,1193.56 L936.86,1192.97 L937.62,1192.36 L938.44,1191.77 L939.30,1191.23 L940.18,1190.78 L941.08,1190.45 L941.96,1190.25 L942.80,1190.22 L943.59,1190.35 L944.30,1190.65 L944.91,1191.11 L945.42,1191.73 L945.81,1192.48 L946.08,1193.34 L946.24,1194.28 L946.29,1195.27 L946.26,1196.28 L946.15,1197.29 L946.01,1198.26 L945.86,1199.16 L945.72,1200.00 L945.62,1200.75 L945.61,1201.40 L945.68,1201.96 L945.87,1202.44 L946.19,1202.84 L946.64,1203.19 L947.22,1203.50 L947.91,1203.80 L948.70,1204.09 L949.57,1204.41 L950.48,1204.77 L951.40,1205.19 L952.29,1205.66 L953.12,1206.20 L953.86,1206.81 L954.47,1207.48 L954.92,1208.19 L955.20,1208.94 L955.30,1209.70 Z" fill="none" stroke="#22508C" stroke-width="1.35" stroke-linejoin="round"/>
<line x1="954.97" y1="1211.12" x2="952.97" y2="1210.99" stroke="#6f8fc0" stroke-width="0.5" />
<line x1="952.61" y1="1213.54" x2="950.65" y2="1213.15" stroke="#6f8fc0" stroke-width="0.5" />
<line x1="949.24" y1="1215.11" x2="947.34" y2="1214.47" stroke="#6f8fc0" stroke-width="0.5" />
<line x1="946.58" y1="1216.25" x2="944.78" y2="1215.36" stroke="#6f8fc0" stroke-width="0.5" />
<line x1="945.61" y1="1217.93" x2="943.95" y2="1216.81" stroke="#6f8fc0" stroke-width="0.5" />
<line x1="945.95" y1="1220.80" x2="944.45" y2="1219.48" stroke="#6f8fc0" stroke-width="0.5" />
<line x1="946.28" y1="1224.50" x2="944.96" y2="1223.00" stroke="#6f8fc0" stroke-width="0.5" />
<line x1="945.36" y1="1227.76" x2="944.25" y2="1226.09" stroke="#6f8fc0" stroke-width="0.5" />
<line x1="942.90" y1="1229.18" x2="942.02" y2="1227.38" stroke="#6f8fc0" stroke-width="0.5" />
<line x1="939.63" y1="1228.35" x2="938.99" y2="1226.45" stroke="#6f8fc0" stroke-width="0.5" />
<line x1="936.58" y1="1226.21" x2="936.19" y2="1224.24" stroke="#6f8fc0" stroke-width="0.5" />
<line x1="934.27" y1="1224.47" x2="934.14" y2="1222.48" stroke="#6f8fc0" stroke-width="0.5" />
<line x1="932.33" y1="1224.47" x2="932.46" y2="1222.48" stroke="#6f8fc0" stroke-width="0.5" />
<line x1="930.02" y1="1226.21" x2="930.41" y2="1224.24" stroke="#6f8fc0" stroke-width="0.5" />
<line x1="926.97" y1="1228.35" x2="927.61" y2="1226.45" stroke="#6f8fc0" stroke-width="0.5" />
<line x1="923.70" y1="1229.18" x2="924.58" y2="1227.38" stroke="#6f8fc0" stroke-width="0.5" />
<line x1="921.24" y1="1227.76" x2="922.35" y2="1226.09" stroke="#6f8fc0" stroke-width="0.5" />
<line x1="920.32" y1="1224.50" x2="921.64" y2="1223.00" stroke="#6f8fc0" stroke-width="0.5" />
<line x1="920.65" y1="1220.80" x2="922.15" y2="1219.48" stroke="#6f8fc0" stroke-width="0.5" />
<line x1="920.99" y1="1217.93" x2="922.65" y2="1216.81" stroke="#6f8fc0" stroke-width="0.5" />
<line x1="920.02" y1="1216.25" x2="921.82" y2="1215.36" stroke="#6f8fc0" stroke-width="0.5" />
<line x1="917.36" y1="1215.11" x2="919.26" y2="1214.47" stroke="#6f8fc0" stroke-width="0.5" />
<line x1="913.99" y1="1213.54" x2="915.95" y2="1213.15" stroke="#6f8fc0" stroke-width="0.5" />
<line x1="911.63" y1="1211.12" x2="913.63" y2="1210.99" stroke="#6f8fc0" stroke-width="0.5" />
<line x1="911.63" y1="1208.28" x2="913.63" y2="1208.41" stroke="#6f8fc0" stroke-width="0.5" />
<line x1="913.99" y1="1205.86" x2="915.95" y2="1206.25" stroke="#6f8fc0" stroke-width="0.5" />
<line x1="917.36" y1="1204.29" x2="919.26" y2="1204.93" stroke="#6f8fc0" stroke-width="0.5" />
<line x1="920.02" y1="1203.15" x2="921.82" y2="1204.04" stroke="#6f8fc0" stroke-width="0.5" />
<line x1="920.99" y1="1201.47" x2="922.65" y2="1202.59" stroke="#6f8fc0" stroke-width="0.5" />
<line x1="920.65" y1="1198.60" x2="922.15" y2="1199.92" stroke="#6f8fc0" stroke-width="0.5" />
<line x1="920.32" y1="1194.90" x2="921.64" y2="1196.40" stroke="#6f8fc0" stroke-width="0.5" />
<line x1="921.24" y1="1191.64" x2="922.35" y2="1193.31" stroke="#6f8fc0" stroke-width="0.5" />
<line x1="923.70" y1="1190.22" x2="924.58" y2="1192.02" stroke="#6f8fc0" stroke-width="0.5" />
<line x1="926.97" y1="1191.05" x2="927.61" y2="1192.95" stroke="#6f8fc0" stroke-width="0.5" />
<line x1="930.02" y1="1193.19" x2="930.41" y2="1195.16" stroke="#6f8fc0" stroke-width="0.5" />
<line x1="932.33" y1="1194.93" x2="932.46" y2="1196.92" stroke="#6f8fc0" stroke-width="0.5" />
<line x1="934.27" y1="1194.93" x2="934.14" y2="1196.92" stroke="#6f8fc0" stroke-width="0.5" />
<line x1="936.58" y1="1193.19" x2="936.19" y2="1195.16" stroke="#6f8fc0" stroke-width="0.5" />
<line x1="939.63" y1="1191.05" x2="938.99" y2="1192.95" stroke="#6f8fc0" stroke-width="0.5" />
<line x1="942.90" y1="1190.22" x2="942.02" y2="1192.02" stroke="#6f8fc0" stroke-width="0.5" />
<line x1="945.36" y1="1191.64" x2="944.25" y2="1193.31" stroke="#6f8fc0" stroke-width="0.5" />
<line x1="946.28" y1="1194.90" x2="944.96" y2="1196.40" stroke="#6f8fc0" stroke-width="0.5" />
<line x1="945.95" y1="1198.60" x2="944.45" y2="1199.92" stroke="#6f8fc0" stroke-width="0.5" />
<line x1="945.61" y1="1201.47" x2="943.95" y2="1202.59" stroke="#6f8fc0" stroke-width="0.5" />
<line x1="946.58" y1="1203.15" x2="944.78" y2="1204.04" stroke="#6f8fc0" stroke-width="0.5" />
<line x1="949.24" y1="1204.29" x2="947.34" y2="1204.93" stroke="#6f8fc0" stroke-width="0.5" />
<line x1="952.61" y1="1205.86" x2="950.65" y2="1206.25" stroke="#6f8fc0" stroke-width="0.5" />
<line x1="954.97" y1="1208.28" x2="952.97" y2="1208.41" stroke="#6f8fc0" stroke-width="0.5" />
<path d="M1007.86,1243.50 L1007.35,1244.21 L1006.71,1244.88 L1005.97,1245.49 L1005.15,1246.05 L1004.30,1246.55 L1003.45,1247.00 L1002.63,1247.40 L1001.88,1247.77 L1001.22,1248.12 L1000.67,1248.48 L1000.25,1248.85 L999.96,1249.27 L999.81,1249.75 L999.77,1250.29 L999.84,1250.91 L999.99,1251.62 L1000.21,1252.41 L1000.44,1253.27 L1000.68,1254.19 L1000.88,1255.15 L1001.03,1256.13 L1001.09,1257.10 L1001.04,1258.04 L1000.88,1258.91 L1000.59,1259.69 L1000.17,1260.36 L999.64,1260.89 L998.99,1261.27 L998.25,1261.50 L997.43,1261.57 L996.56,1261.48 L995.66,1261.26 L994.76,1260.92 L993.87,1260.50 L993.01,1260.01 L992.20,1259.49 L991.44,1258.98 L990.74,1258.52 L990.11,1258.12 L989.53,1257.83 L988.99,1257.65 L988.48,1257.61 L987.99,1257.72 L987.50,1257.96 L987.00,1258.33 L986.47,1258.81 L985.89,1259.39 L985.26,1260.03 L984.58,1260.69 L983.85,1261.35 L983.08,1261.96 L982.26,1262.50 L981.43,1262.93 L980.59,1263.22 L979.77,1263.37 L978.98,1263.34 L978.26,1263.14 L977.60,1262.77 L977.04,1262.24 L976.57,1261.57 L976.21,1260.77 L975.95,1259.88 L975.79,1258.93 L975.72,1257.94 L975.71,1256.96 L975.75,1256.00 L975.81,1255.09 L975.87,1254.25 L975.89,1253.50 L975.85,1252.85 L975.74,1252.30 L975.52,1251.84 L975.19,1251.47 L974.73,1251.17 L974.16,1250.91 L973.47,1250.69 L972.68,1250.48 L971.82,1250.26 L970.90,1250.00 L969.97,1249.70 L969.05,1249.33 L968.18,1248.90 L967.39,1248.39 L966.71,1247.81 L966.18,1247.17 L965.81,1246.48 L965.62,1245.75 L965.61,1245.00 L965.79,1244.24 L966.14,1243.50 L966.65,1242.79 L967.29,1242.12 L968.03,1241.51 L968.85,1240.95 L969.70,1240.45 L970.55,1240.00 L971.37,1239.60 L972.12,1239.23 L972.78,1238.88 L973.33,1238.52 L973.75,1238.15 L974.04,1237.73 L974.19,1237.25 L974.23,1236.71 L974.16,1236.09 L974.01,1235.38 L973.79,1234.59 L973.56,1233.73 L973.32,1232.81 L973.12,1231.85 L972.97,1230.87 L972.91,1229.90 L972.96,1228.96 L973.12,1228.09 L973.41,1227.31 L973.83,1226.64 L974.36,1226.11 L975.01,1225.73 L975.75,1225.50 L976.57,1225.43 L977.44,1225.52 L978.34,1225.74 L979.24,1226.08 L980.13,1226.50 L980.99,1226.99 L981.80,1227.51 L982.56,1228.02 L983.26,1228.48 L983.89,1228.88 L984.47,1229.17 L985.01,1229.35 L985.52,1229.39 L986.01,1229.28 L986.50,1229.04 L987.00,1228.67 L987.53,1228.19 L988.11,1227.61 L988.74,1226.97 L989.42,1226.31 L990.15,1225.65 L990.92,1225.04 L991.74,1224.50 L992.57,1224.07 L993.41,1223.78 L994.23,1223.63 L995.02,1223.66 L995.74,1223.86 L996.40,1224.23 L996.96,1224.76 L997.43,1225.43 L997.79,1226.23 L998.05,1227.12 L998.21,1228.07 L998.28,1229.06 L998.29,1230.04 L998.25,1231.00 L998.19,1231.91 L998.13,1232.75 L998.11,1233.50 L998.15,1234.15 L998.26,1234.70 L998.48,1235.16 L998.81,1235.53 L999.27,1235.83 L999.84,1236.09 L1000.53,1236.31 L1001.32,1236.52 L1002.18,1236.74 L1003.10,1237.00 L1004.03,1237.30 L1004.95,1237.67 L1005.82,1238.10 L1006.61,1238.61 L1007.29,1239.19 L1007.82,1239.83 L1008.19,1240.52 L1008.38,1241.25 L1008.39,1242.00 L1008.21,1242.76 L1007.86,1243.50 Z" fill="none" stroke="#22508C" stroke-width="1.35" stroke-linejoin="round"/>
<line x1="1006.80" y1="1244.80" x2="1004.80" y2="1244.67" stroke="#6f8fc0" stroke-width="0.5" />
<line x1="1003.76" y1="1246.83" x2="1001.80" y2="1246.44" stroke="#6f8fc0" stroke-width="0.5" />
<line x1="1001.00" y1="1248.25" x2="999.11" y2="1247.61" stroke="#6f8fc0" stroke-width="0.5" />
<line x1="999.80" y1="1249.81" x2="998.00" y2="1248.93" stroke="#6f8fc0" stroke-width="0.5" />
<line x1="1000.18" y1="1252.30" x2="998.51" y2="1251.19" stroke="#6f8fc0" stroke-width="0.5" />
<line x1="1000.98" y1="1255.76" x2="999.48" y2="1254.44" stroke="#6f8fc0" stroke-width="0.5" />
<line x1="1000.78" y1="1259.22" x2="999.47" y2="1257.71" stroke="#6f8fc0" stroke-width="0.5" />
<line x1="998.90" y1="1261.31" x2="997.79" y2="1259.65" stroke="#6f8fc0" stroke-width="0.5" />
<line x1="995.78" y1="1261.30" x2="994.89" y2="1259.50" stroke="#6f8fc0" stroke-width="0.5" />
<line x1="992.49" y1="1259.69" x2="991.85" y2="1257.79" stroke="#6f8fc0" stroke-width="0.5" />
<line x1="989.88" y1="1258.00" x2="989.49" y2="1256.04" stroke="#6f8fc0" stroke-width="0.5" />
<line x1="987.93" y1="1257.74" x2="987.80" y2="1255.74" stroke="#6f8fc0" stroke-width="0.5" />
<line x1="985.96" y1="1259.31" x2="986.09" y2="1257.32" stroke="#6f8fc0" stroke-width="0.5" />
<line x1="983.37" y1="1261.74" x2="983.76" y2="1259.78" stroke="#6f8fc0" stroke-width="0.5" />
<line x1="980.28" y1="1263.30" x2="980.92" y2="1261.40" stroke="#6f8fc0" stroke-width="0.5" />
<line x1="977.53" y1="1262.71" x2="978.41" y2="1260.92" stroke="#6f8fc0" stroke-width="0.5" />
<line x1="975.98" y1="1260.00" x2="977.09" y2="1258.34" stroke="#6f8fc0" stroke-width="0.5" />
<line x1="975.73" y1="1256.35" x2="977.05" y2="1254.85" stroke="#6f8fc0" stroke-width="0.5" />
<line x1="975.88" y1="1253.25" x2="977.39" y2="1251.93" stroke="#6f8fc0" stroke-width="0.5" />
<line x1="975.14" y1="1251.43" x2="976.80" y2="1250.32" stroke="#6f8fc0" stroke-width="0.5" />
<line x1="972.79" y1="1250.51" x2="974.58" y2="1249.62" stroke="#6f8fc0" stroke-width="0.5" />
<line x1="969.39" y1="1249.48" x2="971.28" y2="1248.84" stroke="#6f8fc0" stroke-width="0.5" />
<line x1="966.50" y1="1247.58" x2="968.46" y2="1247.19" stroke="#6f8fc0" stroke-width="0.5" />
<line x1="965.62" y1="1244.90" x2="967.62" y2="1244.77" stroke="#6f8fc0" stroke-width="0.5" />
<line x1="967.20" y1="1242.20" x2="969.20" y2="1242.33" stroke="#6f8fc0" stroke-width="0.5" />
<line x1="970.24" y1="1240.17" x2="972.20" y2="1240.56" stroke="#6f8fc0" stroke-width="0.5" />
<line x1="973.00" y1="1238.75" x2="974.89" y2="1239.39" stroke="#6f8fc0" stroke-width="0.5" />
<line x1="974.20" y1="1237.19" x2="976.00" y2="1238.07" stroke="#6f8fc0" stroke-width="0.5" />
<line x1="973.82" y1="1234.70" x2="975.49" y2="1235.81" stroke="#6f8fc0" stroke-width="0.5" />
<line x1="973.02" y1="1231.24" x2="974.52" y2="1232.56" stroke="#6f8fc0" stroke-width="0.5" />
<line x1="973.22" y1="1227.78" x2="974.53" y2="1229.29" stroke="#6f8fc0" stroke-width="0.5" />
<line x1="975.10" y1="1225.69" x2="976.21" y2="1227.35" stroke="#6f8fc0" stroke-width="0.5" />
<line x1="978.22" y1="1225.70" x2="979.11" y2="1227.50" stroke="#6f8fc0" stroke-width="0.5" />
<line x1="981.51" y1="1227.31" x2="982.15" y2="1229.21" stroke="#6f8fc0" stroke-width="0.5" />
<line x1="984.12" y1="1229.00" x2="984.51" y2="1230.96" stroke="#6f8fc0" stroke-width="0.5" />
<line x1="986.07" y1="1229.26" x2="986.20" y2="1231.26" stroke="#6f8fc0" stroke-width="0.5" />
<line x1="988.04" y1="1227.69" x2="987.91" y2="1229.68" stroke="#6f8fc0" stroke-width="0.5" />
<line x1="990.63" y1="1225.26" x2="990.24" y2="1227.22" stroke="#6f8fc0" stroke-width="0.5" />
<line x1="993.72" y1="1223.70" x2="993.08" y2="1225.60" stroke="#6f8fc0" stroke-width="0.5" />
<line x1="996.47" y1="1224.29" x2="995.59" y2="1226.08" stroke="#6f8fc0" stroke-width="0.5" />
<line x1="998.02" y1="1227.00" x2="996.91" y2="1228.66" stroke="#6f8fc0" stroke-width="0.5" />
<line x1="998.27" y1="1230.65" x2="996.95" y2="1232.15" stroke="#6f8fc0" stroke-width="0.5" />
<line x1="998.12" y1="1233.75" x2="996.61" y2="1235.07" stroke="#6f8fc0" stroke-width="0.5" />
<line x1="998.86" y1="1235.57" x2="997.20" y2="1236.68" stroke="#6f8fc0" stroke-width="0.5" />
<line x1="1001.21" y1="1236.49" x2="999.42" y2="1237.38" stroke="#6f8fc0" stroke-width="0.5" />
<line x1="1004.61" y1="1237.52" x2="1002.72" y2="1238.16" stroke="#6f8fc0" stroke-width="0.5" />
<line x1="1007.50" y1="1239.42" x2="1005.54" y2="1239.81" stroke="#6f8fc0" stroke-width="0.5" />
<line x1="1008.38" y1="1242.10" x2="1006.38" y2="1242.23" stroke="#6f8fc0" stroke-width="0.5" />
<path d="M945.51,1365.00 L944.78,1365.57 L944.10,1366.09 L943.50,1366.58 L943.00,1367.04 L942.63,1367.49 L942.39,1367.95 L942.30,1368.44 L942.33,1368.97 L942.50,1369.55 L942.76,1370.19 L943.11,1370.90 L943.50,1371.68 L943.92,1372.52 L944.32,1373.41 L944.67,1374.34 L944.95,1375.28 L945.12,1376.21 L945.17,1377.11 L945.08,1377.96 L944.85,1378.72 L944.47,1379.38 L943.95,1379.92 L943.29,1380.32 L942.53,1380.59 L941.69,1380.71 L940.77,1380.71 L939.82,1380.59 L938.86,1380.37 L937.92,1380.07 L937.01,1379.74 L936.15,1379.39 L935.36,1379.06 L934.63,1378.78 L933.99,1378.58 L933.41,1378.48 L932.89,1378.51 L932.42,1378.67 L931.98,1378.96 L931.56,1379.39 L931.14,1379.95 L930.69,1380.60 L930.22,1381.33 L929.70,1382.11 L929.13,1382.91 L928.50,1383.68 L927.82,1384.39 L927.10,1385.00 L926.35,1385.50 L925.57,1385.84 L924.79,1386.02 L924.03,1386.02 L923.31,1385.83 L922.63,1385.47 L922.02,1384.95 L921.48,1384.28 L921.03,1383.48 L920.66,1382.60 L920.38,1381.66 L920.16,1380.69 L919.99,1379.74 L919.87,1378.82 L919.75,1377.97 L919.64,1377.20 L919.48,1376.54 L919.28,1375.99 L919.00,1375.56 L918.62,1375.23 L918.15,1375.00 L917.56,1374.85 L916.87,1374.76 L916.08,1374.70 L915.21,1374.65 L914.28,1374.59 L913.31,1374.49 L912.33,1374.34 L911.37,1374.11 L910.48,1373.79 L909.67,1373.38 L908.99,1372.88 L908.44,1372.30 L908.06,1371.64 L907.86,1370.92 L907.83,1370.15 L907.98,1369.36 L908.30,1368.56 L908.76,1367.77 L909.34,1367.01 L910.01,1366.29 L910.74,1365.62 L911.49,1365.00 L912.22,1364.43 L912.90,1363.91 L913.50,1363.42 L914.00,1362.96 L914.37,1362.51 L914.61,1362.05 L914.70,1361.56 L914.67,1361.03 L914.50,1360.45 L914.24,1359.81 L913.89,1359.10 L913.50,1358.32 L913.08,1357.48 L912.68,1356.59 L912.33,1355.66 L912.05,1354.72 L911.88,1353.79 L911.83,1352.89 L911.92,1352.04 L912.15,1351.28 L912.53,1350.62 L913.05,1350.08 L913.71,1349.68 L914.47,1349.41 L915.31,1349.29 L916.23,1349.29 L917.18,1349.41 L918.14,1349.63 L919.08,1349.93 L919.99,1350.26 L920.85,1350.61 L921.64,1350.94 L922.37,1351.22 L923.01,1351.42 L923.59,1351.52 L924.11,1351.49 L924.58,1351.33 L925.02,1351.04 L925.44,1350.61 L925.86,1350.05 L926.31,1349.40 L926.78,1348.67 L927.30,1347.89 L927.87,1347.09 L928.50,1346.32 L929.18,1345.61 L929.90,1345.00 L930.65,1344.50 L931.43,1344.16 L932.21,1343.98 L932.97,1343.98 L933.69,1344.17 L934.37,1344.53 L934.98,1345.05 L935.52,1345.72 L935.97,1346.52 L936.34,1347.40 L936.62,1348.34 L936.84,1349.31 L937.01,1350.26 L937.13,1351.18 L937.25,1352.03 L937.36,1352.80 L937.52,1353.46 L937.72,1354.01 L938.00,1354.44 L938.38,1354.77 L938.85,1355.00 L939.44,1355.15 L940.13,1355.24 L940.92,1355.30 L941.79,1355.35 L942.72,1355.41 L943.69,1355.51 L944.67,1355.66 L945.63,1355.89 L946.52,1356.21 L947.33,1356.62 L948.01,1357.12 L948.56,1357.70 L948.94,1358.36 L949.14,1359.08 L949.17,1359.85 L949.02,1360.64 L948.70,1361.44 L948.24,1362.23 L947.66,1362.99 L946.99,1363.71 L946.26,1364.38 L945.51,1365.00 Z" fill="none" stroke="#22508C" stroke-width="1.35" stroke-linejoin="round"/>
<line x1="944.18" y1="1366.03" x2="942.19" y2="1365.90" stroke="#6f8fc0" stroke-width="0.5" />
<line x1="942.47" y1="1367.78" x2="940.50" y2="1367.39" stroke="#6f8fc0" stroke-width="0.5" />
<line x1="942.58" y1="1369.78" x2="940.69" y2="1369.14" stroke="#6f8fc0" stroke-width="0.5" />
<line x1="943.97" y1="1372.63" x2="942.18" y2="1371.74" stroke="#6f8fc0" stroke-width="0.5" />
<line x1="945.11" y1="1376.10" x2="943.45" y2="1374.99" stroke="#6f8fc0" stroke-width="0.5" />
<line x1="944.63" y1="1379.14" x2="943.12" y2="1377.83" stroke="#6f8fc0" stroke-width="0.5" />
<line x1="942.22" y1="1380.65" x2="940.91" y2="1379.15" stroke="#6f8fc0" stroke-width="0.5" />
<line x1="938.74" y1="1380.33" x2="937.63" y2="1378.67" stroke="#6f8fc0" stroke-width="0.5" />
<line x1="935.45" y1="1379.09" x2="934.57" y2="1377.30" stroke="#6f8fc0" stroke-width="0.5" />
<line x1="933.08" y1="1378.48" x2="932.43" y2="1376.59" stroke="#6f8fc0" stroke-width="0.5" />
<line x1="931.40" y1="1379.59" x2="931.01" y2="1377.63" stroke="#6f8fc0" stroke-width="0.5" />
<line x1="929.63" y1="1382.21" x2="929.50" y2="1380.22" stroke="#6f8fc0" stroke-width="0.5" />
<line x1="927.19" y1="1384.93" x2="927.32" y2="1382.94" stroke="#6f8fc0" stroke-width="0.5" />
<line x1="924.32" y1="1386.04" x2="924.71" y2="1384.08" stroke="#6f8fc0" stroke-width="0.5" />
<line x1="921.81" y1="1384.71" x2="922.45" y2="1382.82" stroke="#6f8fc0" stroke-width="0.5" />
<line x1="920.34" y1="1381.54" x2="921.23" y2="1379.74" stroke="#6f8fc0" stroke-width="0.5" />
<line x1="919.77" y1="1378.07" x2="920.88" y2="1376.40" stroke="#6f8fc0" stroke-width="0.5" />
<line x1="919.11" y1="1375.71" x2="920.43" y2="1374.20" stroke="#6f8fc0" stroke-width="0.5" />
<line x1="917.32" y1="1374.81" x2="918.82" y2="1373.49" stroke="#6f8fc0" stroke-width="0.5" />
<line x1="914.16" y1="1374.58" x2="915.82" y2="1373.47" stroke="#6f8fc0" stroke-width="0.5" />
<line x1="910.59" y1="1373.83" x2="912.38" y2="1372.95" stroke="#6f8fc0" stroke-width="0.5" />
<line x1="908.19" y1="1371.90" x2="910.08" y2="1371.25" stroke="#6f8fc0" stroke-width="0.5" />
<line x1="908.08" y1="1369.06" x2="910.05" y2="1368.67" stroke="#6f8fc0" stroke-width="0.5" />
<line x1="910.10" y1="1366.21" x2="912.10" y2="1366.08" stroke="#6f8fc0" stroke-width="0.5" />
<line x1="912.82" y1="1363.97" x2="914.81" y2="1364.10" stroke="#6f8fc0" stroke-width="0.5" />
<line x1="914.53" y1="1362.22" x2="916.50" y2="1362.61" stroke="#6f8fc0" stroke-width="0.5" />
<line x1="914.42" y1="1360.22" x2="916.31" y2="1360.86" stroke="#6f8fc0" stroke-width="0.5" />
<line x1="913.03" y1="1357.37" x2="914.82" y2="1358.26" stroke="#6f8fc0" stroke-width="0.5" />
<line x1="911.89" y1="1353.90" x2="913.55" y2="1355.01" stroke="#6f8fc0" stroke-width="0.5" />
<line x1="912.37" y1="1350.86" x2="913.88" y2="1352.17" stroke="#6f8fc0" stroke-width="0.5" />
<line x1="914.78" y1="1349.35" x2="916.09" y2="1350.85" stroke="#6f8fc0" stroke-width="0.5" />
<line x1="918.26" y1="1349.67" x2="919.37" y2="1351.33" stroke="#6f8fc0" stroke-width="0.5" />
<line x1="921.55" y1="1350.91" x2="922.43" y2="1352.70" stroke="#6f8fc0" stroke-width="0.5" />
<line x1="923.92" y1="1351.52" x2="924.57" y2="1353.41" stroke="#6f8fc0" stroke-width="0.5" />
<line x1="925.60" y1="1350.41" x2="925.99" y2="1352.37" stroke="#6f8fc0" stroke-width="0.5" />
<line x1="927.37" y1="1347.79" x2="927.50" y2="1349.78" stroke="#6f8fc0" stroke-width="0.5" />
<line x1="929.81" y1="1345.07" x2="929.68" y2="1347.06" stroke="#6f8fc0" stroke-width="0.5" />
<line x1="932.68" y1="1343.96" x2="932.29" y2="1345.92" stroke="#6f8fc0" stroke-width="0.5" />
<line x1="935.19" y1="1345.29" x2="934.55" y2="1347.18" stroke="#6f8fc0" stroke-width="0.5" />
<line x1="936.66" y1="1348.46" x2="935.77" y2="1350.26" stroke="#6f8fc0" stroke-width="0.5" />
<line x1="937.23" y1="1351.93" x2="936.12" y2="1353.60" stroke="#6f8fc0" stroke-width="0.5" />
<line x1="937.89" y1="1354.29" x2="936.57" y2="1355.80" stroke="#6f8fc0" stroke-width="0.5" />
<line x1="939.68" y1="1355.19" x2="938.18" y2="1356.51" stroke="#6f8fc0" stroke-width="0.5" />
<line x1="942.84" y1="1355.42" x2="941.18" y2="1356.53" stroke="#6f8fc0" stroke-width="0.5" />
<line x1="946.41" y1="1356.17" x2="944.62" y2="1357.05" stroke="#6f8fc0" stroke-width="0.5" />
<line x1="948.81" y1="1358.10" x2="946.92" y2="1358.75" stroke="#6f8fc0" stroke-width="0.5" />
<line x1="948.92" y1="1360.94" x2="946.95" y2="1361.33" stroke="#6f8fc0" stroke-width="0.5" />
<line x1="946.90" y1="1363.79" x2="944.90" y2="1363.92" stroke="#6f8fc0" stroke-width="0.5" />
<path d="M1158.72,1226.50 L1157.99,1227.13 L1157.22,1227.70 L1156.43,1228.23 L1155.67,1228.70 L1154.96,1229.14 L1154.34,1229.55 L1153.83,1229.95 L1153.44,1230.35 L1153.19,1230.78 L1153.06,1231.25 L1153.07,1231.78 L1153.18,1232.37 L1153.39,1233.03 L1153.66,1233.76 L1153.97,1234.57 L1154.30,1235.43 L1154.59,1236.34 L1154.84,1237.28 L1155.00,1238.22 L1155.06,1239.14 L1155.01,1240.01 L1154.82,1240.81 L1154.50,1241.52 L1154.05,1242.10 L1153.47,1242.56 L1152.79,1242.87 L1152.01,1243.03 L1151.16,1243.05 L1150.27,1242.94 L1149.36,1242.72 L1148.45,1242.40 L1147.57,1242.01 L1146.72,1241.59 L1145.93,1241.17 L1145.20,1240.78 L1144.53,1240.45 L1143.93,1240.20 L1143.38,1240.07 L1142.88,1240.06 L1142.41,1240.19 L1141.96,1240.45 L1141.51,1240.85 L1141.04,1241.36 L1140.54,1241.96 L1140.00,1242.64 L1139.41,1243.35 L1138.77,1244.06 L1138.08,1244.74 L1137.35,1245.35 L1136.59,1245.87 L1135.80,1246.25 L1135.02,1246.49 L1134.25,1246.57 L1133.51,1246.47 L1132.83,1246.19 L1132.22,1245.76 L1131.69,1245.17 L1131.25,1244.44 L1130.90,1243.62 L1130.64,1242.72 L1130.46,1241.77 L1130.35,1240.81 L1130.29,1239.87 L1130.26,1238.97 L1130.23,1238.14 L1130.19,1237.40 L1130.10,1236.75 L1129.94,1236.22 L1129.70,1235.78 L1129.35,1235.44 L1128.90,1235.18 L1128.33,1234.98 L1127.65,1234.83 L1126.88,1234.70 L1126.03,1234.57 L1125.12,1234.41 L1124.18,1234.22 L1123.25,1233.96 L1122.35,1233.63 L1121.52,1233.23 L1120.79,1232.74 L1120.19,1232.18 L1119.75,1231.55 L1119.46,1230.86 L1119.36,1230.14 L1119.43,1229.39 L1119.68,1228.64 L1120.08,1227.89 L1120.62,1227.18 L1121.28,1226.50 L1122.01,1225.87 L1122.78,1225.30 L1123.57,1224.77 L1124.33,1224.30 L1125.04,1223.86 L1125.66,1223.45 L1126.17,1223.05 L1126.56,1222.65 L1126.81,1222.22 L1126.94,1221.75 L1126.93,1221.22 L1126.82,1220.63 L1126.61,1219.97 L1126.34,1219.24 L1126.03,1218.43 L1125.70,1217.57 L1125.41,1216.66 L1125.16,1215.72 L1125.00,1214.78 L1124.94,1213.86 L1124.99,1212.99 L1125.18,1212.19 L1125.50,1211.48 L1125.95,1210.90 L1126.53,1210.44 L1127.21,1210.13 L1127.99,1209.97 L1128.84,1209.95 L1129.73,1210.06 L1130.64,1210.28 L1131.55,1210.60 L1132.43,1210.99 L1133.28,1211.41 L1134.07,1211.83 L1134.80,1212.22 L1135.47,1212.55 L1136.07,1212.80 L1136.62,1212.93 L1137.12,1212.94 L1137.59,1212.81 L1138.04,1212.55 L1138.49,1212.15 L1138.96,1211.64 L1139.46,1211.04 L1140.00,1210.36 L1140.59,1209.65 L1141.23,1208.94 L1141.92,1208.26 L1142.65,1207.65 L1143.41,1207.13 L1144.20,1206.75 L1144.98,1206.51 L1145.75,1206.43 L1146.49,1206.53 L1147.17,1206.81 L1147.78,1207.24 L1148.31,1207.83 L1148.75,1208.56 L1149.10,1209.38 L1149.36,1210.28 L1149.54,1211.23 L1149.65,1212.19 L1149.71,1213.13 L1149.74,1214.03 L1149.77,1214.86 L1149.81,1215.60 L1149.90,1216.25 L1150.06,1216.78 L1150.30,1217.22 L1150.65,1217.56 L1151.10,1217.82 L1151.67,1218.02 L1152.35,1218.17 L1153.12,1218.30 L1153.97,1218.43 L1154.88,1218.59 L1155.82,1218.78 L1156.75,1219.04 L1157.65,1219.37 L1158.48,1219.77 L1159.21,1220.26 L1159.81,1220.82 L1160.25,1221.45 L1160.54,1222.14 L1160.64,1222.86 L1160.57,1223.61 L1160.32,1224.36 L1159.92,1225.11 L1159.38,1225.82 L1158.72,1226.50 Z" fill="none" stroke="#22508C" stroke-width="1.35" stroke-linejoin="round"/>
<line x1="1157.31" y1="1227.63" x2="1155.32" y2="1227.50" stroke="#6f8fc0" stroke-width="0.5" />
<line x1="1154.57" y1="1229.40" x2="1152.60" y2="1229.01" stroke="#6f8fc0" stroke-width="0.5" />
<line x1="1153.13" y1="1230.96" x2="1151.23" y2="1230.31" stroke="#6f8fc0" stroke-width="0.5" />
<line x1="1153.42" y1="1233.12" x2="1151.62" y2="1232.23" stroke="#6f8fc0" stroke-width="0.5" />
<line x1="1154.56" y1="1236.23" x2="1152.89" y2="1235.12" stroke="#6f8fc0" stroke-width="0.5" />
<line x1="1155.04" y1="1239.69" x2="1153.54" y2="1238.37" stroke="#6f8fc0" stroke-width="0.5" />
<line x1="1153.85" y1="1242.29" x2="1152.53" y2="1240.78" stroke="#6f8fc0" stroke-width="0.5" />
<line x1="1151.06" y1="1243.04" x2="1149.94" y2="1241.38" stroke="#6f8fc0" stroke-width="0.5" />
<line x1="1147.67" y1="1242.06" x2="1146.79" y2="1240.27" stroke="#6f8fc0" stroke-width="0.5" />
<line x1="1144.77" y1="1240.56" x2="1144.13" y2="1238.67" stroke="#6f8fc0" stroke-width="0.5" />
<line x1="1142.70" y1="1240.09" x2="1142.31" y2="1238.13" stroke="#6f8fc0" stroke-width="0.5" />
<line x1="1140.98" y1="1241.43" x2="1140.85" y2="1239.43" stroke="#6f8fc0" stroke-width="0.5" />
<line x1="1138.85" y1="1243.97" x2="1138.99" y2="1241.97" stroke="#6f8fc0" stroke-width="0.5" />
<line x1="1136.10" y1="1246.12" x2="1136.49" y2="1244.16" stroke="#6f8fc0" stroke-width="0.5" />
<line x1="1133.25" y1="1246.38" x2="1133.89" y2="1244.49" stroke="#6f8fc0" stroke-width="0.5" />
<line x1="1131.20" y1="1244.35" x2="1132.08" y2="1242.55" stroke="#6f8fc0" stroke-width="0.5" />
<line x1="1130.36" y1="1240.93" x2="1131.47" y2="1239.26" stroke="#6f8fc0" stroke-width="0.5" />
<line x1="1130.21" y1="1237.67" x2="1131.53" y2="1236.16" stroke="#6f8fc0" stroke-width="0.5" />
<line x1="1129.58" y1="1235.64" x2="1131.08" y2="1234.32" stroke="#6f8fc0" stroke-width="0.5" />
<line x1="1127.56" y1="1234.81" x2="1129.22" y2="1233.70" stroke="#6f8fc0" stroke-width="0.5" />
<line x1="1124.30" y1="1234.24" x2="1126.09" y2="1233.36" stroke="#6f8fc0" stroke-width="0.5" />
<line x1="1121.05" y1="1232.93" x2="1122.95" y2="1232.29" stroke="#6f8fc0" stroke-width="0.5" />
<line x1="1119.40" y1="1230.60" x2="1121.37" y2="1230.21" stroke="#6f8fc0" stroke-width="0.5" />
<line x1="1120.14" y1="1227.80" x2="1122.14" y2="1227.67" stroke="#6f8fc0" stroke-width="0.5" />
<line x1="1122.69" y1="1225.37" x2="1124.68" y2="1225.50" stroke="#6f8fc0" stroke-width="0.5" />
<line x1="1125.43" y1="1223.60" x2="1127.40" y2="1223.99" stroke="#6f8fc0" stroke-width="0.5" />
<line x1="1126.87" y1="1222.04" x2="1128.77" y2="1222.69" stroke="#6f8fc0" stroke-width="0.5" />
<line x1="1126.58" y1="1219.88" x2="1128.38" y2="1220.77" stroke="#6f8fc0" stroke-width="0.5" />
<line x1="1125.44" y1="1216.77" x2="1127.11" y2="1217.88" stroke="#6f8fc0" stroke-width="0.5" />
<line x1="1124.96" y1="1213.31" x2="1126.46" y2="1214.63" stroke="#6f8fc0" stroke-width="0.5" />
<line x1="1126.15" y1="1210.71" x2="1127.47" y2="1212.22" stroke="#6f8fc0" stroke-width="0.5" />
<line x1="1128.94" y1="1209.96" x2="1130.06" y2="1211.62" stroke="#6f8fc0" stroke-width="0.5" />
<line x1="1132.33" y1="1210.94" x2="1133.21" y2="1212.73" stroke="#6f8fc0" stroke-width="0.5" />
<line x1="1135.23" y1="1212.44" x2="1135.87" y2="1214.33" stroke="#6f8fc0" stroke-width="0.5" />
<line x1="1137.30" y1="1212.91" x2="1137.69" y2="1214.87" stroke="#6f8fc0" stroke-width="0.5" />
<line x1="1139.02" y1="1211.57" x2="1139.15" y2="1213.57" stroke="#6f8fc0" stroke-width="0.5" />
<line x1="1141.15" y1="1209.03" x2="1141.01" y2="1211.03" stroke="#6f8fc0" stroke-width="0.5" />
<line x1="1143.90" y1="1206.88" x2="1143.51" y2="1208.84" stroke="#6f8fc0" stroke-width="0.5" />
<line x1="1146.75" y1="1206.62" x2="1146.11" y2="1208.51" stroke="#6f8fc0" stroke-width="0.5" />
<line x1="1148.80" y1="1208.65" x2="1147.92" y2="1210.45" stroke="#6f8fc0" stroke-width="0.5" />
<line x1="1149.64" y1="1212.07" x2="1148.53" y2="1213.74" stroke="#6f8fc0" stroke-width="0.5" />
<line x1="1149.79" y1="1215.33" x2="1148.47" y2="1216.84" stroke="#6f8fc0" stroke-width="0.5" />
<line x1="1150.42" y1="1217.36" x2="1148.92" y2="1218.68" stroke="#6f8fc0" stroke-width="0.5" />
<line x1="1152.44" y1="1218.19" x2="1150.78" y2="1219.30" stroke="#6f8fc0" stroke-width="0.5" />
<line x1="1155.70" y1="1218.76" x2="1153.91" y2="1219.64" stroke="#6f8fc0" stroke-width="0.5" />
<line x1="1158.95" y1="1220.07" x2="1157.05" y2="1220.71" stroke="#6f8fc0" stroke-width="0.5" />
<line x1="1160.60" y1="1222.40" x2="1158.63" y2="1222.79" stroke="#6f8fc0" stroke-width="0.5" />
<line x1="1159.86" y1="1225.20" x2="1157.86" y2="1225.33" stroke="#6f8fc0" stroke-width="0.5" />
<line x1="989.90" y1="1283.60" x2="1019.40" y2="1283.60" stroke="#1a1a1a" stroke-width="1.4" />
<path d="M1025.4,1283.6 L1016.9,1279.0 L1016.9,1288.2 Z" fill="#1a1a1a" stroke="none" stroke-width="1" />
<text x="950.4" y="1330.5" font-size="11.60" fill="#111111" textLength="74.1" lengthAdjust="spacingAndGlyphs" font-family="'Liberation Sans', Arial, sans-serif">cssDNA donor</text>
<text x="950.4" y="1343.7" font-size="11.48" fill="#111111" textLength="40.0" lengthAdjust="spacingAndGlyphs" font-family="'Liberation Sans', Arial, sans-serif">diffused</text>
<path d="M1193.7,1241.6 L1193.8,1239.8 L1195.8,1222.7 L1196.2,1220.5 L1196.8,1218.4 L1197.8,1216.4 L1198.9,1214.5 L1200.2,1212.9 L1201.7,1211.4 L1203.4,1210.2 L1205.2,1209.2 L1207.2,1208.5 L1209.2,1208.0 L1211.2,1207.9 L1213.2,1208.0 L1215.2,1208.5 L1217.1,1209.2 L1218.9,1210.2 L1220.6,1211.4 L1222.2,1212.9 L1223.5,1214.5 L1224.6,1216.4 L1225.5,1218.4 L1226.2,1220.5 L1226.6,1222.7 L1226.7,1224.9 L1226.6,1227.1 L1226.2,1229.3 L1225.5,1231.4 L1224.6,1233.4 L1216.8,1248.4 L1216.0,1249.8 L1214.9,1251.2 L1213.7,1252.4 L1212.3,1253.3 L1210.8,1254.1 L1209.3,1254.7 L1207.7,1255.0 L1206.1,1255.2 L1204.5,1255.0 L1202.9,1254.7 L1201.4,1254.1 L1199.9,1253.3 L1198.5,1252.4 L1197.3,1251.2 L1196.3,1249.8 L1195.4,1248.4 L1194.6,1246.8 L1194.1,1245.1 L1193.8,1243.3 Z M1172.3,1252.1 L1172.4,1249.7 L1172.8,1247.4 L1173.5,1245.2 L1174.5,1243.1 L1175.6,1241.2 L1177.0,1239.4 L1178.7,1237.9 L1180.4,1236.6 L1182.4,1235.5 L1184.4,1234.8 L1186.5,1234.3 L1188.6,1234.2 L1190.8,1234.3 L1192.8,1234.8 L1210.7,1240.2 L1212.4,1240.8 L1214.0,1241.7 L1215.5,1242.8 L1216.8,1244.1 L1218.0,1245.5 L1219.0,1247.1 L1219.7,1248.9 L1220.3,1250.7 L1220.7,1252.6 L1220.8,1254.5 L1220.7,1256.5 L1220.3,1258.4 L1219.7,1260.2 L1219.0,1262.0 L1218.0,1263.6 L1216.8,1265.0 L1215.5,1266.3 L1214.0,1267.4 L1212.4,1268.2 L1210.7,1268.9 L1209.0,1269.3 L1207.2,1269.4 L1188.6,1270.0 L1186.5,1269.8 L1184.4,1269.4 L1182.4,1268.6 L1180.4,1267.6 L1178.7,1266.3 L1177.0,1264.8 L1175.6,1263.0 L1174.5,1261.0 L1173.5,1258.9 L1172.8,1256.7 L1172.4,1254.4 Z M1193.7,1241.6 L1193.8,1239.8 L1194.1,1238.0 L1194.6,1236.4 L1195.4,1234.8 L1196.3,1233.3 L1197.3,1232.0 L1198.5,1230.8 L1199.9,1229.8 L1201.4,1229.0 L1202.9,1228.4 L1204.5,1228.1 L1206.1,1228.0 L1207.7,1228.1 L1209.3,1228.4 L1210.8,1229.0 L1212.3,1229.8 L1213.7,1230.8 L1214.9,1232.0 L1216.0,1233.3 L1216.8,1234.8 L1217.6,1236.4 L1218.1,1238.0 L1218.4,1239.8 L1220.7,1252.6 L1220.8,1254.5 L1220.7,1256.5 L1220.3,1258.4 L1219.7,1260.2 L1219.0,1262.0 L1218.0,1263.6 L1216.8,1265.0 L1215.5,1266.3 L1214.0,1267.4 L1212.4,1268.2 L1210.7,1268.9 L1209.0,1269.3 L1207.2,1269.4 L1205.5,1269.3 L1203.7,1268.9 L1202.0,1268.2 L1200.5,1267.4 L1199.0,1266.3 L1197.7,1265.0 L1196.5,1263.6 L1195.5,1262.0 L1194.7,1260.2 L1194.2,1258.4 L1193.8,1256.5 L1193.7,1254.5 Z" fill="#7CB8A8" stroke="none" stroke-width="1" />
<path d="M1193.2,1239.1 L1193.2,1237.5 L1195.5,1220.3 L1195.8,1218.3 L1196.4,1216.4 L1197.3,1214.5 L1198.3,1212.8 L1199.6,1211.2 L1201.0,1209.9 L1202.6,1208.7 L1204.2,1207.8 L1206.0,1207.2 L1207.9,1206.7 L1209.8,1206.6 L1211.7,1206.7 L1213.5,1207.2 L1215.3,1207.8 L1217.0,1208.7 L1218.5,1209.9 L1220.0,1211.2 L1221.2,1212.8 L1222.3,1214.5 L1223.1,1216.4 L1223.7,1218.3 L1224.1,1220.3 L1224.2,1222.4 L1224.1,1224.5 L1223.7,1226.5 L1223.1,1228.5 L1222.3,1230.3 L1214.7,1245.4 L1213.8,1246.8 L1212.8,1248.0 L1211.7,1249.1 L1210.5,1250.0 L1209.1,1250.8 L1207.7,1251.3 L1206.2,1251.6 L1204.7,1251.7 L1203.2,1251.6 L1201.7,1251.3 L1200.3,1250.8 L1198.9,1250.0 L1197.7,1249.1 L1196.5,1248.0 L1195.5,1246.8 L1194.7,1245.4 L1194.0,1243.9 L1193.5,1242.4 L1193.2,1240.8 Z M1172.0,1249.6 L1172.1,1247.4 L1172.5,1245.3 L1173.2,1243.2 L1174.0,1241.3 L1175.1,1239.5 L1176.5,1237.8 L1178.0,1236.4 L1179.6,1235.2 L1181.4,1234.2 L1183.3,1233.5 L1185.2,1233.1 L1187.2,1232.9 L1189.2,1233.1 L1191.2,1233.5 L1209.1,1238.8 L1210.6,1239.3 L1212.1,1240.1 L1213.5,1241.1 L1214.7,1242.3 L1215.8,1243.7 L1216.7,1245.2 L1217.5,1246.8 L1218.0,1248.5 L1218.3,1250.3 L1218.4,1252.1 L1218.3,1253.9 L1218.0,1255.7 L1217.5,1257.4 L1216.7,1259.0 L1215.8,1260.5 L1214.7,1261.8 L1213.5,1263.0 L1212.1,1264.0 L1210.6,1264.8 L1209.1,1265.4 L1207.5,1265.8 L1205.8,1265.9 L1187.2,1266.3 L1185.2,1266.1 L1183.3,1265.7 L1181.4,1265.0 L1179.6,1264.0 L1178.0,1262.8 L1176.5,1261.4 L1175.1,1259.8 L1174.0,1257.9 L1173.2,1256.0 L1172.5,1253.9 L1172.1,1251.8 Z M1193.2,1239.1 L1193.2,1237.5 L1193.5,1235.8 L1194.0,1234.3 L1194.7,1232.8 L1195.5,1231.4 L1196.5,1230.2 L1197.7,1229.1 L1198.9,1228.2 L1200.3,1227.4 L1201.7,1226.9 L1203.2,1226.6 L1204.7,1226.5 L1206.2,1226.6 L1207.7,1226.9 L1209.1,1227.4 L1210.5,1228.2 L1211.7,1229.1 L1212.8,1230.2 L1213.8,1231.4 L1214.7,1232.8 L1215.4,1234.3 L1215.8,1235.8 L1216.1,1237.5 L1218.3,1250.3 L1218.4,1252.1 L1218.3,1253.9 L1218.0,1255.7 L1217.5,1257.4 L1216.7,1259.0 L1215.8,1260.5 L1214.7,1261.8 L1213.5,1263.0 L1212.1,1264.0 L1210.6,1264.8 L1209.1,1265.4 L1207.5,1265.8 L1205.8,1265.9 L1204.2,1265.8 L1202.6,1265.4 L1201.0,1264.8 L1199.5,1264.0 L1198.2,1263.0 L1196.9,1261.8 L1195.8,1260.5 L1194.9,1259.0 L1194.2,1257.4 L1193.7,1255.7 L1193.3,1253.9 L1193.2,1252.1 Z" fill="#97C9BC" stroke="none" stroke-width="1" />
<text x="1184.4" y="1250.3" font-size="15.60" fill="#111111" font-family="'Liberation Sans', Arial, sans-serif">Cas9</text>
<line x1="1124.50" y1="1316.41" x2="1124.50" y2="1341.19" stroke="#DCCBA4" stroke-width="2.0" />
<line x1="1131.30" y1="1320.21" x2="1131.30" y2="1337.39" stroke="#DCCBA4" stroke-width="2.0" />
<line x1="1138.10" y1="1325.54" x2="1138.10" y2="1332.06" stroke="#DCCBA4" stroke-width="2.0" />
<line x1="1151.70" y1="1324.02" x2="1151.70" y2="1333.58" stroke="#DCCBA4" stroke-width="2.0" />
<line x1="1158.50" y1="1319.03" x2="1158.50" y2="1338.57" stroke="#DCCBA4" stroke-width="2.0" />
<line x1="1165.30" y1="1315.73" x2="1165.30" y2="1341.87" stroke="#DCCBA4" stroke-width="2.0" />
<line x1="1172.10" y1="1314.60" x2="1172.10" y2="1343.00" stroke="#DCCBA4" stroke-width="2.0" />
<line x1="1178.90" y1="1315.80" x2="1178.90" y2="1341.80" stroke="#DCCBA4" stroke-width="2.0" />
<line x1="1185.70" y1="1319.15" x2="1185.70" y2="1338.45" stroke="#DCCBA4" stroke-width="2.0" />
<line x1="1192.50" y1="1324.18" x2="1192.50" y2="1333.42" stroke="#DCCBA4" stroke-width="2.0" />
<line x1="1206.10" y1="1324.50" x2="1206.10" y2="1333.10" stroke="#DCCBA4" stroke-width="2.0" />
<line x1="1212.90" y1="1318.69" x2="1212.90" y2="1338.91" stroke="#DCCBA4" stroke-width="2.0" />
<line x1="1219.70" y1="1315.24" x2="1219.70" y2="1342.36" stroke="#DCCBA4" stroke-width="2.0" />
<line x1="1226.50" y1="1314.82" x2="1226.50" y2="1342.78" stroke="#DCCBA4" stroke-width="2.0" />
<line x1="1233.30" y1="1317.51" x2="1233.30" y2="1340.09" stroke="#DCCBA4" stroke-width="2.0" />
<line x1="1240.10" y1="1322.79" x2="1240.10" y2="1334.81" stroke="#DCCBA4" stroke-width="2.0" />
<line x1="1253.70" y1="1321.42" x2="1253.70" y2="1336.18" stroke="#DCCBA4" stroke-width="2.0" />
<line x1="1260.50" y1="1314.98" x2="1260.50" y2="1342.62" stroke="#DCCBA4" stroke-width="2.0" />
<line x1="1267.30" y1="1316.74" x2="1267.30" y2="1340.86" stroke="#DCCBA4" stroke-width="2.0" />
<line x1="1274.10" y1="1325.79" x2="1274.10" y2="1331.81" stroke="#DCCBA4" stroke-width="2.0" />
<line x1="1280.90" y1="1324.16" x2="1280.90" y2="1333.44" stroke="#DCCBA4" stroke-width="2.0" />
<line x1="1287.70" y1="1315.95" x2="1287.70" y2="1341.65" stroke="#DCCBA4" stroke-width="2.0" />
<line x1="1294.50" y1="1315.45" x2="1294.50" y2="1342.15" stroke="#DCCBA4" stroke-width="2.0" />
<polyline points="1122.00,1344.09 1122.99,1343.77 1123.97,1343.41 1124.96,1343.00 1125.94,1342.54 1126.93,1342.05 1127.92,1341.51 1128.90,1340.94 1129.89,1340.33 1130.88,1339.68 1131.86,1339.00 1132.85,1338.29 1133.83,1337.55 1134.82,1336.78 1135.81,1335.99 1136.79,1335.17 1137.78,1334.34 1138.76,1333.49 1139.75,1332.63 1140.74,1331.75 1141.72,1330.86 1142.71,1329.97 1143.69,1329.08 1144.68,1328.18 1145.67,1327.29 1146.65,1326.40 1147.64,1325.52 1148.62,1324.64 1149.61,1323.78 1150.60,1322.94 1151.58,1322.11 1152.57,1321.31 1153.56,1320.53 1154.54,1319.77 1155.53,1319.04 1156.51,1318.34 1157.50,1317.67 1158.49,1317.04 1159.47,1316.44 1160.46,1315.88 1161.44,1315.36 1162.43,1314.88 1163.42,1314.44 1164.40,1314.05 1165.39,1313.70 1166.38,1313.40 1167.36,1313.15 1168.35,1312.94 1169.33,1312.78 1170.32,1312.67 1171.31,1312.61 1172.29,1312.60 1173.28,1312.64 1174.26,1312.73 1175.25,1312.87 1176.24,1313.06 1177.22,1313.29 1178.21,1313.57 1179.19,1313.90 1180.18,1314.28 1181.17,1314.70 1182.15,1315.16 1183.14,1315.66 1184.12,1316.21 1185.11,1316.79 1186.10,1317.41 1187.08,1318.06 1188.07,1318.75 1189.06,1319.47 1190.04,1320.21 1191.03,1320.99 1192.01,1321.78 1193.00,1322.60 1193.99,1323.44 1194.97,1324.29 1195.96,1325.16 1196.94,1326.04 1197.93,1326.92 1198.92,1327.82 1199.90,1328.71 1200.89,1329.74 1201.88,1330.78 1202.86,1331.82 1203.85,1332.84 1204.83,1333.84 1205.82,1334.82 1206.81,1335.78 1207.79,1336.71 1208.78,1337.60 1209.76,1338.46 1210.75,1339.28 1211.74,1340.06 1212.72,1340.78 1213.71,1341.46 1214.69,1342.09 1215.68,1342.66 1216.67,1343.17 1217.65,1343.62 1218.64,1344.01 1219.62,1344.34 1220.61,1344.60 1221.60,1344.80 1222.58,1344.93 1223.57,1344.99 1224.56,1344.99 1225.54,1344.92 1226.53,1344.78 1227.51,1344.57 1228.50,1344.30 1229.49,1343.97 1230.47,1343.57 1231.46,1343.11 1232.44,1342.59 1233.43,1342.01 1234.42,1341.38 1235.40,1340.69 1236.39,1339.96 1237.38,1339.18 1238.36,1338.36 1239.35,1337.49 1240.33,1336.59 1241.32,1335.66 1242.31,1334.70 1243.29,1333.71 1244.28,1332.71 1245.26,1331.69 1246.25,1330.65 1247.24,1329.61 1248.22,1328.41 1249.21,1326.69 1250.19,1324.99 1251.18,1323.33 1252.17,1321.73 1253.15,1320.22 1254.14,1318.80 1255.12,1317.50 1256.11,1316.33 1257.10,1315.30 1258.08,1314.42 1259.07,1313.71 1260.06,1313.16 1261.04,1312.80 1262.03,1312.62 1263.01,1312.63 1264.00,1312.81 1264.99,1313.18 1265.97,1313.73 1266.96,1314.45 1267.94,1315.34 1268.93,1316.37 1269.92,1317.55 1270.90,1318.86 1271.89,1320.28 1272.88,1321.80 1273.86,1323.40 1274.85,1325.06 1275.83,1326.76 1276.82,1328.48 1277.81,1330.21 1278.79,1331.92 1279.78,1333.60 1280.76,1335.22 1281.75,1336.77 1282.74,1338.23 1283.72,1339.58 1284.71,1340.81 1285.69,1341.90 1286.68,1342.84 1287.67,1343.62 1288.65,1344.24 1289.64,1344.67 1290.62,1344.93 1291.61,1345.00 1292.60,1344.89 1293.58,1344.59 1294.57,1344.11 1295.56,1343.46 1296.54,1342.64 1297.53,1341.67 1298.51,1340.54 1299.50,1339.29" fill="none" stroke="#B7A484" stroke-width="4.6" stroke-linejoin="round" stroke-linecap="butt"/>
<polyline points="1122.00,1313.51 1122.99,1313.83 1123.97,1314.19 1124.96,1314.60 1125.94,1315.06 1126.93,1315.55 1127.92,1316.09 1128.90,1316.66 1129.89,1317.27 1130.88,1317.92 1131.86,1318.60 1132.85,1319.31 1133.83,1320.05 1134.82,1320.82 1135.81,1321.61 1136.79,1322.43 1137.78,1323.26 1138.76,1324.11 1139.75,1324.97 1140.74,1325.85 1141.72,1326.74 1142.71,1327.63 1143.69,1328.52 1144.68,1329.42 1145.67,1330.31 1146.65,1331.20 1147.64,1332.08 1148.62,1332.96 1149.61,1333.82 1150.60,1334.66 1151.58,1335.49 1152.57,1336.29 1153.56,1337.07 1154.54,1337.83 1155.53,1338.56 1156.51,1339.26 1157.50,1339.93 1158.49,1340.56 1159.47,1341.16 1160.46,1341.72 1161.44,1342.24 1162.43,1342.72 1163.42,1343.16 1164.40,1343.55 1165.39,1343.90 1166.38,1344.20 1167.36,1344.45 1168.35,1344.66 1169.33,1344.82 1170.32,1344.93 1171.31,1344.99 1172.29,1345.00 1173.28,1344.96 1174.26,1344.87 1175.25,1344.73 1176.24,1344.54 1177.22,1344.31 1178.21,1344.03 1179.19,1343.70 1180.18,1343.32 1181.17,1342.90 1182.15,1342.44 1183.14,1341.94 1184.12,1341.39 1185.11,1340.81 1186.10,1340.19 1187.08,1339.54 1188.07,1338.85 1189.06,1338.13 1190.04,1337.39 1191.03,1336.61 1192.01,1335.82 1193.00,1335.00 1193.99,1334.16 1194.97,1333.31 1195.96,1332.44 1196.94,1331.56 1197.93,1330.68 1198.92,1329.78 1199.90,1328.89 1200.89,1327.86 1201.88,1326.82 1202.86,1325.78 1203.85,1324.76 1204.83,1323.76 1205.82,1322.78 1206.81,1321.82 1207.79,1320.89 1208.78,1320.00 1209.76,1319.14 1210.75,1318.32 1211.74,1317.54 1212.72,1316.82 1213.71,1316.14 1214.69,1315.51 1215.68,1314.94 1216.67,1314.43 1217.65,1313.98 1218.64,1313.59 1219.62,1313.26 1220.61,1313.00 1221.60,1312.80 1222.58,1312.67 1223.57,1312.61 1224.56,1312.61 1225.54,1312.68 1226.53,1312.82 1227.51,1313.03 1228.50,1313.30 1229.49,1313.63 1230.47,1314.03 1231.46,1314.49 1232.44,1315.01 1233.43,1315.59 1234.42,1316.22 1235.40,1316.91 1236.39,1317.64 1237.38,1318.42 1238.36,1319.24 1239.35,1320.11 1240.33,1321.01 1241.32,1321.94 1242.31,1322.90 1243.29,1323.89 1244.28,1324.89 1245.26,1325.91 1246.25,1326.95 1247.24,1327.99 1248.22,1329.19 1249.21,1330.91 1250.19,1332.61 1251.18,1334.27 1252.17,1335.87 1253.15,1337.38 1254.14,1338.80 1255.12,1340.10 1256.11,1341.27 1257.10,1342.30 1258.08,1343.18 1259.07,1343.89 1260.06,1344.44 1261.04,1344.80 1262.03,1344.98 1263.01,1344.97 1264.00,1344.79 1264.99,1344.42 1265.97,1343.87 1266.96,1343.15 1267.94,1342.26 1268.93,1341.23 1269.92,1340.05 1270.90,1338.74 1271.89,1337.32 1272.88,1335.80 1273.86,1334.20 1274.85,1332.54 1275.83,1330.84 1276.82,1329.12 1277.81,1327.39 1278.79,1325.68 1279.78,1324.00 1280.76,1322.38 1281.75,1320.83 1282.74,1319.37 1283.72,1318.02 1284.71,1316.79 1285.69,1315.70 1286.68,1314.76 1287.67,1313.98 1288.65,1313.36 1289.64,1312.93 1290.62,1312.67 1291.61,1312.60 1292.60,1312.71 1293.58,1313.01 1294.57,1313.49 1295.56,1314.14 1296.54,1314.96 1297.53,1315.93 1298.51,1317.06 1299.50,1318.31" fill="none" stroke="#CDB98F" stroke-width="4.6" stroke-linejoin="round" stroke-linecap="butt"/>
<line x1="1137.30" y1="1283.10" x2="1149.50" y2="1301.90" stroke="#474747" stroke-width="1.9" stroke-linecap="round"/>
<line x1="1149.50" y1="1301.90" x2="1155.60" y2="1322.00" stroke="#8d8d8d" stroke-width="3.0" stroke-linecap="round"/>
<line x1="1149.50" y1="1301.90" x2="1155.60" y2="1322.00" stroke="#e2e2e2" stroke-width="1.8" stroke-linecap="round"/>
<line x1="1160.80" y1="1283.10" x2="1149.50" y2="1301.90" stroke="#474747" stroke-width="1.9" stroke-linecap="round"/>
<line x1="1149.50" y1="1301.90" x2="1140.00" y2="1322.00" stroke="#8d8d8d" stroke-width="3.0" stroke-linecap="round"/>
<line x1="1149.50" y1="1301.90" x2="1140.00" y2="1322.00" stroke="#e2e2e2" stroke-width="1.8" stroke-linecap="round"/>
<ellipse cx="1134.3" cy="1279.6" rx="4.4" ry="6.2" fill="none" stroke="#474747" stroke-width="1.8"/>
<ellipse cx="1163.8" cy="1279.6" rx="4.4" ry="6.2" fill="none" stroke="#474747" stroke-width="1.8"/>
<path d="M1175.0,1313.2 L1175.1,1311.8 L1177.0,1297.6 L1177.4,1295.8 L1178.0,1294.0 L1178.8,1292.4 L1179.9,1290.8 L1181.2,1289.5 L1182.7,1288.2 L1184.3,1287.2 L1186.0,1286.4 L1187.8,1285.8 L1189.7,1285.5 L1191.7,1285.3 L1193.6,1285.5 L1195.5,1285.8 L1197.3,1286.4 L1199.1,1287.2 L1200.7,1288.2 L1202.1,1289.5 L1203.4,1290.8 L1204.5,1292.4 L1205.3,1294.0 L1206.0,1295.8 L1206.3,1297.6 L1206.5,1299.4 L1206.3,1301.3 L1206.0,1303.1 L1205.3,1304.8 L1204.5,1306.5 L1197.1,1318.9 L1196.2,1320.1 L1195.2,1321.2 L1194.0,1322.2 L1192.7,1323.0 L1191.3,1323.7 L1189.9,1324.1 L1188.4,1324.4 L1186.8,1324.5 L1185.3,1324.4 L1183.8,1324.1 L1182.3,1323.7 L1180.9,1323.0 L1179.6,1322.2 L1178.5,1321.2 L1177.4,1320.1 L1176.6,1318.9 L1175.9,1317.6 L1175.4,1316.2 L1175.1,1314.7 Z M1154.5,1322.0 L1154.7,1320.0 L1155.1,1318.1 L1155.7,1316.3 L1156.6,1314.5 L1157.8,1312.9 L1159.1,1311.5 L1160.6,1310.2 L1162.3,1309.1 L1164.2,1308.2 L1166.1,1307.6 L1168.1,1307.2 L1170.1,1307.1 L1172.2,1307.2 L1174.2,1307.6 L1191.2,1312.1 L1192.8,1312.7 L1194.3,1313.4 L1195.8,1314.2 L1197.0,1315.3 L1198.1,1316.5 L1199.1,1317.9 L1199.8,1319.3 L1200.4,1320.8 L1200.7,1322.4 L1200.8,1324.0 L1200.7,1325.6 L1200.4,1327.2 L1199.8,1328.7 L1199.1,1330.1 L1198.1,1331.5 L1197.0,1332.7 L1195.8,1333.8 L1194.3,1334.6 L1192.8,1335.3 L1191.2,1335.9 L1189.6,1336.2 L1187.9,1336.3 L1170.1,1336.8 L1168.1,1336.7 L1166.1,1336.3 L1164.2,1335.7 L1162.3,1334.8 L1160.6,1333.7 L1159.1,1332.5 L1157.8,1331.0 L1156.6,1329.4 L1155.7,1327.6 L1155.1,1325.8 L1154.7,1323.9 Z M1175.0,1313.2 L1175.1,1311.8 L1175.4,1310.3 L1175.9,1308.9 L1176.6,1307.6 L1177.4,1306.4 L1178.5,1305.3 L1179.6,1304.3 L1180.9,1303.5 L1182.3,1302.8 L1183.8,1302.4 L1185.3,1302.1 L1186.8,1302.0 L1188.4,1302.1 L1189.9,1302.4 L1191.3,1302.8 L1192.7,1303.5 L1194.0,1304.3 L1195.2,1305.3 L1196.2,1306.4 L1197.1,1307.6 L1197.8,1308.9 L1198.2,1310.3 L1198.5,1311.8 L1200.7,1322.4 L1200.8,1324.0 L1200.7,1325.6 L1200.4,1327.2 L1199.8,1328.7 L1199.1,1330.1 L1198.1,1331.5 L1197.0,1332.7 L1195.8,1333.8 L1194.3,1334.6 L1192.8,1335.3 L1191.2,1335.9 L1189.6,1336.2 L1187.9,1336.3 L1186.2,1336.2 L1184.5,1335.9 L1183.0,1335.3 L1181.4,1334.6 L1180.0,1333.8 L1178.8,1332.7 L1177.7,1331.5 L1176.7,1330.1 L1176.0,1328.7 L1175.4,1327.2 L1175.1,1325.6 L1175.0,1324.0 Z" fill="#7CB8A8" stroke="none" stroke-width="1" />
<path d="M1174.5,1311.2 L1174.6,1309.8 L1176.7,1295.7 L1177.0,1294.0 L1177.6,1292.4 L1178.4,1290.8 L1179.4,1289.4 L1180.6,1288.1 L1181.9,1287.0 L1183.4,1286.0 L1185.0,1285.3 L1186.8,1284.7 L1188.5,1284.4 L1190.3,1284.3 L1192.1,1284.4 L1193.9,1284.7 L1195.6,1285.3 L1197.2,1286.0 L1198.7,1287.0 L1200.0,1288.1 L1201.2,1289.4 L1202.2,1290.8 L1203.0,1292.4 L1203.6,1294.0 L1204.0,1295.7 L1204.1,1297.4 L1204.0,1299.1 L1203.6,1300.8 L1203.0,1302.4 L1202.2,1303.9 L1195.0,1316.4 L1194.2,1317.6 L1193.3,1318.6 L1192.2,1319.5 L1191.0,1320.3 L1189.7,1320.9 L1188.3,1321.3 L1186.9,1321.6 L1185.5,1321.7 L1184.0,1321.6 L1182.6,1321.3 L1181.3,1320.9 L1180.0,1320.3 L1178.8,1319.5 L1177.7,1318.6 L1176.7,1317.6 L1175.9,1316.4 L1175.3,1315.2 L1174.8,1313.9 L1174.6,1312.6 Z M1154.3,1319.9 L1154.4,1318.1 L1154.8,1316.3 L1155.4,1314.6 L1156.2,1313.0 L1157.3,1311.5 L1158.5,1310.1 L1160.0,1309.0 L1161.5,1308.0 L1163.2,1307.2 L1165.0,1306.6 L1166.9,1306.2 L1168.8,1306.1 L1170.7,1306.2 L1172.5,1306.6 L1189.7,1310.9 L1191.1,1311.4 L1192.5,1312.1 L1193.9,1312.9 L1195.0,1313.9 L1196.1,1315.0 L1197.0,1316.2 L1197.6,1317.6 L1198.2,1319.0 L1198.5,1320.5 L1198.6,1322.0 L1198.5,1323.4 L1198.2,1324.9 L1197.6,1326.3 L1197.0,1327.7 L1196.1,1328.9 L1195.0,1330.0 L1193.9,1331.0 L1192.5,1331.8 L1191.1,1332.5 L1189.7,1333.0 L1188.1,1333.3 L1186.5,1333.4 L1168.8,1333.7 L1166.9,1333.6 L1165.0,1333.2 L1163.2,1332.7 L1161.5,1331.9 L1160.0,1330.9 L1158.5,1329.7 L1157.3,1328.3 L1156.2,1326.8 L1155.4,1325.2 L1154.8,1323.5 L1154.4,1321.7 Z M1174.5,1311.2 L1174.6,1309.8 L1174.8,1308.5 L1175.3,1307.2 L1175.9,1306.0 L1176.7,1304.8 L1177.7,1303.8 L1178.8,1302.9 L1180.0,1302.1 L1181.3,1301.5 L1182.6,1301.1 L1184.0,1300.8 L1185.5,1300.7 L1186.9,1300.8 L1188.3,1301.1 L1189.7,1301.5 L1191.0,1302.1 L1192.2,1302.9 L1193.3,1303.8 L1194.2,1304.8 L1195.0,1306.0 L1195.6,1307.2 L1196.1,1308.5 L1196.4,1309.8 L1198.5,1320.5 L1198.6,1322.0 L1198.5,1323.4 L1198.2,1324.9 L1197.6,1326.3 L1197.0,1327.7 L1196.1,1328.9 L1195.0,1330.0 L1193.9,1331.0 L1192.5,1331.8 L1191.1,1332.5 L1189.7,1333.0 L1188.1,1333.3 L1186.5,1333.4 L1185.0,1333.3 L1183.4,1333.0 L1182.0,1332.5 L1180.5,1331.8 L1179.2,1331.0 L1178.1,1330.0 L1177.0,1328.9 L1176.2,1327.7 L1175.5,1326.3 L1175.0,1324.9 L1174.6,1323.4 L1174.5,1322.0 Z" fill="#97C9BC" stroke="none" stroke-width="1" />
<text x="1166.9" y="1318.4" font-size="12.60" fill="#111111" font-family="'Liberation Sans', Arial, sans-serif">Cas9</text>
<text x="1270.4" y="1252.5" font-size="11.44" fill="#111111" textLength="57.9" lengthAdjust="spacingAndGlyphs" font-family="'Liberation Sans', Arial, sans-serif">Lower local</text>
<text x="1270.4" y="1265.6" font-size="11.52" fill="#111111" textLength="69.2" lengthAdjust="spacingAndGlyphs" font-family="'Liberation Sans', Arial, sans-serif">concentration</text>
<text x="1270.4" y="1279.0" font-size="11.39" fill="#111111" textLength="53.8" lengthAdjust="spacingAndGlyphs" font-family="'Liberation Sans', Arial, sans-serif">of cssDNA</text>
<line x1="1401.30" y1="1291.80" x2="1429.30" y2="1291.80" stroke="#1a1a1a" stroke-width="1.4" />
<path d="M1435.3,1291.8 L1426.8,1287.2 L1426.8,1296.4 Z" fill="#1a1a1a" stroke="none" stroke-width="1" />
<circle cx="1441.90" cy="1204.20" r="8.90" fill="#F9D4B0" stroke="#E5BC98" stroke-width="0.6" />
<circle cx="1441.90" cy="1204.20" r="4.30" fill="#F1A880" stroke="none" stroke-width="1" />
<circle cx="1490.10" cy="1201.30" r="8.90" fill="#F9D4B0" stroke="#E5BC98" stroke-width="0.6" />
<circle cx="1490.10" cy="1201.30" r="4.30" fill="#F1A880" stroke="none" stroke-width="1" />
<circle cx="1508.00" cy="1199.70" r="8.90" fill="#F9D4B0" stroke="#E5BC98" stroke-width="0.6" />
<circle cx="1508.00" cy="1199.70" r="4.30" fill="#F1A880" stroke="none" stroke-width="1" />
<circle cx="1550.60" cy="1202.30" r="8.90" fill="#F9D4B0" stroke="#E5BC98" stroke-width="0.6" />
<circle cx="1550.60" cy="1202.30" r="4.30" fill="#F1A880" stroke="none" stroke-width="1" />
<circle cx="1480.40" cy="1216.20" r="8.90" fill="#F9D4B0" stroke="#E5BC98" stroke-width="0.6" />
<circle cx="1480.40" cy="1216.20" r="4.30" fill="#F1A880" stroke="none" stroke-width="1" />
<circle cx="1499.10" cy="1215.60" r="8.90" fill="#F9D4B0" stroke="#E5BC98" stroke-width="0.6" />
<circle cx="1499.10" cy="1215.60" r="4.30" fill="#F1A880" stroke="none" stroke-width="1" />
<circle cx="1517.70" cy="1215.20" r="8.90" fill="#F9D4B0" stroke="#E5BC98" stroke-width="0.6" />
<circle cx="1517.70" cy="1215.20" r="4.30" fill="#F1A880" stroke="none" stroke-width="1" />
<circle cx="1463.60" cy="1225.20" r="8.90" fill="#F9D4B0" stroke="#E5BC98" stroke-width="0.6" />
<circle cx="1463.60" cy="1225.20" r="4.30" fill="#F1A880" stroke="none" stroke-width="1" />
<circle cx="1490.40" cy="1230.50" r="8.90" fill="#F9D4B0" stroke="#E5BC98" stroke-width="0.6" />
<circle cx="1490.40" cy="1230.50" r="4.30" fill="#F1A880" stroke="none" stroke-width="1" />
<circle cx="1507.70" cy="1229.90" r="8.90" fill="#F9D4B0" stroke="#E5BC98" stroke-width="0.6" />
<circle cx="1507.70" cy="1229.90" r="4.30" fill="#F1A880" stroke="none" stroke-width="1" />
<circle cx="1526.00" cy="1231.90" r="8.90" fill="#F9D4B0" stroke="#E5BC98" stroke-width="0.6" />
<circle cx="1526.00" cy="1231.90" r="4.30" fill="#F1A880" stroke="none" stroke-width="1" />
<circle cx="1543.60" cy="1229.90" r="8.90" fill="#F9D4B0" stroke="#E5BC98" stroke-width="0.6" />
<circle cx="1543.60" cy="1229.90" r="4.30" fill="#F1A880" stroke="none" stroke-width="1" />
<circle cx="1561.90" cy="1229.90" r="8.90" fill="#F9D4B0" stroke="#E5BC98" stroke-width="0.6" />
<circle cx="1561.90" cy="1229.90" r="4.30" fill="#F1A880" stroke="none" stroke-width="1" />
<circle cx="1463.20" cy="1245.20" r="8.90" fill="#F9D4B0" stroke="#E5BC98" stroke-width="0.6" />
<circle cx="1463.20" cy="1245.20" r="4.30" fill="#F1A880" stroke="none" stroke-width="1" />
<circle cx="1481.40" cy="1245.80" r="8.90" fill="#F9D4B0" stroke="#E5BC98" stroke-width="0.6" />
<circle cx="1481.40" cy="1245.80" r="4.30" fill="#F1A880" stroke="none" stroke-width="1" />
<circle cx="1499.10" cy="1247.50" r="8.90" fill="#DDF3DA" stroke="#C5E2C2" stroke-width="0.6" />
<circle cx="1499.10" cy="1247.50" r="4.30" fill="#ABD9A4" stroke="none" stroke-width="1" />
<circle cx="1517.00" cy="1247.10" r="8.90" fill="#F9D4B0" stroke="#E5BC98" stroke-width="0.6" />
<circle cx="1517.00" cy="1247.10" r="4.30" fill="#F1A880" stroke="none" stroke-width="1" />
<circle cx="1535.00" cy="1245.80" r="8.90" fill="#DDF3DA" stroke="#C5E2C2" stroke-width="0.6" />
<circle cx="1535.00" cy="1245.80" r="4.30" fill="#ABD9A4" stroke="none" stroke-width="1" />
<circle cx="1553.60" cy="1245.80" r="8.90" fill="#F9D4B0" stroke="#E5BC98" stroke-width="0.6" />
<circle cx="1553.60" cy="1245.80" r="4.30" fill="#F1A880" stroke="none" stroke-width="1" />
<circle cx="1471.80" cy="1260.40" r="8.90" fill="#F9D4B0" stroke="#E5BC98" stroke-width="0.6" />
<circle cx="1471.80" cy="1260.40" r="4.30" fill="#F1A880" stroke="none" stroke-width="1" />
<circle cx="1490.40" cy="1263.10" r="8.90" fill="#F9D4B0" stroke="#E5BC98" stroke-width="0.6" />
<circle cx="1490.40" cy="1263.10" r="4.30" fill="#F1A880" stroke="none" stroke-width="1" />
<circle cx="1507.00" cy="1263.10" r="8.90" fill="#F9D4B0" stroke="#E5BC98" stroke-width="0.6" />
<circle cx="1507.00" cy="1263.10" r="4.30" fill="#F1A880" stroke="none" stroke-width="1" />
<circle cx="1526.30" cy="1261.10" r="8.90" fill="#F9D4B0" stroke="#E5BC98" stroke-width="0.6" />
<circle cx="1526.30" cy="1261.10" r="4.30" fill="#F1A880" stroke="none" stroke-width="1" />
<circle cx="1544.30" cy="1260.40" r="8.90" fill="#DDF3DA" stroke="#C5E2C2" stroke-width="0.6" />
<circle cx="1544.30" cy="1260.40" r="4.30" fill="#ABD9A4" stroke="none" stroke-width="1" />
<circle cx="1565.50" cy="1260.40" r="8.90" fill="#F9D4B0" stroke="#E5BC98" stroke-width="0.6" />
<circle cx="1565.50" cy="1260.40" r="4.30" fill="#F1A880" stroke="none" stroke-width="1" />
<circle cx="1428.60" cy="1266.40" r="8.90" fill="#F9D4B0" stroke="#E5BC98" stroke-width="0.6" />
<circle cx="1428.60" cy="1266.40" r="4.30" fill="#F1A880" stroke="none" stroke-width="1" />
<circle cx="1462.50" cy="1277.10" r="8.90" fill="#F9D4B0" stroke="#E5BC98" stroke-width="0.6" />
<circle cx="1462.50" cy="1277.10" r="4.30" fill="#F1A880" stroke="none" stroke-width="1" />
<circle cx="1480.80" cy="1277.10" r="8.90" fill="#DDF3DA" stroke="#C5E2C2" stroke-width="0.6" />
<circle cx="1480.80" cy="1277.10" r="4.30" fill="#ABD9A4" stroke="none" stroke-width="1" />
<circle cx="1499.70" cy="1277.10" r="8.90" fill="#F9D4B0" stroke="#E5BC98" stroke-width="0.6" />
<circle cx="1499.70" cy="1277.10" r="4.30" fill="#F1A880" stroke="none" stroke-width="1" />
<circle cx="1517.00" cy="1278.10" r="8.90" fill="#DDF3DA" stroke="#C5E2C2" stroke-width="0.6" />
<circle cx="1517.00" cy="1278.10" r="4.30" fill="#ABD9A4" stroke="none" stroke-width="1" />
<circle cx="1535.60" cy="1276.40" r="8.90" fill="#F9D4B0" stroke="#E5BC98" stroke-width="0.6" />
<circle cx="1535.60" cy="1276.40" r="4.30" fill="#F1A880" stroke="none" stroke-width="1" />
<circle cx="1553.60" cy="1275.50" r="8.90" fill="#F9D4B0" stroke="#E5BC98" stroke-width="0.6" />
<circle cx="1553.60" cy="1275.50" r="4.30" fill="#F1A880" stroke="none" stroke-width="1" />
<circle cx="1568.60" cy="1288.40" r="8.90" fill="#F9D4B0" stroke="#E5BC98" stroke-width="0.6" />
<circle cx="1568.60" cy="1288.40" r="4.30" fill="#F1A880" stroke="none" stroke-width="1" />
<circle cx="1471.10" cy="1294.10" r="8.90" fill="#F9D4B0" stroke="#E5BC98" stroke-width="0.6" />
<circle cx="1471.10" cy="1294.10" r="4.30" fill="#F1A880" stroke="none" stroke-width="1" />
<circle cx="1489.70" cy="1294.10" r="8.90" fill="#F9D4B0" stroke="#E5BC98" stroke-width="0.6" />
<circle cx="1489.70" cy="1294.10" r="4.30" fill="#F1A880" stroke="none" stroke-width="1" />
<circle cx="1508.40" cy="1294.30" r="8.90" fill="#F9D4B0" stroke="#E5BC98" stroke-width="0.6" />
<circle cx="1508.40" cy="1294.30" r="4.30" fill="#F1A880" stroke="none" stroke-width="1" />
<circle cx="1527.00" cy="1293.00" r="8.90" fill="#F9D4B0" stroke="#E5BC98" stroke-width="0.6" />
<circle cx="1527.00" cy="1293.00" r="4.30" fill="#F1A880" stroke="none" stroke-width="1" />
<circle cx="1544.30" cy="1291.70" r="8.90" fill="#F9D4B0" stroke="#E5BC98" stroke-width="0.6" />
<circle cx="1544.30" cy="1291.70" r="4.30" fill="#F1A880" stroke="none" stroke-width="1" />
<circle cx="1461.80" cy="1309.00" r="8.90" fill="#F9D4B0" stroke="#E5BC98" stroke-width="0.6" />
<circle cx="1461.80" cy="1309.00" r="4.30" fill="#F1A880" stroke="none" stroke-width="1" />
<circle cx="1480.80" cy="1309.20" r="8.90" fill="#DDF3DA" stroke="#C5E2C2" stroke-width="0.6" />
<circle cx="1480.80" cy="1309.20" r="4.30" fill="#ABD9A4" stroke="none" stroke-width="1" />
<circle cx="1499.50" cy="1308.30" r="8.90" fill="#F9D4B0" stroke="#E5BC98" stroke-width="0.6" />
<circle cx="1499.50" cy="1308.30" r="4.30" fill="#F1A880" stroke="none" stroke-width="1" />
<circle cx="1518.10" cy="1309.00" r="8.90" fill="#F9D4B0" stroke="#E5BC98" stroke-width="0.6" />
<circle cx="1518.10" cy="1309.00" r="4.30" fill="#F1A880" stroke="none" stroke-width="1" />
<circle cx="1537.00" cy="1307.60" r="8.90" fill="#F9D4B0" stroke="#E5BC98" stroke-width="0.6" />
<circle cx="1537.00" cy="1307.60" r="4.30" fill="#F1A880" stroke="none" stroke-width="1" />
<circle cx="1554.90" cy="1307.00" r="8.90" fill="#DDF3DA" stroke="#C5E2C2" stroke-width="0.6" />
<circle cx="1554.90" cy="1307.00" r="4.30" fill="#ABD9A4" stroke="none" stroke-width="1" />
<circle cx="1441.20" cy="1324.90" r="8.90" fill="#DDF3DA" stroke="#C5E2C2" stroke-width="0.6" />
<circle cx="1441.20" cy="1324.90" r="4.30" fill="#ABD9A4" stroke="none" stroke-width="1" />
<circle cx="1473.40" cy="1325.60" r="8.90" fill="#F9D4B0" stroke="#E5BC98" stroke-width="0.6" />
<circle cx="1473.40" cy="1325.60" r="4.30" fill="#F1A880" stroke="none" stroke-width="1" />
<circle cx="1491.50" cy="1324.90" r="8.90" fill="#F9D4B0" stroke="#E5BC98" stroke-width="0.6" />
<circle cx="1491.50" cy="1324.90" r="4.30" fill="#F1A880" stroke="none" stroke-width="1" />
<circle cx="1510.10" cy="1324.90" r="8.90" fill="#DDF3DA" stroke="#C5E2C2" stroke-width="0.6" />
<circle cx="1510.10" cy="1324.90" r="4.30" fill="#ABD9A4" stroke="none" stroke-width="1" />
<circle cx="1528.70" cy="1324.90" r="8.90" fill="#F9D4B0" stroke="#E5BC98" stroke-width="0.6" />
<circle cx="1528.70" cy="1324.90" r="4.30" fill="#F1A880" stroke="none" stroke-width="1" />
<circle cx="1598.10" cy="1320.90" r="8.90" fill="#F9D4B0" stroke="#E5BC98" stroke-width="0.6" />
<circle cx="1598.10" cy="1320.90" r="4.30" fill="#F1A880" stroke="none" stroke-width="1" />
<circle cx="1499.50" cy="1340.90" r="8.90" fill="#F9D4B0" stroke="#E5BC98" stroke-width="0.6" />
<circle cx="1499.50" cy="1340.90" r="4.30" fill="#F1A880" stroke="none" stroke-width="1" />
<circle cx="1518.10" cy="1350.20" r="8.90" fill="#F9D4B0" stroke="#E5BC98" stroke-width="0.6" />
<circle cx="1518.10" cy="1350.20" r="4.30" fill="#F1A880" stroke="none" stroke-width="1" />
<circle cx="1476.90" cy="1354.80" r="8.90" fill="#F9D4B0" stroke="#E5BC98" stroke-width="0.6" />
<circle cx="1476.90" cy="1354.80" r="4.30" fill="#F1A880" stroke="none" stroke-width="1" />
<circle cx="1552.90" cy="1354.80" r="8.90" fill="#F9D4B0" stroke="#E5BC98" stroke-width="0.6" />
<circle cx="1552.90" cy="1354.80" r="4.30" fill="#F1A880" stroke="none" stroke-width="1" />
<text x="1480.1" y="1388.1" font-size="10.30" fill="#111111" font-family="'Liberation Sans', Arial, sans-serif">relatively low KI</text>
<text x="1494.5" y="1400.0" font-size="10.30" fill="#111111" font-family="'Liberation Sans', Arial, sans-serif">efficiency</text>
<text x="765.5" y="1424.8" font-size="15.76" fill="#000" font-weight="bold" textLength="98.1" lengthAdjust="spacingAndGlyphs" font-family="'Liberation Sans', Arial, sans-serif">Cas9 System</text>
<line x1="764.20" y1="1441.90" x2="1609.80" y2="1441.90" stroke="#333" stroke-width="1.8" />
<ellipse cx="1087.9" cy="1585.6" rx="305.9" ry="140.6" fill="#F3F6EF" stroke="#A3AFD0" stroke-width="1.1"/>
<ellipse cx="1213.0" cy="1577.7" rx="159.0" ry="111.0" fill="#F5F8FC"/>
<ellipse cx="1213.0" cy="1577.7" rx="155.0" ry="107.0" fill="none" stroke-linecap="round" stroke-dasharray="44.23,15.54" stroke-dashoffset="44.83" stroke="#B3C6DC" stroke-width="6.4"/>
<ellipse cx="1213.0" cy="1577.7" rx="155.0" ry="107.0" fill="none" stroke-linecap="round" stroke-dasharray="44.23,15.54" stroke-dashoffset="44.83" stroke="#E1ECF7" stroke-width="3.6"/>
<text x="1005.6" y="1490.3" font-size="15.64" fill="#92A4D4" font-weight="bold" textLength="79.9" lengthAdjust="spacingAndGlyphs" font-family="'Liberation Sans', Arial, sans-serif">Cytoplasm</text>
<text x="1238.6" y="1516.0" font-size="15.63" fill="#92A4D4" font-weight="bold" textLength="60.8" lengthAdjust="spacingAndGlyphs" font-family="'Liberation Sans', Arial, sans-serif">Nucleus</text>
<g fill="#6F83CA">
<ellipse cx="933.3" cy="1526.5" rx="5.5" ry="5.1"/>
<ellipse cx="937.6" cy="1522.4" rx="5.5" ry="5.1"/>
<ellipse cx="943.3" cy="1524.0" rx="6.0" ry="5.6"/>
<ellipse cx="948.1" cy="1527.3" rx="6.6" ry="6.1"/>
<ellipse cx="935.4" cy="1533.3" rx="7.1" ry="6.6"/>
<ellipse cx="942.0" cy="1532.5" rx="8.2" ry="7.6"/>
<ellipse cx="949.0" cy="1534.5" rx="8.2" ry="7.6"/>
<ellipse cx="940.7" cy="1539.8" rx="7.1" ry="6.6"/>
<ellipse cx="947.3" cy="1541.8" rx="8.2" ry="7.6"/>
<ellipse cx="954.3" cy="1540.2" rx="7.7" ry="7.1"/>
<ellipse cx="952.1" cy="1547.5" rx="7.1" ry="6.6"/>
<ellipse cx="958.2" cy="1549.1" rx="6.0" ry="5.6"/>
<ellipse cx="960.0" cy="1537.0" rx="6.6" ry="6.1"/>
<ellipse cx="955.6" cy="1531.3" rx="5.5" ry="5.1"/>
<ellipse cx="945.5" cy="1547.5" rx="5.5" ry="5.1"/>
</g>
<ellipse cx="941.1" cy="1530.5" rx="3.5" ry="3.2" fill="#7C8FD0" opacity="0.7"/>
<ellipse cx="947.7" cy="1538.6" rx="3.1" ry="2.8" fill="#7C8FD0" opacity="0.7"/>
<ellipse cx="954.3" cy="1545.9" rx="2.6" ry="2.4" fill="#7C8FD0" opacity="0.7"/>
<ellipse cx="936.8" cy="1526.5" rx="2.2" ry="2.0" fill="#7C8FD0" opacity="0.7"/>
<path d="M982.56,1512.00 L982.52,1512.51 L982.63,1513.02 L982.87,1513.56 L983.24,1514.14 L983.71,1514.77 L984.25,1515.45 L984.83,1516.20 L985.42,1517.00 L985.98,1517.84 L986.47,1518.72 L986.86,1519.62 L987.13,1520.52 L987.26,1521.39 L987.22,1522.22 L987.02,1522.98 L986.65,1523.65 L986.12,1524.22 L985.45,1524.68 L984.65,1525.01 L983.76,1525.22 L982.79,1525.32 L981.79,1525.32 L980.78,1525.23 L979.79,1525.09 L978.84,1524.92 L977.96,1524.75 L977.15,1524.60 L976.44,1524.51 L975.82,1524.51 L975.28,1524.61 L974.82,1524.83 L974.43,1525.18 L974.08,1525.66 L973.77,1526.27 L973.46,1526.99 L973.13,1527.80 L972.78,1528.68 L972.38,1529.58 L971.93,1530.49 L971.41,1531.36 L970.83,1532.15 L970.19,1532.83 L969.49,1533.38 L968.76,1533.76 L968.00,1533.96 L967.23,1533.98 L966.48,1533.80 L965.75,1533.45 L965.06,1532.92 L964.43,1532.26 L963.86,1531.47 L963.36,1530.60 L962.93,1529.69 L962.56,1528.76 L962.23,1527.85 L961.94,1527.00 L961.67,1526.23 L961.38,1525.56 L961.08,1525.02 L960.72,1524.61 L960.30,1524.32 L959.80,1524.16 L959.21,1524.10 L958.52,1524.13 L957.75,1524.22 L956.88,1524.35 L955.95,1524.48 L954.96,1524.59 L953.95,1524.65 L952.94,1524.63 L951.97,1524.53 L951.05,1524.31 L950.24,1523.98 L949.54,1523.54 L948.98,1522.98 L948.58,1522.32 L948.35,1521.58 L948.30,1520.77 L948.41,1519.92 L948.67,1519.03 L949.07,1518.15 L949.57,1517.28 L950.15,1516.45 L950.77,1515.66 L951.39,1514.93 L951.98,1514.25 L952.51,1513.63 L952.94,1513.05 L953.26,1512.51 L953.44,1512.00 L953.48,1511.49 L953.37,1510.98 L953.13,1510.44 L952.76,1509.86 L952.29,1509.23 L951.75,1508.55 L951.17,1507.80 L950.58,1507.00 L950.02,1506.16 L949.53,1505.28 L949.14,1504.38 L948.87,1503.48 L948.74,1502.61 L948.78,1501.78 L948.98,1501.02 L949.35,1500.35 L949.88,1499.78 L950.55,1499.32 L951.35,1498.99 L952.24,1498.78 L953.21,1498.68 L954.21,1498.68 L955.22,1498.77 L956.21,1498.91 L957.16,1499.08 L958.04,1499.25 L958.85,1499.40 L959.56,1499.49 L960.18,1499.49 L960.72,1499.39 L961.18,1499.17 L961.57,1498.82 L961.92,1498.34 L962.23,1497.73 L962.54,1497.01 L962.87,1496.20 L963.22,1495.32 L963.62,1494.42 L964.07,1493.51 L964.59,1492.64 L965.17,1491.85 L965.81,1491.17 L966.51,1490.62 L967.24,1490.24 L968.00,1490.04 L968.77,1490.02 L969.52,1490.20 L970.25,1490.55 L970.94,1491.08 L971.57,1491.74 L972.14,1492.53 L972.64,1493.40 L973.07,1494.31 L973.44,1495.24 L973.77,1496.15 L974.06,1497.00 L974.33,1497.77 L974.62,1498.44 L974.92,1498.98 L975.28,1499.39 L975.70,1499.68 L976.20,1499.84 L976.79,1499.90 L977.48,1499.87 L978.25,1499.78 L979.12,1499.65 L980.05,1499.52 L981.04,1499.41 L982.05,1499.35 L983.06,1499.37 L984.03,1499.47 L984.95,1499.69 L985.76,1500.02 L986.46,1500.46 L987.02,1501.02 L987.42,1501.68 L987.65,1502.42 L987.70,1503.23 L987.59,1504.08 L987.33,1504.97 L986.93,1505.85 L986.43,1506.72 L985.85,1507.55 L985.23,1508.34 L984.61,1509.07 L984.02,1509.75 L983.49,1510.37 L983.06,1510.95 L982.74,1511.49 L982.56,1512.00 Z" fill="none" stroke="#22508C" stroke-width="1.35" stroke-linejoin="round"/>
<line x1="982.61" y1="1512.96" x2="980.61" y2="1512.83" stroke="#6f8fc0" stroke-width="0.5" />
<line x1="984.04" y1="1515.19" x2="982.08" y2="1514.80" stroke="#6f8fc0" stroke-width="0.5" />
<line x1="986.17" y1="1518.17" x2="984.28" y2="1517.53" stroke="#6f8fc0" stroke-width="0.5" />
<line x1="987.26" y1="1521.50" x2="985.47" y2="1520.62" stroke="#6f8fc0" stroke-width="0.5" />
<line x1="986.19" y1="1524.16" x2="984.53" y2="1523.05" stroke="#6f8fc0" stroke-width="0.5" />
<line x1="983.16" y1="1525.30" x2="981.66" y2="1523.98" stroke="#6f8fc0" stroke-width="0.5" />
<line x1="979.43" y1="1525.03" x2="978.11" y2="1523.53" stroke="#6f8fc0" stroke-width="0.5" />
<line x1="976.36" y1="1524.51" x2="975.25" y2="1522.84" stroke="#6f8fc0" stroke-width="0.5" />
<line x1="974.47" y1="1525.13" x2="973.59" y2="1523.33" stroke="#6f8fc0" stroke-width="0.5" />
<line x1="973.26" y1="1527.49" x2="972.61" y2="1525.59" stroke="#6f8fc0" stroke-width="0.5" />
<line x1="971.74" y1="1530.82" x2="971.35" y2="1528.86" stroke="#6f8fc0" stroke-width="0.5" />
<line x1="969.40" y1="1533.43" x2="969.27" y2="1531.44" stroke="#6f8fc0" stroke-width="0.5" />
<line x1="966.57" y1="1533.84" x2="966.70" y2="1531.84" stroke="#6f8fc0" stroke-width="0.5" />
<line x1="964.07" y1="1531.78" x2="964.46" y2="1529.82" stroke="#6f8fc0" stroke-width="0.5" />
<line x1="962.43" y1="1528.41" x2="963.07" y2="1526.52" stroke="#6f8fc0" stroke-width="0.5" />
<line x1="961.35" y1="1525.49" x2="962.23" y2="1523.70" stroke="#6f8fc0" stroke-width="0.5" />
<line x1="959.87" y1="1524.17" x2="960.98" y2="1522.51" stroke="#6f8fc0" stroke-width="0.5" />
<line x1="957.22" y1="1524.30" x2="958.53" y2="1522.79" stroke="#6f8fc0" stroke-width="0.5" />
<line x1="953.57" y1="1524.65" x2="955.08" y2="1523.33" stroke="#6f8fc0" stroke-width="0.5" />
<line x1="950.14" y1="1523.93" x2="951.80" y2="1522.82" stroke="#6f8fc0" stroke-width="0.5" />
<line x1="948.37" y1="1521.68" x2="950.17" y2="1520.79" stroke="#6f8fc0" stroke-width="0.5" />
<line x1="948.91" y1="1518.48" x2="950.80" y2="1517.84" stroke="#6f8fc0" stroke-width="0.5" />
<line x1="951.00" y1="1515.38" x2="952.96" y2="1514.99" stroke="#6f8fc0" stroke-width="0.5" />
<line x1="952.99" y1="1512.98" x2="954.99" y2="1512.85" stroke="#6f8fc0" stroke-width="0.5" />
<line x1="953.39" y1="1511.04" x2="955.39" y2="1511.17" stroke="#6f8fc0" stroke-width="0.5" />
<line x1="951.96" y1="1508.81" x2="953.92" y2="1509.20" stroke="#6f8fc0" stroke-width="0.5" />
<line x1="949.83" y1="1505.83" x2="951.72" y2="1506.47" stroke="#6f8fc0" stroke-width="0.5" />
<line x1="948.74" y1="1502.50" x2="950.53" y2="1503.38" stroke="#6f8fc0" stroke-width="0.5" />
<line x1="949.81" y1="1499.84" x2="951.47" y2="1500.95" stroke="#6f8fc0" stroke-width="0.5" />
<line x1="952.84" y1="1498.70" x2="954.34" y2="1500.02" stroke="#6f8fc0" stroke-width="0.5" />
<line x1="956.57" y1="1498.97" x2="957.89" y2="1500.47" stroke="#6f8fc0" stroke-width="0.5" />
<line x1="959.64" y1="1499.49" x2="960.75" y2="1501.16" stroke="#6f8fc0" stroke-width="0.5" />
<line x1="961.53" y1="1498.87" x2="962.41" y2="1500.67" stroke="#6f8fc0" stroke-width="0.5" />
<line x1="962.74" y1="1496.51" x2="963.39" y2="1498.41" stroke="#6f8fc0" stroke-width="0.5" />
<line x1="964.26" y1="1493.18" x2="964.65" y2="1495.14" stroke="#6f8fc0" stroke-width="0.5" />
<line x1="966.60" y1="1490.57" x2="966.73" y2="1492.56" stroke="#6f8fc0" stroke-width="0.5" />
<line x1="969.43" y1="1490.16" x2="969.30" y2="1492.16" stroke="#6f8fc0" stroke-width="0.5" />
<line x1="971.93" y1="1492.22" x2="971.54" y2="1494.18" stroke="#6f8fc0" stroke-width="0.5" />
<line x1="973.57" y1="1495.59" x2="972.93" y2="1497.48" stroke="#6f8fc0" stroke-width="0.5" />
<line x1="974.65" y1="1498.51" x2="973.77" y2="1500.30" stroke="#6f8fc0" stroke-width="0.5" />
<line x1="976.13" y1="1499.83" x2="975.02" y2="1501.49" stroke="#6f8fc0" stroke-width="0.5" />
<line x1="978.78" y1="1499.70" x2="977.47" y2="1501.21" stroke="#6f8fc0" stroke-width="0.5" />
<line x1="982.43" y1="1499.35" x2="980.92" y2="1500.67" stroke="#6f8fc0" stroke-width="0.5" />
<line x1="985.86" y1="1500.07" x2="984.20" y2="1501.18" stroke="#6f8fc0" stroke-width="0.5" />
<line x1="987.63" y1="1502.32" x2="985.83" y2="1503.21" stroke="#6f8fc0" stroke-width="0.5" />
<line x1="987.09" y1="1505.52" x2="985.20" y2="1506.16" stroke="#6f8fc0" stroke-width="0.5" />
<line x1="985.00" y1="1508.62" x2="983.04" y2="1509.01" stroke="#6f8fc0" stroke-width="0.5" />
<line x1="983.01" y1="1511.02" x2="981.01" y2="1511.15" stroke="#6f8fc0" stroke-width="0.5" />
<path d="M889.4,1519.3 L889.6,1517.2 L892.1,1496.9 L892.5,1494.3 L893.4,1491.8 L894.5,1489.4 L895.9,1487.2 L897.5,1485.2 L899.4,1483.5 L901.5,1482.0 L903.8,1480.9 L906.2,1480.0 L908.6,1479.5 L911.2,1479.3 L913.7,1479.5 L916.2,1480.0 L918.5,1480.9 L920.8,1482.0 L922.9,1483.5 L924.8,1485.2 L926.5,1487.2 L927.9,1489.4 L929.0,1491.8 L929.8,1494.3 L930.3,1496.9 L930.5,1499.5 L930.3,1502.2 L929.8,1504.7 L929.0,1507.2 L927.9,1509.6 L918.2,1527.4 L917.1,1529.2 L915.8,1530.8 L914.2,1532.2 L912.6,1533.3 L910.8,1534.2 L908.9,1534.9 L906.9,1535.3 L904.9,1535.5 L902.9,1535.3 L900.9,1534.9 L899.0,1534.2 L897.1,1533.3 L895.5,1532.2 L894.0,1530.8 L892.6,1529.2 L891.5,1527.4 L890.6,1525.5 L890.0,1523.5 L889.6,1521.4 Z M862.8,1531.8 L863.0,1529.0 L863.5,1526.3 L864.4,1523.7 L865.5,1521.2 L867.0,1518.9 L868.8,1516.8 L870.8,1514.9 L873.0,1513.4 L875.4,1512.2 L877.9,1511.2 L880.5,1510.7 L883.1,1510.5 L885.8,1510.7 L888.4,1511.2 L910.6,1517.7 L912.7,1518.5 L914.7,1519.5 L916.5,1520.8 L918.2,1522.3 L919.6,1524.0 L920.8,1525.9 L921.8,1528.0 L922.5,1530.2 L922.9,1532.5 L923.1,1534.8 L922.9,1537.0 L922.5,1539.3 L921.8,1541.5 L920.8,1543.6 L919.6,1545.5 L918.2,1547.2 L916.5,1548.7 L914.7,1550.0 L912.7,1551.0 L910.6,1551.8 L908.5,1552.2 L906.3,1552.4 L883.1,1553.1 L880.5,1552.9 L877.9,1552.4 L875.4,1551.5 L873.0,1550.2 L870.8,1548.7 L868.8,1546.9 L867.0,1544.8 L865.5,1542.5 L864.4,1540.0 L863.5,1537.3 L863.0,1534.6 Z M889.4,1519.3 L889.6,1517.2 L890.0,1515.2 L890.6,1513.2 L891.5,1511.3 L892.6,1509.5 L894.0,1507.9 L895.5,1506.5 L897.1,1505.3 L899.0,1504.4 L900.9,1503.7 L902.9,1503.3 L904.9,1503.2 L906.9,1503.3 L908.9,1503.7 L910.8,1504.4 L912.6,1505.3 L914.2,1506.5 L915.8,1507.9 L917.1,1509.5 L918.2,1511.3 L919.1,1513.2 L919.8,1515.2 L920.1,1517.2 L922.9,1532.5 L923.1,1534.8 L922.9,1537.0 L922.5,1539.3 L921.8,1541.5 L920.8,1543.6 L919.6,1545.5 L918.2,1547.2 L916.5,1548.7 L914.7,1550.0 L912.7,1551.0 L910.6,1551.8 L908.5,1552.2 L906.3,1552.4 L904.1,1552.2 L901.9,1551.8 L899.8,1551.0 L897.9,1550.0 L896.0,1548.7 L894.4,1547.2 L892.9,1545.5 L891.7,1543.6 L890.7,1541.5 L890.0,1539.3 L889.6,1537.0 L889.4,1534.8 Z" fill="#7CB8A8" stroke="none" stroke-width="1" />
<path d="M888.8,1516.4 L888.9,1514.4 L891.6,1494.1 L892.1,1491.7 L892.9,1489.4 L893.9,1487.2 L895.2,1485.2 L896.7,1483.3 L898.5,1481.7 L900.5,1480.3 L902.6,1479.2 L904.8,1478.5 L907.1,1478.0 L909.4,1477.8 L911.8,1478.0 L914.1,1478.5 L916.3,1479.2 L918.4,1480.3 L920.3,1481.7 L922.1,1483.3 L923.6,1485.2 L924.9,1487.2 L926.0,1489.4 L926.7,1491.7 L927.2,1494.1 L927.4,1496.6 L927.2,1499.0 L926.7,1501.4 L926.0,1503.8 L924.9,1506.0 L915.5,1523.9 L914.5,1525.5 L913.2,1527.0 L911.8,1528.3 L910.3,1529.4 L908.6,1530.3 L906.8,1530.9 L905.0,1531.3 L903.1,1531.4 L901.2,1531.3 L899.4,1530.9 L897.6,1530.3 L895.9,1529.4 L894.4,1528.3 L893.0,1527.0 L891.7,1525.5 L890.7,1523.9 L889.9,1522.2 L889.2,1520.3 L888.9,1518.4 Z M862.5,1528.9 L862.6,1526.3 L863.1,1523.8 L863.9,1521.3 L865.0,1519.0 L866.4,1516.8 L868.0,1514.9 L869.9,1513.2 L871.9,1511.7 L874.1,1510.6 L876.5,1509.8 L878.9,1509.2 L881.4,1509.1 L883.9,1509.2 L886.3,1509.8 L908.6,1516.0 L910.5,1516.7 L912.3,1517.6 L914.0,1518.8 L915.6,1520.2 L916.9,1521.8 L918.1,1523.6 L919.0,1525.5 L919.6,1527.6 L920.0,1529.7 L920.2,1531.8 L920.0,1534.0 L919.6,1536.0 L919.0,1538.1 L918.1,1540.0 L916.9,1541.8 L915.6,1543.4 L914.0,1544.8 L912.3,1546.0 L910.5,1547.0 L908.6,1547.6 L906.5,1548.1 L904.5,1548.2 L881.4,1548.7 L878.9,1548.5 L876.5,1548.0 L874.1,1547.2 L871.9,1546.0 L869.9,1544.6 L868.0,1542.9 L866.4,1540.9 L865.0,1538.8 L863.9,1536.5 L863.1,1534.0 L862.6,1531.5 Z M888.8,1516.4 L888.9,1514.4 L889.2,1512.5 L889.9,1510.7 L890.7,1508.9 L891.7,1507.3 L893.0,1505.8 L894.4,1504.5 L895.9,1503.4 L897.6,1502.5 L899.4,1501.9 L901.2,1501.5 L903.1,1501.4 L905.0,1501.5 L906.8,1501.9 L908.6,1502.5 L910.3,1503.4 L911.8,1504.5 L913.2,1505.8 L914.5,1507.3 L915.5,1508.9 L916.4,1510.7 L917.0,1512.5 L917.3,1514.4 L920.0,1529.7 L920.2,1531.8 L920.0,1534.0 L919.6,1536.0 L919.0,1538.1 L918.1,1540.0 L916.9,1541.8 L915.6,1543.4 L914.0,1544.8 L912.3,1546.0 L910.5,1547.0 L908.6,1547.6 L906.5,1548.1 L904.5,1548.2 L902.5,1548.1 L900.5,1547.6 L898.5,1547.0 L896.7,1546.0 L895.0,1544.8 L893.5,1543.4 L892.1,1541.8 L891.0,1540.0 L890.1,1538.1 L889.4,1536.0 L889.0,1534.0 L888.9,1531.8 Z" fill="#97C9BC" stroke="none" stroke-width="1" />
<text x="879.9" y="1527.7" font-size="16.20" fill="#111111" font-family="'Liberation Sans', Arial, sans-serif">Cas9</text>
<g fill="#6F83CA">
<ellipse cx="910.0" cy="1607.5" rx="5.4" ry="5.1"/>
<ellipse cx="914.3" cy="1603.4" rx="5.4" ry="5.1"/>
<ellipse cx="920.0" cy="1605.0" rx="6.0" ry="5.6"/>
<ellipse cx="924.8" cy="1608.3" rx="6.5" ry="6.1"/>
<ellipse cx="912.2" cy="1614.3" rx="7.1" ry="6.6"/>
<ellipse cx="918.7" cy="1613.5" rx="8.1" ry="7.6"/>
<ellipse cx="925.6" cy="1615.5" rx="8.1" ry="7.6"/>
<ellipse cx="917.4" cy="1620.8" rx="7.1" ry="6.6"/>
<ellipse cx="923.9" cy="1622.8" rx="8.1" ry="7.6"/>
<ellipse cx="930.8" cy="1621.2" rx="7.6" ry="7.1"/>
<ellipse cx="928.7" cy="1628.5" rx="7.1" ry="6.6"/>
<ellipse cx="934.7" cy="1630.1" rx="6.0" ry="5.6"/>
<ellipse cx="936.5" cy="1618.0" rx="6.5" ry="6.1"/>
<ellipse cx="932.1" cy="1612.3" rx="5.4" ry="5.1"/>
<ellipse cx="922.2" cy="1628.5" rx="5.4" ry="5.1"/>
</g>
<ellipse cx="917.8" cy="1611.5" rx="3.5" ry="3.2" fill="#7C8FD0" opacity="0.7"/>
<ellipse cx="924.3" cy="1619.6" rx="3.0" ry="2.8" fill="#7C8FD0" opacity="0.7"/>
<ellipse cx="930.8" cy="1626.9" rx="2.6" ry="2.4" fill="#7C8FD0" opacity="0.7"/>
<ellipse cx="913.5" cy="1607.5" rx="2.2" ry="2.0" fill="#7C8FD0" opacity="0.7"/>
<path d="M958.56,1595.50 L958.52,1596.01 L958.63,1596.52 L958.87,1597.06 L959.24,1597.64 L959.71,1598.27 L960.25,1598.95 L960.83,1599.70 L961.42,1600.50 L961.98,1601.34 L962.47,1602.22 L962.86,1603.12 L963.13,1604.02 L963.26,1604.89 L963.22,1605.72 L963.02,1606.48 L962.65,1607.15 L962.12,1607.72 L961.45,1608.18 L960.65,1608.51 L959.76,1608.72 L958.79,1608.82 L957.79,1608.82 L956.78,1608.73 L955.79,1608.59 L954.84,1608.42 L953.96,1608.25 L953.15,1608.10 L952.44,1608.01 L951.82,1608.01 L951.28,1608.11 L950.82,1608.33 L950.43,1608.68 L950.08,1609.16 L949.77,1609.77 L949.46,1610.49 L949.13,1611.30 L948.78,1612.18 L948.38,1613.08 L947.93,1613.99 L947.41,1614.86 L946.83,1615.65 L946.19,1616.33 L945.49,1616.88 L944.76,1617.26 L944.00,1617.46 L943.23,1617.48 L942.48,1617.30 L941.75,1616.95 L941.06,1616.42 L940.43,1615.76 L939.86,1614.97 L939.36,1614.10 L938.93,1613.19 L938.56,1612.26 L938.23,1611.35 L937.94,1610.50 L937.67,1609.73 L937.38,1609.06 L937.08,1608.52 L936.72,1608.11 L936.30,1607.82 L935.80,1607.66 L935.21,1607.60 L934.52,1607.63 L933.75,1607.72 L932.88,1607.85 L931.95,1607.98 L930.96,1608.09 L929.95,1608.15 L928.94,1608.13 L927.97,1608.03 L927.05,1607.81 L926.24,1607.48 L925.54,1607.04 L924.98,1606.48 L924.58,1605.82 L924.35,1605.08 L924.30,1604.27 L924.41,1603.42 L924.67,1602.53 L925.07,1601.65 L925.57,1600.78 L926.15,1599.95 L926.77,1599.16 L927.39,1598.43 L927.98,1597.75 L928.51,1597.13 L928.94,1596.55 L929.26,1596.01 L929.44,1595.50 L929.48,1594.99 L929.37,1594.48 L929.13,1593.94 L928.76,1593.36 L928.29,1592.73 L927.75,1592.05 L927.17,1591.30 L926.58,1590.50 L926.02,1589.66 L925.53,1588.78 L925.14,1587.88 L924.87,1586.98 L924.74,1586.11 L924.78,1585.28 L924.98,1584.52 L925.35,1583.85 L925.88,1583.28 L926.55,1582.82 L927.35,1582.49 L928.24,1582.28 L929.21,1582.18 L930.21,1582.18 L931.22,1582.27 L932.21,1582.41 L933.16,1582.58 L934.04,1582.75 L934.85,1582.90 L935.56,1582.99 L936.18,1582.99 L936.72,1582.89 L937.18,1582.67 L937.57,1582.32 L937.92,1581.84 L938.23,1581.23 L938.54,1580.51 L938.87,1579.70 L939.22,1578.82 L939.62,1577.92 L940.07,1577.01 L940.59,1576.14 L941.17,1575.35 L941.81,1574.67 L942.51,1574.12 L943.24,1573.74 L944.00,1573.54 L944.77,1573.52 L945.52,1573.70 L946.25,1574.05 L946.94,1574.58 L947.57,1575.24 L948.14,1576.03 L948.64,1576.90 L949.07,1577.81 L949.44,1578.74 L949.77,1579.65 L950.06,1580.50 L950.33,1581.27 L950.62,1581.94 L950.92,1582.48 L951.28,1582.89 L951.70,1583.18 L952.20,1583.34 L952.79,1583.40 L953.48,1583.37 L954.25,1583.28 L955.12,1583.15 L956.05,1583.02 L957.04,1582.91 L958.05,1582.85 L959.06,1582.87 L960.03,1582.97 L960.95,1583.19 L961.76,1583.52 L962.46,1583.96 L963.02,1584.52 L963.42,1585.18 L963.65,1585.92 L963.70,1586.73 L963.59,1587.58 L963.33,1588.47 L962.93,1589.35 L962.43,1590.22 L961.85,1591.05 L961.23,1591.84 L960.61,1592.57 L960.02,1593.25 L959.49,1593.87 L959.06,1594.45 L958.74,1594.99 L958.56,1595.50 Z" fill="none" stroke="#22508C" stroke-width="1.35" stroke-linejoin="round"/>
<line x1="958.61" y1="1596.46" x2="956.61" y2="1596.33" stroke="#6f8fc0" stroke-width="0.5" />
<line x1="960.04" y1="1598.69" x2="958.08" y2="1598.30" stroke="#6f8fc0" stroke-width="0.5" />
<line x1="962.17" y1="1601.67" x2="960.28" y2="1601.03" stroke="#6f8fc0" stroke-width="0.5" />
<line x1="963.26" y1="1605.00" x2="961.47" y2="1604.12" stroke="#6f8fc0" stroke-width="0.5" />
<line x1="962.19" y1="1607.66" x2="960.53" y2="1606.55" stroke="#6f8fc0" stroke-width="0.5" />
<line x1="959.16" y1="1608.80" x2="957.66" y2="1607.48" stroke="#6f8fc0" stroke-width="0.5" />
<line x1="955.43" y1="1608.53" x2="954.11" y2="1607.03" stroke="#6f8fc0" stroke-width="0.5" />
<line x1="952.36" y1="1608.01" x2="951.25" y2="1606.34" stroke="#6f8fc0" stroke-width="0.5" />
<line x1="950.47" y1="1608.63" x2="949.59" y2="1606.83" stroke="#6f8fc0" stroke-width="0.5" />
<line x1="949.26" y1="1610.99" x2="948.61" y2="1609.09" stroke="#6f8fc0" stroke-width="0.5" />
<line x1="947.74" y1="1614.32" x2="947.35" y2="1612.36" stroke="#6f8fc0" stroke-width="0.5" />
<line x1="945.40" y1="1616.93" x2="945.27" y2="1614.94" stroke="#6f8fc0" stroke-width="0.5" />
<line x1="942.57" y1="1617.34" x2="942.70" y2="1615.34" stroke="#6f8fc0" stroke-width="0.5" />
<line x1="940.07" y1="1615.28" x2="940.46" y2="1613.32" stroke="#6f8fc0" stroke-width="0.5" />
<line x1="938.43" y1="1611.91" x2="939.07" y2="1610.02" stroke="#6f8fc0" stroke-width="0.5" />
<line x1="937.35" y1="1608.99" x2="938.23" y2="1607.20" stroke="#6f8fc0" stroke-width="0.5" />
<line x1="935.87" y1="1607.67" x2="936.98" y2="1606.01" stroke="#6f8fc0" stroke-width="0.5" />
<line x1="933.22" y1="1607.80" x2="934.53" y2="1606.29" stroke="#6f8fc0" stroke-width="0.5" />
<line x1="929.57" y1="1608.15" x2="931.08" y2="1606.83" stroke="#6f8fc0" stroke-width="0.5" />
<line x1="926.14" y1="1607.43" x2="927.80" y2="1606.32" stroke="#6f8fc0" stroke-width="0.5" />
<line x1="924.37" y1="1605.18" x2="926.17" y2="1604.29" stroke="#6f8fc0" stroke-width="0.5" />
<line x1="924.91" y1="1601.98" x2="926.80" y2="1601.34" stroke="#6f8fc0" stroke-width="0.5" />
<line x1="927.00" y1="1598.88" x2="928.96" y2="1598.49" stroke="#6f8fc0" stroke-width="0.5" />
<line x1="928.99" y1="1596.48" x2="930.99" y2="1596.35" stroke="#6f8fc0" stroke-width="0.5" />
<line x1="929.39" y1="1594.54" x2="931.39" y2="1594.67" stroke="#6f8fc0" stroke-width="0.5" />
<line x1="927.96" y1="1592.31" x2="929.92" y2="1592.70" stroke="#6f8fc0" stroke-width="0.5" />
<line x1="925.83" y1="1589.33" x2="927.72" y2="1589.97" stroke="#6f8fc0" stroke-width="0.5" />
<line x1="924.74" y1="1586.00" x2="926.53" y2="1586.88" stroke="#6f8fc0" stroke-width="0.5" />
<line x1="925.81" y1="1583.34" x2="927.47" y2="1584.45" stroke="#6f8fc0" stroke-width="0.5" />
<line x1="928.84" y1="1582.20" x2="930.34" y2="1583.52" stroke="#6f8fc0" stroke-width="0.5" />
<line x1="932.57" y1="1582.47" x2="933.89" y2="1583.97" stroke="#6f8fc0" stroke-width="0.5" />
<line x1="935.64" y1="1582.99" x2="936.75" y2="1584.66" stroke="#6f8fc0" stroke-width="0.5" />
<line x1="937.53" y1="1582.37" x2="938.41" y2="1584.17" stroke="#6f8fc0" stroke-width="0.5" />
<line x1="938.74" y1="1580.01" x2="939.39" y2="1581.91" stroke="#6f8fc0" stroke-width="0.5" />
<line x1="940.26" y1="1576.68" x2="940.65" y2="1578.64" stroke="#6f8fc0" stroke-width="0.5" />
<line x1="942.60" y1="1574.07" x2="942.73" y2="1576.06" stroke="#6f8fc0" stroke-width="0.5" />
<line x1="945.43" y1="1573.66" x2="945.30" y2="1575.66" stroke="#6f8fc0" stroke-width="0.5" />
<line x1="947.93" y1="1575.72" x2="947.54" y2="1577.68" stroke="#6f8fc0" stroke-width="0.5" />
<line x1="949.57" y1="1579.09" x2="948.93" y2="1580.98" stroke="#6f8fc0" stroke-width="0.5" />
<line x1="950.65" y1="1582.01" x2="949.77" y2="1583.80" stroke="#6f8fc0" stroke-width="0.5" />
<line x1="952.13" y1="1583.33" x2="951.02" y2="1584.99" stroke="#6f8fc0" stroke-width="0.5" />
<line x1="954.78" y1="1583.20" x2="953.47" y2="1584.71" stroke="#6f8fc0" stroke-width="0.5" />
<line x1="958.43" y1="1582.85" x2="956.92" y2="1584.17" stroke="#6f8fc0" stroke-width="0.5" />
<line x1="961.86" y1="1583.57" x2="960.20" y2="1584.68" stroke="#6f8fc0" stroke-width="0.5" />
<line x1="963.63" y1="1585.82" x2="961.83" y2="1586.71" stroke="#6f8fc0" stroke-width="0.5" />
<line x1="963.09" y1="1589.02" x2="961.20" y2="1589.66" stroke="#6f8fc0" stroke-width="0.5" />
<line x1="961.00" y1="1592.12" x2="959.04" y2="1592.51" stroke="#6f8fc0" stroke-width="0.5" />
<line x1="959.01" y1="1594.52" x2="957.01" y2="1594.65" stroke="#6f8fc0" stroke-width="0.5" />
<path d="M865.8,1601.2 L865.9,1599.1 L868.4,1578.7 L868.9,1576.1 L869.7,1573.6 L870.8,1571.2 L872.2,1569.0 L873.9,1567.0 L875.8,1565.3 L877.9,1563.8 L880.1,1562.7 L882.5,1561.8 L885.0,1561.3 L887.5,1561.1 L890.0,1561.3 L892.5,1561.8 L894.9,1562.7 L897.1,1563.8 L899.2,1565.3 L901.1,1567.0 L902.8,1569.0 L904.2,1571.2 L905.3,1573.6 L906.1,1576.1 L906.6,1578.7 L906.8,1581.3 L906.6,1584.0 L906.1,1586.6 L905.3,1589.1 L904.2,1591.5 L894.5,1609.3 L893.4,1611.0 L892.1,1612.6 L890.6,1614.0 L888.9,1615.2 L887.1,1616.1 L885.2,1616.8 L883.2,1617.2 L881.2,1617.4 L879.2,1617.2 L877.2,1616.8 L875.3,1616.1 L873.5,1615.2 L871.8,1614.0 L870.3,1612.6 L869.0,1611.0 L867.9,1609.3 L867.0,1607.4 L866.3,1605.4 L865.9,1603.3 Z M839.2,1613.7 L839.4,1610.9 L839.9,1608.2 L840.8,1605.5 L841.9,1603.0 L843.4,1600.7 L845.1,1598.6 L847.1,1596.8 L849.4,1595.2 L851.7,1594.0 L854.2,1593.1 L856.9,1592.5 L859.5,1592.4 L862.1,1592.5 L864.8,1593.1 L887.0,1599.6 L889.0,1600.3 L891.0,1601.3 L892.8,1602.6 L894.5,1604.2 L895.9,1605.9 L897.1,1607.8 L898.1,1609.9 L898.8,1612.1 L899.3,1614.3 L899.4,1616.6 L899.3,1618.9 L898.8,1621.2 L898.1,1623.4 L897.1,1625.4 L895.9,1627.4 L894.5,1629.1 L892.8,1630.6 L891.0,1631.9 L889.0,1632.9 L887.0,1633.7 L884.8,1634.1 L882.6,1634.3 L859.5,1635.0 L856.9,1634.8 L854.2,1634.3 L851.7,1633.4 L849.4,1632.1 L847.1,1630.6 L845.1,1628.8 L843.4,1626.7 L841.9,1624.3 L840.8,1621.8 L839.9,1619.2 L839.4,1616.5 Z M865.8,1601.2 L865.9,1599.1 L866.3,1597.0 L867.0,1595.0 L867.9,1593.1 L869.0,1591.3 L870.3,1589.8 L871.8,1588.4 L873.5,1587.2 L875.3,1586.2 L877.2,1585.6 L879.2,1585.2 L881.2,1585.0 L883.2,1585.2 L885.2,1585.6 L887.1,1586.2 L888.9,1587.2 L890.6,1588.4 L892.1,1589.8 L893.4,1591.3 L894.5,1593.1 L895.4,1595.0 L896.1,1597.0 L896.5,1599.1 L899.3,1614.3 L899.4,1616.6 L899.3,1618.9 L898.8,1621.2 L898.1,1623.4 L897.1,1625.4 L895.9,1627.4 L894.5,1629.1 L892.8,1630.6 L891.0,1631.9 L889.0,1632.9 L887.0,1633.7 L884.8,1634.1 L882.6,1634.3 L880.4,1634.1 L878.2,1633.7 L876.2,1632.9 L874.2,1631.9 L872.4,1630.6 L870.7,1629.1 L869.3,1627.4 L868.0,1625.4 L867.1,1623.4 L866.4,1621.2 L865.9,1618.9 L865.8,1616.6 Z" fill="#7CB8A8" stroke="none" stroke-width="1" />
<path d="M865.1,1598.2 L865.2,1596.3 L868.0,1576.0 L868.5,1573.5 L869.2,1571.2 L870.2,1569.0 L871.5,1567.0 L873.1,1565.1 L874.9,1563.5 L876.8,1562.1 L878.9,1561.0 L881.1,1560.2 L883.4,1559.8 L885.8,1559.6 L888.1,1559.8 L890.4,1560.2 L892.6,1561.0 L894.7,1562.1 L896.6,1563.5 L898.4,1565.1 L900.0,1567.0 L901.2,1569.0 L902.3,1571.2 L903.0,1573.5 L903.5,1576.0 L903.6,1578.4 L903.5,1580.9 L903.0,1583.3 L902.3,1585.6 L901.2,1587.8 L891.9,1605.8 L890.8,1607.4 L889.6,1608.9 L888.2,1610.2 L886.6,1611.3 L884.9,1612.1 L883.2,1612.8 L881.3,1613.2 L879.5,1613.3 L877.6,1613.2 L875.7,1612.8 L874.0,1612.1 L872.3,1611.3 L870.7,1610.2 L869.3,1608.9 L868.1,1607.4 L867.0,1605.8 L866.2,1604.0 L865.6,1602.1 L865.2,1600.2 Z M838.9,1610.7 L839.0,1608.2 L839.5,1605.6 L840.3,1603.2 L841.4,1600.8 L842.8,1598.7 L844.4,1596.7 L846.3,1595.0 L848.3,1593.6 L850.5,1592.4 L852.9,1591.6 L855.3,1591.1 L857.8,1590.9 L860.2,1591.1 L862.6,1591.6 L884.9,1597.8 L886.8,1598.5 L888.7,1599.5 L890.4,1600.7 L891.9,1602.1 L893.2,1603.7 L894.4,1605.5 L895.3,1607.4 L895.9,1609.4 L896.3,1611.5 L896.5,1613.7 L896.3,1615.8 L895.9,1617.9 L895.3,1620.0 L894.4,1621.9 L893.2,1623.7 L891.9,1625.3 L890.4,1626.7 L888.7,1627.9 L886.8,1628.8 L884.9,1629.5 L882.9,1630.0 L880.9,1630.1 L857.8,1630.6 L855.3,1630.4 L852.9,1629.9 L850.5,1629.1 L848.3,1627.9 L846.3,1626.5 L844.4,1624.8 L842.8,1622.8 L841.4,1620.7 L840.3,1618.3 L839.5,1615.9 L839.0,1613.3 Z M865.1,1598.2 L865.2,1596.3 L865.6,1594.4 L866.2,1592.5 L867.0,1590.7 L868.1,1589.1 L869.3,1587.6 L870.7,1586.3 L872.3,1585.2 L874.0,1584.4 L875.7,1583.7 L877.6,1583.3 L879.5,1583.2 L881.3,1583.3 L883.2,1583.7 L884.9,1584.4 L886.6,1585.2 L888.2,1586.3 L889.6,1587.6 L890.8,1589.1 L891.9,1590.7 L892.7,1592.5 L893.3,1594.4 L893.6,1596.3 L896.3,1611.5 L896.5,1613.7 L896.3,1615.8 L895.9,1617.9 L895.3,1620.0 L894.4,1621.9 L893.2,1623.7 L891.9,1625.3 L890.4,1626.7 L888.7,1627.9 L886.8,1628.8 L884.9,1629.5 L882.9,1630.0 L880.9,1630.1 L878.8,1630.0 L876.8,1629.5 L874.9,1628.8 L873.0,1627.9 L871.3,1626.7 L869.8,1625.3 L868.5,1623.7 L867.3,1621.9 L866.4,1620.0 L865.8,1617.9 L865.4,1615.8 L865.2,1613.7 Z" fill="#97C9BC" stroke="none" stroke-width="1" />
<text x="856.7" y="1609.5" font-size="16.20" fill="#111111" font-family="'Liberation Sans', Arial, sans-serif">Cas9</text>
<g fill="#6F83CA">
<ellipse cx="1017.7" cy="1647.6" rx="4.6" ry="4.2"/>
<ellipse cx="1021.4" cy="1644.3" rx="4.6" ry="4.2"/>
<ellipse cx="1026.2" cy="1645.6" rx="5.1" ry="4.6"/>
<ellipse cx="1030.3" cy="1648.3" rx="5.6" ry="5.1"/>
<ellipse cx="1019.5" cy="1653.4" rx="6.0" ry="5.5"/>
<ellipse cx="1025.1" cy="1652.7" rx="7.0" ry="6.3"/>
<ellipse cx="1031.0" cy="1654.4" rx="7.0" ry="6.3"/>
<ellipse cx="1024.0" cy="1658.8" rx="6.0" ry="5.5"/>
<ellipse cx="1029.5" cy="1660.5" rx="7.0" ry="6.3"/>
<ellipse cx="1035.5" cy="1659.1" rx="6.5" ry="5.9"/>
<ellipse cx="1033.6" cy="1665.2" rx="6.0" ry="5.5"/>
<ellipse cx="1038.8" cy="1666.6" rx="5.1" ry="4.6"/>
<ellipse cx="1040.3" cy="1656.4" rx="5.6" ry="5.1"/>
<ellipse cx="1036.6" cy="1651.7" rx="4.6" ry="4.2"/>
<ellipse cx="1028.0" cy="1665.2" rx="4.6" ry="4.2"/>
</g>
<ellipse cx="1024.3" cy="1651.0" rx="3.0" ry="2.7" fill="#7C8FD0" opacity="0.7"/>
<ellipse cx="1029.9" cy="1657.8" rx="2.6" ry="2.4" fill="#7C8FD0" opacity="0.7"/>
<ellipse cx="1035.5" cy="1663.9" rx="2.2" ry="2.0" fill="#7C8FD0" opacity="0.7"/>
<ellipse cx="1020.6" cy="1647.6" rx="1.9" ry="1.7" fill="#7C8FD0" opacity="0.7"/>
<path d="M1059.24,1636.50 L1059.21,1636.93 L1059.30,1637.36 L1059.51,1637.81 L1059.82,1638.30 L1060.21,1638.83 L1060.67,1639.40 L1061.15,1640.03 L1061.65,1640.70 L1062.12,1641.41 L1062.53,1642.15 L1062.86,1642.91 L1063.09,1643.66 L1063.20,1644.40 L1063.17,1645.10 L1062.99,1645.73 L1062.68,1646.30 L1062.24,1646.78 L1061.67,1647.16 L1061.00,1647.44 L1060.25,1647.62 L1059.44,1647.70 L1058.60,1647.70 L1057.75,1647.63 L1056.91,1647.51 L1056.12,1647.36 L1055.37,1647.22 L1054.70,1647.10 L1054.10,1647.02 L1053.57,1647.02 L1053.12,1647.10 L1052.74,1647.29 L1052.41,1647.58 L1052.11,1647.99 L1051.85,1648.50 L1051.59,1649.10 L1051.32,1649.79 L1051.02,1650.52 L1050.69,1651.29 L1050.30,1652.05 L1049.87,1652.78 L1049.38,1653.44 L1048.84,1654.02 L1048.26,1654.47 L1047.64,1654.80 L1047.00,1654.97 L1046.35,1654.98 L1045.72,1654.84 L1045.10,1654.54 L1044.53,1654.10 L1044.00,1653.53 L1043.52,1652.87 L1043.10,1652.14 L1042.74,1651.37 L1042.42,1650.59 L1042.15,1649.83 L1041.90,1649.11 L1041.67,1648.46 L1041.44,1647.91 L1041.18,1647.45 L1040.88,1647.10 L1040.53,1646.86 L1040.11,1646.72 L1039.61,1646.67 L1039.03,1646.70 L1038.38,1646.78 L1037.65,1646.88 L1036.87,1646.99 L1036.04,1647.09 L1035.19,1647.14 L1034.34,1647.12 L1033.52,1647.03 L1032.75,1646.85 L1032.06,1646.58 L1031.47,1646.20 L1031.01,1645.73 L1030.67,1645.18 L1030.48,1644.56 L1030.43,1643.88 L1030.53,1643.16 L1030.75,1642.42 L1031.08,1641.67 L1031.50,1640.94 L1031.99,1640.24 L1032.51,1639.58 L1033.03,1638.96 L1033.53,1638.39 L1033.97,1637.87 L1034.34,1637.39 L1034.61,1636.93 L1034.76,1636.50 L1034.79,1636.07 L1034.70,1635.64 L1034.49,1635.19 L1034.18,1634.70 L1033.79,1634.17 L1033.33,1633.60 L1032.85,1632.97 L1032.35,1632.30 L1031.88,1631.59 L1031.47,1630.85 L1031.14,1630.09 L1030.91,1629.34 L1030.80,1628.60 L1030.83,1627.90 L1031.01,1627.27 L1031.32,1626.70 L1031.76,1626.22 L1032.33,1625.84 L1033.00,1625.56 L1033.75,1625.38 L1034.56,1625.30 L1035.40,1625.30 L1036.25,1625.37 L1037.09,1625.49 L1037.88,1625.64 L1038.63,1625.78 L1039.30,1625.90 L1039.90,1625.98 L1040.43,1625.98 L1040.88,1625.90 L1041.26,1625.71 L1041.59,1625.42 L1041.89,1625.01 L1042.15,1624.50 L1042.41,1623.90 L1042.68,1623.21 L1042.98,1622.48 L1043.31,1621.71 L1043.70,1620.95 L1044.13,1620.22 L1044.62,1619.56 L1045.16,1618.98 L1045.74,1618.53 L1046.36,1618.20 L1047.00,1618.03 L1047.65,1618.02 L1048.28,1618.16 L1048.90,1618.46 L1049.47,1618.90 L1050.00,1619.47 L1050.48,1620.13 L1050.90,1620.86 L1051.26,1621.63 L1051.58,1622.41 L1051.85,1623.17 L1052.10,1623.89 L1052.33,1624.54 L1052.56,1625.09 L1052.82,1625.55 L1053.12,1625.90 L1053.47,1626.14 L1053.89,1626.28 L1054.39,1626.33 L1054.97,1626.30 L1055.62,1626.22 L1056.35,1626.12 L1057.13,1626.01 L1057.96,1625.91 L1058.81,1625.86 L1059.66,1625.88 L1060.48,1625.97 L1061.25,1626.15 L1061.94,1626.42 L1062.53,1626.80 L1062.99,1627.27 L1063.33,1627.82 L1063.52,1628.44 L1063.57,1629.12 L1063.47,1629.84 L1063.25,1630.58 L1062.92,1631.33 L1062.50,1632.06 L1062.01,1632.76 L1061.49,1633.42 L1060.97,1634.04 L1060.47,1634.61 L1060.03,1635.13 L1059.66,1635.61 L1059.39,1636.07 L1059.24,1636.50 Z" fill="none" stroke="#22508C" stroke-width="1.35" stroke-linejoin="round"/>
<line x1="1059.28" y1="1637.31" x2="1057.29" y2="1637.17" stroke="#6f8fc0" stroke-width="0.5" />
<line x1="1060.49" y1="1639.18" x2="1058.53" y2="1638.79" stroke="#6f8fc0" stroke-width="0.5" />
<line x1="1062.28" y1="1641.69" x2="1060.39" y2="1641.04" stroke="#6f8fc0" stroke-width="0.5" />
<line x1="1063.20" y1="1644.49" x2="1061.41" y2="1643.60" stroke="#6f8fc0" stroke-width="0.5" />
<line x1="1062.30" y1="1646.72" x2="1060.64" y2="1645.61" stroke="#6f8fc0" stroke-width="0.5" />
<line x1="1059.75" y1="1647.68" x2="1058.24" y2="1646.36" stroke="#6f8fc0" stroke-width="0.5" />
<line x1="1056.61" y1="1647.46" x2="1055.29" y2="1645.95" stroke="#6f8fc0" stroke-width="0.5" />
<line x1="1054.03" y1="1647.02" x2="1052.92" y2="1645.35" stroke="#6f8fc0" stroke-width="0.5" />
<line x1="1052.44" y1="1647.54" x2="1051.56" y2="1645.75" stroke="#6f8fc0" stroke-width="0.5" />
<line x1="1051.42" y1="1649.52" x2="1050.78" y2="1647.63" stroke="#6f8fc0" stroke-width="0.5" />
<line x1="1050.15" y1="1652.33" x2="1049.76" y2="1650.36" stroke="#6f8fc0" stroke-width="0.5" />
<line x1="1048.18" y1="1654.52" x2="1048.05" y2="1652.53" stroke="#6f8fc0" stroke-width="0.5" />
<line x1="1045.80" y1="1654.86" x2="1045.93" y2="1652.87" stroke="#6f8fc0" stroke-width="0.5" />
<line x1="1043.69" y1="1653.13" x2="1044.08" y2="1651.17" stroke="#6f8fc0" stroke-width="0.5" />
<line x1="1042.32" y1="1650.30" x2="1042.96" y2="1648.41" stroke="#6f8fc0" stroke-width="0.5" />
<line x1="1041.41" y1="1647.84" x2="1042.29" y2="1646.05" stroke="#6f8fc0" stroke-width="0.5" />
<line x1="1040.16" y1="1646.73" x2="1041.27" y2="1645.07" stroke="#6f8fc0" stroke-width="0.5" />
<line x1="1037.93" y1="1646.84" x2="1039.25" y2="1645.34" stroke="#6f8fc0" stroke-width="0.5" />
<line x1="1034.87" y1="1647.14" x2="1036.37" y2="1645.82" stroke="#6f8fc0" stroke-width="0.5" />
<line x1="1031.98" y1="1646.53" x2="1033.65" y2="1645.42" stroke="#6f8fc0" stroke-width="0.5" />
<line x1="1030.50" y1="1644.64" x2="1032.29" y2="1643.75" stroke="#6f8fc0" stroke-width="0.5" />
<line x1="1030.94" y1="1641.95" x2="1032.84" y2="1641.31" stroke="#6f8fc0" stroke-width="0.5" />
<line x1="1032.71" y1="1639.34" x2="1034.67" y2="1638.95" stroke="#6f8fc0" stroke-width="0.5" />
<line x1="1034.38" y1="1637.33" x2="1036.37" y2="1637.20" stroke="#6f8fc0" stroke-width="0.5" />
<line x1="1034.72" y1="1635.69" x2="1036.71" y2="1635.83" stroke="#6f8fc0" stroke-width="0.5" />
<line x1="1033.51" y1="1633.82" x2="1035.47" y2="1634.21" stroke="#6f8fc0" stroke-width="0.5" />
<line x1="1031.72" y1="1631.31" x2="1033.61" y2="1631.96" stroke="#6f8fc0" stroke-width="0.5" />
<line x1="1030.80" y1="1628.51" x2="1032.59" y2="1629.40" stroke="#6f8fc0" stroke-width="0.5" />
<line x1="1031.70" y1="1626.28" x2="1033.36" y2="1627.39" stroke="#6f8fc0" stroke-width="0.5" />
<line x1="1034.25" y1="1625.32" x2="1035.76" y2="1626.64" stroke="#6f8fc0" stroke-width="0.5" />
<line x1="1037.39" y1="1625.54" x2="1038.71" y2="1627.05" stroke="#6f8fc0" stroke-width="0.5" />
<line x1="1039.97" y1="1625.98" x2="1041.08" y2="1627.65" stroke="#6f8fc0" stroke-width="0.5" />
<line x1="1041.56" y1="1625.46" x2="1042.44" y2="1627.25" stroke="#6f8fc0" stroke-width="0.5" />
<line x1="1042.58" y1="1623.48" x2="1043.22" y2="1625.37" stroke="#6f8fc0" stroke-width="0.5" />
<line x1="1043.85" y1="1620.67" x2="1044.24" y2="1622.64" stroke="#6f8fc0" stroke-width="0.5" />
<line x1="1045.82" y1="1618.48" x2="1045.95" y2="1620.47" stroke="#6f8fc0" stroke-width="0.5" />
<line x1="1048.20" y1="1618.14" x2="1048.07" y2="1620.13" stroke="#6f8fc0" stroke-width="0.5" />
<line x1="1050.31" y1="1619.87" x2="1049.92" y2="1621.83" stroke="#6f8fc0" stroke-width="0.5" />
<line x1="1051.68" y1="1622.70" x2="1051.04" y2="1624.59" stroke="#6f8fc0" stroke-width="0.5" />
<line x1="1052.59" y1="1625.16" x2="1051.71" y2="1626.95" stroke="#6f8fc0" stroke-width="0.5" />
<line x1="1053.84" y1="1626.27" x2="1052.73" y2="1627.93" stroke="#6f8fc0" stroke-width="0.5" />
<line x1="1056.07" y1="1626.16" x2="1054.75" y2="1627.66" stroke="#6f8fc0" stroke-width="0.5" />
<line x1="1059.13" y1="1625.86" x2="1057.63" y2="1627.18" stroke="#6f8fc0" stroke-width="0.5" />
<line x1="1062.02" y1="1626.47" x2="1060.35" y2="1627.58" stroke="#6f8fc0" stroke-width="0.5" />
<line x1="1063.50" y1="1628.36" x2="1061.71" y2="1629.25" stroke="#6f8fc0" stroke-width="0.5" />
<line x1="1063.06" y1="1631.05" x2="1061.16" y2="1631.69" stroke="#6f8fc0" stroke-width="0.5" />
<line x1="1061.29" y1="1633.66" x2="1059.33" y2="1634.05" stroke="#6f8fc0" stroke-width="0.5" />
<line x1="1059.62" y1="1635.67" x2="1057.63" y2="1635.80" stroke="#6f8fc0" stroke-width="0.5" />
<path d="M980.7,1643.2 L980.8,1641.4 L982.9,1624.5 L983.3,1622.3 L984.0,1620.3 L985.0,1618.3 L986.1,1616.5 L987.5,1614.8 L989.1,1613.4 L990.9,1612.2 L992.8,1611.2 L994.8,1610.5 L996.9,1610.0 L999.0,1609.9 L1001.1,1610.0 L1003.1,1610.5 L1005.1,1611.2 L1007.0,1612.2 L1008.8,1613.4 L1010.4,1614.8 L1011.8,1616.5 L1013.0,1618.3 L1013.9,1620.3 L1014.6,1622.3 L1015.0,1624.5 L1015.1,1626.7 L1015.0,1628.9 L1014.6,1631.0 L1013.9,1633.1 L1013.0,1635.1 L1004.9,1649.9 L1003.9,1651.4 L1002.8,1652.7 L1001.5,1653.9 L1000.1,1654.8 L998.6,1655.6 L997.0,1656.2 L995.4,1656.5 L993.7,1656.6 L992.0,1656.5 L990.3,1656.2 L988.7,1655.6 L987.2,1654.8 L985.8,1653.9 L984.5,1652.7 L983.4,1651.4 L982.5,1649.9 L981.7,1648.3 L981.2,1646.7 L980.8,1645.0 Z M958.4,1653.6 L958.5,1651.3 L959.0,1649.0 L959.7,1646.8 L960.7,1644.7 L961.9,1642.8 L963.4,1641.0 L965.1,1639.5 L966.9,1638.2 L968.9,1637.2 L971.0,1636.5 L973.2,1636.0 L975.4,1635.9 L977.7,1636.0 L979.9,1636.5 L998.5,1641.9 L1000.2,1642.5 L1001.9,1643.3 L1003.4,1644.4 L1004.8,1645.7 L1006.0,1647.1 L1007.1,1648.7 L1007.9,1650.4 L1008.5,1652.2 L1008.8,1654.1 L1009.0,1656.0 L1008.8,1657.9 L1008.5,1659.8 L1007.9,1661.6 L1007.1,1663.4 L1006.0,1665.0 L1004.8,1666.4 L1003.4,1667.7 L1001.9,1668.7 L1000.2,1669.6 L998.5,1670.2 L996.7,1670.6 L994.8,1670.7 L975.4,1671.3 L973.2,1671.2 L971.0,1670.7 L968.9,1670.0 L966.9,1668.9 L965.1,1667.6 L963.4,1666.1 L961.9,1664.4 L960.7,1662.4 L959.7,1660.4 L959.0,1658.2 L958.5,1655.9 Z M980.7,1643.2 L980.8,1641.4 L981.2,1639.7 L981.7,1638.0 L982.5,1636.5 L983.4,1635.0 L984.5,1633.7 L985.8,1632.5 L987.2,1631.5 L988.7,1630.8 L990.3,1630.2 L992.0,1629.9 L993.7,1629.8 L995.4,1629.9 L997.0,1630.2 L998.6,1630.8 L1000.1,1631.5 L1001.5,1632.5 L1002.8,1633.7 L1003.9,1635.0 L1004.9,1636.5 L1005.6,1638.0 L1006.2,1639.7 L1006.5,1641.4 L1008.8,1654.1 L1009.0,1656.0 L1008.8,1657.9 L1008.5,1659.8 L1007.9,1661.6 L1007.1,1663.4 L1006.0,1665.0 L1004.8,1666.4 L1003.4,1667.7 L1001.9,1668.7 L1000.2,1669.6 L998.5,1670.2 L996.7,1670.6 L994.8,1670.7 L993.0,1670.6 L991.2,1670.2 L989.4,1669.6 L987.8,1668.7 L986.2,1667.7 L984.9,1666.4 L983.6,1665.0 L982.6,1663.4 L981.8,1661.6 L981.2,1659.8 L980.9,1657.9 L980.7,1656.0 Z" fill="#7CB8A8" stroke="none" stroke-width="1" />
<path d="M980.2,1640.8 L980.3,1639.1 L982.6,1622.2 L983.0,1620.2 L983.6,1618.3 L984.5,1616.4 L985.6,1614.7 L986.9,1613.2 L988.3,1611.9 L990.0,1610.7 L991.7,1609.8 L993.6,1609.2 L995.5,1608.8 L997.5,1608.6 L999.5,1608.8 L1001.4,1609.2 L1003.2,1609.8 L1005.0,1610.7 L1006.6,1611.9 L1008.1,1613.2 L1009.4,1614.7 L1010.5,1616.4 L1011.4,1618.3 L1012.0,1620.2 L1012.4,1622.2 L1012.5,1624.2 L1012.4,1626.3 L1012.0,1628.3 L1011.4,1630.2 L1010.5,1632.1 L1002.6,1647.0 L1001.7,1648.4 L1000.7,1649.6 L999.5,1650.7 L998.2,1651.6 L996.8,1652.3 L995.3,1652.8 L993.8,1653.1 L992.2,1653.2 L990.6,1653.1 L989.1,1652.8 L987.6,1652.3 L986.2,1651.6 L984.9,1650.7 L983.7,1649.6 L982.6,1648.4 L981.8,1647.0 L981.1,1645.5 L980.6,1644.0 L980.3,1642.4 Z M958.1,1651.1 L958.2,1649.0 L958.6,1646.9 L959.3,1644.8 L960.2,1642.9 L961.4,1641.1 L962.8,1639.5 L964.3,1638.1 L966.0,1636.9 L967.9,1635.9 L969.9,1635.2 L971.9,1634.8 L974.0,1634.7 L976.0,1634.8 L978.1,1635.2 L996.8,1640.4 L998.4,1641.0 L999.9,1641.8 L1001.4,1642.8 L1002.6,1643.9 L1003.8,1645.3 L1004.7,1646.8 L1005.5,1648.4 L1006.0,1650.0 L1006.4,1651.8 L1006.5,1653.6 L1006.4,1655.4 L1006.0,1657.1 L1005.5,1658.8 L1004.7,1660.4 L1003.8,1661.9 L1002.6,1663.2 L1001.4,1664.4 L999.9,1665.4 L998.4,1666.2 L996.8,1666.8 L995.1,1667.1 L993.4,1667.2 L974.0,1667.6 L971.9,1667.5 L969.9,1667.0 L967.9,1666.4 L966.0,1665.4 L964.3,1664.2 L962.8,1662.8 L961.4,1661.2 L960.2,1659.4 L959.3,1657.4 L958.6,1655.4 L958.2,1653.3 Z M980.2,1640.8 L980.3,1639.1 L980.6,1637.5 L981.1,1636.0 L981.8,1634.5 L982.6,1633.1 L983.7,1631.9 L984.9,1630.8 L986.2,1629.9 L987.6,1629.2 L989.1,1628.7 L990.6,1628.4 L992.2,1628.2 L993.8,1628.4 L995.3,1628.7 L996.8,1629.2 L998.2,1629.9 L999.5,1630.8 L1000.7,1631.9 L1001.7,1633.1 L1002.6,1634.5 L1003.3,1636.0 L1003.8,1637.5 L1004.1,1639.1 L1006.4,1651.8 L1006.5,1653.6 L1006.4,1655.4 L1006.0,1657.1 L1005.5,1658.8 L1004.7,1660.4 L1003.8,1661.9 L1002.6,1663.2 L1001.4,1664.4 L999.9,1665.4 L998.4,1666.2 L996.8,1666.8 L995.1,1667.1 L993.4,1667.2 L991.7,1667.1 L990.0,1666.8 L988.4,1666.2 L986.8,1665.4 L985.4,1664.4 L984.1,1663.2 L983.0,1661.9 L982.0,1660.4 L981.2,1658.8 L980.7,1657.1 L980.4,1655.4 L980.2,1653.6 Z" fill="#97C9BC" stroke="none" stroke-width="1" />
<text x="968.1" y="1650.1" font-size="16.20" fill="#111111" font-family="'Liberation Sans', Arial, sans-serif">Cas9</text>
<text x="966.0" y="1557.3" font-size="10.28" fill="#111111" textLength="28.0" lengthAdjust="spacingAndGlyphs" font-family="'Liberation Sans', Arial, sans-serif">SDBP</text>
<text x="842.7" y="1659.0" font-size="10.02" fill="#111111" font-weight="bold" textLength="90.8" lengthAdjust="spacingAndGlyphs" font-family="'Liberation Sans', Arial, sans-serif">Tripartate Complex</text>
<line x1="998.90" y1="1583.80" x2="1028.30" y2="1583.80" stroke="#1a1a1a" stroke-width="1.4" />
<path d="M1034.3,1583.8 L1025.8,1579.2 L1025.8,1588.4 Z" fill="#1a1a1a" stroke="none" stroke-width="1" />
<text x="1014.0" y="1699.6" font-size="11.42" fill="#111111" textLength="41.3" lengthAdjust="spacingAndGlyphs" font-family="'Liberation Sans', Arial, sans-serif">cssDNA</text>
<text x="1014.0" y="1712.6" font-size="11.30" fill="#111111" textLength="44.0" lengthAdjust="spacingAndGlyphs" font-family="'Liberation Sans', Arial, sans-serif">engaged</text>
<g fill="#6F83CA">
<ellipse cx="1179.0" cy="1532.8" rx="4.1" ry="3.7"/>
<ellipse cx="1182.3" cy="1529.8" rx="4.1" ry="3.7"/>
<ellipse cx="1186.5" cy="1531.0" rx="4.5" ry="4.1"/>
<ellipse cx="1190.2" cy="1533.3" rx="5.0" ry="4.4"/>
<ellipse cx="1180.6" cy="1537.8" rx="5.4" ry="4.8"/>
<ellipse cx="1185.6" cy="1537.2" rx="6.2" ry="5.5"/>
<ellipse cx="1190.8" cy="1538.7" rx="6.2" ry="5.5"/>
<ellipse cx="1184.6" cy="1542.5" rx="5.4" ry="4.8"/>
<ellipse cx="1189.5" cy="1544.0" rx="6.2" ry="5.5"/>
<ellipse cx="1194.8" cy="1542.8" rx="5.8" ry="5.2"/>
<ellipse cx="1193.2" cy="1548.1" rx="5.4" ry="4.8"/>
<ellipse cx="1197.8" cy="1549.3" rx="4.5" ry="4.1"/>
<ellipse cx="1199.1" cy="1540.4" rx="5.0" ry="4.4"/>
<ellipse cx="1195.8" cy="1536.3" rx="4.1" ry="3.7"/>
<ellipse cx="1188.2" cy="1548.1" rx="4.1" ry="3.7"/>
</g>
<ellipse cx="1184.9" cy="1535.7" rx="2.6" ry="2.4" fill="#7C8FD0" opacity="0.7"/>
<ellipse cx="1189.8" cy="1541.6" rx="2.3" ry="2.1" fill="#7C8FD0" opacity="0.7"/>
<ellipse cx="1194.8" cy="1546.9" rx="2.0" ry="1.8" fill="#7C8FD0" opacity="0.7"/>
<ellipse cx="1181.6" cy="1532.8" rx="1.7" ry="1.5" fill="#7C8FD0" opacity="0.7"/>
<path d="M1214.26,1524.50 L1214.23,1524.86 L1214.31,1525.22 L1214.48,1525.60 L1214.74,1526.01 L1215.07,1526.45 L1215.45,1526.93 L1215.86,1527.46 L1216.27,1528.02 L1216.67,1528.62 L1217.01,1529.24 L1217.29,1529.87 L1217.48,1530.50 L1217.57,1531.12 L1217.54,1531.70 L1217.40,1532.24 L1217.14,1532.71 L1216.77,1533.11 L1216.29,1533.43 L1215.73,1533.67 L1215.10,1533.81 L1214.42,1533.88 L1213.72,1533.88 L1213.00,1533.82 L1212.31,1533.72 L1211.64,1533.60 L1211.02,1533.48 L1210.45,1533.38 L1209.95,1533.32 L1209.51,1533.31 L1209.13,1533.38 L1208.81,1533.54 L1208.53,1533.79 L1208.29,1534.13 L1208.06,1534.55 L1207.84,1535.06 L1207.62,1535.63 L1207.37,1536.25 L1207.09,1536.89 L1206.77,1537.53 L1206.40,1538.14 L1205.99,1538.69 L1205.54,1539.18 L1205.05,1539.56 L1204.54,1539.83 L1204.00,1539.97 L1203.46,1539.98 L1202.93,1539.86 L1202.41,1539.61 L1201.93,1539.24 L1201.48,1538.77 L1201.08,1538.22 L1200.73,1537.61 L1200.43,1536.96 L1200.16,1536.31 L1199.94,1535.67 L1199.73,1535.07 L1199.54,1534.52 L1199.34,1534.06 L1199.12,1533.67 L1198.87,1533.38 L1198.58,1533.18 L1198.22,1533.06 L1197.81,1533.02 L1197.32,1533.04 L1196.78,1533.11 L1196.17,1533.20 L1195.51,1533.29 L1194.82,1533.37 L1194.10,1533.41 L1193.39,1533.40 L1192.70,1533.32 L1192.06,1533.17 L1191.48,1532.94 L1190.99,1532.63 L1190.60,1532.24 L1190.32,1531.77 L1190.16,1531.25 L1190.12,1530.68 L1190.20,1530.08 L1190.38,1529.46 L1190.66,1528.83 L1191.02,1528.22 L1191.42,1527.64 L1191.86,1527.08 L1192.30,1526.56 L1192.72,1526.09 L1193.09,1525.65 L1193.39,1525.24 L1193.62,1524.86 L1193.74,1524.50 L1193.77,1524.14 L1193.69,1523.78 L1193.52,1523.40 L1193.26,1522.99 L1192.93,1522.55 L1192.55,1522.07 L1192.14,1521.54 L1191.73,1520.98 L1191.33,1520.38 L1190.99,1519.76 L1190.71,1519.13 L1190.52,1518.50 L1190.43,1517.88 L1190.46,1517.30 L1190.60,1516.76 L1190.86,1516.29 L1191.23,1515.89 L1191.71,1515.57 L1192.27,1515.33 L1192.90,1515.19 L1193.58,1515.12 L1194.28,1515.12 L1195.00,1515.18 L1195.69,1515.28 L1196.36,1515.40 L1196.98,1515.52 L1197.55,1515.62 L1198.05,1515.68 L1198.49,1515.69 L1198.87,1515.62 L1199.19,1515.46 L1199.47,1515.21 L1199.71,1514.87 L1199.94,1514.45 L1200.16,1513.94 L1200.38,1513.37 L1200.63,1512.75 L1200.91,1512.11 L1201.23,1511.47 L1201.60,1510.86 L1202.01,1510.31 L1202.46,1509.82 L1202.95,1509.44 L1203.46,1509.17 L1204.00,1509.03 L1204.54,1509.02 L1205.07,1509.14 L1205.59,1509.39 L1206.07,1509.76 L1206.52,1510.23 L1206.92,1510.78 L1207.27,1511.39 L1207.57,1512.04 L1207.84,1512.69 L1208.06,1513.33 L1208.27,1513.93 L1208.46,1514.48 L1208.66,1514.94 L1208.88,1515.33 L1209.13,1515.62 L1209.42,1515.82 L1209.78,1515.94 L1210.19,1515.98 L1210.68,1515.96 L1211.22,1515.89 L1211.83,1515.80 L1212.49,1515.71 L1213.18,1515.63 L1213.90,1515.59 L1214.61,1515.60 L1215.30,1515.68 L1215.94,1515.83 L1216.52,1516.06 L1217.01,1516.37 L1217.40,1516.76 L1217.68,1517.23 L1217.84,1517.75 L1217.88,1518.32 L1217.80,1518.92 L1217.62,1519.54 L1217.34,1520.17 L1216.98,1520.78 L1216.58,1521.36 L1216.14,1521.92 L1215.70,1522.44 L1215.28,1522.91 L1214.91,1523.35 L1214.61,1523.76 L1214.38,1524.14 L1214.26,1524.50 Z" fill="none" stroke="#22508C" stroke-width="1.35" stroke-linejoin="round"/>
<line x1="1214.29" y1="1525.17" x2="1212.29" y2="1525.04" stroke="#6f8fc0" stroke-width="0.5" />
<line x1="1215.30" y1="1526.75" x2="1213.34" y2="1526.36" stroke="#6f8fc0" stroke-width="0.5" />
<line x1="1216.80" y1="1528.85" x2="1214.91" y2="1528.20" stroke="#6f8fc0" stroke-width="0.5" />
<line x1="1217.57" y1="1531.19" x2="1215.78" y2="1530.31" stroke="#6f8fc0" stroke-width="0.5" />
<line x1="1216.82" y1="1533.07" x2="1215.16" y2="1531.95" stroke="#6f8fc0" stroke-width="0.5" />
<line x1="1214.68" y1="1533.87" x2="1213.18" y2="1532.55" stroke="#6f8fc0" stroke-width="0.5" />
<line x1="1212.05" y1="1533.68" x2="1210.73" y2="1532.18" stroke="#6f8fc0" stroke-width="0.5" />
<line x1="1209.89" y1="1533.31" x2="1208.78" y2="1531.65" stroke="#6f8fc0" stroke-width="0.5" />
<line x1="1208.56" y1="1533.75" x2="1207.68" y2="1531.96" stroke="#6f8fc0" stroke-width="0.5" />
<line x1="1207.70" y1="1535.41" x2="1207.06" y2="1533.52" stroke="#6f8fc0" stroke-width="0.5" />
<line x1="1206.64" y1="1537.76" x2="1206.25" y2="1535.80" stroke="#6f8fc0" stroke-width="0.5" />
<line x1="1204.99" y1="1539.60" x2="1204.86" y2="1537.60" stroke="#6f8fc0" stroke-width="0.5" />
<line x1="1202.99" y1="1539.88" x2="1203.12" y2="1537.89" stroke="#6f8fc0" stroke-width="0.5" />
<line x1="1201.23" y1="1538.43" x2="1201.62" y2="1536.47" stroke="#6f8fc0" stroke-width="0.5" />
<line x1="1200.08" y1="1536.06" x2="1200.72" y2="1534.17" stroke="#6f8fc0" stroke-width="0.5" />
<line x1="1199.31" y1="1534.00" x2="1200.20" y2="1532.21" stroke="#6f8fc0" stroke-width="0.5" />
<line x1="1198.27" y1="1533.07" x2="1199.38" y2="1531.41" stroke="#6f8fc0" stroke-width="0.5" />
<line x1="1196.40" y1="1533.16" x2="1197.72" y2="1531.66" stroke="#6f8fc0" stroke-width="0.5" />
<line x1="1193.84" y1="1533.41" x2="1195.34" y2="1532.10" stroke="#6f8fc0" stroke-width="0.5" />
<line x1="1191.42" y1="1532.91" x2="1193.08" y2="1531.80" stroke="#6f8fc0" stroke-width="0.5" />
<line x1="1190.17" y1="1531.32" x2="1191.97" y2="1530.43" stroke="#6f8fc0" stroke-width="0.5" />
<line x1="1190.55" y1="1529.07" x2="1192.44" y2="1528.42" stroke="#6f8fc0" stroke-width="0.5" />
<line x1="1192.02" y1="1526.88" x2="1193.99" y2="1526.49" stroke="#6f8fc0" stroke-width="0.5" />
<line x1="1193.43" y1="1525.19" x2="1195.42" y2="1525.06" stroke="#6f8fc0" stroke-width="0.5" />
<line x1="1193.71" y1="1523.83" x2="1195.71" y2="1523.96" stroke="#6f8fc0" stroke-width="0.5" />
<line x1="1192.70" y1="1522.25" x2="1194.66" y2="1522.64" stroke="#6f8fc0" stroke-width="0.5" />
<line x1="1191.20" y1="1520.15" x2="1193.09" y2="1520.80" stroke="#6f8fc0" stroke-width="0.5" />
<line x1="1190.43" y1="1517.81" x2="1192.22" y2="1518.69" stroke="#6f8fc0" stroke-width="0.5" />
<line x1="1191.18" y1="1515.93" x2="1192.84" y2="1517.05" stroke="#6f8fc0" stroke-width="0.5" />
<line x1="1193.32" y1="1515.13" x2="1194.82" y2="1516.45" stroke="#6f8fc0" stroke-width="0.5" />
<line x1="1195.95" y1="1515.32" x2="1197.27" y2="1516.82" stroke="#6f8fc0" stroke-width="0.5" />
<line x1="1198.11" y1="1515.69" x2="1199.22" y2="1517.35" stroke="#6f8fc0" stroke-width="0.5" />
<line x1="1199.44" y1="1515.25" x2="1200.32" y2="1517.04" stroke="#6f8fc0" stroke-width="0.5" />
<line x1="1200.30" y1="1513.59" x2="1200.94" y2="1515.48" stroke="#6f8fc0" stroke-width="0.5" />
<line x1="1201.36" y1="1511.24" x2="1201.75" y2="1513.20" stroke="#6f8fc0" stroke-width="0.5" />
<line x1="1203.01" y1="1509.40" x2="1203.14" y2="1511.40" stroke="#6f8fc0" stroke-width="0.5" />
<line x1="1205.01" y1="1509.12" x2="1204.88" y2="1511.11" stroke="#6f8fc0" stroke-width="0.5" />
<line x1="1206.77" y1="1510.57" x2="1206.38" y2="1512.53" stroke="#6f8fc0" stroke-width="0.5" />
<line x1="1207.92" y1="1512.94" x2="1207.28" y2="1514.83" stroke="#6f8fc0" stroke-width="0.5" />
<line x1="1208.69" y1="1515.00" x2="1207.80" y2="1516.79" stroke="#6f8fc0" stroke-width="0.5" />
<line x1="1209.73" y1="1515.93" x2="1208.62" y2="1517.59" stroke="#6f8fc0" stroke-width="0.5" />
<line x1="1211.60" y1="1515.84" x2="1210.28" y2="1517.34" stroke="#6f8fc0" stroke-width="0.5" />
<line x1="1214.16" y1="1515.59" x2="1212.66" y2="1516.90" stroke="#6f8fc0" stroke-width="0.5" />
<line x1="1216.58" y1="1516.09" x2="1214.92" y2="1517.20" stroke="#6f8fc0" stroke-width="0.5" />
<line x1="1217.83" y1="1517.68" x2="1216.03" y2="1518.57" stroke="#6f8fc0" stroke-width="0.5" />
<line x1="1217.45" y1="1519.93" x2="1215.56" y2="1520.58" stroke="#6f8fc0" stroke-width="0.5" />
<line x1="1215.98" y1="1522.12" x2="1214.01" y2="1522.51" stroke="#6f8fc0" stroke-width="0.5" />
<line x1="1214.57" y1="1523.81" x2="1212.58" y2="1523.94" stroke="#6f8fc0" stroke-width="0.5" />
<path d="M1145.5,1528.5 L1145.7,1527.0 L1147.5,1512.6 L1147.9,1510.8 L1148.5,1509.0 L1149.3,1507.3 L1150.4,1505.7 L1151.6,1504.3 L1153.1,1503.1 L1154.6,1502.1 L1156.3,1501.2 L1158.1,1500.6 L1160.0,1500.3 L1161.9,1500.1 L1163.8,1500.3 L1165.6,1500.6 L1167.4,1501.2 L1169.1,1502.1 L1170.7,1503.1 L1172.1,1504.3 L1173.4,1505.7 L1174.4,1507.3 L1175.3,1509.0 L1175.9,1510.8 L1176.3,1512.6 L1176.4,1514.5 L1176.3,1516.3 L1175.9,1518.2 L1175.3,1520.0 L1174.4,1521.6 L1167.2,1534.3 L1166.3,1535.5 L1165.3,1536.6 L1164.2,1537.6 L1162.9,1538.5 L1161.6,1539.1 L1160.2,1539.6 L1158.7,1539.9 L1157.2,1540.0 L1155.6,1539.9 L1154.2,1539.6 L1152.7,1539.1 L1151.3,1538.5 L1150.1,1537.6 L1149.0,1536.6 L1148.0,1535.5 L1147.1,1534.3 L1146.4,1532.9 L1146.0,1531.5 L1145.7,1530.0 Z M1125.5,1537.4 L1125.7,1535.4 L1126.0,1533.5 L1126.7,1531.6 L1127.6,1529.8 L1128.7,1528.2 L1130.0,1526.7 L1131.5,1525.4 L1133.2,1524.3 L1135.0,1523.4 L1136.8,1522.8 L1138.8,1522.4 L1140.8,1522.3 L1142.8,1522.4 L1144.8,1522.8 L1161.5,1527.4 L1163.0,1527.9 L1164.5,1528.7 L1165.9,1529.5 L1167.1,1530.6 L1168.2,1531.9 L1169.2,1533.2 L1169.9,1534.7 L1170.4,1536.2 L1170.7,1537.8 L1170.8,1539.5 L1170.7,1541.1 L1170.4,1542.7 L1169.9,1544.3 L1169.2,1545.7 L1168.2,1547.1 L1167.1,1548.3 L1165.9,1549.4 L1164.5,1550.3 L1163.0,1551.0 L1161.5,1551.5 L1159.8,1551.9 L1158.2,1552.0 L1140.8,1552.5 L1138.8,1552.4 L1136.8,1552.0 L1135.0,1551.3 L1133.2,1550.5 L1131.5,1549.4 L1130.0,1548.1 L1128.7,1546.6 L1127.6,1545.0 L1126.7,1543.2 L1126.0,1541.3 L1125.7,1539.4 Z M1145.5,1528.5 L1145.7,1527.0 L1146.0,1525.6 L1146.4,1524.2 L1147.1,1522.8 L1148.0,1521.6 L1149.0,1520.4 L1150.1,1519.4 L1151.3,1518.6 L1152.7,1517.9 L1154.2,1517.5 L1155.6,1517.2 L1157.2,1517.1 L1158.7,1517.2 L1160.2,1517.5 L1161.6,1517.9 L1162.9,1518.6 L1164.2,1519.4 L1165.3,1520.4 L1166.3,1521.6 L1167.2,1522.8 L1167.9,1524.2 L1168.3,1525.6 L1168.6,1527.0 L1170.7,1537.8 L1170.8,1539.5 L1170.7,1541.1 L1170.4,1542.7 L1169.9,1544.3 L1169.2,1545.7 L1168.2,1547.1 L1167.1,1548.3 L1165.9,1549.4 L1164.5,1550.3 L1163.0,1551.0 L1161.5,1551.5 L1159.8,1551.9 L1158.2,1552.0 L1156.5,1551.9 L1154.9,1551.5 L1153.4,1551.0 L1151.9,1550.3 L1150.5,1549.4 L1149.3,1548.3 L1148.2,1547.1 L1147.2,1545.7 L1146.5,1544.3 L1146.0,1542.7 L1145.7,1541.1 L1145.5,1539.5 Z" fill="#7CB8A8" stroke="none" stroke-width="1" />
<path d="M1145.0,1526.5 L1145.1,1525.1 L1147.2,1510.6 L1147.5,1508.9 L1148.1,1507.3 L1148.9,1505.7 L1149.9,1504.3 L1151.0,1503.0 L1152.4,1501.8 L1153.8,1500.8 L1155.4,1500.1 L1157.1,1499.5 L1158.8,1499.2 L1160.6,1499.1 L1162.3,1499.2 L1164.1,1499.5 L1165.7,1500.1 L1167.3,1500.8 L1168.8,1501.8 L1170.1,1503.0 L1171.3,1504.3 L1172.2,1505.7 L1173.0,1507.3 L1173.6,1508.9 L1173.9,1510.6 L1174.0,1512.4 L1173.9,1514.1 L1173.6,1515.8 L1173.0,1517.5 L1172.2,1519.0 L1165.2,1531.8 L1164.4,1532.9 L1163.5,1534.0 L1162.4,1534.9 L1161.2,1535.7 L1160.0,1536.3 L1158.6,1536.8 L1157.2,1537.0 L1155.8,1537.1 L1154.4,1537.0 L1153.0,1536.8 L1151.7,1536.3 L1150.4,1535.7 L1149.3,1534.9 L1148.2,1534.0 L1147.3,1532.9 L1146.5,1531.8 L1145.9,1530.5 L1145.4,1529.2 L1145.1,1527.8 Z M1125.3,1535.3 L1125.4,1533.5 L1125.8,1531.7 L1126.4,1529.9 L1127.2,1528.3 L1128.2,1526.8 L1129.4,1525.4 L1130.8,1524.2 L1132.4,1523.1 L1134.0,1522.3 L1135.8,1521.7 L1137.6,1521.4 L1139.5,1521.3 L1141.3,1521.4 L1143.2,1521.7 L1159.9,1526.2 L1161.4,1526.7 L1162.8,1527.3 L1164.0,1528.2 L1165.2,1529.2 L1166.2,1530.3 L1167.1,1531.6 L1167.8,1532.9 L1168.2,1534.4 L1168.5,1535.9 L1168.7,1537.4 L1168.5,1538.9 L1168.2,1540.4 L1167.8,1541.8 L1167.1,1543.2 L1166.2,1544.5 L1165.2,1545.6 L1164.0,1546.6 L1162.8,1547.5 L1161.4,1548.1 L1159.9,1548.6 L1158.4,1548.9 L1156.9,1549.0 L1139.5,1549.4 L1137.6,1549.2 L1135.8,1548.9 L1134.0,1548.3 L1132.4,1547.5 L1130.8,1546.5 L1129.4,1545.2 L1128.2,1543.9 L1127.2,1542.3 L1126.4,1540.7 L1125.8,1538.9 L1125.4,1537.1 Z M1145.0,1526.5 L1145.1,1525.1 L1145.4,1523.7 L1145.9,1522.4 L1146.5,1521.1 L1147.3,1520.0 L1148.2,1518.9 L1149.3,1518.0 L1150.4,1517.2 L1151.7,1516.6 L1153.0,1516.2 L1154.4,1515.9 L1155.8,1515.8 L1157.2,1515.9 L1158.6,1516.2 L1160.0,1516.6 L1161.2,1517.2 L1162.4,1518.0 L1163.5,1518.9 L1164.4,1520.0 L1165.2,1521.1 L1165.8,1522.4 L1166.2,1523.7 L1166.5,1525.1 L1168.5,1535.9 L1168.7,1537.4 L1168.5,1538.9 L1168.2,1540.4 L1167.8,1541.8 L1167.1,1543.2 L1166.2,1544.5 L1165.2,1545.6 L1164.0,1546.6 L1162.8,1547.5 L1161.4,1548.1 L1159.9,1548.6 L1158.4,1548.9 L1156.9,1549.0 L1155.3,1548.9 L1153.8,1548.6 L1152.4,1548.1 L1151.0,1547.5 L1149.7,1546.6 L1148.6,1545.6 L1147.5,1544.5 L1146.7,1543.2 L1146.0,1541.8 L1145.5,1540.4 L1145.2,1538.9 L1145.1,1537.4 Z" fill="#97C9BC" stroke="none" stroke-width="1" />
<text x="1132.6" y="1535.6" font-size="15.60" fill="#111111" font-family="'Liberation Sans', Arial, sans-serif">Cas9</text>
<line x1="1120.00" y1="1607.01" x2="1120.00" y2="1630.59" stroke="#DCCBA4" stroke-width="2.0" />
<line x1="1126.80" y1="1611.57" x2="1126.80" y2="1626.03" stroke="#DCCBA4" stroke-width="2.0" />
<line x1="1133.60" y1="1617.56" x2="1133.60" y2="1620.04" stroke="#DCCBA4" stroke-width="2.0" />
<line x1="1140.40" y1="1617.56" x2="1140.40" y2="1620.04" stroke="#DCCBA4" stroke-width="2.0" />
<line x1="1147.20" y1="1611.57" x2="1147.20" y2="1626.03" stroke="#DCCBA4" stroke-width="2.0" />
<line x1="1154.00" y1="1607.01" x2="1154.00" y2="1630.59" stroke="#DCCBA4" stroke-width="2.0" />
<line x1="1160.80" y1="1604.59" x2="1160.80" y2="1633.01" stroke="#DCCBA4" stroke-width="2.0" />
<line x1="1167.60" y1="1604.66" x2="1167.60" y2="1632.94" stroke="#DCCBA4" stroke-width="2.0" />
<line x1="1174.40" y1="1607.23" x2="1174.40" y2="1630.37" stroke="#DCCBA4" stroke-width="2.0" />
<line x1="1181.20" y1="1611.89" x2="1181.20" y2="1625.71" stroke="#DCCBA4" stroke-width="2.0" />
<line x1="1194.80" y1="1616.90" x2="1194.80" y2="1620.70" stroke="#DCCBA4" stroke-width="2.0" />
<line x1="1201.60" y1="1610.61" x2="1201.60" y2="1626.99" stroke="#DCCBA4" stroke-width="2.0" />
<line x1="1208.40" y1="1606.15" x2="1208.40" y2="1631.45" stroke="#DCCBA4" stroke-width="2.0" />
<line x1="1215.20" y1="1604.32" x2="1215.20" y2="1633.28" stroke="#DCCBA4" stroke-width="2.0" />
<line x1="1222.00" y1="1605.46" x2="1222.00" y2="1632.14" stroke="#DCCBA4" stroke-width="2.0" />
<line x1="1228.80" y1="1609.35" x2="1228.80" y2="1628.25" stroke="#DCCBA4" stroke-width="2.0" />
<line x1="1235.60" y1="1615.31" x2="1235.60" y2="1622.29" stroke="#DCCBA4" stroke-width="2.0" />
<line x1="1249.20" y1="1609.19" x2="1249.20" y2="1628.41" stroke="#DCCBA4" stroke-width="2.0" />
<line x1="1256.00" y1="1604.47" x2="1256.00" y2="1633.13" stroke="#DCCBA4" stroke-width="2.0" />
<line x1="1262.80" y1="1606.36" x2="1262.80" y2="1631.24" stroke="#DCCBA4" stroke-width="2.0" />
<line x1="1269.60" y1="1614.09" x2="1269.60" y2="1623.51" stroke="#DCCBA4" stroke-width="2.0" />
<line x1="1276.40" y1="1617.06" x2="1276.40" y2="1620.54" stroke="#DCCBA4" stroke-width="2.0" />
<line x1="1283.20" y1="1608.13" x2="1283.20" y2="1629.47" stroke="#DCCBA4" stroke-width="2.0" />
<line x1="1290.00" y1="1604.32" x2="1290.00" y2="1633.28" stroke="#DCCBA4" stroke-width="2.0" />
<polyline points="1117.50,1633.75 1118.49,1633.33 1119.47,1632.86 1120.46,1632.34 1121.44,1631.78 1122.43,1631.17 1123.42,1630.52 1124.40,1629.84 1125.39,1629.12 1126.38,1628.36 1127.36,1627.58 1128.35,1626.76 1129.33,1625.92 1130.32,1625.05 1131.31,1624.17 1132.29,1623.26 1133.28,1622.35 1134.26,1621.42 1135.25,1620.48 1136.24,1619.53 1137.22,1618.59 1138.21,1617.64 1139.19,1616.70 1140.18,1615.76 1141.17,1614.84 1142.15,1613.93 1143.14,1613.03 1144.12,1612.15 1145.11,1611.30 1146.10,1610.47 1147.08,1609.67 1148.07,1608.89 1149.06,1608.15 1150.04,1607.45 1151.03,1606.78 1152.01,1606.15 1153.00,1605.56 1153.99,1605.02 1154.97,1604.52 1155.96,1604.07 1156.94,1603.67 1157.93,1603.32 1158.92,1603.02 1159.90,1602.77 1160.89,1602.57 1161.88,1602.43 1162.86,1602.34 1163.85,1602.30 1164.83,1602.32 1165.82,1602.39 1166.81,1602.52 1167.79,1602.70 1168.78,1602.93 1169.76,1603.22 1170.75,1603.56 1171.74,1603.94 1172.72,1604.38 1173.71,1604.86 1174.69,1605.39 1175.68,1605.97 1176.67,1606.58 1177.65,1607.24 1178.64,1607.93 1179.62,1608.66 1180.61,1609.42 1181.60,1610.22 1182.58,1611.04 1183.57,1611.89 1184.56,1612.76 1185.54,1613.65 1186.53,1614.56 1187.51,1615.48 1188.50,1616.41 1189.49,1617.35 1190.47,1618.29 1191.46,1619.28 1192.44,1620.30 1193.43,1621.31 1194.42,1622.32 1195.40,1623.31 1196.39,1624.28 1197.38,1625.23 1198.36,1626.16 1199.35,1627.06 1200.33,1627.93 1201.32,1628.76 1202.31,1629.56 1203.29,1630.31 1204.28,1631.02 1205.26,1631.69 1206.25,1632.30 1207.24,1632.86 1208.22,1633.37 1209.21,1633.82 1210.19,1634.21 1211.18,1634.55 1212.17,1634.82 1213.15,1635.04 1214.14,1635.19 1215.12,1635.28 1216.11,1635.30 1217.10,1635.26 1218.08,1635.16 1219.07,1634.99 1220.06,1634.77 1221.04,1634.48 1222.03,1634.13 1223.01,1633.72 1224.00,1633.26 1224.99,1632.74 1225.97,1632.17 1226.96,1631.54 1227.94,1630.87 1228.93,1630.15 1229.92,1629.38 1230.90,1628.58 1231.89,1627.74 1232.88,1626.86 1233.86,1625.96 1234.85,1625.02 1235.83,1624.06 1236.82,1623.08 1237.81,1622.09 1238.79,1621.08 1239.78,1620.07 1240.76,1619.04 1241.75,1617.62 1242.74,1616.09 1243.72,1614.57 1244.71,1613.10 1245.69,1611.67 1246.68,1610.31 1247.67,1609.02 1248.65,1607.81 1249.64,1606.71 1250.62,1605.71 1251.61,1604.83 1252.60,1604.06 1253.58,1603.43 1254.57,1602.94 1255.56,1602.58 1256.54,1602.37 1257.53,1602.30 1258.51,1602.38 1259.50,1602.60 1260.49,1602.96 1261.47,1603.47 1262.46,1604.10 1263.44,1604.87 1264.43,1605.76 1265.42,1606.77 1266.40,1607.88 1267.39,1609.09 1268.38,1610.38 1269.36,1611.75 1270.35,1613.18 1271.33,1614.66 1272.32,1616.17 1273.31,1617.71 1274.29,1619.26 1275.28,1620.80 1276.26,1622.33 1277.25,1623.82 1278.24,1625.28 1279.22,1626.67 1280.21,1627.99 1281.19,1629.24 1282.18,1630.39 1283.17,1631.44 1284.15,1632.38 1285.14,1633.20 1286.12,1633.89 1287.11,1634.45 1288.10,1634.87 1289.08,1635.15 1290.07,1635.29 1291.06,1635.28 1292.04,1635.12 1293.03,1634.82 1294.01,1634.39 1295.00,1633.81" fill="none" stroke="#B7A484" stroke-width="4.6" stroke-linejoin="round" stroke-linecap="butt"/>
<polyline points="1117.50,1603.85 1118.49,1604.27 1119.47,1604.74 1120.46,1605.26 1121.44,1605.82 1122.43,1606.43 1123.42,1607.08 1124.40,1607.76 1125.39,1608.48 1126.38,1609.24 1127.36,1610.02 1128.35,1610.84 1129.33,1611.68 1130.32,1612.55 1131.31,1613.43 1132.29,1614.34 1133.28,1615.25 1134.26,1616.18 1135.25,1617.12 1136.24,1618.07 1137.22,1619.01 1138.21,1619.96 1139.19,1620.90 1140.18,1621.84 1141.17,1622.76 1142.15,1623.67 1143.14,1624.57 1144.12,1625.45 1145.11,1626.30 1146.10,1627.13 1147.08,1627.93 1148.07,1628.71 1149.06,1629.45 1150.04,1630.15 1151.03,1630.82 1152.01,1631.45 1153.00,1632.04 1153.99,1632.58 1154.97,1633.08 1155.96,1633.53 1156.94,1633.93 1157.93,1634.28 1158.92,1634.58 1159.90,1634.83 1160.89,1635.03 1161.88,1635.17 1162.86,1635.26 1163.85,1635.30 1164.83,1635.28 1165.82,1635.21 1166.81,1635.08 1167.79,1634.90 1168.78,1634.67 1169.76,1634.38 1170.75,1634.04 1171.74,1633.66 1172.72,1633.22 1173.71,1632.74 1174.69,1632.21 1175.68,1631.63 1176.67,1631.02 1177.65,1630.36 1178.64,1629.67 1179.62,1628.94 1180.61,1628.18 1181.60,1627.38 1182.58,1626.56 1183.57,1625.71 1184.56,1624.84 1185.54,1623.95 1186.53,1623.04 1187.51,1622.12 1188.50,1621.19 1189.49,1620.25 1190.47,1619.31 1191.46,1618.32 1192.44,1617.30 1193.43,1616.29 1194.42,1615.28 1195.40,1614.29 1196.39,1613.32 1197.38,1612.37 1198.36,1611.44 1199.35,1610.54 1200.33,1609.67 1201.32,1608.84 1202.31,1608.04 1203.29,1607.29 1204.28,1606.58 1205.26,1605.91 1206.25,1605.30 1207.24,1604.74 1208.22,1604.23 1209.21,1603.78 1210.19,1603.39 1211.18,1603.05 1212.17,1602.78 1213.15,1602.56 1214.14,1602.41 1215.12,1602.32 1216.11,1602.30 1217.10,1602.34 1218.08,1602.44 1219.07,1602.61 1220.06,1602.83 1221.04,1603.12 1222.03,1603.47 1223.01,1603.88 1224.00,1604.34 1224.99,1604.86 1225.97,1605.43 1226.96,1606.06 1227.94,1606.73 1228.93,1607.45 1229.92,1608.22 1230.90,1609.02 1231.89,1609.86 1232.88,1610.74 1233.86,1611.64 1234.85,1612.58 1235.83,1613.54 1236.82,1614.52 1237.81,1615.51 1238.79,1616.52 1239.78,1617.53 1240.76,1618.56 1241.75,1619.98 1242.74,1621.51 1243.72,1623.03 1244.71,1624.50 1245.69,1625.93 1246.68,1627.29 1247.67,1628.58 1248.65,1629.79 1249.64,1630.89 1250.62,1631.89 1251.61,1632.77 1252.60,1633.54 1253.58,1634.17 1254.57,1634.66 1255.56,1635.02 1256.54,1635.23 1257.53,1635.30 1258.51,1635.22 1259.50,1635.00 1260.49,1634.64 1261.47,1634.13 1262.46,1633.50 1263.44,1632.73 1264.43,1631.84 1265.42,1630.83 1266.40,1629.72 1267.39,1628.51 1268.38,1627.22 1269.36,1625.85 1270.35,1624.42 1271.33,1622.94 1272.32,1621.43 1273.31,1619.89 1274.29,1618.34 1275.28,1616.80 1276.26,1615.27 1277.25,1613.78 1278.24,1612.32 1279.22,1610.93 1280.21,1609.61 1281.19,1608.36 1282.18,1607.21 1283.17,1606.16 1284.15,1605.22 1285.14,1604.40 1286.12,1603.71 1287.11,1603.15 1288.10,1602.73 1289.08,1602.45 1290.07,1602.31 1291.06,1602.32 1292.04,1602.48 1293.03,1602.78 1294.01,1603.21 1295.00,1603.79" fill="none" stroke="#CDB98F" stroke-width="4.6" stroke-linejoin="round" stroke-linecap="butt"/>
<line x1="1130.30" y1="1581.20" x2="1142.10" y2="1601.50" stroke="#474747" stroke-width="1.9" stroke-linecap="round"/>
<line x1="1142.10" y1="1601.50" x2="1151.70" y2="1623.00" stroke="#8d8d8d" stroke-width="3.0" stroke-linecap="round"/>
<line x1="1142.10" y1="1601.50" x2="1151.70" y2="1623.00" stroke="#e2e2e2" stroke-width="1.8" stroke-linecap="round"/>
<line x1="1153.00" y1="1581.20" x2="1142.10" y2="1601.50" stroke="#474747" stroke-width="1.9" stroke-linecap="round"/>
<line x1="1142.10" y1="1601.50" x2="1133.40" y2="1623.00" stroke="#8d8d8d" stroke-width="3.0" stroke-linecap="round"/>
<line x1="1142.10" y1="1601.50" x2="1133.40" y2="1623.00" stroke="#e2e2e2" stroke-width="1.8" stroke-linecap="round"/>
<ellipse cx="1127.3" cy="1577.7" rx="4.4" ry="6.2" fill="none" stroke="#474747" stroke-width="1.8"/>
<ellipse cx="1156.0" cy="1577.7" rx="4.4" ry="6.2" fill="none" stroke="#474747" stroke-width="1.8"/>
<g fill="#6F83CA">
<ellipse cx="1201.3" cy="1604.3" rx="3.8" ry="3.5"/>
<ellipse cx="1204.4" cy="1601.6" rx="3.8" ry="3.5"/>
<ellipse cx="1208.3" cy="1602.7" rx="4.2" ry="3.8"/>
<ellipse cx="1211.7" cy="1604.9" rx="4.6" ry="4.2"/>
<ellipse cx="1202.9" cy="1609.1" rx="4.9" ry="4.5"/>
<ellipse cx="1207.4" cy="1608.5" rx="5.7" ry="5.2"/>
<ellipse cx="1212.3" cy="1609.9" rx="5.7" ry="5.2"/>
<ellipse cx="1206.5" cy="1613.5" rx="4.9" ry="4.5"/>
<ellipse cx="1211.1" cy="1614.9" rx="5.7" ry="5.2"/>
<ellipse cx="1215.9" cy="1613.8" rx="5.3" ry="4.9"/>
<ellipse cx="1214.4" cy="1618.8" rx="4.9" ry="4.5"/>
<ellipse cx="1218.7" cy="1619.9" rx="4.2" ry="3.8"/>
<ellipse cx="1219.9" cy="1611.6" rx="4.6" ry="4.2"/>
<ellipse cx="1216.9" cy="1607.7" rx="3.8" ry="3.5"/>
<ellipse cx="1209.9" cy="1618.8" rx="3.8" ry="3.5"/>
</g>
<ellipse cx="1206.8" cy="1607.1" rx="2.4" ry="2.2" fill="#7C8FD0" opacity="0.7"/>
<ellipse cx="1211.4" cy="1612.7" rx="2.1" ry="1.9" fill="#7C8FD0" opacity="0.7"/>
<ellipse cx="1215.9" cy="1617.7" rx="1.8" ry="1.7" fill="#7C8FD0" opacity="0.7"/>
<ellipse cx="1203.8" cy="1604.3" rx="1.5" ry="1.4" fill="#7C8FD0" opacity="0.7"/>
<path d="M1238.16,1594.00 L1238.13,1594.47 L1238.23,1594.95 L1238.46,1595.46 L1238.80,1596.00 L1239.24,1596.58 L1239.74,1597.22 L1240.29,1597.91 L1240.83,1598.65 L1241.35,1599.44 L1241.81,1600.26 L1242.18,1601.10 L1242.43,1601.94 L1242.55,1602.75 L1242.51,1603.52 L1242.32,1604.23 L1241.98,1604.86 L1241.48,1605.39 L1240.86,1605.81 L1240.12,1606.12 L1239.28,1606.32 L1238.38,1606.41 L1237.45,1606.41 L1236.51,1606.33 L1235.58,1606.20 L1234.70,1606.04 L1233.88,1605.88 L1233.13,1605.74 L1232.46,1605.66 L1231.88,1605.65 L1231.38,1605.75 L1230.96,1605.95 L1230.59,1606.28 L1230.27,1606.73 L1229.97,1607.30 L1229.68,1607.97 L1229.38,1608.72 L1229.06,1609.54 L1228.69,1610.38 L1228.26,1611.23 L1227.78,1612.04 L1227.24,1612.77 L1226.64,1613.41 L1225.99,1613.92 L1225.31,1614.28 L1224.60,1614.47 L1223.88,1614.48 L1223.18,1614.32 L1222.50,1613.99 L1221.86,1613.50 L1221.27,1612.87 L1220.74,1612.14 L1220.28,1611.33 L1219.87,1610.48 L1219.53,1609.61 L1219.22,1608.77 L1218.95,1607.97 L1218.70,1607.26 L1218.44,1606.64 L1218.15,1606.13 L1217.82,1605.75 L1217.43,1605.48 L1216.96,1605.33 L1216.41,1605.27 L1215.77,1605.30 L1215.05,1605.39 L1214.24,1605.50 L1213.37,1605.63 L1212.45,1605.73 L1211.51,1605.79 L1210.57,1605.77 L1209.66,1605.67 L1208.81,1605.47 L1208.05,1605.17 L1207.40,1604.75 L1206.88,1604.23 L1206.51,1603.62 L1206.29,1602.93 L1206.24,1602.17 L1206.34,1601.38 L1206.59,1600.56 L1206.96,1599.73 L1207.43,1598.92 L1207.97,1598.15 L1208.54,1597.41 L1209.12,1596.73 L1209.67,1596.10 L1210.17,1595.52 L1210.57,1594.98 L1210.87,1594.48 L1211.04,1594.00 L1211.07,1593.53 L1210.97,1593.05 L1210.74,1592.54 L1210.40,1592.00 L1209.96,1591.42 L1209.46,1590.78 L1208.91,1590.09 L1208.37,1589.35 L1207.85,1588.56 L1207.39,1587.74 L1207.02,1586.90 L1206.77,1586.06 L1206.65,1585.25 L1206.69,1584.48 L1206.88,1583.77 L1207.22,1583.14 L1207.72,1582.61 L1208.34,1582.19 L1209.08,1581.88 L1209.92,1581.68 L1210.82,1581.59 L1211.75,1581.59 L1212.69,1581.67 L1213.62,1581.80 L1214.50,1581.96 L1215.32,1582.12 L1216.07,1582.26 L1216.74,1582.34 L1217.32,1582.35 L1217.82,1582.25 L1218.24,1582.05 L1218.61,1581.72 L1218.93,1581.27 L1219.23,1580.70 L1219.52,1580.03 L1219.82,1579.28 L1220.14,1578.46 L1220.51,1577.62 L1220.94,1576.77 L1221.42,1575.96 L1221.96,1575.23 L1222.56,1574.59 L1223.21,1574.08 L1223.89,1573.72 L1224.60,1573.53 L1225.32,1573.52 L1226.02,1573.68 L1226.70,1574.01 L1227.34,1574.50 L1227.93,1575.13 L1228.46,1575.86 L1228.92,1576.67 L1229.33,1577.52 L1229.67,1578.39 L1229.98,1579.23 L1230.25,1580.03 L1230.50,1580.74 L1230.76,1581.36 L1231.05,1581.87 L1231.38,1582.25 L1231.77,1582.52 L1232.24,1582.67 L1232.79,1582.73 L1233.43,1582.70 L1234.15,1582.61 L1234.96,1582.50 L1235.83,1582.37 L1236.75,1582.27 L1237.69,1582.21 L1238.63,1582.23 L1239.54,1582.33 L1240.39,1582.53 L1241.15,1582.83 L1241.80,1583.25 L1242.32,1583.77 L1242.69,1584.38 L1242.91,1585.07 L1242.96,1585.83 L1242.86,1586.62 L1242.61,1587.44 L1242.24,1588.27 L1241.77,1589.08 L1241.23,1589.85 L1240.66,1590.59 L1240.08,1591.27 L1239.53,1591.90 L1239.03,1592.48 L1238.63,1593.02 L1238.33,1593.52 L1238.16,1594.00 Z" fill="none" stroke="#22508C" stroke-width="1.35" stroke-linejoin="round"/>
<line x1="1238.21" y1="1594.89" x2="1236.21" y2="1594.76" stroke="#6f8fc0" stroke-width="0.5" />
<line x1="1239.55" y1="1596.97" x2="1237.59" y2="1596.58" stroke="#6f8fc0" stroke-width="0.5" />
<line x1="1241.53" y1="1599.75" x2="1239.64" y2="1599.10" stroke="#6f8fc0" stroke-width="0.5" />
<line x1="1242.55" y1="1602.85" x2="1240.76" y2="1601.97" stroke="#6f8fc0" stroke-width="0.5" />
<line x1="1241.55" y1="1605.33" x2="1239.89" y2="1604.22" stroke="#6f8fc0" stroke-width="0.5" />
<line x1="1238.73" y1="1606.39" x2="1237.22" y2="1605.07" stroke="#6f8fc0" stroke-width="0.5" />
<line x1="1235.25" y1="1606.14" x2="1233.93" y2="1604.64" stroke="#6f8fc0" stroke-width="0.5" />
<line x1="1232.39" y1="1605.65" x2="1231.28" y2="1603.99" stroke="#6f8fc0" stroke-width="0.5" />
<line x1="1230.63" y1="1606.23" x2="1229.75" y2="1604.44" stroke="#6f8fc0" stroke-width="0.5" />
<line x1="1229.50" y1="1608.43" x2="1228.86" y2="1606.54" stroke="#6f8fc0" stroke-width="0.5" />
<line x1="1228.09" y1="1611.54" x2="1227.70" y2="1609.58" stroke="#6f8fc0" stroke-width="0.5" />
<line x1="1225.91" y1="1613.97" x2="1225.78" y2="1611.98" stroke="#6f8fc0" stroke-width="0.5" />
<line x1="1223.27" y1="1614.35" x2="1223.40" y2="1612.35" stroke="#6f8fc0" stroke-width="0.5" />
<line x1="1220.93" y1="1612.43" x2="1221.32" y2="1610.47" stroke="#6f8fc0" stroke-width="0.5" />
<line x1="1219.41" y1="1609.29" x2="1220.05" y2="1607.40" stroke="#6f8fc0" stroke-width="0.5" />
<line x1="1218.40" y1="1606.57" x2="1219.29" y2="1604.78" stroke="#6f8fc0" stroke-width="0.5" />
<line x1="1217.02" y1="1605.34" x2="1218.13" y2="1603.68" stroke="#6f8fc0" stroke-width="0.5" />
<line x1="1214.55" y1="1605.46" x2="1215.87" y2="1603.95" stroke="#6f8fc0" stroke-width="0.5" />
<line x1="1211.16" y1="1605.79" x2="1212.66" y2="1604.47" stroke="#6f8fc0" stroke-width="0.5" />
<line x1="1207.96" y1="1605.12" x2="1209.62" y2="1604.01" stroke="#6f8fc0" stroke-width="0.5" />
<line x1="1206.31" y1="1603.02" x2="1208.11" y2="1602.13" stroke="#6f8fc0" stroke-width="0.5" />
<line x1="1206.81" y1="1600.04" x2="1208.70" y2="1599.40" stroke="#6f8fc0" stroke-width="0.5" />
<line x1="1208.76" y1="1597.15" x2="1210.72" y2="1596.76" stroke="#6f8fc0" stroke-width="0.5" />
<line x1="1210.61" y1="1594.92" x2="1212.61" y2="1594.79" stroke="#6f8fc0" stroke-width="0.5" />
<line x1="1210.99" y1="1593.11" x2="1212.99" y2="1593.24" stroke="#6f8fc0" stroke-width="0.5" />
<line x1="1209.65" y1="1591.03" x2="1211.61" y2="1591.42" stroke="#6f8fc0" stroke-width="0.5" />
<line x1="1207.67" y1="1588.25" x2="1209.56" y2="1588.90" stroke="#6f8fc0" stroke-width="0.5" />
<line x1="1206.65" y1="1585.15" x2="1208.44" y2="1586.03" stroke="#6f8fc0" stroke-width="0.5" />
<line x1="1207.65" y1="1582.67" x2="1209.31" y2="1583.78" stroke="#6f8fc0" stroke-width="0.5" />
<line x1="1210.47" y1="1581.61" x2="1211.98" y2="1582.93" stroke="#6f8fc0" stroke-width="0.5" />
<line x1="1213.95" y1="1581.86" x2="1215.27" y2="1583.36" stroke="#6f8fc0" stroke-width="0.5" />
<line x1="1216.81" y1="1582.35" x2="1217.92" y2="1584.01" stroke="#6f8fc0" stroke-width="0.5" />
<line x1="1218.57" y1="1581.77" x2="1219.45" y2="1583.56" stroke="#6f8fc0" stroke-width="0.5" />
<line x1="1219.70" y1="1579.57" x2="1220.34" y2="1581.46" stroke="#6f8fc0" stroke-width="0.5" />
<line x1="1221.11" y1="1576.46" x2="1221.50" y2="1578.42" stroke="#6f8fc0" stroke-width="0.5" />
<line x1="1223.29" y1="1574.03" x2="1223.42" y2="1576.02" stroke="#6f8fc0" stroke-width="0.5" />
<line x1="1225.93" y1="1573.65" x2="1225.80" y2="1575.65" stroke="#6f8fc0" stroke-width="0.5" />
<line x1="1228.27" y1="1575.57" x2="1227.88" y2="1577.53" stroke="#6f8fc0" stroke-width="0.5" />
<line x1="1229.79" y1="1578.71" x2="1229.15" y2="1580.60" stroke="#6f8fc0" stroke-width="0.5" />
<line x1="1230.80" y1="1581.43" x2="1229.91" y2="1583.22" stroke="#6f8fc0" stroke-width="0.5" />
<line x1="1232.18" y1="1582.66" x2="1231.07" y2="1584.32" stroke="#6f8fc0" stroke-width="0.5" />
<line x1="1234.65" y1="1582.54" x2="1233.33" y2="1584.05" stroke="#6f8fc0" stroke-width="0.5" />
<line x1="1238.04" y1="1582.21" x2="1236.54" y2="1583.53" stroke="#6f8fc0" stroke-width="0.5" />
<line x1="1241.24" y1="1582.88" x2="1239.58" y2="1583.99" stroke="#6f8fc0" stroke-width="0.5" />
<line x1="1242.89" y1="1584.98" x2="1241.09" y2="1585.87" stroke="#6f8fc0" stroke-width="0.5" />
<line x1="1242.39" y1="1587.96" x2="1240.50" y2="1588.60" stroke="#6f8fc0" stroke-width="0.5" />
<line x1="1240.44" y1="1590.85" x2="1238.48" y2="1591.24" stroke="#6f8fc0" stroke-width="0.5" />
<line x1="1238.59" y1="1593.08" x2="1236.59" y2="1593.21" stroke="#6f8fc0" stroke-width="0.5" />
<path d="M1170.7,1600.2 L1170.8,1598.7 L1172.5,1584.5 L1172.8,1582.7 L1173.4,1581.0 L1174.2,1579.3 L1175.1,1577.8 L1176.3,1576.4 L1177.6,1575.2 L1179.0,1574.1 L1180.6,1573.3 L1182.3,1572.7 L1184.0,1572.4 L1185.7,1572.2 L1187.5,1572.4 L1189.2,1572.7 L1190.8,1573.3 L1192.4,1574.1 L1193.9,1575.2 L1195.2,1576.4 L1196.3,1577.8 L1197.3,1579.3 L1198.1,1581.0 L1198.6,1582.7 L1199.0,1584.5 L1199.1,1586.3 L1199.0,1588.2 L1198.6,1590.0 L1198.1,1591.8 L1197.3,1593.4 L1190.6,1605.8 L1189.8,1607.1 L1188.9,1608.2 L1187.8,1609.2 L1186.7,1610.0 L1185.4,1610.6 L1184.1,1611.1 L1182.7,1611.4 L1181.3,1611.5 L1180.0,1611.4 L1178.6,1611.1 L1177.2,1610.6 L1176.0,1610.0 L1174.8,1609.2 L1173.8,1608.2 L1172.9,1607.1 L1172.1,1605.8 L1171.5,1604.5 L1171.0,1603.1 L1170.8,1601.7 Z M1152.2,1608.9 L1152.3,1607.0 L1152.7,1605.1 L1153.3,1603.2 L1154.1,1601.5 L1155.1,1599.9 L1156.3,1598.4 L1157.7,1597.1 L1159.2,1596.0 L1160.9,1595.2 L1162.6,1594.5 L1164.4,1594.2 L1166.3,1594.0 L1168.1,1594.2 L1169.9,1594.5 L1185.3,1599.1 L1186.8,1599.6 L1188.2,1600.3 L1189.4,1601.2 L1190.6,1602.3 L1191.6,1603.5 L1192.4,1604.8 L1193.1,1606.3 L1193.6,1607.8 L1193.9,1609.4 L1194.0,1611.0 L1193.9,1612.6 L1193.6,1614.2 L1193.1,1615.7 L1192.4,1617.1 L1191.6,1618.5 L1190.6,1619.7 L1189.4,1620.7 L1188.2,1621.6 L1186.8,1622.3 L1185.3,1622.9 L1183.8,1623.2 L1182.3,1623.3 L1166.3,1623.8 L1164.4,1623.7 L1162.6,1623.3 L1160.9,1622.7 L1159.2,1621.8 L1157.7,1620.7 L1156.3,1619.4 L1155.1,1618.0 L1154.1,1616.4 L1153.3,1614.6 L1152.7,1612.8 L1152.3,1610.9 Z M1170.7,1600.2 L1170.8,1598.7 L1171.0,1597.3 L1171.5,1595.9 L1172.1,1594.6 L1172.9,1593.3 L1173.8,1592.2 L1174.8,1591.2 L1176.0,1590.4 L1177.2,1589.8 L1178.6,1589.3 L1180.0,1589.0 L1181.3,1588.9 L1182.7,1589.0 L1184.1,1589.3 L1185.4,1589.8 L1186.7,1590.4 L1187.8,1591.2 L1188.9,1592.2 L1189.8,1593.3 L1190.6,1594.6 L1191.2,1595.9 L1191.7,1597.3 L1192.0,1598.7 L1193.9,1609.4 L1194.0,1611.0 L1193.9,1612.6 L1193.6,1614.2 L1193.1,1615.7 L1192.4,1617.1 L1191.6,1618.5 L1190.6,1619.7 L1189.4,1620.7 L1188.2,1621.6 L1186.8,1622.3 L1185.3,1622.9 L1183.8,1623.2 L1182.3,1623.3 L1180.8,1623.2 L1179.3,1622.9 L1177.8,1622.3 L1176.5,1621.6 L1175.2,1620.7 L1174.1,1619.7 L1173.1,1618.5 L1172.2,1617.1 L1171.5,1615.7 L1171.0,1614.2 L1170.8,1612.6 L1170.7,1611.0 Z" fill="#7CB8A8" stroke="none" stroke-width="1" />
<path d="M1170.2,1598.2 L1170.3,1596.8 L1172.2,1582.6 L1172.5,1580.9 L1173.0,1579.3 L1173.7,1577.7 L1174.6,1576.3 L1175.7,1575.0 L1176.9,1573.9 L1178.3,1572.9 L1179.8,1572.2 L1181.3,1571.6 L1182.9,1571.3 L1184.5,1571.2 L1186.1,1571.3 L1187.7,1571.6 L1189.3,1572.2 L1190.7,1572.9 L1192.1,1573.9 L1193.3,1575.0 L1194.4,1576.3 L1195.3,1577.7 L1196.0,1579.3 L1196.5,1580.9 L1196.8,1582.6 L1196.9,1584.3 L1196.8,1586.0 L1196.5,1587.7 L1196.0,1589.3 L1195.3,1590.9 L1188.7,1603.4 L1188.0,1604.5 L1187.2,1605.6 L1186.2,1606.5 L1185.1,1607.2 L1183.9,1607.8 L1182.7,1608.3 L1181.4,1608.6 L1180.1,1608.7 L1178.8,1608.6 L1177.6,1608.3 L1176.3,1607.8 L1175.2,1607.2 L1174.1,1606.5 L1173.1,1605.6 L1172.2,1604.5 L1171.5,1603.4 L1170.9,1602.2 L1170.5,1600.9 L1170.3,1599.5 Z M1152.0,1606.9 L1152.1,1605.1 L1152.4,1603.3 L1153.0,1601.6 L1153.7,1600.0 L1154.7,1598.5 L1155.8,1597.1 L1157.1,1595.9 L1158.5,1594.9 L1160.0,1594.1 L1161.7,1593.5 L1163.3,1593.2 L1165.1,1593.0 L1166.8,1593.2 L1168.5,1593.5 L1183.9,1597.9 L1185.2,1598.3 L1186.5,1599.0 L1187.7,1599.8 L1188.8,1600.8 L1189.7,1602.0 L1190.5,1603.2 L1191.1,1604.5 L1191.6,1606.0 L1191.9,1607.4 L1192.0,1608.9 L1191.9,1610.4 L1191.6,1611.9 L1191.1,1613.3 L1190.5,1614.7 L1189.7,1615.9 L1188.8,1617.0 L1187.7,1618.0 L1186.5,1618.8 L1185.2,1619.5 L1183.9,1620.0 L1182.5,1620.3 L1181.1,1620.4 L1165.1,1620.7 L1163.3,1620.6 L1161.7,1620.2 L1160.0,1619.7 L1158.5,1618.8 L1157.1,1617.8 L1155.8,1616.7 L1154.7,1615.3 L1153.7,1613.8 L1153.0,1612.2 L1152.4,1610.5 L1152.1,1608.7 Z M1170.2,1598.2 L1170.3,1596.8 L1170.5,1595.4 L1170.9,1594.1 L1171.5,1592.9 L1172.2,1591.8 L1173.1,1590.7 L1174.1,1589.8 L1175.2,1589.1 L1176.3,1588.5 L1177.6,1588.0 L1178.8,1587.7 L1180.1,1587.7 L1181.4,1587.7 L1182.7,1588.0 L1183.9,1588.5 L1185.1,1589.1 L1186.2,1589.8 L1187.2,1590.7 L1188.0,1591.8 L1188.7,1592.9 L1189.3,1594.1 L1189.7,1595.4 L1190.0,1596.8 L1191.9,1607.4 L1192.0,1608.9 L1191.9,1610.4 L1191.6,1611.9 L1191.1,1613.3 L1190.5,1614.7 L1189.7,1615.9 L1188.8,1617.0 L1187.7,1618.0 L1186.5,1618.8 L1185.2,1619.5 L1183.9,1620.0 L1182.5,1620.3 L1181.1,1620.4 L1179.7,1620.3 L1178.3,1620.0 L1177.0,1619.5 L1175.7,1618.8 L1174.5,1618.0 L1173.4,1617.0 L1172.5,1615.9 L1171.7,1614.7 L1171.1,1613.3 L1170.6,1611.9 L1170.3,1610.4 L1170.3,1608.9 Z" fill="#97C9BC" stroke="none" stroke-width="1" />
<text x="1163.0" y="1607.5" font-size="12.60" fill="#111111" font-family="'Liberation Sans', Arial, sans-serif">Cas9</text>
<text x="1268.1" y="1548.2" font-size="11.36" fill="#111111" textLength="58.1" lengthAdjust="spacingAndGlyphs" font-family="'Liberation Sans', Arial, sans-serif">higher local</text>
<text x="1268.1" y="1561.2" font-size="11.52" fill="#111111" textLength="69.2" lengthAdjust="spacingAndGlyphs" font-family="'Liberation Sans', Arial, sans-serif">concentration</text>
<text x="1268.1" y="1574.3" font-size="11.39" fill="#111111" textLength="53.8" lengthAdjust="spacingAndGlyphs" font-family="'Liberation Sans', Arial, sans-serif">of cssDNA</text>
<line x1="1401.30" y1="1592.40" x2="1429.40" y2="1592.40" stroke="#1a1a1a" stroke-width="1.4" />
<path d="M1435.4,1592.4 L1426.9,1587.8 L1426.9,1597.0 Z" fill="#1a1a1a" stroke="none" stroke-width="1" />
<circle cx="1442.30" cy="1507.10" r="8.90" fill="#F9D4B0" stroke="#E5BC98" stroke-width="0.6" />
<circle cx="1442.30" cy="1507.10" r="4.30" fill="#F1A880" stroke="none" stroke-width="1" />
<circle cx="1490.50" cy="1503.60" r="8.90" fill="#DDF3DA" stroke="#C5E2C2" stroke-width="0.6" />
<circle cx="1490.50" cy="1503.60" r="4.30" fill="#ABD9A4" stroke="none" stroke-width="1" />
<circle cx="1508.20" cy="1502.20" r="8.90" fill="#F9D4B0" stroke="#E5BC98" stroke-width="0.6" />
<circle cx="1508.20" cy="1502.20" r="4.30" fill="#F1A880" stroke="none" stroke-width="1" />
<circle cx="1550.90" cy="1505.00" r="8.90" fill="#F9D4B0" stroke="#E5BC98" stroke-width="0.6" />
<circle cx="1550.90" cy="1505.00" r="4.30" fill="#F1A880" stroke="none" stroke-width="1" />
<circle cx="1481.20" cy="1519.10" r="8.90" fill="#F9D4B0" stroke="#E5BC98" stroke-width="0.6" />
<circle cx="1481.20" cy="1519.10" r="4.30" fill="#F1A880" stroke="none" stroke-width="1" />
<circle cx="1499.20" cy="1518.20" r="8.90" fill="#DDF3DA" stroke="#C5E2C2" stroke-width="0.6" />
<circle cx="1499.20" cy="1518.20" r="4.30" fill="#ABD9A4" stroke="none" stroke-width="1" />
<circle cx="1517.90" cy="1518.80" r="8.90" fill="#F9D4B0" stroke="#E5BC98" stroke-width="0.6" />
<circle cx="1517.90" cy="1518.80" r="4.30" fill="#F1A880" stroke="none" stroke-width="1" />
<circle cx="1464.10" cy="1527.90" r="8.90" fill="#F9D4B0" stroke="#E5BC98" stroke-width="0.6" />
<circle cx="1464.10" cy="1527.90" r="4.30" fill="#F1A880" stroke="none" stroke-width="1" />
<circle cx="1490.90" cy="1533.40" r="8.90" fill="#F9D4B0" stroke="#E5BC98" stroke-width="0.6" />
<circle cx="1490.90" cy="1533.40" r="4.30" fill="#F1A880" stroke="none" stroke-width="1" />
<circle cx="1508.20" cy="1532.70" r="8.90" fill="#F9D4B0" stroke="#E5BC98" stroke-width="0.6" />
<circle cx="1508.20" cy="1532.70" r="4.30" fill="#F1A880" stroke="none" stroke-width="1" />
<circle cx="1526.50" cy="1534.10" r="8.90" fill="#DDF3DA" stroke="#C5E2C2" stroke-width="0.6" />
<circle cx="1526.50" cy="1534.10" r="4.30" fill="#ABD9A4" stroke="none" stroke-width="1" />
<circle cx="1544.30" cy="1532.70" r="8.90" fill="#F9D4B0" stroke="#E5BC98" stroke-width="0.6" />
<circle cx="1544.30" cy="1532.70" r="4.30" fill="#F1A880" stroke="none" stroke-width="1" />
<circle cx="1562.30" cy="1532.70" r="8.90" fill="#F9D4B0" stroke="#E5BC98" stroke-width="0.6" />
<circle cx="1562.30" cy="1532.70" r="4.30" fill="#F1A880" stroke="none" stroke-width="1" />
<circle cx="1463.10" cy="1548.00" r="8.90" fill="#F9D4B0" stroke="#E5BC98" stroke-width="0.6" />
<circle cx="1463.10" cy="1548.00" r="4.30" fill="#F1A880" stroke="none" stroke-width="1" />
<circle cx="1481.60" cy="1548.70" r="8.90" fill="#DDF3DA" stroke="#C5E2C2" stroke-width="0.6" />
<circle cx="1481.60" cy="1548.70" r="4.30" fill="#ABD9A4" stroke="none" stroke-width="1" />
<circle cx="1499.60" cy="1550.10" r="8.90" fill="#DDF3DA" stroke="#C5E2C2" stroke-width="0.6" />
<circle cx="1499.60" cy="1550.10" r="4.30" fill="#ABD9A4" stroke="none" stroke-width="1" />
<circle cx="1517.60" cy="1550.10" r="8.90" fill="#F9D4B0" stroke="#E5BC98" stroke-width="0.6" />
<circle cx="1517.60" cy="1550.10" r="4.30" fill="#F1A880" stroke="none" stroke-width="1" />
<circle cx="1535.30" cy="1548.70" r="8.90" fill="#F9D4B0" stroke="#E5BC98" stroke-width="0.6" />
<circle cx="1535.30" cy="1548.70" r="4.30" fill="#F1A880" stroke="none" stroke-width="1" />
<circle cx="1554.30" cy="1548.70" r="8.90" fill="#DDF3DA" stroke="#C5E2C2" stroke-width="0.6" />
<circle cx="1554.30" cy="1548.70" r="4.30" fill="#ABD9A4" stroke="none" stroke-width="1" />
<circle cx="1428.40" cy="1568.80" r="8.90" fill="#DDF3DA" stroke="#C5E2C2" stroke-width="0.6" />
<circle cx="1428.40" cy="1568.80" r="4.30" fill="#ABD9A4" stroke="none" stroke-width="1" />
<circle cx="1472.10" cy="1563.20" r="8.90" fill="#DDF3DA" stroke="#C5E2C2" stroke-width="0.6" />
<circle cx="1472.10" cy="1563.20" r="4.30" fill="#ABD9A4" stroke="none" stroke-width="1" />
<circle cx="1490.90" cy="1566.00" r="8.90" fill="#F9D4B0" stroke="#E5BC98" stroke-width="0.6" />
<circle cx="1490.90" cy="1566.00" r="4.30" fill="#F1A880" stroke="none" stroke-width="1" />
<circle cx="1508.20" cy="1566.00" r="8.90" fill="#DDF3DA" stroke="#C5E2C2" stroke-width="0.6" />
<circle cx="1508.20" cy="1566.00" r="4.30" fill="#ABD9A4" stroke="none" stroke-width="1" />
<circle cx="1526.50" cy="1563.90" r="8.90" fill="#F9D4B0" stroke="#E5BC98" stroke-width="0.6" />
<circle cx="1526.50" cy="1563.90" r="4.30" fill="#F1A880" stroke="none" stroke-width="1" />
<circle cx="1544.30" cy="1563.20" r="8.90" fill="#DDF3DA" stroke="#C5E2C2" stroke-width="0.6" />
<circle cx="1544.30" cy="1563.20" r="4.30" fill="#ABD9A4" stroke="none" stroke-width="1" />
<circle cx="1566.20" cy="1563.20" r="8.90" fill="#DDF3DA" stroke="#C5E2C2" stroke-width="0.6" />
<circle cx="1566.20" cy="1563.20" r="4.30" fill="#ABD9A4" stroke="none" stroke-width="1" />
<circle cx="1463.10" cy="1579.20" r="8.90" fill="#F9D4B0" stroke="#E5BC98" stroke-width="0.6" />
<circle cx="1463.10" cy="1579.20" r="4.30" fill="#F1A880" stroke="none" stroke-width="1" />
<circle cx="1481.20" cy="1579.90" r="8.90" fill="#DDF3DA" stroke="#C5E2C2" stroke-width="0.6" />
<circle cx="1481.20" cy="1579.90" r="4.30" fill="#ABD9A4" stroke="none" stroke-width="1" />
<circle cx="1499.60" cy="1579.60" r="8.90" fill="#F9D4B0" stroke="#E5BC98" stroke-width="0.6" />
<circle cx="1499.60" cy="1579.60" r="4.30" fill="#F1A880" stroke="none" stroke-width="1" />
<circle cx="1517.90" cy="1581.30" r="8.90" fill="#DDF3DA" stroke="#C5E2C2" stroke-width="0.6" />
<circle cx="1517.90" cy="1581.30" r="4.30" fill="#ABD9A4" stroke="none" stroke-width="1" />
<circle cx="1536.70" cy="1579.20" r="8.90" fill="#F9D4B0" stroke="#E5BC98" stroke-width="0.6" />
<circle cx="1536.70" cy="1579.20" r="4.30" fill="#F1A880" stroke="none" stroke-width="1" />
<circle cx="1554.00" cy="1577.10" r="8.90" fill="#F9D4B0" stroke="#E5BC98" stroke-width="0.6" />
<circle cx="1554.00" cy="1577.10" r="4.30" fill="#F1A880" stroke="none" stroke-width="1" />
<circle cx="1569.00" cy="1591.00" r="8.90" fill="#F9D4B0" stroke="#E5BC98" stroke-width="0.6" />
<circle cx="1569.00" cy="1591.00" r="4.30" fill="#F1A880" stroke="none" stroke-width="1" />
<circle cx="1471.90" cy="1596.50" r="8.90" fill="#F9D4B0" stroke="#E5BC98" stroke-width="0.6" />
<circle cx="1471.90" cy="1596.50" r="4.30" fill="#F1A880" stroke="none" stroke-width="1" />
<circle cx="1490.50" cy="1597.20" r="8.90" fill="#F9D4B0" stroke="#E5BC98" stroke-width="0.6" />
<circle cx="1490.50" cy="1597.20" r="4.30" fill="#F1A880" stroke="none" stroke-width="1" />
<circle cx="1508.90" cy="1597.20" r="8.90" fill="#F9D4B0" stroke="#E5BC98" stroke-width="0.6" />
<circle cx="1508.90" cy="1597.20" r="4.30" fill="#F1A880" stroke="none" stroke-width="1" />
<circle cx="1527.40" cy="1595.20" r="8.90" fill="#DDF3DA" stroke="#C5E2C2" stroke-width="0.6" />
<circle cx="1527.40" cy="1595.20" r="4.30" fill="#ABD9A4" stroke="none" stroke-width="1" />
<circle cx="1544.30" cy="1594.50" r="8.90" fill="#F9D4B0" stroke="#E5BC98" stroke-width="0.6" />
<circle cx="1544.30" cy="1594.50" r="4.30" fill="#F1A880" stroke="none" stroke-width="1" />
<circle cx="1462.40" cy="1611.80" r="8.90" fill="#F9D4B0" stroke="#E5BC98" stroke-width="0.6" />
<circle cx="1462.40" cy="1611.80" r="4.30" fill="#F1A880" stroke="none" stroke-width="1" />
<circle cx="1481.20" cy="1611.80" r="8.90" fill="#DDF3DA" stroke="#C5E2C2" stroke-width="0.6" />
<circle cx="1481.20" cy="1611.80" r="4.30" fill="#ABD9A4" stroke="none" stroke-width="1" />
<circle cx="1499.90" cy="1611.10" r="8.90" fill="#DDF3DA" stroke="#C5E2C2" stroke-width="0.6" />
<circle cx="1499.90" cy="1611.10" r="4.30" fill="#ABD9A4" stroke="none" stroke-width="1" />
<circle cx="1517.60" cy="1612.10" r="8.90" fill="#F9D4B0" stroke="#E5BC98" stroke-width="0.6" />
<circle cx="1517.60" cy="1612.10" r="4.30" fill="#F1A880" stroke="none" stroke-width="1" />
<circle cx="1537.10" cy="1609.70" r="8.90" fill="#F9D4B0" stroke="#E5BC98" stroke-width="0.6" />
<circle cx="1537.10" cy="1609.70" r="4.30" fill="#F1A880" stroke="none" stroke-width="1" />
<circle cx="1555.10" cy="1609.00" r="8.90" fill="#DDF3DA" stroke="#C5E2C2" stroke-width="0.6" />
<circle cx="1555.10" cy="1609.00" r="4.30" fill="#ABD9A4" stroke="none" stroke-width="1" />
<circle cx="1441.60" cy="1627.30" r="8.90" fill="#F9D4B0" stroke="#E5BC98" stroke-width="0.6" />
<circle cx="1441.60" cy="1627.30" r="4.30" fill="#F1A880" stroke="none" stroke-width="1" />
<circle cx="1474.20" cy="1628.20" r="8.90" fill="#F9D4B0" stroke="#E5BC98" stroke-width="0.6" />
<circle cx="1474.20" cy="1628.20" r="4.30" fill="#F1A880" stroke="none" stroke-width="1" />
<circle cx="1491.80" cy="1627.30" r="8.90" fill="#F9D4B0" stroke="#E5BC98" stroke-width="0.6" />
<circle cx="1491.80" cy="1627.30" r="4.30" fill="#F1A880" stroke="none" stroke-width="1" />
<circle cx="1510.70" cy="1627.30" r="8.90" fill="#DDF3DA" stroke="#C5E2C2" stroke-width="0.6" />
<circle cx="1510.70" cy="1627.30" r="4.30" fill="#ABD9A4" stroke="none" stroke-width="1" />
<circle cx="1529.30" cy="1627.30" r="8.90" fill="#F9D4B0" stroke="#E5BC98" stroke-width="0.6" />
<circle cx="1529.30" cy="1627.30" r="4.30" fill="#F1A880" stroke="none" stroke-width="1" />
<circle cx="1598.40" cy="1623.60" r="8.90" fill="#F9D4B0" stroke="#E5BC98" stroke-width="0.6" />
<circle cx="1598.40" cy="1623.60" r="4.30" fill="#F1A880" stroke="none" stroke-width="1" />
<circle cx="1500.20" cy="1643.40" r="8.90" fill="#F9D4B0" stroke="#E5BC98" stroke-width="0.6" />
<circle cx="1500.20" cy="1643.40" r="4.30" fill="#F1A880" stroke="none" stroke-width="1" />
<circle cx="1518.60" cy="1652.70" r="8.90" fill="#DDF3DA" stroke="#C5E2C2" stroke-width="0.6" />
<circle cx="1518.60" cy="1652.70" r="4.30" fill="#ABD9A4" stroke="none" stroke-width="1" />
<circle cx="1477.40" cy="1657.60" r="8.90" fill="#F9D4B0" stroke="#E5BC98" stroke-width="0.6" />
<circle cx="1477.40" cy="1657.60" r="4.30" fill="#F1A880" stroke="none" stroke-width="1" />
<circle cx="1553.70" cy="1657.30" r="8.90" fill="#F9D4B0" stroke="#E5BC98" stroke-width="0.6" />
<circle cx="1553.70" cy="1657.30" r="4.30" fill="#F1A880" stroke="none" stroke-width="1" />
<text x="1495.2" y="1696.4" font-size="10.30" fill="#111111" font-family="'Liberation Sans', Arial, sans-serif">higher KI</text>
<text x="1494.4" y="1708.9" font-size="10.30" fill="#111111" font-family="'Liberation Sans', Arial, sans-serif">efficiency</text>
<text x="765.9" y="1724.1" font-size="15.54" fill="#000" font-weight="bold" textLength="122.7" lengthAdjust="spacingAndGlyphs" font-family="'Liberation Sans', Arial, sans-serif">enGager System</text>
</svg></body></html>
